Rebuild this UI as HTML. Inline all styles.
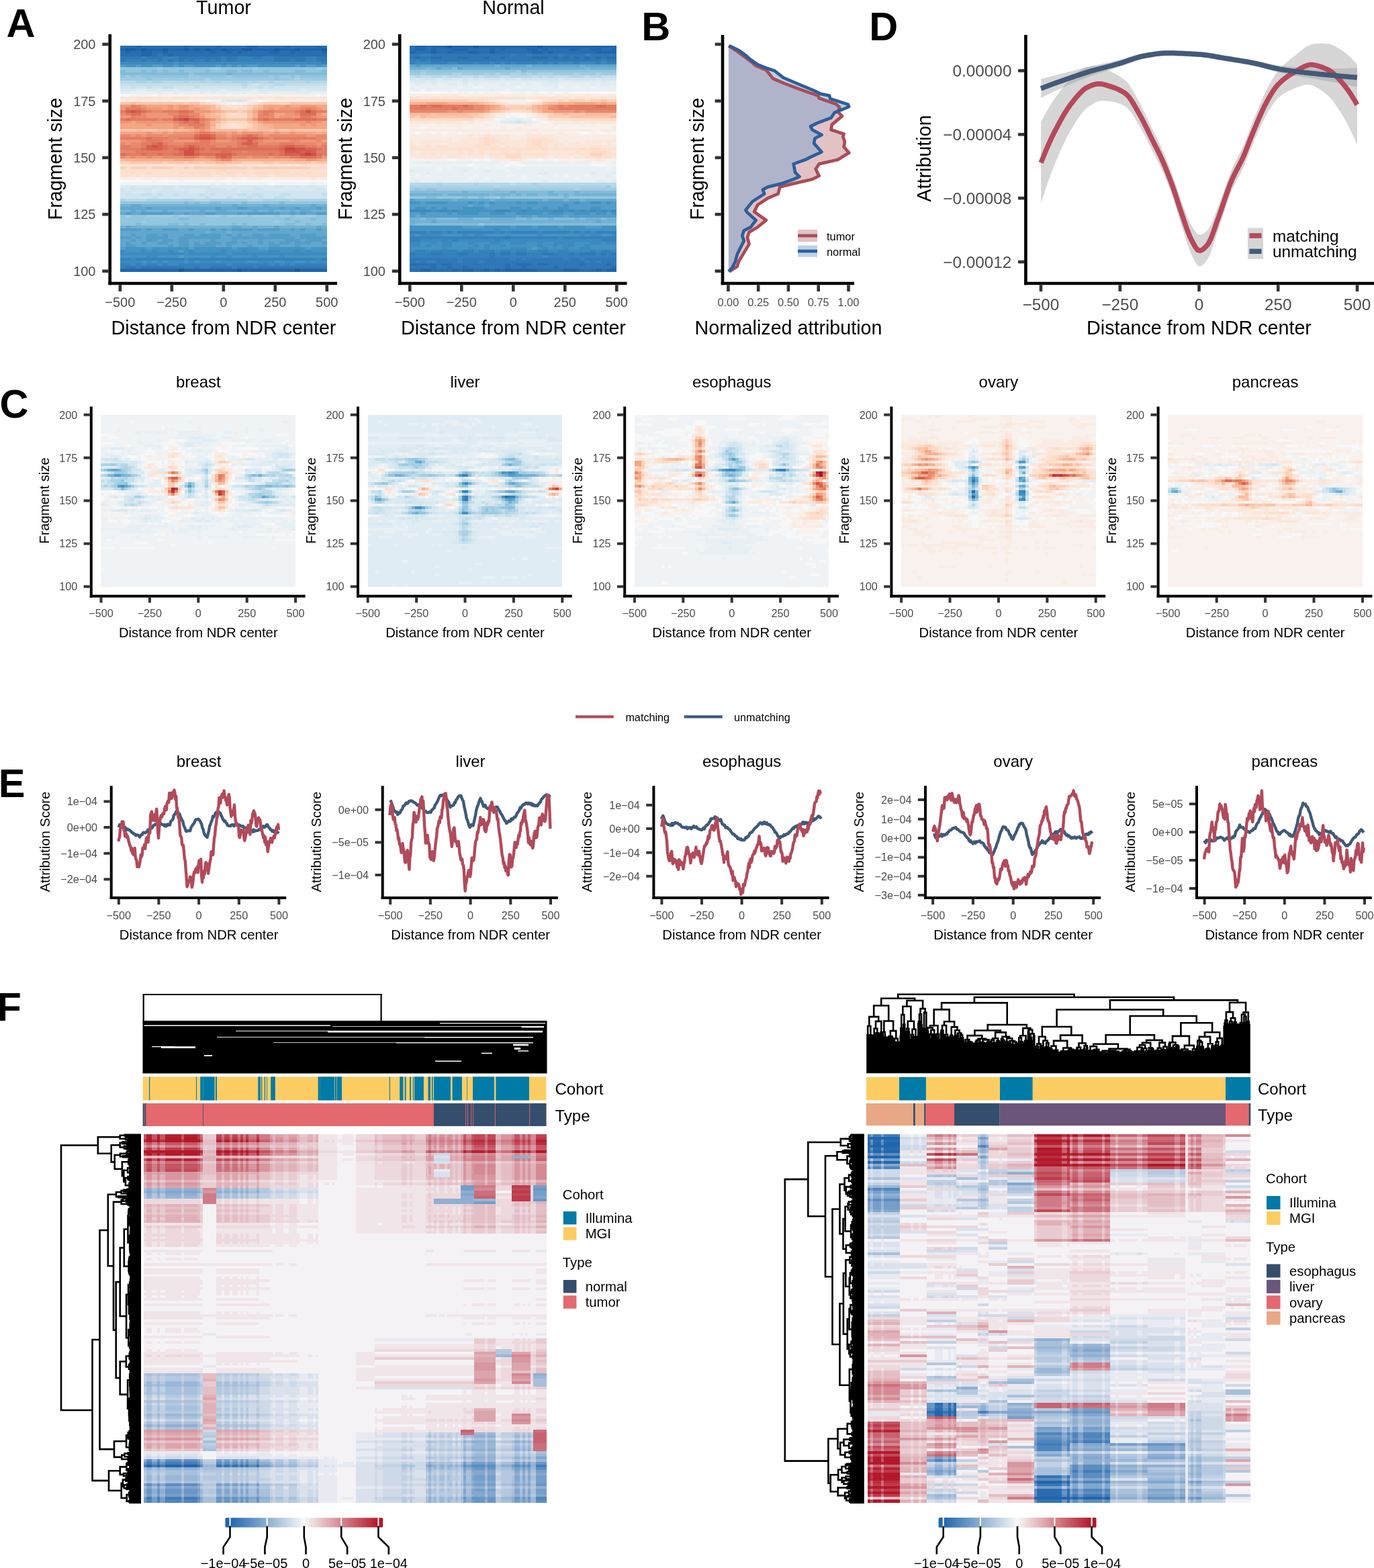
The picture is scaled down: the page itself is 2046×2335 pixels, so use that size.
<!DOCTYPE html><html><head><meta charset="utf-8"><title>Figure</title><style>html,body{margin:0;padding:0;background:#fff}svg{display:block}</style></head><body><svg width="2046" height="2335" viewBox="0 0 2046 2335" font-family="'Liberation Sans', Arial, Helvetica, sans-serif"><rect width="2046" height="2335" fill="#fff"/><g>
<rect x="179" y="68" width="308" height="337" fill="#92c5de"/>
<path stroke="#286fb1" stroke-width="4" d="M179 70h23M210 70h64M281 70h40M329 70h39M384 70h40M432 70h39M479 70h8M179 78h8M195 78h15M226 78h16M250 78h63M321 78h16M345 78h8M360 78h40M416 78h16M439 78h40M179 82h31M226 82h8M242 82h8M258 82h229"/>
<path stroke="#2166ac" stroke-width="4" d="M202 70h8M274 70h7M321 70h8M368 70h16M424 70h8M471 70h8M179 74h8M202 74h8M218 74h24M250 74h24M281 74h8M297 74h8M313 74h16M337 74h23M376 74h32M416 74h23M447 74h32M187 78h8M210 78h16M242 78h8M313 78h8M337 78h8M353 78h7M400 78h16M432 78h7M479 78h8M210 82h16M250 82h8"/>
<path stroke="#2166ac" stroke-width="5" d="M179 402.5h87M274 402.5h79M360 402.5h79M447 402.5h40"/>
<path stroke="#1b5b9d" stroke-width="4" d="M187 74h15M210 74h8M242 74h8M274 74h7M289 74h8M305 74h8M329 74h8M360 74h16M408 74h8M439 74h8M479 74h8"/>
<path stroke="#1b5b9d" stroke-width="5" d="M266 402.5h8M353 402.5h7M439 402.5h8"/>
<path stroke="#2f78b5" stroke-width="4" d="M234 82h8M179 86h31M218 86h24M266 86h63M337 86h16M376 86h16M408 86h47M471 86h16M179 90h8M210 90h8M234 90h8M250 90h8M266 90h8M281 90h8M305 90h8M321 90h8M337 90h16M408 90h24M439 90h16M471 90h16M187 398h15M210 398h64M289 398h8M313 398h32M353 398h23M384 398h103"/>
<path stroke="#3581ba" stroke-width="4" d="M210 86h8M242 86h24M329 86h8M353 86h23M392 86h16M455 86h16M187 90h23M218 90h16M242 90h8M258 90h8M274 90h7M289 90h16M313 90h8M329 90h8M353 90h55M432 90h7M455 90h16M479 94h8M179 386h16M202 386h72M281 386h190M479 386h8M179 394h16M202 394h8M218 394h16M242 394h8M266 394h71M345 394h55M408 394h8M424 394h8M439 394h48M179 398h8M202 398h8M274 398h15M297 398h16M345 398h8M376 398h8"/>
<path stroke="#3c8abe" stroke-width="4" d="M179 94h79M266 94h213M179 374h8M210 374h8M226 374h8M250 374h8M281 374h8M329 374h8M360 374h8M400 374h16M439 374h8M455 374h8M179 378h95M281 378h56M345 378h142M218 382h16M313 382h8M337 382h8M376 382h8M416 382h8M195 386h7M274 386h7M471 386h8M179 390h31M218 390h8M234 390h8M250 390h24M281 390h8M297 390h24M329 390h39M384 390h24M424 390h15M455 390h8M471 390h16M195 394h7M210 394h8M234 394h8M250 394h16M337 394h8M400 394h8M416 394h8M432 394h7"/>
<path stroke="#4393c3" stroke-width="4" d="M258 94h8M187 98h15M210 98h16M242 98h16M266 98h8M289 98h32M329 98h8M345 98h8M360 98h8M384 98h55M447 98h8M471 98h8M187 370h31M226 370h55M289 370h56M353 370h31M400 370h55M463 370h24M187 374h23M218 374h8M234 374h16M258 374h8M274 374h7M289 374h40M337 374h23M368 374h32M416 374h23M447 374h8M463 374h24M274 378h7M337 378h8M179 382h39M234 382h32M274 382h39M321 382h16M345 382h31M384 382h32M424 382h63M210 390h8M226 390h8M242 390h8M274 390h7M289 390h8M321 390h8M368 390h16M408 390h16M439 390h16M463 390h8"/>
<path stroke="#539dc8" stroke-width="4" d="M179 98h8M202 98h8M226 98h16M258 98h8M274 98h15M321 98h8M337 98h8M353 98h7M368 98h16M439 98h8M455 98h16M479 98h8M218 310h8M321 310h8M353 310h15M416 310h8M439 310h8M471 310h8M187 318h8M210 318h48M274 318h7M305 318h16M353 318h7M368 318h48M432 318h7M447 318h8M471 318h16M179 342h31M218 342h8M242 342h24M281 342h8M313 342h8M329 342h8M345 342h31M384 342h32M432 342h7M447 342h8M471 342h8M195 350h7M218 350h16M242 350h8M274 350h15M297 350h32M337 350h8M353 350h7M376 350h16M400 350h32M447 350h24M179 354h16M202 354h8M218 354h32M266 354h63M345 354h94M447 354h40M195 358h7M218 358h16M242 358h16M266 358h15M313 358h8M345 358h8M384 358h8M424 358h23M455 358h24M187 362h8M210 362h8M234 362h16M266 362h15M289 362h8M305 362h24M337 362h16M360 362h8M384 362h8M400 362h8M416 362h16M439 362h24M479 362h8M187 366h15M250 366h8M266 366h15M289 366h32M337 366h8M368 366h8M400 366h16M439 366h8M179 370h8M218 370h8M281 370h8M345 370h8M384 370h16M455 370h8M266 374h8M266 382h8"/>
<path stroke="#9fcbe2" stroke-width="4" d="M234 102h8M313 102h16M376 102h8M471 102h8M187 114h8M202 114h8M281 114h16M337 114h8M400 114h8M416 114h16M439 114h8M179 118h39M226 118h79M313 118h95M416 118h23M447 118h40M187 322h8M218 322h40M266 322h15M305 322h24M337 322h31M376 322h32M416 322h16M439 322h32M210 330h8M408 330h8"/>
<path stroke="#82bbd9" stroke-width="4" d="M179 106h8M210 106h8M226 106h8M242 106h8M266 106h8M305 106h8M337 106h16M360 106h16M392 106h8M439 106h16M479 106h8M179 110h102M289 110h48M345 110h142M274 302h7M289 302h8M313 302h16M360 302h8M416 302h8M266 326h15M424 326h8M463 326h8M439 330h8M202 334h8M250 334h16M274 334h7M297 334h8M345 334h8M360 334h8M424 334h15M455 334h8M479 334h8"/>
<path stroke="#72b1d3" stroke-width="4" d="M337 110h8M179 306h16M210 306h135M353 306h39M400 306h63M471 306h16M179 314h16M202 314h8M218 314h24M250 314h47M305 314h16M337 314h39M384 314h16M408 314h24M439 314h8M463 314h24M179 338h8M195 338h150M360 338h16M384 338h24M416 338h55M479 338h8M305 346h8M337 346h8"/>
<path stroke="#abd2e5" stroke-width="4" d="M305 118h8M439 118h8M202 122h16M226 122h16M274 122h7M297 122h8M321 122h8M345 122h23M376 122h8M400 122h8M455 122h8M179 298h8M218 298h71M313 298h55M392 298h40M439 298h48"/>
<path stroke="#b8d8e9" stroke-width="4" d="M179 122h23M218 122h8M242 122h32M281 122h16M305 122h16M329 122h16M368 122h8M384 122h16M408 122h47M463 122h24M360 126h8M408 126h16M187 298h31M289 298h24M368 298h24M432 298h7"/>
<path stroke="#c4dfec" stroke-width="4" d="M179 126h181M368 126h8M384 126h24M424 126h63M195 130h7M218 130h8M242 130h16M289 130h8M360 130h8M384 130h8M400 130h8M210 290h16M234 290h8M258 290h8M297 290h8M313 290h8M353 290h15M376 290h16M416 290h16M479 290h8M226 294h8M305 294h8M337 294h8M368 294h8M384 294h8M408 294h16"/>
<path stroke="#d1e5f0" stroke-width="4" d="M376 126h8M179 130h16M202 130h16M226 130h16M258 130h31M297 130h63M368 130h16M392 130h8M408 130h79M353 150h7M195 278h7M226 278h8M242 278h16M266 278h47M376 278h8M408 278h16M439 278h8M455 278h16M179 282h8M195 282h31M242 282h16M274 282h7M305 282h32M345 282h8M376 282h16M471 282h16M179 286h16M218 286h8M234 286h47M305 286h48M360 286h127M179 290h31M226 290h8M242 290h16M266 290h31M305 290h8M321 290h32M368 290h8M392 290h24M432 290h47M179 294h47M234 294h71M313 294h24M345 294h23M376 294h8M392 294h16M424 294h63"/>
<path stroke="#d9e9f1" stroke-width="4" d="M179 134h23M218 134h16M242 134h16M266 134h63M337 134h39M384 134h63M455 134h32M337 150h16M360 150h8M179 278h16M202 278h24M234 278h8M258 278h8M313 278h63M384 278h24M424 278h15M447 278h8M471 278h16M187 282h8M226 282h16M258 282h16M281 282h24M337 282h8M353 282h23M392 282h79M195 286h23M226 286h8M281 286h24M353 286h7"/>
<path stroke="#e0ecf3" stroke-width="4" d="M202 134h16M234 134h8M258 134h8M329 134h8M376 134h8M447 134h8M179 138h16M234 138h8M258 138h8M297 138h8M313 138h8M329 138h8M360 138h8M384 138h16M439 138h24M329 150h8"/>
<path stroke="#e8f0f4" stroke-width="4" d="M195 138h39M242 138h16M266 138h31M305 138h8M321 138h8M337 138h23M368 138h16M400 138h39M463 138h24M368 150h8M313 274h8M329 274h8M345 274h8M463 274h8"/>
<path stroke="#f7f7f7" stroke-width="4" d="M179 142h16M226 142h8M471 142h8M305 150h8M384 150h8M345 154h8M179 270h47M234 270h32M274 270h47M329 270h158M400 274h8"/>
<path stroke="#f8f1ed" stroke-width="4" d="M195 142h31M242 142h229M479 142h8M297 150h8M392 150h8M337 154h8M353 154h15M202 266h8M226 266h8M242 266h8M313 266h8M337 266h8M360 266h8M392 266h16M226 270h8M266 270h8M321 270h8"/>
<path stroke="#f9ece4" stroke-width="4" d="M234 142h8M179 150h8M195 150h7M210 150h24M242 150h8M258 150h39M400 150h87M329 154h8M179 266h23M210 266h16M234 266h8M250 266h63M321 266h16M345 266h15M368 266h24M408 266h55M471 266h16"/>
<path stroke="#fbe6da" stroke-width="4" d="M179 146h23M226 146h32M281 146h87M376 146h8M392 146h16M424 146h63M187 150h8M202 150h8M234 150h8M250 150h8M321 154h8M368 154h8M345 186h8M179 246h8M226 246h16M250 246h8M281 246h8M353 246h7M384 246h16M408 246h24M439 246h8M195 262h7M210 262h8M321 262h8M353 262h7M376 262h8M400 262h8M439 262h8M463 266h8"/>
<path stroke="#fce1d1" stroke-width="4" d="M202 146h24M258 146h23M368 146h8M384 146h8M408 146h16M313 154h8M376 154h8M337 158h23M345 162h8M345 170h8M337 186h8M353 186h7M337 190h23M187 246h39M242 246h8M258 246h23M289 246h32M337 246h16M360 246h24M400 246h8M432 246h7M447 246h40M179 254h142M337 254h71M416 254h71M179 258h16M202 258h16M226 258h40M274 258h7M289 258h8M313 258h8M329 258h8M353 258h7M368 258h8M400 258h8M432 258h7M447 258h8M463 258h24M179 262h16M202 262h8M218 262h103M329 262h24M360 262h16M384 262h16M408 262h31M447 262h40"/>
<path stroke="#eff3f6" stroke-width="4" d="M313 150h16M376 150h8M179 274h134M321 274h8M337 274h8M353 274h47M408 274h55M471 274h16"/>
<path stroke="#f9c5ab" stroke-width="4" d="M179 154h16M202 154h72M281 154h16M432 154h55M376 158h8M321 162h8M337 166h16M360 166h8M321 170h8M368 170h8M368 174h8M337 178h31M368 182h8M376 186h8M376 190h8M179 194h23M210 194h24M250 194h8M353 194h7M368 194h16M400 194h8M416 194h16M439 194h48M195 242h47M250 242h24M281 242h16M305 242h16M345 242h15M392 242h16M416 242h47M471 242h16"/>
<path stroke="#f8bb9e" stroke-width="4" d="M195 154h7M313 158h8M384 158h8M313 162h8M376 162h8M329 166h8M368 166h8M313 170h8M313 174h16M329 178h8M321 182h8M376 182h8M384 186h8M313 190h8M384 190h16M202 194h8M234 194h16M258 194h23M313 194h40M360 194h8M384 194h16M408 194h8M432 194h7M179 238h8M321 242h24"/>
<path stroke="#fbd0b9" stroke-width="4" d="M274 154h7M297 154h8M392 154h40M321 158h8M368 158h8M368 162h8M353 166h7M329 170h8M329 174h8M329 182h8M321 186h8M321 190h8M368 190h8M179 242h16M242 242h8M274 242h7M297 242h8M360 242h32M408 242h8M463 242h8M179 250h8M195 250h23M226 250h32M274 250h7M289 250h79M376 250h87"/>
<path stroke="#fddbc7" stroke-width="4" d="M305 154h8M384 154h8M329 158h8M360 158h8M329 162h16M353 162h15M337 170h8M353 170h15M337 174h31M337 182h31M329 186h8M360 186h16M329 190h8M360 190h8M321 246h16M187 250h8M218 250h8M258 250h16M281 250h8M368 250h8M463 250h24M321 254h16M408 254h8M195 258h7M218 258h8M266 258h8M281 258h8M297 258h16M321 258h8M337 258h16M360 258h8M376 258h24M408 258h24M439 258h8M455 258h8"/>
<path stroke="#ee9777" stroke-width="4" d="M179 158h16M210 158h8M250 158h8M266 158h15M424 158h8M447 158h24M179 162h8M218 162h24M250 162h8M266 162h15M289 162h8M400 162h8M416 162h31M471 162h8M289 166h24M218 170h32M424 170h15M471 170h8M179 174h16M218 174h40M297 174h8M416 174h31M471 174h16M313 178h8M376 178h8M179 182h16M202 182h56M305 182h8M392 182h63M463 182h16M218 186h8M258 186h8M305 186h8M447 186h8M463 186h8M258 190h8M274 190h15M305 190h8M297 194h8M218 198h8M242 198h8M258 198h31M321 198h16M345 198h8M360 198h32M408 198h8M432 198h7M195 202h7M210 202h8M242 202h8M337 202h8M392 202h8M455 202h16M179 210h31M258 210h31M321 210h24M392 210h40M447 210h24M187 214h8M471 214h8M187 234h8M202 234h16M226 234h16M297 234h8M368 234h8M400 234h8M479 234h8M321 238h8M455 238h16"/>
<path stroke="#e27c62" stroke-width="4" d="M195 158h7M187 162h23M455 162h8M179 166h8M218 166h8M242 166h24M281 166h8M392 166h16M439 166h8M471 166h16M187 170h8M266 170h15M392 170h8M195 174h7M258 174h8M281 174h8M447 174h16M179 178h8M195 178h39M242 178h16M297 178h8M384 178h8M400 178h39M471 178h16M266 182h8M281 182h8M281 186h24M289 190h8M297 198h16M360 202h8M376 202h8M179 206h39M226 206h24M266 206h23M321 206h16M345 206h8M392 206h8M408 206h63M218 210h24M297 210h16M353 210h15M376 210h8M210 214h16M242 214h8M274 214h39M353 214h7M416 214h23M179 218h16M210 218h8M250 218h24M297 218h24M337 218h8M353 218h15M384 218h32M455 218h16M479 218h8M179 222h31M250 222h8M305 222h8M479 222h8M202 226h64M297 226h32M345 226h15M368 226h48M471 226h16M187 230h23M218 230h16M242 230h16M353 230h47M408 230h8M479 230h8M274 234h15M432 234h15M471 234h8"/>
<path stroke="#e8896d" stroke-width="4" d="M202 158h8M210 162h8M447 162h8M463 162h8M226 166h16M384 166h8M408 166h31M179 170h8M210 170h8M250 170h16M281 170h16M384 170h8M400 170h8M439 170h8M202 174h16M289 174h8M384 174h24M463 174h8M234 178h8M305 178h8M258 182h8M297 182h8M455 182h8M266 186h15M297 190h8M289 198h8M313 198h8M179 202h16M202 202h8M218 202h24M250 202h39M321 202h16M345 202h15M384 202h8M400 202h55M471 202h16M250 206h16M337 206h8M400 206h8M471 206h16M210 210h8M242 210h16M289 210h8M313 210h8M345 210h8M384 210h8M432 210h15M471 210h8M179 214h8M195 214h15M250 214h24M313 214h40M384 214h32M439 214h32M479 214h8M195 218h15M321 218h16M345 218h8M471 218h8M179 226h23M360 226h8M179 234h8M195 234h7M218 234h8M242 234h32M289 234h8M305 234h16M345 234h23M376 234h24M408 234h24M329 238h16"/>
<path stroke="#f4a582" stroke-width="4" d="M218 158h32M258 158h8M281 158h8M392 158h32M432 158h15M471 158h16M242 162h8M258 162h8M281 162h8M297 162h8M392 162h8M408 162h8M479 162h8M313 166h8M376 166h8M297 170h8M408 170h16M479 170h8M408 174h8M195 182h7M384 182h8M479 182h8M179 186h39M226 186h32M408 186h39M455 186h8M471 186h16M179 190h79M266 190h8M408 190h79M289 194h8M305 194h8M179 198h39M226 198h16M250 198h8M337 198h8M353 198h7M392 198h16M416 198h16M439 198h32M479 198h8M479 210h8M258 238h31M313 238h8M345 238h8M439 238h16M471 238h8"/>
<path stroke="#f6b090" stroke-width="4" d="M289 158h24M305 162h8M384 162h8M321 166h8M305 170h8M376 170h8M305 174h8M376 174h8M321 178h8M368 178h8M313 182h8M313 186h8M392 186h16M400 190h8M281 194h8M471 198h8M187 238h71M289 238h24M353 238h86M479 238h8"/>
<path stroke="#d6604d" stroke-width="4" d="M187 166h8M202 166h8M258 178h8M281 178h16M297 202h16M289 206h8M313 206h8M360 206h24M368 210h8M234 214h8M360 214h16M218 218h8M234 218h8M281 218h8M424 218h15M218 222h24M266 222h15M289 222h8M416 222h8M455 222h16M447 226h8M463 226h8M289 230h8M321 230h24M424 230h23M329 234h8"/>
<path stroke="#cf5246" stroke-width="4" d="M195 166h7M455 166h8M266 178h8M297 206h16M226 218h8M281 222h8M439 222h16M274 226h15M424 226h23M455 226h8M274 230h15M447 230h8M463 230h8"/>
<path stroke="#dc6e58" stroke-width="4" d="M210 166h8M266 166h15M447 166h8M463 166h8M195 170h15M447 170h24M266 174h15M187 178h8M392 178h8M439 178h32M274 182h7M289 182h8M289 202h8M313 202h8M368 202h8M218 206h8M353 206h7M384 206h8M226 214h8M376 214h8M242 218h8M274 218h7M289 218h8M368 218h16M416 218h8M439 218h16M210 222h8M242 222h8M258 222h8M297 222h8M313 222h103M471 222h8M266 226h8M289 226h8M329 226h16M416 226h8M179 230h8M210 230h8M234 230h8M258 230h16M297 230h24M345 230h8M400 230h8M416 230h8M471 230h8M321 234h8M337 234h8M447 234h24"/>
<path stroke="#c8433f" stroke-width="4" d="M274 178h7M424 222h15M455 230h8"/>
<path stroke="#63a7ce" stroke-width="4" d="M195 306h15M345 306h8M392 306h8M463 306h8M179 310h39M226 310h95M329 310h24M368 310h48M424 310h15M447 310h24M479 310h8M195 314h7M210 314h8M242 314h8M297 314h8M321 314h16M376 314h8M400 314h8M432 314h7M447 314h16M179 318h8M195 318h15M258 318h16M281 318h24M321 318h32M360 318h8M416 318h16M439 318h8M455 318h16M187 338h8M345 338h15M376 338h8M408 338h8M471 338h8M210 342h8M226 342h16M266 342h15M289 342h24M321 342h8M337 342h8M376 342h8M416 342h16M439 342h8M455 342h16M479 342h8M179 346h126M313 346h24M345 346h142M179 350h16M202 350h16M234 350h8M250 350h24M289 350h8M329 350h8M345 350h8M360 350h16M392 350h8M432 350h15M471 350h16M195 354h7M210 354h8M250 354h16M329 354h16M439 354h8M179 358h16M202 358h16M234 358h8M258 358h8M281 358h32M321 358h24M353 358h31M392 358h32M447 358h8M479 358h8M179 362h8M195 362h15M218 362h16M250 362h16M281 362h8M297 362h8M329 362h8M353 362h7M368 362h16M392 362h8M408 362h8M432 362h7M463 362h16M179 366h8M202 366h48M258 366h8M281 366h8M321 366h16M345 366h23M376 366h24M416 366h23M447 366h40"/>
</g>
<path d="M163.7 51L163.7 424.3" stroke="#000" stroke-width="4.6"/>
<path d="M161.4 422L502 422" stroke="#000" stroke-width="4.6"/>
<path d="M152.3 65.9L161.4 65.9" stroke="#333" stroke-width="4.6"/>
<text x="142.5" y="73.1" font-size="20" text-anchor="end" fill="#4d4d4d">200</text>
<path d="M152.3 150.4L161.4 150.4" stroke="#333" stroke-width="4.6"/>
<text x="142.5" y="157.6" font-size="20" text-anchor="end" fill="#4d4d4d">175</text>
<path d="M152.3 234.8L161.4 234.8" stroke="#333" stroke-width="4.6"/>
<text x="142.5" y="242" font-size="20" text-anchor="end" fill="#4d4d4d">150</text>
<path d="M152.3 319.2L161.4 319.2" stroke="#333" stroke-width="4.6"/>
<text x="142.5" y="326.4" font-size="20" text-anchor="end" fill="#4d4d4d">125</text>
<path d="M152.3 403.7L161.4 403.7" stroke="#333" stroke-width="4.6"/>
<text x="142.5" y="410.9" font-size="20" text-anchor="end" fill="#4d4d4d">100</text>
<path d="M178.8 424.3L178.8 434" stroke="#333" stroke-width="4.6"/>
<text x="178.8" y="457" font-size="20" text-anchor="middle" fill="#4d4d4d">−500</text>
<path d="M255.8 424.3L255.8 434" stroke="#333" stroke-width="4.6"/>
<text x="255.8" y="457" font-size="20" text-anchor="middle" fill="#4d4d4d">−250</text>
<path d="M332.8 424.3L332.8 434" stroke="#333" stroke-width="4.6"/>
<text x="332.8" y="457" font-size="20" text-anchor="middle" fill="#4d4d4d">0</text>
<path d="M409.8 424.3L409.8 434" stroke="#333" stroke-width="4.6"/>
<text x="409.8" y="457" font-size="20" text-anchor="middle" fill="#4d4d4d">250</text>
<path d="M486.8 424.3L486.8 434" stroke="#333" stroke-width="4.6"/>
<text x="486.8" y="457" font-size="20" text-anchor="middle" fill="#4d4d4d">500</text>
<text x="333" y="497.6" font-size="28.7" text-anchor="middle">Distance from NDR center</text>
<text transform="translate(92.3 236.5) rotate(-90)" font-size="28.7" text-anchor="middle">Fragment size</text>
<text x="333" y="20.6" font-size="28.7" text-anchor="middle">Tumor</text>
<g>
<rect x="610" y="68" width="308" height="337" fill="#e8f0f4"/>
<path stroke="#286fb1" stroke-width="4" d="M610 70h8M634 70h8M610 74h8M634 74h8M650 74h23M697 74h32M737 74h8M752 74h32M800 74h8M816 74h31M863 74h16M895 74h15M618 78h24M650 78h16M673 78h24M713 78h16M737 78h55M808 78h8M824 78h63M618 86h8M642 86h16M681 86h16M721 86h8M745 86h7M792 86h24M824 86h7M839 86h8M855 86h8M871 86h8M887 86h8M903 86h15M610 394h40M658 394h15M752 394h8M768 394h24M800 394h16M863 394h8M903 394h7M642 398h8M666 398h7M689 398h8M752 398h8M776 398h8M824 398h7M910 398h8"/>
<path stroke="#286fb1" stroke-width="5" d="M610 402.5h16M642 402.5h31M681 402.5h8M705 402.5h16M729 402.5h8M745 402.5h7M800 402.5h39M863 402.5h24M895 402.5h8"/>
<path stroke="#2166ac" stroke-width="4" d="M618 70h16M642 70h24M673 70h32M713 70h87M808 70h110M618 74h16M642 74h8M673 74h24M729 74h8M745 74h7M784 74h16M808 74h8M847 74h16M879 74h16M910 74h8M610 78h8M642 78h8M666 78h7M697 78h16M729 78h8M792 78h16M816 78h8M887 78h31"/>
<path stroke="#2166ac" stroke-width="5" d="M626 402.5h16M673 402.5h8M689 402.5h16M721 402.5h8M737 402.5h8M752 402.5h48M839 402.5h24M887 402.5h8M903 402.5h15"/>
<path stroke="#1b5b9d" stroke-width="4" d="M666 70h7M705 70h8M800 70h8"/>
<path stroke="#2f78b5" stroke-width="4" d="M610 82h16M642 82h118M768 82h16M792 82h39M839 82h32M879 82h39M610 86h8M626 86h16M658 86h23M697 86h24M729 86h16M752 86h40M816 86h8M831 86h8M847 86h8M863 86h8M879 86h8M895 86h8M626 90h8M642 90h253M903 90h15M752 354h8M610 378h8M642 378h16M681 378h16M729 378h8M745 378h15M768 378h16M808 378h16M847 378h8M863 378h24M895 378h8M910 378h8M729 382h8M610 386h71M689 386h71M768 386h8M784 386h55M847 386h16M871 386h47M610 390h8M626 390h8M650 390h31M689 390h24M721 390h150M879 390h8M895 390h23M650 394h8M673 394h79M760 394h8M792 394h8M816 394h47M871 394h32M910 394h8M610 398h32M650 398h16M673 398h16M697 398h55M760 398h16M784 398h40M831 398h79"/>
<path stroke="#3581ba" stroke-width="4" d="M626 82h16M760 82h8M784 82h8M831 82h8M871 82h8M610 90h16M634 90h8M895 90h8M610 94h8M642 94h24M681 94h24M713 94h16M737 94h8M752 94h8M768 94h32M808 94h8M824 94h7M855 94h8M887 94h8M903 94h15M610 346h24M642 346h16M666 346h7M681 346h56M745 346h7M760 346h40M808 346h39M855 346h8M871 346h8M887 346h31M610 354h142M760 354h71M839 354h79M610 358h16M658 358h8M673 358h8M737 358h8M895 358h23M618 374h16M642 374h39M689 374h16M713 374h24M745 374h15M768 374h16M800 374h16M831 374h16M879 374h8M895 374h15M618 378h24M658 378h23M697 378h32M737 378h8M760 378h8M784 378h24M824 378h23M855 378h8M887 378h8M903 378h7M610 382h119M737 382h71M816 382h102M681 386h8M760 386h8M776 386h8M839 386h8M863 386h8M618 390h8M634 390h16M681 390h8M713 390h8M871 390h8M887 390h8"/>
<path stroke="#3c8abe" stroke-width="4" d="M618 94h24M666 94h15M705 94h8M729 94h8M745 94h7M760 94h8M800 94h8M816 94h8M831 94h24M863 94h24M895 94h8M610 314h32M650 314h16M673 314h8M737 314h23M776 314h8M824 314h15M847 314h8M863 314h8M879 314h8M895 314h8M910 314h8M737 342h8M634 346h8M658 346h8M673 346h8M737 346h8M752 346h8M800 346h8M847 346h8M863 346h8M879 346h8M610 350h8M626 350h32M689 350h8M705 350h16M800 350h8M863 350h8M879 350h16M910 350h8M831 354h8M626 358h32M666 358h7M681 358h56M745 358h150M610 362h16M642 362h8M658 362h15M697 362h8M729 362h16M760 362h24M800 362h8M824 362h31M879 362h16M903 362h15M610 366h16M634 366h8M658 366h15M705 366h8M721 366h8M745 366h7M800 366h8M824 366h7M839 366h16M871 366h8M658 370h8M697 370h8M721 370h8M760 370h24M808 370h8M839 370h8M863 370h16M610 374h8M634 374h8M681 374h8M705 374h8M737 374h8M760 374h8M784 374h16M816 374h15M847 374h32M887 374h8M910 374h8M808 382h8"/>
<path stroke="#63a7ce" stroke-width="4" d="M610 98h8M626 98h111M745 98h39M792 98h71M871 98h47M650 102h8M681 102h8M752 102h8M618 298h55M681 298h48M737 298h71M816 298h23M847 298h16M871 298h47M697 306h8M721 306h8M618 322h8M768 322h8M792 322h8M839 322h8M642 330h8M887 330h8"/>
<path stroke="#539dc8" stroke-width="4" d="M618 98h8M610 298h8M626 302h8M666 302h31M705 302h8M721 302h8M737 302h31M776 302h8M800 302h55M863 302h16M895 302h8M910 302h8M610 306h87M705 306h16M729 306h110M847 306h71M610 310h8M634 310h8M650 310h8M666 310h23M721 310h39M776 310h8M792 310h16M816 310h15M847 310h32M895 310h23M610 318h16M634 318h32M673 318h8M713 318h16M752 318h16M808 318h8M839 318h16M879 318h8M903 318h7M610 322h8M626 322h142M776 322h16M800 322h39M847 322h71M689 338h32M760 338h8M792 338h8M831 338h8M871 338h24M792 370h8"/>
<path stroke="#72b1d3" stroke-width="4" d="M737 98h8M784 98h8M863 98h8M610 102h24M642 102h8M658 102h15M689 102h63M760 102h111M879 102h39M689 286h8M760 286h8M816 286h8M855 286h8M610 290h48M666 290h63M737 290h23M768 290h8M784 290h16M816 290h15M839 290h8M855 290h63M673 298h8M729 298h8M808 298h8M839 298h8M863 298h8M610 326h16M634 326h16M681 326h24M729 326h39M784 326h8M816 326h8M855 326h8M871 326h24M903 326h15M610 330h32M650 330h237M895 330h23M610 334h8"/>
<path stroke="#82bbd9" stroke-width="4" d="M634 102h8M673 102h8M871 102h8M776 106h8M610 286h79M697 286h63M768 286h48M824 286h31M863 286h55M658 290h8M729 290h8M760 290h8M776 290h8M800 290h16M831 290h8M847 290h8M634 294h16M689 294h8M713 294h8M745 294h7M839 294h8M626 326h8M650 326h31M705 326h24M768 326h16M792 326h24M824 326h31M863 326h8M895 326h8M618 334h95M721 334h197"/>
<path stroke="#92c5de" stroke-width="4" d="M610 106h16M634 106h134M784 106h134M618 282h8M634 282h16M737 282h8M610 294h24M650 294h39M697 294h16M721 294h16M752 294h87M847 294h71M713 334h8"/>
<path stroke="#9fcbe2" stroke-width="4" d="M626 106h8M768 106h8M610 110h16M634 110h39M689 110h32M729 110h8M745 110h15M776 110h8M792 110h8M824 110h31M863 110h24M895 110h23M903 278h7M610 282h8M626 282h8M650 282h87M745 282h110M863 282h55M737 294h8"/>
<path stroke="#abd2e5" stroke-width="4" d="M626 110h8M673 110h16M721 110h8M737 110h8M760 110h16M784 110h8M800 110h24M855 110h8M887 110h8M650 274h8M705 274h8M792 274h8M610 278h127M745 278h158M855 282h8"/>
<path stroke="#c4dfec" stroke-width="4" d="M610 114h8M626 114h16M658 114h8M689 114h16M713 114h8M745 114h15M792 114h8M808 114h8M824 114h23M871 114h8M895 114h23M760 274h8"/>
<path stroke="#b8d8e9" stroke-width="4" d="M618 114h8M642 114h16M666 114h23M705 114h8M721 114h24M760 114h32M800 114h8M816 114h8M847 114h24M879 114h16M610 274h40M658 274h47M713 274h47M768 274h24M800 274h118M737 278h8M910 278h8"/>
<path stroke="#d1e5f0" stroke-width="4" d="M610 118h8M626 118h24M658 118h15M689 118h8M705 118h8M721 118h24M752 118h16M776 118h55M839 118h48M895 118h23M768 182h8"/>
<path stroke="#d9e9f1" stroke-width="4" d="M618 118h8M650 118h8M673 118h16M697 118h8M713 118h8M745 118h7M768 118h8M831 118h8M887 118h8M618 122h16M642 122h8M689 122h8M816 122h15M895 122h8M760 182h8M776 182h8"/>
<path stroke="#e0ecf3" stroke-width="4" d="M610 122h8M634 122h8M650 122h39M697 122h119M831 122h64M903 122h15M618 126h8M642 126h8M666 126h15M689 126h8M705 126h8M745 126h7M760 126h16M784 126h8M808 126h23M879 126h8M895 126h23M824 130h7M634 134h8M729 134h8M776 134h8M768 178h8M745 182h15M784 182h8M634 242h8M610 254h8M689 254h8M721 254h8M634 258h8M800 258h16M879 258h8M910 258h8M903 262h7M610 270h16M650 270h8M705 270h8M729 270h8M808 270h8M887 270h16M910 270h8"/>
<path stroke="#eff3f6" stroke-width="4" d="M618 130h8M681 130h8M705 130h16M768 130h8M831 130h8M855 130h8M879 130h8M626 134h8M673 134h8M752 134h8M666 138h7M681 138h16M705 138h8M721 138h24M760 138h24M792 138h8M816 138h8M839 138h8M752 150h32M760 174h8M745 178h7M729 182h16M800 182h8M745 242h15M768 242h8M847 242h8M879 242h31M610 246h87M705 246h47M760 246h8M784 246h95M903 246h15M650 250h8M666 250h7M705 250h8M721 250h8M737 250h15M768 250h8M903 250h7M650 254h8M752 254h8M618 262h8M634 262h8M705 262h8M752 262h16M776 262h8M800 262h8M824 262h7M839 262h8M871 262h8M697 266h8M721 266h8M776 266h8M855 266h8"/>
<path stroke="#f7f7f7" stroke-width="4" d="M610 138h56M673 138h8M697 138h8M713 138h8M745 138h15M784 138h8M800 138h16M824 138h15M847 138h71M784 150h8M760 170h24M752 174h8M768 174h16M737 178h8M792 178h8M808 182h8M626 190h8M824 190h7M618 198h8M642 198h8M658 198h8M681 198h8M863 198h16M887 198h16M910 198h8M666 238h15M705 238h8M721 238h8M800 238h8M824 238h7M760 242h8M697 246h8M752 246h8M768 246h16M879 246h24"/>
<path stroke="#f9ece4" stroke-width="4" d="M610 142h63M681 142h8M697 142h87M792 142h24M824 142h47M879 142h39M737 150h8M800 150h8M760 154h24M737 170h15M792 170h8M737 174h15M792 174h8M729 178h8M808 178h8M689 182h8M705 182h16M824 182h31M863 182h8M610 186h16M650 186h8M666 186h23M721 186h8M776 186h16M808 186h8M824 186h7M863 186h8M879 186h8M681 190h8M745 190h7M768 190h8M910 190h8M610 194h182M800 194h87M895 194h23M721 198h8M784 198h8M800 198h8M831 198h8M610 202h48M666 202h31M705 202h8M760 202h24M824 202h94M610 206h56M673 206h16M760 206h16M831 206h87M618 210h8M673 210h8M831 210h8M847 210h24M618 214h8M642 214h24M839 214h8M863 214h8M895 214h8M910 214h8M618 226h8M610 234h8M658 234h8M689 234h8M721 234h8M816 234h8M847 234h8M737 238h23M776 238h8M871 238h16M895 238h8"/>
<path stroke="#fbe6da" stroke-width="4" d="M673 142h8M871 142h8M626 146h8M784 146h16M831 146h8M847 146h8M871 146h8M903 146h7M729 150h8M752 154h8M784 154h8M800 174h8M705 178h24M610 182h79M697 182h8M855 182h8M871 182h47M792 194h8M697 202h8M713 202h8M729 202h31M784 202h40M666 206h7M689 206h24M737 206h23M776 206h16M816 206h15M610 210h8M626 210h47M681 210h32M745 210h39M824 210h7M839 210h8M871 210h47M610 214h8M626 214h16M666 214h47M737 214h8M752 214h32M816 214h23M847 214h16M871 214h24M903 214h7M618 218h16M642 218h8M666 218h39M745 218h7M760 218h24M816 218h8M831 218h48M895 218h23M705 222h8M610 226h8M626 226h55M689 226h8M705 226h8M721 226h24M760 226h8M776 226h79M863 226h8M910 226h8M610 230h16M634 230h8M650 230h31M689 230h8M705 230h8M721 230h8M816 230h31M855 230h8M618 234h40M666 234h23M697 234h24M729 234h23M776 234h40M824 234h23M855 234h16M910 234h8M760 238h16M887 238h8"/>
<path stroke="#f8f1ed" stroke-width="4" d="M689 142h8M784 142h8M816 142h8M745 150h7M792 150h8M752 170h8M784 170h8M784 174h8M800 178h8M721 182h8M816 182h8M626 186h24M658 186h8M689 186h32M729 186h47M792 186h16M816 186h8M831 186h32M871 186h8M887 186h31M610 190h16M634 190h47M689 190h56M752 190h16M776 190h48M831 190h79M887 194h8M610 198h8M626 198h16M650 198h8M666 198h15M689 198h32M729 198h55M792 198h8M808 198h23M839 198h24M879 198h8M903 198h7M658 202h8M610 238h56M681 238h24M713 238h8M729 238h8M784 238h16M808 238h16M831 238h40M903 238h15"/>
<path stroke="#fce1d1" stroke-width="4" d="M610 146h16M634 146h150M800 146h31M839 146h8M855 146h16M879 146h24M910 146h8M721 150h8M808 150h16M745 154h7M792 154h8M760 166h16M729 170h8M800 170h8M729 174h8M808 174h8M816 178h31M721 202h8M713 206h8M729 206h8M792 206h24M713 210h8M737 210h8M784 210h8M808 210h16M713 214h8M729 214h8M745 214h7M784 214h8M808 214h8M610 218h8M634 218h8M650 218h16M705 218h40M752 218h8M784 218h16M808 218h8M824 218h7M879 218h16M610 222h95M713 222h16M737 222h71M816 222h47M871 222h8M895 222h23M681 226h8M697 226h8M713 226h8M745 226h15M768 226h8M855 226h8M871 226h8M903 226h7M626 230h8M642 230h8M681 230h8M697 230h8M713 230h8M729 230h23M776 230h40M847 230h8M863 230h16M903 230h15M871 234h16M895 234h15"/>
<path stroke="#fbd0b9" stroke-width="4" d="M610 150h87M831 150h8M847 150h24M879 150h16M903 150h15M729 154h8M752 158h40M760 162h24M745 166h7M713 170h8M816 170h8M618 174h8M705 174h16M816 174h31M879 230h16"/>
<path stroke="#fddbc7" stroke-width="4" d="M697 150h24M824 150h7M839 150h8M871 150h8M737 154h8M800 154h8M752 166h8M776 166h16M721 170h8M808 170h8M721 174h8M610 178h95M847 178h71M721 206h8M721 210h16M792 210h16M721 214h8M792 214h16M800 218h8M729 222h8M808 222h8M863 222h8M879 222h16M879 226h24M752 230h24M895 230h8M752 234h24M887 234h8"/>
<path stroke="#f9c5ab" stroke-width="4" d="M895 150h8M721 154h8M808 154h8M745 158h7M752 162h8M784 162h8M737 166h8M792 166h8M642 170h8M697 170h16M824 170h15M847 170h24M910 170h8M610 174h8M634 174h71M847 174h63"/>
<path stroke="#f6b090" stroke-width="4" d="M610 154h24M666 154h47M831 154h24M887 154h8M903 154h15M737 158h8M800 158h8M737 162h8M800 162h8"/>
<path stroke="#f4a582" stroke-width="4" d="M634 154h32M855 154h32M895 154h8M729 158h8M808 158h8M729 162h8M808 162h8M721 166h8M808 166h16"/>
<path stroke="#f8bb9e" stroke-width="4" d="M713 154h8M816 154h15M792 158h8M745 162h7M792 162h8M729 166h8M800 166h8M610 170h32M650 170h47M839 170h8M871 170h39M626 174h8M910 174h8"/>
<path stroke="#e27c62" stroke-width="4" d="M610 158h16M634 158h8M658 158h31M697 158h8M831 158h8M847 158h40M903 158h15M610 162h63M681 162h24M831 162h87"/>
<path stroke="#dc6e58" stroke-width="4" d="M626 158h8M642 158h16M689 158h8M887 158h16M673 162h8"/>
<path stroke="#e8896d" stroke-width="4" d="M705 158h16M824 158h7M839 158h8M705 162h16M816 162h15M610 166h56M681 166h8M855 166h8M871 166h47"/>
<path stroke="#ee9777" stroke-width="4" d="M721 158h8M816 158h8M721 162h8M666 166h15M689 166h32M824 166h31M863 166h8"/>
<path stroke="#4393c3" stroke-width="4" d="M610 302h16M634 302h32M697 302h8M713 302h8M729 302h8M768 302h8M784 302h16M855 302h8M879 302h16M903 302h7M839 306h8M618 310h16M642 310h8M658 310h8M689 310h32M760 310h16M784 310h8M808 310h8M831 310h16M879 310h16M642 314h8M666 314h7M681 314h56M760 314h16M784 314h40M839 314h8M855 314h8M871 314h8M887 314h8M903 314h7M626 318h8M666 318h7M681 318h32M729 318h23M768 318h40M816 318h23M855 318h24M887 318h16M910 318h8M610 338h79M721 338h39M768 338h24M800 338h31M839 338h32M895 338h23M610 342h127M745 342h173M618 350h8M658 350h31M697 350h8M721 350h79M808 350h55M871 350h8M895 350h15M626 362h16M650 362h8M673 362h24M705 362h24M745 362h15M784 362h16M808 362h16M855 362h24M895 362h8M626 366h8M642 366h16M673 366h32M713 366h8M729 366h16M752 366h48M808 366h16M831 366h8M855 366h16M879 366h39M610 370h48M666 370h31M705 370h16M729 370h31M784 370h8M800 370h8M816 370h23M847 370h16M879 370h39"/>
</g>
<path d="M595.2 51L595.2 424.3" stroke="#000" stroke-width="4.6"/>
<path d="M592.9 422L933.5 422" stroke="#000" stroke-width="4.6"/>
<path d="M583.8 65.9L592.9 65.9" stroke="#333" stroke-width="4.6"/>
<text x="574" y="73.1" font-size="20" text-anchor="end" fill="#4d4d4d">200</text>
<path d="M583.8 150.4L592.9 150.4" stroke="#333" stroke-width="4.6"/>
<text x="574" y="157.6" font-size="20" text-anchor="end" fill="#4d4d4d">175</text>
<path d="M583.8 234.8L592.9 234.8" stroke="#333" stroke-width="4.6"/>
<text x="574" y="242" font-size="20" text-anchor="end" fill="#4d4d4d">150</text>
<path d="M583.8 319.2L592.9 319.2" stroke="#333" stroke-width="4.6"/>
<text x="574" y="326.4" font-size="20" text-anchor="end" fill="#4d4d4d">125</text>
<path d="M583.8 403.7L592.9 403.7" stroke="#333" stroke-width="4.6"/>
<text x="574" y="410.9" font-size="20" text-anchor="end" fill="#4d4d4d">100</text>
<path d="M610.3 424.3L610.3 434" stroke="#333" stroke-width="4.6"/>
<text x="610.3" y="457" font-size="20" text-anchor="middle" fill="#4d4d4d">−500</text>
<path d="M687.3 424.3L687.3 434" stroke="#333" stroke-width="4.6"/>
<text x="687.3" y="457" font-size="20" text-anchor="middle" fill="#4d4d4d">−250</text>
<path d="M764.3 424.3L764.3 434" stroke="#333" stroke-width="4.6"/>
<text x="764.3" y="457" font-size="20" text-anchor="middle" fill="#4d4d4d">0</text>
<path d="M841.3 424.3L841.3 434" stroke="#333" stroke-width="4.6"/>
<text x="841.3" y="457" font-size="20" text-anchor="middle" fill="#4d4d4d">250</text>
<path d="M918.3 424.3L918.3 434" stroke="#333" stroke-width="4.6"/>
<text x="918.3" y="457" font-size="20" text-anchor="middle" fill="#4d4d4d">500</text>
<text x="764.5" y="497.6" font-size="28.7" text-anchor="middle">Distance from NDR center</text>
<text transform="translate(523.8 236.5) rotate(-90)" font-size="28.7" text-anchor="middle">Fragment size</text>
<text x="764.5" y="20.6" font-size="28.7" text-anchor="middle">Normal</text>
<text x="9.5" y="54.6" font-size="59.5" font-weight="bold">A</text>
<path d="M1084.9 68.2 1084.9 68.2 1097.7 76.3 1107.8 83.9 1118 91.5 1125.6 97.9 1140.9 104.3 1151.1 117 1168.9 124.6 1189.2 132.2 1207 138.6 1218.4 142.4 1219.7 146.2 1245.1 155.1 1250.2 159.7 1247.7 166.6 1254 172.9 1238.8 185.6 1237.5 193.3 1256.6 199.6 1255.3 203.4 1257.9 211.1 1256.6 218.7 1264.2 227.6 1247.7 237.8 1219.7 244.1 1214.6 251.7 1219.7 261.9 1209.5 267 1181.6 273.4 1161.2 278.4 1158.7 288.6 1143.4 295 1128.2 305.1 1123.1 315.3 1140.9 328 1128.2 338.2 1115.5 345.8 1112.9 353.5 1115.5 363.6 1107.8 376.4 1100.2 389.1 1097.7 396.7 1086.2 404.3 1084.9 404.3Z" fill="#e2c2c5"/>
<path d="M1084.9 68.2 1086.2 68.2 1100.2 75 1109.1 81.4 1118 89 1128.2 96.1 1140.9 101.2 1153.6 105.5 1166.3 115.7 1191.7 126.4 1212.1 134.8 1222.3 139.9 1235 142.4 1236.2 147 1262.9 155.6 1264.2 158.9 1255.3 162.7 1242.6 167.8 1237.5 175.5 1217.2 183.1 1207 188.2 1209.5 193.3 1223.5 200.9 1213.4 206 1212.1 213.6 1223.5 226.3 1207 233.9 1199.4 237.8 1181.6 244.1 1184.1 256.8 1190.5 263.2 1181.6 267 1163.8 273.4 1143.4 278.4 1135.8 282.3 1138.3 288.6 1120.5 300.1 1110.4 312.8 1112.9 316.6 1125.6 328 1118 338.2 1107.8 343.3 1105.3 350.9 1107.8 358.6 1102.7 368.7 1097.7 378.9 1095.1 389.1 1090 399.2 1084.9 404.3 1084.9 404.3Z" fill="#7ca6d1" fill-opacity="0.5"/>
<path d="M1084.9 68.2 1097.7 76.3 1107.8 83.9 1118 91.5 1125.6 97.9 1140.9 104.3 1151.1 117 1168.9 124.6 1189.2 132.2 1207 138.6 1218.4 142.4 1219.7 146.2 1245.1 155.1 1250.2 159.7 1247.7 166.6 1254 172.9 1238.8 185.6 1237.5 193.3 1256.6 199.6 1255.3 203.4 1257.9 211.1 1256.6 218.7 1264.2 227.6 1247.7 237.8 1219.7 244.1 1214.6 251.7 1219.7 261.9 1209.5 267 1181.6 273.4 1161.2 278.4 1158.7 288.6 1143.4 295 1128.2 305.1 1123.1 315.3 1140.9 328 1128.2 338.2 1115.5 345.8 1112.9 353.5 1115.5 363.6 1107.8 376.4 1100.2 389.1 1097.7 396.7 1086.2 404.3" fill="none" stroke="#a84c58" stroke-width="4.7" stroke-linejoin="round"/>
<path d="M1086.2 68.2 1100.2 75 1109.1 81.4 1118 89 1128.2 96.1 1140.9 101.2 1153.6 105.5 1166.3 115.7 1191.7 126.4 1212.1 134.8 1222.3 139.9 1235 142.4 1236.2 147 1262.9 155.6 1264.2 158.9 1255.3 162.7 1242.6 167.8 1237.5 175.5 1217.2 183.1 1207 188.2 1209.5 193.3 1223.5 200.9 1213.4 206 1212.1 213.6 1223.5 226.3 1207 233.9 1199.4 237.8 1181.6 244.1 1184.1 256.8 1190.5 263.2 1181.6 267 1163.8 273.4 1143.4 278.4 1135.8 282.3 1138.3 288.6 1120.5 300.1 1110.4 312.8 1112.9 316.6 1125.6 328 1118 338.2 1107.8 343.3 1105.3 350.9 1107.8 358.6 1102.7 368.7 1097.7 378.9 1095.1 389.1 1090 399.2 1084.9 404.3" fill="none" stroke="#2f5e9a" stroke-width="4.7" stroke-linejoin="round"/>
<path d="M1076 52L1076 424.3" stroke="#000" stroke-width="4.6"/>
<path d="M1073.7 422L1272 422" stroke="#000" stroke-width="4.6"/>
<path d="M1064.6 65.9L1073.7 65.9" stroke="#333" stroke-width="4.6"/>
<path d="M1064.6 150.4L1073.7 150.4" stroke="#333" stroke-width="4.6"/>
<path d="M1064.6 234.8L1073.7 234.8" stroke="#333" stroke-width="4.6"/>
<path d="M1064.6 319.2L1073.7 319.2" stroke="#333" stroke-width="4.6"/>
<path d="M1064.6 403.7L1073.7 403.7" stroke="#333" stroke-width="4.6"/>
<path d="M1084.4 424.3L1084.4 434" stroke="#333" stroke-width="4.6"/>
<text x="1084.4" y="455.8" font-size="16.4" text-anchor="middle" fill="#4d4d4d">0.00</text>
<path d="M1129.2 424.3L1129.2 434" stroke="#333" stroke-width="4.6"/>
<text x="1129.2" y="455.8" font-size="16.4" text-anchor="middle" fill="#4d4d4d">0.25</text>
<path d="M1174 424.3L1174 434" stroke="#333" stroke-width="4.6"/>
<text x="1174" y="455.8" font-size="16.4" text-anchor="middle" fill="#4d4d4d">0.50</text>
<path d="M1218.7 424.3L1218.7 434" stroke="#333" stroke-width="4.6"/>
<text x="1218.7" y="455.8" font-size="16.4" text-anchor="middle" fill="#4d4d4d">0.75</text>
<path d="M1263.5 424.3L1263.5 434" stroke="#333" stroke-width="4.6"/>
<text x="1263.5" y="455.8" font-size="16.4" text-anchor="middle" fill="#4d4d4d">1.00</text>
<text x="1174" y="497.6" font-size="28.7" text-anchor="middle">Normalized attribution</text>
<text transform="translate(1048.3 236.5) rotate(-90)" font-size="28.7" text-anchor="middle">Fragment size</text>
<rect x="1188" y="342" width="29" height="18" fill="#e2c2c5"/>
<path d="M1188 351L1217 351" stroke="#a84c58" stroke-width="4.7"/>
<rect x="1188" y="365.4" width="29" height="17.3" fill="#7ca6d1" fill-opacity="0.5"/>
<path d="M1188 374L1217 374" stroke="#2f5e9a" stroke-width="4.7"/>
<text x="1231" y="357.8" font-size="16.4">tumor</text>
<text x="1231" y="380.8" font-size="16.4">normal</text>
<text x="955.3" y="59.8" font-size="59.5" font-weight="bold">B</text>
<path d="M1550.1 181.8 1554.1 174.3 1558 167 1562 160.1 1565.9 153.6 1569.9 147.5 1573.9 141.9 1577.8 136.4 1581.8 131.1 1585.7 126.1 1589.7 121.5 1593.6 117.5 1597.6 114 1601.5 110.5 1605.5 107.2 1609.5 104.2 1613.4 101.8 1617.4 100.1 1621.3 99.3 1625.3 98.7 1629.2 98.3 1633.2 98.4 1637.2 99.1 1641.1 100.4 1645.1 102 1649 104 1653 106 1656.9 107.9 1660.9 110 1664.8 112.2 1668.8 114.7 1672.8 117.5 1676.7 120.7 1680.7 125.1 1684.6 130.9 1688.6 137.7 1692.5 145 1696.5 152.2 1700.4 159.6 1704.4 167.7 1708.4 176 1712.3 184.5 1716.3 192.8 1720.2 200.8 1724.2 208.6 1728.1 216.8 1732.1 225.7 1736.1 235.3 1740 245.3 1744 255.6 1747.9 266.4 1751.9 278 1755.8 289.7 1759.8 300.9 1763.7 311.4 1767.7 321.8 1771.7 331 1775.6 337.9 1779.6 344.4 1783.5 349.1 1787.5 349.9 1791.4 348.1 1795.4 345.2 1799.3 341.6 1803.3 334.8 1807.3 325.2 1811.2 314.5 1815.2 304.3 1819.1 293.8 1823.1 282.5 1827 271.2 1831 260.3 1835 250.6 1838.9 242.2 1842.9 234.6 1846.8 227.1 1850.8 218.7 1854.7 209.2 1858.7 198.9 1862.6 188.4 1866.6 178.4 1870.6 168.8 1874.5 159.2 1878.5 149.9 1882.4 141.1 1886.4 133 1890.3 125.7 1894.3 118.7 1898.2 112.3 1902.2 106.8 1906.2 102.3 1910.1 98.2 1914.1 94.4 1918 90.9 1922 87.6 1925.9 84.5 1929.9 81.4 1933.9 78.2 1937.8 74.9 1941.8 71.8 1945.7 69.2 1949.7 67.2 1953.6 65.9 1957.6 65.2 1961.5 64.8 1965.5 64.7 1969.5 64.8 1973.4 65 1977.4 65.3 1981.3 66.1 1985.3 67.6 1989.2 69.6 1993.2 72 1997.2 74.5 2001.1 77.1 2005.1 80 2009 83.5 2013 87.3 2016.9 91.5 2020.9 96 2020.9 215.9 2016.9 206.7 2013 198 2009 189.8 2005.1 182.1 2001.1 175.2 1997.2 168.7 1993.2 162.4 1989.2 156.5 1985.3 151.1 1981.3 146.3 1977.4 142.3 1973.4 139.1 1969.5 136.1 1965.5 133.2 1961.5 130.7 1957.6 128.6 1953.6 127 1949.7 126 1945.7 125.9 1941.8 126.6 1937.8 127.8 1933.9 129.2 1929.9 130.8 1925.9 132.3 1922 133.9 1918 135.8 1914.1 138 1910.1 140.5 1906.2 143.5 1902.2 147 1898.2 151.5 1894.3 156.9 1890.3 163.1 1886.4 169.7 1882.4 177 1878.5 185.2 1874.5 194 1870.6 203 1866.6 212.1 1862.6 221.7 1858.7 231.8 1854.7 241.8 1850.8 251 1846.8 259.1 1842.9 266.5 1838.9 273.9 1835 282.2 1831 292.1 1827 303.2 1823.1 315.1 1819.1 327.3 1815.2 339 1811.2 350.8 1807.3 363.5 1803.3 375.3 1799.3 384.3 1795.4 389.9 1791.4 394.3 1787.5 396.8 1783.5 395.9 1779.6 390.3 1775.6 382.2 1771.7 373.3 1767.7 361.9 1763.7 349.3 1759.8 336.9 1755.8 324.1 1751.9 311.2 1747.9 298.9 1744 287.6 1740 277 1736.1 266.9 1732.1 257.4 1728.1 248.6 1724.2 240.6 1720.2 233.1 1716.3 225.4 1712.3 217.5 1708.4 209.4 1704.4 201.5 1700.4 193.9 1696.5 187.1 1692.5 180.4 1688.6 173.8 1684.6 167.7 1680.7 162.7 1676.7 159.1 1672.8 156.9 1668.8 155 1664.8 153.6 1660.9 152.6 1656.9 151.8 1653 151.1 1649 150.6 1645.1 150.2 1641.1 150.1 1637.2 150.5 1633.2 151.6 1629.2 153.5 1625.3 155.9 1621.3 158.6 1617.4 161.7 1613.4 165.8 1609.5 170.7 1605.5 176.3 1601.5 182.3 1597.6 188.7 1593.6 195.2 1589.7 202.4 1585.7 210.2 1581.8 218.7 1577.8 227.6 1573.9 236.8 1569.9 246.4 1565.9 256.6 1562 267.3 1558 278.6 1554.1 290.4 1550.1 302.7Z" fill="#999" fill-opacity="0.4"/>
<path d="M1550.1 117.4 1554.1 116.4 1558 115.4 1562 114.4 1565.9 113.4 1569.9 112.4 1573.9 111.4 1577.8 110.4 1581.8 109.4 1585.7 108.4 1589.7 107.4 1593.6 106.4 1597.6 105.3 1601.5 104.3 1605.5 103.3 1609.5 102.3 1613.4 101.3 1617.4 100.3 1621.3 99.4 1625.3 98.4 1629.2 97.5 1633.2 96.7 1637.2 95.8 1641.1 95 1645.1 94.1 1649 93.3 1653 92.4 1656.9 91.5 1660.9 90.6 1664.8 89.6 1668.8 88.6 1672.8 87.4 1676.7 86.2 1680.7 85 1684.6 83.7 1688.6 82.5 1692.5 81.4 1696.5 80.3 1700.4 79.4 1704.4 78.7 1708.4 78 1712.3 77.4 1716.3 76.8 1720.2 76.2 1724.2 75.7 1728.1 75.3 1732.1 75 1736.1 74.9 1740 74.9 1744 74.9 1747.9 75 1751.9 75.2 1755.8 75.3 1759.8 75.5 1763.7 75.7 1767.7 75.9 1771.7 76.1 1775.6 76.3 1779.6 76.6 1783.5 76.8 1787.5 77.1 1791.4 77.5 1795.4 77.9 1799.3 78.5 1803.3 79.1 1807.3 79.7 1811.2 80.4 1815.2 81.1 1819.1 81.8 1823.1 82.5 1827 83.1 1831 83.7 1835 84.3 1838.9 84.9 1842.9 85.5 1846.8 86.2 1850.8 86.8 1854.7 87.4 1858.7 88.1 1862.6 88.8 1866.6 89.5 1870.6 90.2 1874.5 91 1878.5 91.9 1882.4 92.8 1886.4 93.8 1890.3 94.7 1894.3 95.5 1898.2 96.3 1902.2 97.1 1906.2 97.7 1910.1 98.2 1914.1 98.7 1918 99.1 1922 99.5 1925.9 99.8 1929.9 100.1 1933.9 100.4 1937.8 100.6 1941.8 100.9 1945.7 101.1 1949.7 101.3 1953.6 101.5 1957.6 101.6 1961.5 101.8 1965.5 101.9 1969.5 101.9 1973.4 102 1977.4 102.1 1981.3 102.1 1985.3 102.1 1989.2 102.1 1993.2 102.1 1997.2 102 2001.1 101.9 2005.1 101.9 2009 101.7 2013 101.6 2016.9 101.5 2020.9 101.3 2020.9 129.6 2016.9 128.8 2013 128 2009 127.2 2005.1 126.4 2001.1 125.6 1997.2 124.8 1993.2 124.1 1989.2 123.3 1985.3 122.6 1981.3 121.8 1977.4 121.1 1973.4 120.4 1969.5 119.7 1965.5 119 1961.5 118.3 1957.6 117.6 1953.6 116.9 1949.7 116.2 1945.7 115.6 1941.8 114.9 1937.8 114.2 1933.9 113.5 1929.9 112.9 1925.9 112.2 1922 111.5 1918 110.8 1914.1 110 1910.1 109.3 1906.2 108.5 1902.2 107.6 1898.2 106.6 1894.3 105.6 1890.3 104.5 1886.4 103.4 1882.4 102.3 1878.5 101.3 1874.5 100.2 1870.6 99.3 1866.6 98.4 1862.6 97.6 1858.7 96.8 1854.7 96 1850.8 95.3 1846.8 94.6 1842.9 93.9 1838.9 93.3 1835 92.6 1831 92 1827 91.3 1823.1 90.6 1819.1 90 1815.2 89.2 1811.2 88.5 1807.3 87.8 1803.3 87.2 1799.3 86.6 1795.4 86 1791.4 85.6 1787.5 85.2 1783.5 84.9 1779.6 84.7 1775.6 84.4 1771.7 84.2 1767.7 84 1763.7 83.8 1759.8 83.6 1755.8 83.4 1751.9 83.3 1747.9 83.2 1744 83.2 1740 83.1 1736.1 83.2 1732.1 83.3 1728.1 83.7 1724.2 84.1 1720.2 84.7 1716.3 85.4 1712.3 86.1 1708.4 86.9 1704.4 87.6 1700.4 88.5 1696.5 89.5 1692.5 90.7 1688.6 92 1684.6 93.4 1680.7 94.9 1676.7 96.3 1672.8 97.8 1668.8 99.2 1664.8 100.5 1660.9 101.8 1656.9 103 1653 104.2 1649 105.4 1645.1 106.6 1641.1 107.8 1637.2 109.1 1633.2 110.3 1629.2 111.6 1625.3 113 1621.3 114.4 1617.4 115.9 1613.4 117.4 1609.5 119 1605.5 120.6 1601.5 122.2 1597.6 123.9 1593.6 125.6 1589.7 127.3 1585.7 129 1581.8 130.8 1577.8 132.5 1573.9 134.4 1569.9 136.2 1565.9 138.1 1562 140 1558 142 1554.1 143.9 1550.1 146Z" fill="#999" fill-opacity="0.4"/>
<path d="M1550.1 242.3 1554.1 232.4 1558 222.8 1562 213.7 1565.9 205.1 1569.9 197 1573.9 189.4 1577.8 182 1581.8 174.9 1585.7 168.2 1589.7 162 1593.6 156.4 1597.6 151.3 1601.5 146.4 1605.5 141.7 1609.5 137.5 1613.4 133.8 1617.4 130.9 1621.3 129 1625.3 127.3 1629.2 125.9 1633.2 125 1637.2 124.8 1641.1 125.2 1645.1 126.1 1649 127.3 1653 128.6 1656.9 129.9 1660.9 131.3 1664.8 132.9 1668.8 134.9 1672.8 137.2 1676.7 139.9 1680.7 143.9 1684.6 149.3 1688.6 155.8 1692.5 162.7 1696.5 169.7 1700.4 176.8 1704.4 184.6 1708.4 192.7 1712.3 201 1716.3 209.1 1720.2 216.9 1724.2 224.6 1728.1 232.7 1732.1 241.6 1736.1 251.1 1740 261.1 1744 271.6 1747.9 282.6 1751.9 294.6 1755.8 306.9 1759.8 318.9 1763.7 330.3 1767.7 341.9 1771.7 352.2 1775.6 360 1779.6 367.4 1783.5 372.5 1787.5 373.3 1791.4 371.2 1795.4 367.5 1799.3 362.9 1803.3 355 1807.3 344.3 1811.2 332.7 1815.2 321.7 1819.1 310.5 1823.1 298.8 1827 287.2 1831 276.2 1835 266.4 1838.9 258.1 1842.9 250.5 1846.8 243.1 1850.8 234.9 1854.7 225.5 1858.7 215.3 1862.6 205.1 1866.6 195.3 1870.6 185.9 1874.5 176.6 1878.5 167.6 1882.4 159.1 1886.4 151.4 1890.3 144.4 1894.3 137.8 1898.2 131.9 1902.2 126.9 1906.2 122.9 1910.1 119.3 1914.1 116.2 1918 113.3 1922 110.7 1925.9 108.4 1929.9 106.1 1933.9 103.7 1937.8 101.3 1941.8 99.2 1945.7 97.6 1949.7 96.6 1953.6 96.5 1957.6 96.9 1961.5 97.8 1965.5 99 1969.5 100.4 1973.4 102.1 1977.4 103.8 1981.3 106.2 1985.3 109.3 1989.2 113 1993.2 117.2 1997.2 121.6 2001.1 126.1 2005.1 131.1 2009 136.6 2013 142.7 2016.9 149.1 2020.9 156" fill="none" stroke="#b5495b" stroke-width="7.5" stroke-linejoin="round"/>
<path d="M1550.1 131.7 1554.1 130.2 1558 128.7 1562 127.2 1565.9 125.7 1569.9 124.3 1573.9 122.9 1577.8 121.5 1581.8 120.1 1585.7 118.7 1589.7 117.3 1593.6 116 1597.6 114.6 1601.5 113.3 1605.5 111.9 1609.5 110.6 1613.4 109.4 1617.4 108.1 1621.3 106.9 1625.3 105.7 1629.2 104.6 1633.2 103.5 1637.2 102.4 1641.1 101.4 1645.1 100.4 1649 99.3 1653 98.3 1656.9 97.3 1660.9 96.2 1664.8 95.1 1668.8 93.9 1672.8 92.6 1676.7 91.3 1680.7 89.9 1684.6 88.6 1688.6 87.3 1692.5 86 1696.5 84.9 1700.4 83.9 1704.4 83.1 1708.4 82.4 1712.3 81.7 1716.3 81.1 1720.2 80.4 1724.2 79.9 1728.1 79.5 1732.1 79.2 1736.1 79 1740 79 1744 79.1 1747.9 79.1 1751.9 79.2 1755.8 79.4 1759.8 79.5 1763.7 79.7 1767.7 79.9 1771.7 80.1 1775.6 80.4 1779.6 80.6 1783.5 80.9 1787.5 81.1 1791.4 81.5 1795.4 82 1799.3 82.5 1803.3 83.1 1807.3 83.8 1811.2 84.5 1815.2 85.2 1819.1 85.9 1823.1 86.6 1827 87.2 1831 87.8 1835 88.5 1838.9 89.1 1842.9 89.7 1846.8 90.4 1850.8 91.1 1854.7 91.7 1858.7 92.4 1862.6 93.2 1866.6 93.9 1870.6 94.7 1874.5 95.6 1878.5 96.6 1882.4 97.6 1886.4 98.6 1890.3 99.6 1894.3 100.6 1898.2 101.5 1902.2 102.3 1906.2 103.1 1910.1 103.7 1914.1 104.4 1918 104.9 1922 105.5 1925.9 106 1929.9 106.5 1933.9 107 1937.8 107.4 1941.8 107.9 1945.7 108.3 1949.7 108.8 1953.6 109.2 1957.6 109.6 1961.5 110 1965.5 110.4 1969.5 110.8 1973.4 111.2 1977.4 111.6 1981.3 112 1985.3 112.3 1989.2 112.7 1993.2 113.1 1997.2 113.4 2001.1 113.8 2005.1 114.1 2009 114.5 2013 114.8 2016.9 115.1 2020.9 115.5" fill="none" stroke="#435a78" stroke-width="7.5" stroke-linejoin="round"/>
<path d="M1527.4 52L1527.4 424.3" stroke="#000" stroke-width="4.6"/>
<path d="M1525.1 422L2046 422" stroke="#000" stroke-width="4.6"/>
<path d="M1516 105.3L1525.1 105.3" stroke="#333" stroke-width="4.6"/>
<text x="1506.4" y="114" font-size="24.3" text-anchor="end" fill="#4d4d4d">0.00000</text>
<path d="M1516 200.2L1525.1 200.2" stroke="#333" stroke-width="4.6"/>
<text x="1506.4" y="208.9" font-size="24.3" text-anchor="end" fill="#4d4d4d">−0.00004</text>
<path d="M1516 295.1L1525.1 295.1" stroke="#333" stroke-width="4.6"/>
<text x="1506.4" y="303.8" font-size="24.3" text-anchor="end" fill="#4d4d4d">−0.00008</text>
<path d="M1516 390L1525.1 390" stroke="#333" stroke-width="4.6"/>
<text x="1506.4" y="398.7" font-size="24.3" text-anchor="end" fill="#4d4d4d">−0.00012</text>
<path d="M1550 424.3L1550 434" stroke="#333" stroke-width="4.6"/>
<text x="1550" y="462" font-size="24.3" text-anchor="middle" fill="#4d4d4d">−500</text>
<path d="M1667.8 424.3L1667.8 434" stroke="#333" stroke-width="4.6"/>
<text x="1667.8" y="462" font-size="24.3" text-anchor="middle" fill="#4d4d4d">−250</text>
<path d="M1785.5 424.3L1785.5 434" stroke="#333" stroke-width="4.6"/>
<text x="1785.5" y="462" font-size="24.3" text-anchor="middle" fill="#4d4d4d">0</text>
<path d="M1903.2 424.3L1903.2 434" stroke="#333" stroke-width="4.6"/>
<text x="1903.2" y="462" font-size="24.3" text-anchor="middle" fill="#4d4d4d">250</text>
<path d="M2021 424.3L2021 434" stroke="#333" stroke-width="4.6"/>
<text x="2021" y="462" font-size="24.3" text-anchor="middle" fill="#4d4d4d">500</text>
<text x="1785.5" y="497.6" font-size="28.7" text-anchor="middle">Distance from NDR center</text>
<text transform="translate(1386.3 236) rotate(-90)" font-size="28.7" text-anchor="middle">Attribution</text>
<rect x="1858" y="339.5" width="23" height="46.2" fill="#999" fill-opacity="0.4"/>
<path d="M1860.5 351L1878.5 351" stroke="#b5495b" stroke-width="7.5"/>
<path d="M1860.5 374.3L1878.5 374.3" stroke="#435a78" stroke-width="7.5"/>
<text x="1895" y="360" font-size="24.3">matching</text>
<text x="1895" y="383" font-size="24.3">unmatching</text>
<text x="1294.3" y="59.8" font-size="59.5" font-weight="bold">D</text>
<g>
<rect x="150" y="618" width="290" height="256" fill="#eff3f6"/>
<path stroke="#f7f7f7" stroke-width="4" d="M195 628h5M240 636h5M150 648h20M410 648h20M160 652h15M365 652h5M250 656h25M425 656h5M150 660h20M240 660h20M330 660h35M420 660h5M150 664h5M190 664h5M245 664h5M260 664h5M340 664h5M430 664h5M220 668h5M245 668h5M265 668h5M280 668h5M320 668h10M340 668h5M350 668h35M395 668h5M160 672h5M170 672h10M215 672h15M250 672h5M260 672h15M325 672h15M215 676h15M270 676h5M280 676h5M315 676h5M340 676h20M370 676h10M190 680h15M210 680h5M275 680h15M310 680h5M355 680h5M365 680h5M380 680h5M390 680h5M195 684h5M210 684h10M255 684h15M315 684h5M335 684h5M220 688h20M245 688h5M270 688h5M235 692h5M270 692h5M340 692h5M235 696h5M320 696h5M350 696h5M360 696h10M395 696h5M270 700h5M315 704h5M360 704h5M430 704h5M250 708h5M310 708h5M345 708h5M230 712h5M290 712h10M345 712h5M240 716h5M275 716h5M340 716h5M240 720h5M340 720h10M360 720h10M260 724h5M315 724h5M330 724h5M205 728h5M230 728h10M435 728h5M150 732h25M215 732h5M270 732h5M310 732h5M345 732h5M435 732h5M155 736h5M180 736h5M220 736h5M230 736h5M295 736h5M150 740h5M250 740h5M150 744h5M165 744h5M175 744h5M280 744h10M310 744h5M345 744h5M235 748h5M270 748h10M345 748h5M265 752h5M275 752h5M315 752h5M340 752h5M170 756h10M190 756h5M205 756h5M220 756h15M245 756h5M310 756h5M345 756h5M365 756h5M415 756h5M425 756h10M245 760h10M265 760h5M285 760h5M300 760h5M310 760h5M400 760h5M160 764h5M170 764h5M250 764h10M315 764h10M335 764h5M390 764h5M185 768h10M245 768h5M275 768h15M325 768h10M380 768h5M390 768h40M255 772h15M160 776h15M180 776h15M240 776h15M185 780h5M220 780h5M230 780h5M390 780h20M355 792h5M435 792h5M230 796h5M240 796h5M380 796h45M430 796h5M160 804h5M235 804h10M410 804h30M200 808h20M310 808h5M255 812h5M150 816h20M180 816h50M405 816h5M150 848h5"/>
<path stroke="#e8f0f4" stroke-width="4" d="M280 628h5M420 628h10M295 636h5M365 636h5M175 640h5M255 640h5M365 640h5M385 640h10M200 644h10M215 644h10M230 644h20M265 644h35M335 644h10M350 644h5M365 644h5M265 648h25M295 648h25M250 652h5M260 652h25M305 652h10M330 652h15M205 656h5M235 656h10M280 656h20M320 656h5M345 656h35M390 656h15M205 660h10M220 660h5M265 660h10M290 660h5M300 660h15M215 664h25M270 664h5M290 664h20M360 664h5M380 664h5M390 664h40M150 668h15M185 668h15M235 668h5M410 668h15M430 668h10M150 672h5M190 672h5M280 672h15M300 672h15M375 672h35M420 672h10M155 676h15M180 676h5M190 676h15M235 676h5M305 676h5M395 676h10M150 680h15M295 680h10M345 680h5M395 680h10M435 680h5M180 684h5M290 684h15M340 684h15M380 684h5M390 684h15M420 684h10M150 688h5M210 688h5M280 688h15M375 688h15M205 692h5M275 692h5M350 692h5M365 692h10M405 692h5M435 692h5M205 696h5M275 696h25M375 696h15M405 696h5M435 696h5M210 700h5M225 700h10M245 700h5M315 700h5M360 700h5M395 700h10M275 704h5M375 704h5M390 704h5M210 708h5M240 708h5M270 708h10M285 708h5M300 708h5M355 708h5M215 712h5M390 712h10M205 716h5M235 716h5M285 716h5M295 716h5M350 716h15M390 716h5M400 716h5M200 720h5M220 720h10M235 720h5M295 720h5M375 720h10M220 724h5M230 724h15M340 724h5M290 728h15M345 728h15M430 728h5M175 732h35M365 732h10M415 732h5M185 736h10M210 736h10M290 736h5M300 736h5M360 736h5M420 736h10M160 740h5M175 740h5M230 740h20M265 740h10M295 740h10M310 740h5M345 740h5M210 744h5M225 744h10M240 744h5M270 744h5M290 744h5M305 744h5M350 744h5M405 744h20M430 744h10M150 748h10M225 748h5M290 748h15M310 748h5M425 748h5M435 748h5M160 752h5M175 752h5M215 752h10M240 752h5M260 752h5M290 752h10M305 752h10M365 752h20M305 756h5M380 756h10M395 756h10M150 760h15M190 760h5M200 760h10M225 760h10M290 760h5M340 760h10M185 764h5M195 764h5M275 764h5M285 764h5M295 764h15M350 764h25M400 764h20M435 764h5M205 768h10M225 768h15M300 768h20M345 768h15M150 772h10M170 772h5M190 772h20M225 772h5M235 772h10M270 772h15M290 772h10M305 772h10M320 772h30M355 772h65M210 776h5M220 776h20M265 776h25M300 776h5M315 776h15M340 776h35M405 776h5M420 776h10M435 776h5M195 780h5M245 780h5M350 780h5M360 780h25M410 780h30M190 784h25M220 784h40M275 784h10M290 784h5M300 784h20M325 784h5M345 784h10M375 784h5M385 784h10M420 784h20M150 788h60M215 788h10M255 788h5M265 788h45M335 788h10M350 788h20M395 788h10M415 788h20M180 792h55M255 792h25M295 792h5M380 792h25M410 792h5M155 800h15M195 800h15M295 800h5M310 800h30M360 800h35M405 800h5"/>
<path stroke="#e0ecf3" stroke-width="4" d="M285 652h20M300 656h20M275 660h15M295 660h5M275 664h15M165 668h20M425 668h5M295 672h5M410 672h10M430 676h10M165 680h15M405 680h5M430 680h5M185 684h10M305 684h5M355 684h10M385 684h5M405 684h10M155 688h10M205 688h5M275 688h5M295 688h10M310 688h5M390 688h10M410 688h30M295 692h5M345 692h5M360 692h5M375 692h30M415 692h15M150 696h25M310 696h5M235 700h10M275 700h5M285 700h5M405 700h5M155 704h5M205 704h5M280 704h5M365 704h5M425 704h5M280 708h5M360 708h5M435 708h5M150 712h10M300 712h5M350 712h5M410 712h5M210 716h5M230 716h5M280 716h5M310 716h5M365 716h5M395 716h5M195 720h5M230 720h5M310 720h5M385 720h5M215 724h5M225 724h5M295 724h5M200 728h5M275 728h5M310 728h5M360 728h5M405 728h5M420 728h10M295 732h5M305 732h5M410 732h5M195 736h10M275 736h5M305 736h5M410 736h10M165 740h5M180 740h5M220 740h10M290 740h5M350 740h5M415 740h5M425 740h10M235 744h5M390 744h5M400 744h5M425 744h5M175 748h10M220 748h5M305 748h5M365 748h10M420 748h5M430 748h5M150 752h10M180 752h5M210 752h5M300 752h5M355 752h10M385 752h5M420 752h5M430 752h10M390 756h5M165 760h10M195 760h5M210 760h15M350 760h20M385 760h5M410 760h5M425 760h10M290 764h5M215 768h10M210 772h5M220 772h5M230 772h5M285 772h5M300 772h5M315 772h5M215 776h5M290 776h10M305 776h10M285 784h5M295 784h5M355 784h20M345 788h5M435 788h5"/>
<path stroke="#f8f1ed" stroke-width="4" d="M250 664h10M320 664h20M250 668h5M330 668h10M255 672h5M320 672h5M335 676h5M360 676h10M215 680h5M225 680h25M315 680h5M360 680h5M370 680h10M250 684h5M260 688h10M345 688h10M360 688h10M215 692h5M230 692h5M250 692h5M265 692h5M320 692h5M330 692h5M210 696h5M245 696h5M265 696h5M335 696h10M355 696h5M250 700h5M260 700h10M270 704h5M350 704h10M215 708h5M295 708h5M235 712h10M275 712h5M245 720h5M265 720h5M315 720h5M245 724h5M335 724h5M215 728h10M315 728h5M235 732h5M425 732h10M150 736h5M160 736h5M235 736h10M345 736h5M255 740h5M340 740h5M155 744h10M170 744h5M265 744h5M340 744h5M240 748h5M280 748h10M285 752h5M150 756h20M180 756h10M195 756h10M210 756h10M315 756h5M340 756h5M420 756h5M435 756h5M255 760h10M280 760h5M335 760h5M325 764h10M150 768h35M250 768h5M260 768h15M430 768h10"/>
<path stroke="#f9ece4" stroke-width="4" d="M255 668h10M250 676h5M265 676h5M320 676h10M220 680h5M260 680h15M330 680h5M320 684h15M250 688h10M355 688h5M260 692h5M325 692h5M335 692h5M215 696h5M225 696h10M325 696h5M220 704h5M345 704h5M230 708h5M265 708h5M340 712h5M245 716h5M320 720h5M325 724h5M225 728h5M240 728h5M270 728h5M335 728h5M220 732h10M340 732h5M315 736h5M250 744h5M260 744h5M245 748h5M340 748h5M335 752h5M250 756h5M285 756h5M315 760h5M255 768h5"/>
<path stroke="#fbe6da" stroke-width="4" d="M255 676h5M330 676h5M250 680h5M320 680h5M320 688h5M340 688h5M220 692h10M255 692h5M220 696h5M330 696h5M255 700h5M335 700h10M225 704h5M320 704h5M340 704h5M220 708h10M255 708h10M340 708h5M270 712h5M270 716h5M230 732h5M245 736h5M265 736h5M340 736h5M320 740h5M255 744h5M315 744h5M250 748h5M265 748h5M320 748h5M335 748h5M280 752h5M320 752h5M330 752h5M270 756h10M320 760h5M330 760h5"/>
<path stroke="#fce1d1" stroke-width="4" d="M260 676h5M255 680h5M325 680h5M260 696h5M230 704h15M315 708h5M315 712h5M335 720h5M320 724h5M320 728h5M330 728h5M240 732h5M265 732h5M260 748h5M255 756h15M280 756h5M320 756h5M335 756h5M325 760h5"/>
<path stroke="#d9e9f1" stroke-width="4" d="M405 676h10M410 680h5M420 680h5M150 684h5M175 684h5M365 684h15M165 688h10M180 688h25M305 688h5M400 688h10M200 692h5M300 692h5M315 692h5M410 692h5M430 692h5M200 696h5M300 696h5M410 696h5M425 696h10M280 700h5M290 700h5M310 700h5M370 700h20M410 700h5M200 704h5M210 704h5M285 704h15M310 704h5M370 704h5M160 712h5M200 712h15M355 712h10M380 712h5M400 712h10M200 716h5M300 716h5M380 716h10M150 720h5M290 720h5M300 720h5M390 720h5M425 720h5M435 720h5M265 724h5M300 724h5M310 724h5M345 724h5M155 728h10M195 728h5M400 728h5M410 728h10M290 732h5M375 732h5M205 736h5M365 736h5M170 740h5M185 740h5M215 740h5M275 740h5M305 740h5M420 740h5M185 744h5M200 744h10M355 744h5M385 744h5M395 744h5M185 748h5M200 748h5M215 748h5M415 748h5M405 752h15M425 752h5M175 760h15M370 760h5M415 760h10M215 772h5"/>
<path stroke="#d1e5f0" stroke-width="4" d="M415 676h15M415 680h5M425 680h5M155 684h15M175 688h5M190 692h10M310 692h5M305 696h5M415 696h10M195 700h15M295 700h5M365 700h5M415 700h5M160 704h5M195 704h5M300 704h5M380 704h10M395 704h5M420 704h5M305 708h5M305 712h5M375 712h5M385 712h5M425 712h5M155 716h5M430 716h10M155 720h5M420 720h5M205 724h10M270 724h5M290 724h5M350 724h10M150 728h5M165 728h5M305 728h5M365 728h5M395 728h5M380 732h5M405 732h5M285 736h5M405 736h5M190 740h10M285 740h5M355 740h15M435 740h5M190 744h5M360 744h10M380 744h5M190 748h10M210 748h5M375 748h5M205 752h5M390 752h5M400 752h5M375 760h10"/>
<path stroke="#c4dfec" stroke-width="4" d="M170 684h5M175 692h5M305 692h5M175 696h5M195 696h5M165 704h5M190 704h5M415 704h5M205 708h5M410 708h5M170 712h5M190 712h10M365 712h5M415 712h10M430 712h10M150 716h5M185 716h15M370 716h10M405 716h10M160 720h10M190 720h5M430 720h5M150 724h5M160 724h5M200 724h5M360 724h5M190 728h5M285 728h5M370 728h5M275 732h5M385 732h5M280 736h5M210 740h5M280 740h5M370 740h5M410 740h5M195 744h5M370 744h10M205 748h5M380 748h5M410 748h5M185 752h10M200 752h5M395 752h5"/>
<path stroke="#fbd0b9" stroke-width="4" d="M325 688h10M325 700h5M265 704h5M325 704h5M245 712h5M335 712h5M250 720h5M250 724h10M245 728h5M265 728h5M315 732h5M260 736h5M335 736h5M325 740h5M255 748h5"/>
<path stroke="#fddbc7" stroke-width="4" d="M335 688h5M250 696h10M320 700h5M330 700h5M245 704h5M335 708h5M265 716h5M315 716h5M335 716h5M260 720h5M325 728h5M245 732h5M335 740h5M325 752h5"/>
<path stroke="#abd2e5" stroke-width="4" d="M150 692h15M170 692h5M185 696h5M150 700h5M185 700h5M420 700h5M435 700h5M185 704h5M305 704h5M155 708h5M200 708h5M395 708h5M405 708h5M425 708h5M185 712h5M165 716h15M425 716h5M170 720h5M410 720h5M155 724h5M165 724h5M305 724h5M365 724h5M435 724h5M185 728h5M380 728h5M380 736h5M390 736h5M200 740h10M375 740h10M385 748h10M400 748h5"/>
<path stroke="#9fcbe2" stroke-width="4" d="M165 692h5M180 700h5M305 700h5M425 700h10M170 704h15M195 708h5M370 708h5M390 708h5M175 720h10M285 720h5M170 724h5M195 724h5M380 724h5M415 724h5M430 724h5M280 728h5M385 728h5M385 736h5M385 740h5M400 740h10M395 748h5"/>
<path stroke="#b8d8e9" stroke-width="4" d="M180 692h10M180 696h5M190 696h5M190 700h5M300 700h5M400 704h15M150 708h5M365 708h5M400 708h5M415 708h10M430 708h5M165 712h5M175 712h10M370 712h5M160 716h5M305 716h5M415 716h10M275 720h5M305 720h5M395 720h15M415 720h5M370 724h10M170 728h10M375 728h5M390 728h5M285 732h5M390 732h15M370 736h10M395 736h10M405 748h5M195 752h5"/>
<path stroke="#92c5de" stroke-width="4" d="M155 700h5M380 708h5M180 716h5M185 720h5M275 724h5M285 724h5M385 724h10M405 724h10M420 724h5M280 732h5"/>
<path stroke="#72b1d3" stroke-width="4" d="M160 700h5M175 700h5M165 708h5M180 708h5M385 708h5"/>
<path stroke="#63a7ce" stroke-width="4" d="M165 700h10M185 724h5M390 740h5"/>
<path stroke="#f6b090" stroke-width="4" d="M250 704h5M265 712h5M320 716h5"/>
<path stroke="#e27c62" stroke-width="4" d="M255 704h5M325 708h5M325 712h5M250 732h5M320 732h5"/>
<path stroke="#ee9777" stroke-width="4" d="M260 704h5M330 712h5M325 716h5M330 744h5"/>
<path stroke="#f9c5ab" stroke-width="4" d="M330 704h10M250 716h5M255 720h5M330 720h5M320 744h5M335 744h5M325 748h10M325 756h10"/>
<path stroke="#82bbd9" stroke-width="4" d="M160 708h5M185 708h10M375 708h5M280 720h5M190 724h5M395 724h10M425 724h5M180 728h5M395 740h5"/>
<path stroke="#539dc8" stroke-width="4" d="M170 708h10M175 724h5M280 724h5"/>
<path stroke="#f8bb9e" stroke-width="4" d="M320 708h5M320 712h5M325 720h5M335 732h5M250 736h5M320 736h5"/>
<path stroke="#e8896d" stroke-width="4" d="M330 708h5M250 712h5M255 716h5M260 732h5M255 736h5M325 744h5"/>
<path stroke="#d6604d" stroke-width="4" d="M255 712h10M330 732h5"/>
<path stroke="#f4a582" stroke-width="4" d="M260 716h5M330 716h5M250 728h5M330 740h5"/>
<path stroke="#4393c3" stroke-width="4" d="M180 724h5"/>
<path stroke="#b92632" stroke-width="4" d="M255 728h5"/>
<path stroke="#c8433f" stroke-width="4" d="M260 728h5M325 732h5"/>
<path stroke="#c03539" stroke-width="4" d="M255 732h5M325 736h5"/>
<path stroke="#dc6e58" stroke-width="4" d="M330 736h5"/>
</g>
<path d="M135.8 605.6L135.8 889.7" stroke="#000" stroke-width="4"/>
<path d="M133.8 887.7L454.6 887.7" stroke="#000" stroke-width="4"/>
<path d="M124.6 617.7L133.8 617.7" stroke="#333" stroke-width="4"/>
<text x="115.2" y="623.5" font-size="16.2" text-anchor="end" fill="#4d4d4d">200</text>
<path d="M124.6 681.7L133.8 681.7" stroke="#333" stroke-width="4"/>
<text x="115.2" y="687.5" font-size="16.2" text-anchor="end" fill="#4d4d4d">175</text>
<path d="M124.6 745.6L133.8 745.6" stroke="#333" stroke-width="4"/>
<text x="115.2" y="751.4" font-size="16.2" text-anchor="end" fill="#4d4d4d">150</text>
<path d="M124.6 809.6L133.8 809.6" stroke="#333" stroke-width="4"/>
<text x="115.2" y="815.4" font-size="16.2" text-anchor="end" fill="#4d4d4d">125</text>
<path d="M124.6 873.5L133.8 873.5" stroke="#333" stroke-width="4"/>
<text x="115.2" y="879.3" font-size="16.2" text-anchor="end" fill="#4d4d4d">100</text>
<path d="M150.5 889.7L150.5 897.6" stroke="#333" stroke-width="4"/>
<text x="150.5" y="919.3" font-size="16.2" text-anchor="middle" fill="#4d4d4d">−500</text>
<path d="M222.9 889.7L222.9 897.6" stroke="#333" stroke-width="4"/>
<text x="222.9" y="919.3" font-size="16.2" text-anchor="middle" fill="#4d4d4d">−250</text>
<path d="M295.3 889.7L295.3 897.6" stroke="#333" stroke-width="4"/>
<text x="295.3" y="919.3" font-size="16.2" text-anchor="middle" fill="#4d4d4d">0</text>
<path d="M367.7 889.7L367.7 897.6" stroke="#333" stroke-width="4"/>
<text x="367.7" y="919.3" font-size="16.2" text-anchor="middle" fill="#4d4d4d">250</text>
<path d="M440.1 889.7L440.1 897.6" stroke="#333" stroke-width="4"/>
<text x="440.1" y="919.3" font-size="16.2" text-anchor="middle" fill="#4d4d4d">500</text>
<text x="295.3" y="949" font-size="20.3" text-anchor="middle">Distance from NDR center</text>
<text transform="translate(72.8 745.5) rotate(-90)" font-size="20.3" text-anchor="middle">Fragment size</text>
<text x="295.3" y="577" font-size="24" text-anchor="middle">breast</text>
<g>
<rect x="548" y="618" width="289" height="256" fill="#e0ecf3"/>
<path stroke="#e8f0f4" stroke-width="4" d="M697 624h5M707 624h5M563 628h5M663 628h20M712 628h5M573 632h5M608 632h15M628 632h5M643 632h10M658 632h5M673 632h24M702 632h5M777 632h15M628 636h5M692 636h10M732 636h5M797 636h5M648 640h5M772 644h25M548 648h130M707 648h20M752 648h20M812 648h5M673 656h10M772 656h40M548 660h5M558 660h80M643 660h49M712 660h20M737 660h15M757 660h15M782 660h55M648 664h10M702 664h15M737 664h20M772 664h40M732 668h5M812 668h10M618 672h5M633 672h5M648 672h20M782 672h15M583 676h10M598 676h5M697 676h15M737 676h5M787 676h5M827 676h5M553 680h5M568 680h5M578 680h5M608 680h10M638 680h10M663 680h25M692 680h15M822 680h5M688 684h4M673 688h5M688 688h14M712 688h5M563 692h5M573 692h5M648 692h5M678 692h10M692 692h15M553 696h10M573 696h5M643 696h10M658 696h5M707 696h5M727 696h10M747 696h5M807 696h15M832 696h5M638 700h5M678 700h5M727 700h5M787 700h5M797 700h5M807 700h10M558 704h5M568 704h5M558 708h10M548 712h5M563 712h5M653 712h10M727 712h5M737 712h5M797 712h5M548 716h10M603 716h5M658 716h5M683 716h5M782 716h5M618 720h5M628 720h5M737 720h5M802 720h5M812 720h5M558 724h5M588 724h5M598 724h5M628 724h5M643 724h5M653 724h5M707 724h10M663 728h5M697 728h5M722 728h5M767 728h5M568 732h5M588 732h5M717 732h5M548 736h5M683 736h5M712 736h5M747 736h5M787 736h5M623 740h5M638 740h5M658 740h5M678 740h5M807 740h5M832 740h5M648 744h10M668 744h5M717 744h5M792 744h15M817 744h5M548 748h5M663 748h5M787 748h5M827 748h5M573 752h5M588 752h10M777 752h5M802 752h5M822 752h15M663 756h5M593 760h5M663 760h5M817 764h5M563 768h5M588 768h20M638 768h25M787 768h25M827 768h10M727 772h5M747 772h5M563 776h5M578 776h10M643 776h15M663 776h5M707 776h10M722 776h10M742 776h10M757 776h10M782 776h5M792 776h25M827 776h5M598 780h5M588 784h5M603 784h5M747 784h10M548 788h60M638 788h5M658 788h5M732 788h10M762 788h30M797 788h10M573 792h15M633 792h5M742 792h20M767 792h5M797 792h15M548 796h5M598 796h25M643 796h15M747 796h50M563 800h20M608 800h5M712 800h25M782 800h15M548 812h5M588 812h5M643 812h5M653 812h5M812 816h25M663 820h10M762 832h5M777 832h10M598 836h10M822 836h5M707 840h10M648 844h5M697 848h5M558 852h5M613 852h5M648 856h5M787 856h5M717 860h20M747 860h25M777 860h5M683 868h19M583 872h5M603 872h5"/>
<path stroke="#d9e9f1" stroke-width="4" d="M767 640h5M787 640h5M797 640h5M653 644h10M548 652h15M593 652h40M683 652h9M697 652h5M717 652h35M802 652h5M817 652h10M643 656h5M742 656h5M817 656h20M598 664h5M618 664h15M663 664h5M563 668h5M593 668h30M628 668h20M653 668h15M673 668h24M712 668h5M757 668h5M772 668h5M568 672h5M583 672h5M593 672h20M673 672h10M688 672h4M712 672h25M747 672h25M807 672h5M548 676h25M618 676h20M648 676h15M752 676h5M777 676h5M588 680h5M623 680h10M747 680h5M767 680h5M777 680h20M548 684h10M638 684h30M697 684h5M712 684h5M732 684h5M777 684h10M792 684h5M802 684h25M832 684h5M553 688h15M578 688h5M593 688h5M663 688h5M727 688h20M782 688h15M802 688h5M812 688h15M832 688h5M548 692h10M583 692h5M643 692h5M653 692h5M673 692h5M712 692h5M722 692h25M792 692h5M832 692h5M578 696h10M638 696h5M678 696h14M697 696h5M767 696h5M588 700h10M608 700h5M618 700h5M628 700h5M688 700h4M747 700h5M757 700h5M643 704h10M812 704h5M707 708h5M573 712h5M593 712h15M618 712h5M633 712h5M643 712h5M747 712h5M573 716h5M702 716h5M787 716h10M588 720h5M673 720h5M712 720h10M742 720h5M797 720h5M553 724h5M563 724h15M618 724h5M663 724h15M727 724h10M618 732h5M643 732h5M653 732h5M678 732h5M702 732h5M722 732h5M797 732h5M568 736h5M643 736h5M697 736h5M722 736h10M752 736h5M568 740h10M598 740h5M712 740h5M722 740h5M548 744h5M583 744h30M623 744h10M673 744h5M702 744h10M727 744h5M777 744h5M832 744h5M553 748h5M573 748h10M588 748h10M633 748h15M707 748h10M732 748h5M742 748h5M777 748h5M797 748h10M618 752h5M633 752h10M702 752h15M767 752h5M583 756h15M707 756h5M782 756h20M807 756h10M827 756h10M548 760h5M573 760h10M603 760h5M638 760h10M707 760h5M772 760h10M787 760h5M797 760h10M827 760h5M573 764h10M588 764h10M653 764h20M802 764h5M832 764h5M573 768h5M613 768h5M623 768h5M678 768h5M702 768h5M772 768h10M593 772h5M603 772h5M613 772h5M623 772h30M717 772h5M772 772h10M787 772h5M827 772h10M613 776h15M697 776h5M548 780h35M613 780h5M673 780h5M702 780h10M732 780h10M747 780h5M792 780h5M802 780h10M702 784h5M787 784h15M697 788h5M658 792h20M707 792h5M678 796h5M702 796h5M678 800h5M673 804h10M707 804h5M673 808h10M702 808h5M688 816h9"/>
<path stroke="#eff3f6" stroke-width="4" d="M553 660h5M638 660h5M732 660h5M752 660h5M593 676h5M603 676h5M712 676h5M722 676h15M792 676h5M802 676h25M548 680h5M558 680h10M648 680h15M688 680h4M707 680h15M732 680h10M702 688h10M568 692h5M688 692h4M563 696h10M653 696h5M717 696h10M737 696h5M822 696h10M548 700h10M583 700h5M633 700h5M643 700h5M673 700h5M697 700h30M817 700h5M553 704h5M817 704h5M663 712h5M697 712h5M722 712h5M832 712h5M558 716h5M653 716h5M668 716h15M717 716h5M747 716h5M777 716h5M802 716h5M827 716h10M593 720h5M603 720h15M623 720h5M633 720h10M727 720h10M817 720h5M578 724h5M633 724h10M648 724h5M812 724h5M563 728h5M588 728h5M603 728h10M653 728h10M683 728h5M707 728h15M727 728h5M782 728h5M802 728h5M583 732h5M663 732h5M673 732h5M573 736h5M593 736h25M638 736h5M653 736h5M702 736h5M792 736h20M578 740h10M663 740h5M673 740h5M782 744h10M678 748h5M548 752h15M568 752h5M578 752h10M598 752h5M648 752h5M797 752h5M807 752h5M817 752h5M553 768h10M812 768h15M732 772h10M792 788h5"/>
<path stroke="#d1e5f0" stroke-width="4" d="M648 668h5M638 676h10M757 676h15M752 680h5M797 680h5M573 684h5M737 684h5M797 684h5M827 684h5M568 688h10M583 688h5M653 688h10M747 688h5M777 688h5M588 692h5M638 692h5M717 692h5M782 692h10M797 692h10M812 692h20M588 696h5M633 696h5M692 696h5M772 696h10M787 696h10M613 700h5M623 700h5M777 700h5M573 704h5M633 704h10M653 704h5M712 704h5M722 704h5M568 708h5M663 708h5M717 708h5M568 712h5M608 712h5M623 712h10M688 712h4M752 712h10M588 716h5M598 716h5M767 716h5M548 720h5M583 720h5M663 720h5M678 720h5M747 720h5M792 720h5M608 724h10M697 724h5M737 724h5M747 724h5M802 724h5M593 732h5M648 732h5M727 732h5M782 732h15M807 732h5M558 736h5M777 736h5M548 740h5M593 740h5M613 740h5M707 740h5M717 740h5M727 740h5M797 740h5M578 744h5M613 744h10M678 744h5M732 744h5M598 748h10M613 748h20M648 748h5M722 748h10M737 748h5M772 748h5M623 752h5M697 752h5M727 752h10M553 756h5M568 756h15M598 756h5M643 756h10M772 756h10M802 756h5M817 756h10M553 760h10M568 760h5M633 760h5M702 760h5M832 760h5M548 764h10M563 764h10M643 764h10M673 764h5M772 764h10M787 764h5M797 764h5M618 768h5M628 768h5M683 768h19M707 768h10M722 768h15M742 768h10M762 768h10M598 772h5M608 772h5M618 772h5M683 772h5M702 772h10M683 776h5M678 780h5M683 784h5M697 784h5M683 788h5M678 792h5M702 792h5M683 800h5M697 800h5M702 804h5M683 808h5M697 808h5"/>
<path stroke="#f7f7f7" stroke-width="4" d="M717 676h5M797 676h5M722 680h10M558 700h5M573 700h10M648 700h5M658 700h5M832 700h5M832 704h5M668 712h15M702 712h5M712 712h10M802 712h5M817 712h5M608 716h10M663 716h5M722 716h5M742 716h5M807 716h5M598 720h5M558 728h5M613 728h10M648 728h5M678 728h5M688 728h4M702 728h5M732 728h5M752 728h5M762 728h5M772 728h5M787 728h5M668 732h5M822 732h5M588 736h5M658 736h5M678 736h5M633 740h5M668 740h5M812 740h5M827 740h5M563 752h5M653 752h5M678 752h5M812 752h5M668 756h10M548 768h5"/>
<path stroke="#c4dfec" stroke-width="4" d="M772 676h5M757 680h10M558 684h15M578 684h10M633 684h5M742 684h5M772 684h5M588 688h5M603 688h5M633 688h20M777 692h5M807 692h5M593 696h20M782 696h5M797 696h5M762 700h10M623 704h10M707 704h5M717 704h5M727 704h5M807 704h5M613 708h5M668 708h10M712 708h5M722 708h10M817 708h10M613 712h5M787 712h5M578 716h5M593 716h5M697 716h5M752 716h5M762 716h5M553 720h5M578 720h5M707 720h5M787 720h5M678 724h5M752 724h5M782 724h20M553 732h10M732 732h5M777 732h5M802 732h5M563 736h5M688 736h4M757 736h5M767 736h10M553 740h5M608 740h5M787 740h10M737 744h5M772 744h5M608 748h5M683 748h5M702 748h5M717 748h5M722 752h5M737 752h5M747 752h5M558 756h10M603 756h5M683 756h5M697 756h5M712 756h5M767 756h5M563 760h5M712 760h5M747 760h5M558 764h5M598 764h5M638 764h5M678 764h5M767 764h5M782 764h5M792 764h5M717 768h5M737 768h5M752 768h10M688 772h4M697 772h5M712 772h5M692 776h5M683 780h5M697 780h5M692 784h5M692 788h5M697 796h5M692 800h5M683 804h5M697 804h5M688 808h9"/>
<path stroke="#b8d8e9" stroke-width="4" d="M588 684h15M752 688h10M628 692h10M613 696h5M623 696h10M772 700h5M578 704h5M618 704h5M683 704h5M702 704h5M732 704h5M797 704h10M573 708h5M618 708h5M653 708h10M702 708h5M732 708h5M812 708h5M827 708h5M583 716h5M688 716h9M757 724h5M777 724h5M563 732h5M613 732h5M737 732h5M692 736h5M762 736h5M603 740h5M702 740h5M732 740h5M777 740h10M553 744h5M742 744h5M558 748h5M568 748h5M697 748h5M747 748h5M742 752h5M638 756h5M608 760h10M628 760h5M683 760h5M697 760h5M742 760h5M767 760h5M603 764h5M707 764h10M747 764h5M757 764h10M692 772h5M688 776h4M688 784h4M688 788h4M683 792h5M697 792h5M683 796h5M688 800h4M692 804h5"/>
<path stroke="#abd2e5" stroke-width="4" d="M603 684h5M623 684h10M747 684h5M767 684h5M608 688h10M762 688h5M593 692h5M608 692h5M618 692h5M747 692h5M772 692h5M583 704h30M782 704h15M608 708h5M623 708h5M648 708h5M737 708h5M832 708h5M762 712h5M772 712h15M757 716h5M558 720h10M702 720h5M782 720h5M683 724h5M762 724h5M598 732h15M772 732h5M563 740h5M683 740h5M737 740h5M573 744h5M563 748h5M762 752h5M608 756h5M717 756h5M737 756h5M618 760h5M717 760h5M727 760h5M737 760h5M752 760h5M762 760h5M633 764h5M702 764h5M742 764h5M752 764h5M688 780h4M688 792h9M688 796h9M688 804h4"/>
<path stroke="#9fcbe2" stroke-width="4" d="M608 684h5M767 688h10M598 692h10M613 692h5M623 692h5M767 692h5M618 696h5M613 704h5M697 704h5M737 704h5M772 704h10M603 708h5M628 708h10M643 708h5M802 708h10M767 712h5M573 720h5M752 720h5M777 720h5M683 732h5M742 732h5M772 740h5M683 744h5M697 744h5M767 744h5M752 748h5M767 748h5M688 752h9M757 752h5M633 756h5M722 756h15M742 756h5M623 760h5M692 760h5M732 760h5M757 760h5M608 764h5M717 764h25M692 780h5"/>
<path stroke="#92c5de" stroke-width="4" d="M613 684h10M752 684h5M628 688h5M752 692h5M762 692h5M688 704h4M578 708h10M638 708h5M678 708h5M742 708h5M568 720h5M683 720h5M772 720h5M688 724h9M767 724h10M697 732h5M747 732h5M767 732h5M558 740h5M742 740h5M568 744h5M747 744h5M762 748h5M752 752h5M688 756h9M747 756h10M762 756h5M722 760h5M623 764h10M683 764h5M697 764h5"/>
<path stroke="#82bbd9" stroke-width="4" d="M757 684h10M692 704h5M742 704h5M598 708h5M697 708h5M747 708h5M797 708h5M767 720h5M697 740h5M688 748h9M757 756h5M688 760h4M613 764h5"/>
<path stroke="#72b1d3" stroke-width="4" d="M618 688h5M757 692h5M588 708h10M752 708h5M777 708h20M697 720h5M757 720h5M752 732h5M767 740h5M558 744h5M757 748h5M613 756h5M618 764h5"/>
<path stroke="#63a7ce" stroke-width="4" d="M623 688h5M767 704h5M767 708h10M762 720h5M757 732h10M563 744h5M752 744h5M762 744h5M628 756h5"/>
<path stroke="#fce1d1" stroke-width="4" d="M563 700h5M628 716h5M578 728h5M633 736h5M673 736h5"/>
<path stroke="#fbe6da" stroke-width="4" d="M568 700h5M827 700h5M618 716h10M638 716h5M732 716h10M817 724h5M638 728h5M757 728h5M578 732h5M827 732h5M618 736h5M668 736h5"/>
<path stroke="#f8f1ed" stroke-width="4" d="M653 700h5M663 700h10M822 700h5M563 704h5M822 704h5M807 712h10M827 712h5M648 716h5M812 716h15M827 720h10M548 728h10M568 728h5M643 728h5M668 728h10M737 728h5M792 728h10M807 728h5M623 732h5M817 732h5M832 732h5M817 740h5"/>
<path stroke="#4393c3" stroke-width="4" d="M747 704h5M762 704h5M747 740h5M618 756h10M688 764h9"/>
<path stroke="#539dc8" stroke-width="4" d="M752 704h5M683 708h5M757 708h10M688 720h4M757 744h5"/>
<path stroke="#3c8abe" stroke-width="4" d="M757 704h5M692 708h5M692 720h5M688 732h4M688 740h4M688 744h4"/>
<path stroke="#f9ece4" stroke-width="4" d="M827 704h5M707 712h5M822 712h5M643 716h5M727 716h5M822 720h5M832 724h5M583 728h5M742 728h10M777 728h5M573 732h5M628 732h10M578 736h10M663 736h5M812 736h5M832 736h5M628 740h5M822 740h5M668 748h10M658 752h5M673 752h5"/>
<path stroke="#3581ba" stroke-width="4" d="M688 708h4M692 732h5M692 740h5M757 740h10"/>
<path stroke="#fddbc7" stroke-width="4" d="M633 716h5M573 728h5M623 728h5M812 728h5M663 752h10"/>
<path stroke="#f9c5ab" stroke-width="4" d="M822 724h5M633 728h5M623 736h5M817 736h5M827 736h5"/>
<path stroke="#fbd0b9" stroke-width="4" d="M827 724h5M628 736h5"/>
<path stroke="#f6b090" stroke-width="4" d="M628 728h5M822 736h5"/>
<path stroke="#e8896d" stroke-width="4" d="M817 728h5"/>
<path stroke="#d6604d" stroke-width="4" d="M822 728h5"/>
<path stroke="#c8433f" stroke-width="4" d="M827 728h5"/>
<path stroke="#f4a582" stroke-width="4" d="M832 728h5"/>
<path stroke="#286fb1" stroke-width="4" d="M752 740h5"/>
<path stroke="#2f78b5" stroke-width="4" d="M692 744h5"/>
</g>
<path d="M533 605.6L533 889.7" stroke="#000" stroke-width="4"/>
<path d="M531 887.7L851.8 887.7" stroke="#000" stroke-width="4"/>
<path d="M521.8 617.7L531 617.7" stroke="#333" stroke-width="4"/>
<text x="512.4" y="623.5" font-size="16.2" text-anchor="end" fill="#4d4d4d">200</text>
<path d="M521.8 681.7L531 681.7" stroke="#333" stroke-width="4"/>
<text x="512.4" y="687.5" font-size="16.2" text-anchor="end" fill="#4d4d4d">175</text>
<path d="M521.8 745.6L531 745.6" stroke="#333" stroke-width="4"/>
<text x="512.4" y="751.4" font-size="16.2" text-anchor="end" fill="#4d4d4d">150</text>
<path d="M521.8 809.6L531 809.6" stroke="#333" stroke-width="4"/>
<text x="512.4" y="815.4" font-size="16.2" text-anchor="end" fill="#4d4d4d">125</text>
<path d="M521.8 873.5L531 873.5" stroke="#333" stroke-width="4"/>
<text x="512.4" y="879.3" font-size="16.2" text-anchor="end" fill="#4d4d4d">100</text>
<path d="M547.7 889.7L547.7 897.6" stroke="#333" stroke-width="4"/>
<text x="547.7" y="919.3" font-size="16.2" text-anchor="middle" fill="#4d4d4d">−500</text>
<path d="M620.1 889.7L620.1 897.6" stroke="#333" stroke-width="4"/>
<text x="620.1" y="919.3" font-size="16.2" text-anchor="middle" fill="#4d4d4d">−250</text>
<path d="M692.5 889.7L692.5 897.6" stroke="#333" stroke-width="4"/>
<text x="692.5" y="919.3" font-size="16.2" text-anchor="middle" fill="#4d4d4d">0</text>
<path d="M764.9 889.7L764.9 897.6" stroke="#333" stroke-width="4"/>
<text x="764.9" y="919.3" font-size="16.2" text-anchor="middle" fill="#4d4d4d">250</text>
<path d="M837.3 889.7L837.3 897.6" stroke="#333" stroke-width="4"/>
<text x="837.3" y="919.3" font-size="16.2" text-anchor="middle" fill="#4d4d4d">500</text>
<text x="692.5" y="949" font-size="20.3" text-anchor="middle">Distance from NDR center</text>
<text transform="translate(470 745.5) rotate(-90)" font-size="20.3" text-anchor="middle">Fragment size</text>
<text x="692.5" y="577" font-size="24" text-anchor="middle">liver</text>
<g>
<rect x="945" y="618" width="289" height="256" fill="#eff3f6"/>
<path stroke="#f7f7f7" stroke-width="4" d="M945 620h10M1165 620h20M955 624h20M995 624h15M1085 624h25M1160 624h25M1035 628h15M1225 628h5M945 632h25M1035 632h15M1115 632h15M1135 632h5M1195 632h39M1020 636h15M1050 636h15M1210 636h5M990 640h25M1020 640h10M1050 640h5M1080 640h25M1165 640h25M1205 640h29M975 644h45M1030 644h5M1050 644h5M1125 644h15M1170 644h10M1210 644h24M945 648h10M960 648h5M985 648h35M1025 648h5M1050 648h5M1210 648h20M945 652h35M1015 652h15M1115 652h10M1195 652h15M1225 652h5M945 656h30M985 656h5M1010 656h15M1055 656h5M1125 656h5M1195 656h39M980 660h5M1025 660h5M1055 660h5M1210 660h5M1230 660h4M950 664h15M970 664h25M1025 664h5M1195 664h10M1230 664h4M945 668h5M1000 668h5M1015 668h15M1050 668h5M1205 668h5M1225 668h5M960 672h10M980 672h10M1005 672h10M1020 672h5M1060 672h5M1205 672h5M980 676h30M1015 676h15M1050 676h5M1125 676h10M955 680h15M975 680h5M1000 680h5M1115 680h20M1190 680h10M1115 684h5M1125 684h10M1140 684h10M1195 684h5M1015 688h5M1025 688h5M1055 688h10M1200 688h5M980 692h5M1025 692h5M1055 692h5M1145 692h5M1195 692h5M970 696h15M1145 696h5M1180 696h15M1045 700h5M970 704h20M1020 704h5M1060 704h10M1115 704h5M1200 704h5M990 708h5M1015 708h10M1115 708h5M1130 708h10M1000 712h20M1035 712h5M1205 712h5M965 716h5M990 716h10M1030 716h5M1045 716h5M1225 716h5M1055 720h10M1105 720h5M1115 720h5M1140 720h10M1185 720h5M1065 724h5M1110 724h10M1125 724h5M1135 724h5M1165 724h5M1180 724h5M1195 724h10M1065 728h10M1120 728h20M975 732h5M1000 732h10M1015 732h15M1170 732h5M1015 736h10M1055 736h5M1180 736h20M995 740h10M1010 740h10M1065 740h5M1110 740h5M1145 740h10M1160 740h10M1070 744h5M1110 744h10M1165 744h10M1050 748h10M1070 748h5M1135 748h5M1155 748h5M1000 752h10M1015 752h5M1040 752h10M1075 752h5M1115 752h15M1145 752h5M1155 752h25M1195 752h5M1215 752h10M1230 752h4M970 756h10M1010 756h5M1020 756h5M1035 756h5M1045 756h20M1140 756h5M1150 756h5M1195 756h10M955 760h5M975 760h15M995 760h5M1035 760h25M1070 760h5M1130 760h10M1145 760h10M1160 760h10M1180 760h10M955 764h20M1030 764h25M1060 764h5M1155 764h10M965 768h15M1005 768h10M1025 768h5M1035 768h30M1160 768h10M945 772h5M960 772h15M980 772h25M1015 772h5M1030 772h10M1115 772h25M1145 772h20M1170 772h5M965 776h15M1000 776h5M1015 776h10M1130 776h5M1140 776h5M1165 776h15M1220 776h5M945 780h20M1005 780h20M1110 780h25M1160 780h15M1225 780h9M945 784h5M975 784h10M1020 784h25M1165 784h10M1230 784h4M950 788h5M980 788h10M995 788h25M1160 788h15M1180 788h10M1215 788h19M965 792h25M1145 792h20M1170 792h15M1220 792h5M1145 796h5M1165 796h20M1190 796h35M945 800h10M980 800h5M995 800h5M1170 800h25M1210 800h10M945 804h5M1190 804h5M1200 804h34M1210 808h20M945 812h5M980 812h5M970 816h50M1185 816h10M1230 820h4M1015 824h10M1190 832h5M1205 832h5M1220 836h10M1200 840h15M985 844h5M995 844h5M1210 844h5M1165 852h5M1205 856h15M1175 860h10M985 868h10"/>
<path stroke="#f9ece4" stroke-width="4" d="M1035 636h5M1045 640h5M1035 644h5M1045 644h5M1030 648h5M1045 648h5M1030 652h5M1050 656h5M1030 668h5M950 672h5M965 676h10M1210 676h5M945 680h10M1005 680h5M1020 680h10M1050 680h5M960 684h15M1050 684h5M1200 684h10M1225 684h5M965 688h10M1010 688h5M1030 688h5M1125 688h5M1135 688h5M1205 688h5M960 692h5M1050 692h5M1120 692h5M1050 696h5M1125 696h5M1195 696h5M995 704h20M1055 704h5M1125 704h10M965 708h5M995 708h5M1005 708h5M1025 708h5M1120 708h5M960 712h5M990 712h10M1050 712h5M1125 712h10M980 716h5M1205 716h5M960 720h5M970 720h5M1005 720h10M1050 720h5M1025 724h5M1050 724h5M1060 724h5M1120 724h5M1205 724h5M960 728h5M1055 728h5M1200 728h5M1030 732h5M1045 732h5M1230 732h4M985 736h15M1030 736h5M965 740h5M975 740h15M1030 740h10M1060 740h5M1190 740h5M1065 744h5M1130 744h5M1140 744h10M1180 744h10M1195 744h10M980 748h10M995 748h5M1025 748h5M1035 748h10M1115 748h20M970 752h15M950 756h5M990 756h5M1005 756h5M1170 756h10M1215 756h5M960 760h10M1005 760h5M1015 760h10M1210 760h5M1230 760h4M945 764h10M985 764h10M1195 764h5M1190 768h5M1230 768h4M1180 772h10M1195 776h20M1180 780h5M1195 780h5M1180 784h15M1200 784h25"/>
<path stroke="#fbe6da" stroke-width="4" d="M1040 636h5M1035 640h5M1040 644h5M1035 648h10M1030 660h5M1030 664h5M1210 664h15M1045 668h5M1050 672h5M1210 672h10M1225 672h5M960 676h5M1045 676h5M1225 676h5M1010 680h10M1205 680h5M945 684h5M955 684h5M960 688h5M975 688h5M1000 688h5M1050 688h5M1130 688h5M1140 692h5M1230 692h4M960 696h5M1140 696h5M1200 696h5M955 700h5M1220 700h5M960 704h5M1205 704h5M960 708h5M1000 708h5M965 712h15M1115 712h10M1210 712h5M955 716h5M1040 716h5M955 720h5M985 720h5M1195 720h5M995 724h5M1055 724h5M955 728h5M990 728h20M1015 728h10M1030 728h5M960 732h5M1210 732h5M965 736h5M975 736h5M1035 736h5M1045 736h5M1230 736h4M955 740h5M1050 740h5M945 744h5M965 744h5M980 744h5M1000 744h30M1055 744h10M945 748h20M1030 748h5M1160 748h15M1205 748h5M965 752h5M945 756h5M985 756h5M995 756h10M1220 756h14M1215 760h5M1230 764h4M1200 768h5M1225 768h5M1190 772h5"/>
<path stroke="#f8f1ed" stroke-width="4" d="M1045 636h5M1030 640h5M1050 652h5M1210 652h15M1025 656h5M1050 660h5M1215 660h15M945 664h5M1050 664h5M1205 664h5M1225 664h5M1210 668h15M945 672h5M955 672h5M970 672h10M1015 672h5M1025 672h5M1055 672h5M1230 672h4M975 676h5M1030 676h5M1230 676h4M980 680h5M995 680h5M1200 680h5M1135 684h5M1230 684h4M1020 688h5M1120 688h5M1140 688h5M965 692h15M1200 692h5M965 696h5M1015 696h15M1120 696h5M1150 696h5M965 704h5M990 704h5M1015 704h5M1025 704h5M1120 704h5M1135 704h10M970 708h5M1010 708h5M1125 708h5M1200 708h5M1055 712h10M1110 712h5M960 716h5M970 716h10M1035 716h5M965 720h5M1015 720h10M1120 720h20M1190 720h5M1030 724h5M1130 724h5M1060 728h5M1190 728h10M965 732h10M1010 732h5M1205 732h5M1000 736h15M1025 736h5M1050 736h5M1200 736h5M960 740h5M970 740h5M990 740h5M1005 740h5M1020 740h10M1055 740h5M1155 740h5M1185 740h5M1125 744h5M1135 744h5M1175 744h5M1190 744h5M990 748h5M1000 748h25M1045 748h5M1060 748h10M1110 748h5M1140 748h15M985 752h15M1010 752h5M1130 752h15M1150 752h5M1185 752h10M1225 752h5M955 756h5M980 756h5M1015 756h5M1040 756h5M1155 756h15M1180 756h15M1205 756h10M945 760h10M970 760h5M990 760h5M1000 760h5M1010 760h5M1025 760h10M1060 760h10M1190 760h20M980 764h5M995 764h35M1055 764h5M1165 764h30M980 768h25M1170 768h20M1195 768h5M950 772h10M1165 772h5M1175 772h5M1230 772h4M945 776h20M1180 776h15M1215 776h5M1175 780h5M1185 780h10M1200 780h25M1175 784h5M1195 784h5M1225 784h5M1190 788h25M1185 792h35M1185 796h5M1220 800h14"/>
<path stroke="#e8f0f4" stroke-width="4" d="M1185 636h5M1100 644h5M1125 648h20M1080 652h5M1145 652h20M1175 652h15M1075 656h25M1150 656h10M1180 656h5M950 660h10M1070 660h10M1105 660h10M1120 660h5M1185 660h15M1070 664h10M1105 664h20M1130 664h10M1185 664h5M950 668h5M965 668h15M985 668h5M1055 668h15M1110 668h5M1130 668h25M1065 672h5M1105 672h5M1115 672h5M1130 672h10M1185 672h5M1060 676h5M1110 676h5M1145 676h5M1190 676h15M985 680h5M1055 680h10M1140 680h5M1185 680h5M1070 684h5M1110 684h5M1150 684h5M1185 684h5M1070 688h10M1190 688h10M1000 692h15M1020 692h5M1110 692h5M1185 692h5M990 696h5M1000 696h10M1060 696h5M1075 696h5M1115 696h5M965 700h20M990 700h5M1040 700h5M1205 700h10M1230 700h4M1110 704h5M1145 704h10M1190 704h5M975 708h5M1190 708h5M1025 712h5M1105 712h5M1140 712h5M1180 712h15M1025 716h5M1050 716h5M1060 716h10M1120 716h5M1130 716h5M1140 716h5M1070 720h10M1085 720h10M1155 720h5M1165 720h5M1075 724h5M1145 724h10M1075 728h5M1150 728h5M1170 728h10M990 732h5M1055 732h5M1065 732h10M1125 732h5M1175 732h5M1185 732h5M1165 736h5M1120 740h10M1140 740h5M1170 740h10M1075 744h5M1100 744h5M1150 744h15M1065 752h5M1080 752h25M1205 752h5M1075 756h5M1105 756h5M1075 760h5M1105 760h10M1070 764h5M1100 764h5M1120 764h25M1105 768h5M1005 772h5M1075 772h5M1100 772h5M1065 776h10M1080 776h5M1095 776h5M1230 776h4M1075 780h10M1095 780h5M1000 784h5M1060 784h45M1110 784h20M1055 788h15M1100 788h15M1140 788h5M1015 792h30M1055 792h10M1080 792h35M965 796h5M1035 796h50M1090 796h35M1050 800h5M1080 800h10M1110 800h25M1035 804h110M1050 808h25M1090 808h35M1060 812h50M1055 816h30M1090 816h30M1035 820h5M1050 820h65M1040 824h75M1120 824h5M1075 832h5"/>
<path stroke="#fce1d1" stroke-width="4" d="M1040 640h5M1045 652h5M1030 656h5M1220 672h5M1215 676h10M1230 680h4M950 684h5M975 684h5M1025 684h5M1220 684h5M980 688h5M995 688h5M1005 688h5M1030 692h5M1125 692h5M1205 692h5M1205 696h5M1230 696h4M1225 700h5M1050 708h5M980 712h10M1045 712h5M950 720h5M975 720h10M1000 720h5M1025 720h5M1200 720h5M960 724h10M980 724h5M990 724h5M1000 724h5M1010 724h15M945 728h5M985 728h5M1010 728h5M1025 728h5M1050 728h5M1205 728h5M955 732h5M945 736h5M955 736h10M970 736h5M980 736h5M1205 736h5M1040 740h10M1195 740h5M1230 740h4M985 744h5M995 744h5M1205 744h5M965 748h15M1185 748h5M1195 748h10M1230 748h4M945 752h5M960 752h5M1225 760h5M1200 764h5M1225 764h5M1205 768h15M1195 772h10M1220 772h10"/>
<path stroke="#fbd0b9" stroke-width="4" d="M1035 652h5M1045 664h5M1035 668h5M950 676h5M985 684h5M1030 684h5M955 688h5M955 692h5M955 696h5M1030 696h5M950 700h5M955 708h5M1205 708h5M1040 712h5M945 716h5M945 720h5M995 720h5M1030 720h5M1205 720h5M1230 720h4M970 724h5M1005 724h5M980 728h5M1230 728h4M1040 732h5M1215 732h5M1225 732h5M950 736h5M1210 736h5M1205 740h5M950 744h5M1035 744h10M1230 744h4M1180 748h5M1225 748h5M1215 764h5"/>
<path stroke="#f9c5ab" stroke-width="4" d="M1040 652h5M1045 660h5M1040 668h5M1040 676h5M1045 680h5M1225 680h5M990 684h5M1015 684h5M1045 684h5M1035 688h5M1045 688h5M1225 692h5M950 696h5M945 700h5M1215 712h5M1230 712h4M1210 716h5M1220 716h5M1045 720h5M1040 724h5M1210 724h5M1035 728h5M945 732h10M1220 732h5M1215 748h10"/>
<path stroke="#e0ecf3" stroke-width="4" d="M1165 652h10M1160 656h10M1175 656h5M1080 660h5M1100 660h5M1150 660h5M1175 660h10M1080 664h5M1140 664h10M1180 664h5M1105 668h5M1155 668h5M1180 668h5M1070 672h5M1140 672h5M1170 672h15M1065 676h5M1150 676h5M1185 676h5M1100 680h10M1145 680h5M1155 684h5M1110 688h5M1150 688h5M1160 688h5M1185 688h5M1065 692h10M1080 696h5M1155 696h20M985 700h5M995 700h5M1030 700h5M1050 700h5M1125 700h20M1070 704h5M1105 708h10M1150 708h5M1195 708h5M1070 712h5M1000 716h10M1015 716h10M1125 716h5M1190 716h10M1080 720h5M1095 720h5M1170 720h10M1080 724h5M1155 724h5M1110 728h5M1155 728h10M985 732h5M1060 732h5M1075 732h5M1100 732h5M1155 732h5M1145 736h10M1075 740h5M1100 740h5M1075 748h5M1210 752h5M1075 764h5M1095 764h5M1075 768h5M1095 772h5M1075 776h5M1085 776h10M1085 780h10M1070 788h30M1075 808h15M1085 816h5"/>
<path stroke="#f6b090" stroke-width="4" d="M1035 656h5M1035 672h5M1045 672h5M1005 684h5M1045 692h5M1225 696h5M1210 704h5M1230 704h4M950 708h5M1035 720h5M1230 724h4M1210 728h5M1210 744h5"/>
<path stroke="#ee9777" stroke-width="4" d="M1040 656h5M1040 664h5M1035 680h5M1035 684h5M1045 708h5M945 712h5M1225 712h5M1215 728h5M1215 736h5"/>
<path stroke="#f8bb9e" stroke-width="4" d="M1045 656h5M1035 660h5M1035 664h5M1035 676h5M1215 680h10M995 684h10M1010 684h5M1225 688h5M1210 692h5M1210 696h5M945 708h5M1030 708h5M950 716h5M955 724h5M1045 728h5M1225 736h5M1225 740h5"/>
<path stroke="#d9e9f1" stroke-width="4" d="M1170 656h5M1085 660h5M1095 660h5M1155 660h10M1095 664h10M1150 664h5M1175 664h5M1070 668h5M1175 668h5M1100 672h5M1145 672h5M1165 672h5M1105 676h5M1180 676h5M1065 680h10M1150 680h5M1160 680h5M1175 680h10M1180 684h5M1170 688h15M1075 692h5M1150 692h5M1175 692h10M1065 696h10M1175 696h5M1000 700h5M1010 700h5M1025 700h5M1035 700h5M1120 700h5M1105 704h5M1180 704h5M1065 708h5M1145 708h5M1155 708h10M1185 708h5M1080 712h5M1170 712h10M1055 716h5M1070 716h5M1145 716h10M1095 724h5M1080 728h5M1165 728h5M1130 732h5M1150 732h5M1100 736h5M1155 736h10M1095 740h5M1100 748h5M1080 756h5M1100 756h5M1100 768h5M1080 772h10"/>
<path stroke="#e8896d" stroke-width="4" d="M1040 660h5M1040 684h5M1220 688h5M1215 696h10M945 704h5M1035 704h10M1210 708h5M1040 720h5M1210 720h5M950 724h5M1215 724h5M1225 724h5M1040 728h5M1220 728h5M1215 744h5"/>
<path stroke="#d1e5f0" stroke-width="4" d="M1090 660h5M1165 660h10M1085 664h10M1165 664h10M1075 668h5M1100 668h5M1160 668h15M1075 672h5M1150 672h15M1070 676h5M1100 676h5M1155 676h5M1175 676h5M1095 680h5M1155 680h5M1170 680h5M1075 684h5M1105 684h5M1165 684h5M1175 684h5M1080 688h5M1155 688h5M1165 688h5M1105 692h5M1155 692h5M1110 696h5M1005 700h5M1015 700h10M1055 700h5M1115 700h5M1190 700h15M1155 704h5M1170 704h5M1070 708h5M1170 708h5M1075 712h5M1095 712h5M1165 712h5M1075 716h5M1115 716h5M1155 716h5M1170 716h5M1180 716h10M1230 716h4M1085 724h10M1105 728h5M1080 732h5M1135 732h15M1080 736h10M1080 744h5M1095 744h5M1095 756h5M1100 760h5M1080 764h5M1090 772h5"/>
<path stroke="#c4dfec" stroke-width="4" d="M1155 664h5M1080 668h5M1095 668h5M1090 672h10M1095 676h5M1160 676h5M1075 680h10M1100 684h5M1160 684h5M1170 684h5M1105 688h5M1080 692h5M1090 692h5M1100 692h5M1060 700h5M1110 700h5M1185 700h5M1160 704h5M1175 704h5M1180 708h5M1085 712h5M1145 712h10M1110 716h5M1160 716h5M1175 716h5M1085 732h5M1095 732h5M1095 736h5M1080 740h5M1080 760h5M1085 764h10M1080 768h5"/>
<path stroke="#b8d8e9" stroke-width="4" d="M1160 664h5M1090 668h5M1085 672h5M1075 676h5M1165 676h10M1165 680h5M1080 684h5M1085 688h5M1160 692h5M1170 692h5M1090 696h5M1145 700h5M1180 700h5M1075 704h5M1100 704h5M1165 704h5M1100 708h5M1165 708h5M1175 708h5M1155 712h10M1080 716h5M1165 716h5M1085 728h5M1100 728h5M1090 732h5M1090 736h5M1085 740h10M1085 744h10M1085 756h5M1095 768h5"/>
<path stroke="#abd2e5" stroke-width="4" d="M1085 668h5M1080 676h5M1090 676h5M1090 680h5M1090 688h5M1085 692h5M1095 692h5M1085 696h5M1095 696h5M1065 700h5M1175 700h5M1095 704h5M1075 708h5M1090 712h5M1100 716h10M1080 748h5M1090 756h5M1085 760h5"/>
<path stroke="#fddbc7" stroke-width="4" d="M1030 672h5M945 676h5M955 676h5M1030 680h5M1210 680h5M980 684h5M1020 684h5M1210 684h10M985 688h10M1210 688h5M1230 688h4M1130 692h10M945 696h5M1130 696h10M955 704h5M1030 704h5M1050 704h5M1230 708h4M955 712h5M990 720h5M975 724h5M985 724h5M1035 724h5M1045 724h5M950 728h5M965 728h15M1035 732h5M1040 736h5M945 740h10M1200 740h5M955 744h10M970 744h10M990 744h5M1030 744h5M1045 744h10M1175 748h5M1190 748h5M1210 748h5M950 752h10M1220 760h5M1205 764h10M1220 764h5M1220 768h5M1205 772h15"/>
<path stroke="#e27c62" stroke-width="4" d="M1040 672h5M1040 680h5M1040 688h5M1035 692h10M1215 692h5M1225 708h5M1225 728h5M1220 740h5M1220 744h5"/>
<path stroke="#9fcbe2" stroke-width="4" d="M1080 672h5M1085 680h5M1100 688h5M1105 696h5M1085 704h5M1095 708h5M1095 716h5M1095 748h5M1095 760h5M1085 768h10"/>
<path stroke="#92c5de" stroke-width="4" d="M1085 676h5M1095 688h5M1165 692h5M1100 696h5M1105 700h5M1080 704h5M1090 704h5M1080 708h5M1090 728h10M1085 748h5"/>
<path stroke="#82bbd9" stroke-width="4" d="M1085 684h5M1095 684h5M1150 700h5M1090 708h5M1085 716h10M1090 760h5"/>
<path stroke="#539dc8" stroke-width="4" d="M1090 684h5M1075 700h5"/>
<path stroke="#f4a582" stroke-width="4" d="M945 688h10M1215 688h5M945 692h10M1220 692h5M1045 696h5M950 704h5M1045 704h5M950 712h5M1220 712h5M1215 716h5M1225 720h5M945 724h5M1220 736h5M1210 740h5M1225 744h5"/>
<path stroke="#d6604d" stroke-width="4" d="M1035 696h5M1225 704h5M1035 708h5M1220 724h5M1215 740h5"/>
<path stroke="#cf5246" stroke-width="4" d="M1040 696h5M1215 720h5"/>
<path stroke="#72b1d3" stroke-width="4" d="M1070 700h5M1100 700h5M1170 700h5M1085 708h5"/>
<path stroke="#4393c3" stroke-width="4" d="M1080 700h5M1155 700h5"/>
<path stroke="#3c8abe" stroke-width="4" d="M1085 700h10"/>
<path stroke="#63a7ce" stroke-width="4" d="M1095 700h5M1090 748h5"/>
<path stroke="#3581ba" stroke-width="4" d="M1160 700h10"/>
<path stroke="#b92632" stroke-width="4" d="M1215 704h5M1040 708h5"/>
<path stroke="#a31329" stroke-width="4" d="M1220 704h5M1220 708h5"/>
<path stroke="#c8433f" stroke-width="4" d="M1215 708h5"/>
<path stroke="#dc6e58" stroke-width="4" d="M1220 720h5"/>
</g>
<path d="M930.2 605.6L930.2 889.7" stroke="#000" stroke-width="4"/>
<path d="M928.2 887.7L1249 887.7" stroke="#000" stroke-width="4"/>
<path d="M919 617.7L928.2 617.7" stroke="#333" stroke-width="4"/>
<text x="909.6" y="623.5" font-size="16.2" text-anchor="end" fill="#4d4d4d">200</text>
<path d="M919 681.7L928.2 681.7" stroke="#333" stroke-width="4"/>
<text x="909.6" y="687.5" font-size="16.2" text-anchor="end" fill="#4d4d4d">175</text>
<path d="M919 745.6L928.2 745.6" stroke="#333" stroke-width="4"/>
<text x="909.6" y="751.4" font-size="16.2" text-anchor="end" fill="#4d4d4d">150</text>
<path d="M919 809.6L928.2 809.6" stroke="#333" stroke-width="4"/>
<text x="909.6" y="815.4" font-size="16.2" text-anchor="end" fill="#4d4d4d">125</text>
<path d="M919 873.5L928.2 873.5" stroke="#333" stroke-width="4"/>
<text x="909.6" y="879.3" font-size="16.2" text-anchor="end" fill="#4d4d4d">100</text>
<path d="M944.9 889.7L944.9 897.6" stroke="#333" stroke-width="4"/>
<text x="944.9" y="919.3" font-size="16.2" text-anchor="middle" fill="#4d4d4d">−500</text>
<path d="M1017.3 889.7L1017.3 897.6" stroke="#333" stroke-width="4"/>
<text x="1017.3" y="919.3" font-size="16.2" text-anchor="middle" fill="#4d4d4d">−250</text>
<path d="M1089.7 889.7L1089.7 897.6" stroke="#333" stroke-width="4"/>
<text x="1089.7" y="919.3" font-size="16.2" text-anchor="middle" fill="#4d4d4d">0</text>
<path d="M1162.1 889.7L1162.1 897.6" stroke="#333" stroke-width="4"/>
<text x="1162.1" y="919.3" font-size="16.2" text-anchor="middle" fill="#4d4d4d">250</text>
<path d="M1234.5 889.7L1234.5 897.6" stroke="#333" stroke-width="4"/>
<text x="1234.5" y="919.3" font-size="16.2" text-anchor="middle" fill="#4d4d4d">500</text>
<text x="1089.7" y="949" font-size="20.3" text-anchor="middle">Distance from NDR center</text>
<text transform="translate(867.2 745.5) rotate(-90)" font-size="20.3" text-anchor="middle">Fragment size</text>
<text x="1089.7" y="577" font-size="24" text-anchor="middle">esophagus</text>
<g>
<rect x="1342" y="618" width="290" height="256" fill="#f8f1ed"/>
<path stroke="#f9ece4" stroke-width="4" d="M1382 620h5M1392 620h10M1442 620h5M1492 620h15M1342 624h20M1447 624h25M1497 624h10M1592 624h10M1362 628h10M1422 628h30M1497 628h10M1532 628h25M1592 628h5M1602 628h5M1387 632h5M1487 632h10M1507 632h25M1597 632h5M1607 632h25M1372 636h5M1417 636h5M1462 636h25M1492 636h15M1527 636h10M1542 636h15M1602 636h15M1382 640h20M1367 644h15M1457 644h25M1487 644h10M1502 644h5M1527 644h10M1387 648h5M1492 648h5M1617 648h15M1357 652h10M1372 652h25M1487 652h10M1597 652h25M1342 656h5M1352 656h30M1507 656h5M1552 656h30M1592 656h30M1342 660h25M1372 660h5M1382 660h10M1397 660h35M1462 660h25M1507 660h5M1552 660h55M1627 660h5M1402 664h10M1417 664h10M1432 664h15M1452 664h10M1482 664h5M1542 664h60M1342 668h5M1417 668h15M1487 668h5M1512 668h5M1527 668h5M1542 668h15M1357 672h5M1402 672h10M1422 672h5M1487 672h5M1507 672h5M1557 672h5M1582 672h5M1597 672h5M1342 676h20M1427 676h5M1462 676h15M1507 676h5M1347 680h10M1407 680h15M1507 680h5M1622 680h10M1342 684h10M1407 684h5M1462 684h5M1342 688h25M1392 688h10M1577 688h5M1607 688h5M1627 688h5M1407 692h5M1477 692h15M1532 692h5M1627 692h5M1342 696h5M1357 696h10M1407 696h5M1542 696h5M1557 696h10M1412 700h5M1472 700h5M1482 700h5M1482 704h5M1507 704h5M1422 708h5M1482 708h5M1492 708h5M1342 712h10M1412 712h5M1422 712h10M1342 716h5M1352 716h5M1367 716h5M1397 716h5M1497 716h5M1572 716h5M1597 716h5M1342 720h15M1367 720h5M1397 720h5M1552 720h5M1567 720h10M1607 720h10M1342 724h20M1367 724h10M1387 724h10M1542 724h5M1612 724h5M1342 728h5M1412 728h5M1492 728h5M1537 728h10M1552 728h5M1592 728h5M1602 728h5M1362 732h5M1372 732h10M1477 732h5M1567 732h5M1397 736h5M1482 736h5M1567 736h5M1587 736h5M1352 740h5M1472 740h10M1562 740h5M1372 744h15M1467 744h10M1492 744h5M1502 744h5M1562 744h5M1607 744h5M1357 748h5M1387 748h5M1417 748h5M1462 748h15M1507 748h5M1542 748h5M1552 748h20M1577 748h20M1382 752h15M1492 752h5M1532 752h5M1572 752h10M1387 756h10M1492 756h5M1342 760h20M1377 760h5M1417 760h10M1462 760h15M1487 760h10M1502 760h5M1552 760h10M1567 760h20M1387 764h10M1402 764h20M1467 764h10M1482 764h15M1502 764h5M1532 764h10M1577 764h20M1352 768h10M1367 768h10M1382 768h5M1407 768h5M1417 768h5M1437 768h5M1467 768h5M1557 768h10M1577 768h15M1607 768h25M1342 772h15M1377 772h5M1432 772h5M1497 772h5M1342 776h10M1367 776h5M1377 776h5M1417 776h5M1427 776h5M1462 776h35M1537 776h5M1592 776h15M1612 776h20M1502 780h5M1532 780h15M1572 780h20M1622 780h5M1342 784h10M1377 784h10M1417 784h15M1482 784h15M1532 784h25M1592 784h5M1602 784h30M1352 788h15M1422 788h35M1497 788h10M1362 792h15M1412 792h10M1432 792h5M1472 792h10M1487 792h10M1507 792h35M1557 792h20M1597 792h15M1357 796h30M1497 796h10M1522 796h5M1532 796h10M1372 800h5M1382 800h5M1442 800h25M1487 800h10M1502 800h5M1457 804h25M1497 804h10M1372 808h5M1402 808h40M1502 808h5M1542 808h5M1557 808h5M1342 812h5M1352 812h15M1372 812h45M1422 812h40M1497 812h10M1597 812h15M1377 816h10M1402 816h25M1452 816h5M1462 816h25M1492 816h15M1512 816h5M1522 816h10M1542 816h5M1552 816h20M1627 816h5M1367 820h5M1382 820h10M1397 820h5M1497 820h5M1382 824h10M1417 824h5M1427 824h5M1477 824h10M1497 824h10M1557 824h5M1497 832h5M1497 836h5M1397 844h25M1472 844h5M1607 844h5M1357 852h10M1497 852h10M1542 852h5M1497 856h5M1612 856h5M1622 856h10M1367 860h5M1497 864h5M1582 868h5"/>
<path stroke="#fbe6da" stroke-width="4" d="M1497 632h10M1497 644h5M1497 648h10M1502 652h5M1367 660h5M1377 660h5M1487 660h5M1607 660h5M1617 660h10M1342 664h20M1392 664h10M1462 664h20M1487 664h5M1507 664h5M1602 664h5M1347 668h5M1402 668h5M1412 668h5M1507 668h5M1532 668h10M1557 668h10M1582 668h5M1597 668h5M1397 672h5M1562 672h20M1602 672h10M1422 676h5M1477 676h15M1537 676h45M1402 680h5M1492 680h5M1557 680h5M1352 684h5M1402 684h5M1467 684h5M1482 684h5M1507 684h5M1547 684h5M1557 684h5M1367 688h10M1387 688h5M1497 688h5M1552 688h5M1582 688h5M1592 688h15M1462 692h5M1472 692h5M1492 692h10M1537 692h10M1352 696h5M1377 696h15M1397 696h10M1497 696h10M1552 696h5M1607 696h10M1342 700h5M1407 700h5M1487 700h5M1507 700h5M1622 700h10M1417 704h20M1487 704h10M1537 704h5M1417 708h5M1507 708h5M1627 708h5M1417 712h5M1492 712h5M1502 712h5M1537 712h5M1577 716h10M1592 716h5M1387 720h5M1497 720h5M1557 720h5M1362 724h5M1377 724h10M1592 724h5M1602 724h10M1617 724h5M1392 728h5M1407 728h5M1457 728h5M1482 728h5M1502 728h5M1532 728h5M1587 728h5M1347 732h15M1467 732h10M1502 732h5M1537 732h5M1392 736h5M1462 736h10M1572 736h5M1582 736h5M1497 740h10M1537 740h10M1552 740h5M1387 744h5M1497 744h5M1352 748h5M1497 748h10M1572 748h5M1502 756h5M1477 760h10M1562 760h5M1397 764h5M1477 764h5M1412 768h5M1422 768h15M1472 768h20M1567 768h10M1352 776h15M1502 776h5M1607 776h5M1497 780h5M1497 784h10M1497 792h10M1497 800h5"/>
<path stroke="#f7f7f7" stroke-width="4" d="M1522 640h10M1537 640h5M1437 644h5M1527 648h5M1447 652h5M1517 652h5M1442 656h15M1517 656h10M1437 660h10M1452 660h5M1517 660h15M1517 664h15M1457 668h5M1522 668h5M1437 672h5M1457 672h5M1477 672h5M1512 672h5M1547 672h5M1437 676h5M1527 676h5M1437 680h5M1472 680h5M1512 680h5M1422 684h5M1437 684h5M1537 684h5M1412 688h5M1477 688h5M1487 688h5M1502 688h5M1412 692h5M1452 692h5M1527 692h5M1417 696h5M1462 696h5M1482 696h5M1507 696h5M1532 696h5M1417 700h10M1462 700h5M1477 704h5M1512 708h5M1527 708h5M1432 712h5M1462 712h5M1472 712h5M1532 712h5M1472 716h5M1482 716h15M1547 716h10M1402 720h10M1427 720h10M1462 720h5M1507 720h5M1537 720h10M1592 720h10M1622 720h5M1402 724h5M1412 724h10M1427 724h10M1417 728h10M1607 728h20M1402 732h10M1462 732h5M1507 732h5M1532 732h5M1572 732h5M1582 732h5M1592 732h5M1602 732h5M1617 732h5M1347 736h5M1357 736h5M1457 736h5M1492 736h10M1537 736h5M1547 736h5M1612 736h5M1342 740h10M1362 740h10M1397 740h20M1422 740h5M1487 740h10M1507 740h5M1532 740h5M1577 740h5M1592 740h5M1357 744h15M1412 744h5M1427 744h10M1537 744h5M1572 744h10M1587 744h5M1617 744h5M1627 744h5M1362 748h5M1397 748h10M1412 748h5M1437 748h5M1482 748h5M1532 748h5M1597 748h5M1622 748h10M1342 752h10M1357 752h5M1367 752h5M1402 752h5M1422 752h15M1477 752h5M1512 752h5M1527 752h5M1542 752h10M1557 752h5M1587 752h5M1357 756h25M1407 756h10M1462 756h5M1507 756h5M1537 756h5M1572 756h20M1627 756h5M1397 760h5M1437 760h10M1452 760h5M1507 760h5M1532 760h15M1602 760h20M1347 764h25M1437 764h5M1457 764h5M1507 764h5M1527 764h5M1607 764h20M1447 768h10M1512 768h5M1402 772h15M1442 772h15M1462 772h10M1537 772h5M1547 772h10M1567 772h5M1627 772h5M1437 776h5M1447 776h10M1512 776h5M1522 776h10M1447 780h10M1467 780h10M1482 780h5M1507 780h25M1447 784h10M1462 784h5M1517 784h5M1512 788h5M1522 788h10M1627 796h5"/>
<path stroke="#fce1d1" stroke-width="4" d="M1497 652h5M1492 656h5M1502 656h5M1502 660h5M1612 660h5M1362 664h5M1607 664h5M1627 664h5M1352 668h5M1397 668h5M1407 668h5M1492 668h5M1567 668h5M1577 668h5M1587 668h10M1627 668h5M1362 672h5M1492 672h5M1622 672h5M1362 676h5M1412 676h10M1582 676h5M1592 676h5M1627 676h5M1357 680h5M1387 680h15M1502 680h5M1562 680h5M1612 680h10M1357 684h5M1472 684h10M1487 684h5M1552 684h5M1622 684h10M1377 688h10M1562 688h15M1587 688h5M1402 692h5M1457 692h5M1467 692h5M1502 692h5M1612 692h5M1622 692h5M1367 696h5M1392 696h5M1547 696h5M1567 696h15M1597 696h10M1492 700h5M1537 700h15M1617 700h5M1402 704h15M1542 704h10M1617 704h15M1347 708h5M1412 708h5M1462 708h5M1472 708h10M1622 708h5M1407 712h5M1572 712h5M1597 712h10M1357 716h10M1392 716h5M1587 716h5M1392 720h5M1562 720h5M1477 724h5M1547 724h5M1597 724h5M1387 728h5M1397 728h10M1472 728h10M1497 728h5M1557 728h5M1582 728h5M1367 732h5M1542 732h5M1552 732h5M1562 732h5M1367 736h25M1472 736h10M1577 736h5M1547 740h5M1557 740h5M1342 748h10M1497 756h5M1497 760h5M1497 764h5M1492 768h5M1497 776h5"/>
<path stroke="#fbd0b9" stroke-width="4" d="M1497 656h5M1497 660h5M1377 664h10M1502 664h5M1617 664h5M1362 668h5M1367 672h5M1387 672h5M1497 672h5M1372 676h5M1402 676h5M1492 676h5M1372 680h10M1497 680h5M1577 680h10M1362 684h5M1397 684h5M1502 684h5M1572 684h5M1602 684h10M1347 692h10M1392 692h10M1562 692h10M1597 692h5M1607 692h5M1352 700h5M1402 700h5M1552 700h5M1607 700h10M1342 704h10M1397 704h5M1502 704h5M1557 704h15M1577 704h5M1597 704h10M1357 708h10M1407 708h5M1537 708h10M1617 708h5M1392 712h5M1547 712h5M1577 712h5M1607 712h5M1372 716h5M1382 716h5M1377 720h5M1462 724h10M1572 724h15M1352 728h5M1382 728h5M1467 728h5M1562 728h10M1497 752h5M1497 768h5"/>
<path stroke="#eff3f6" stroke-width="4" d="M1447 660h5M1442 668h5M1452 668h5M1442 672h5M1532 672h5M1542 672h5M1452 676h5M1512 676h5M1452 680h5M1542 680h5M1462 688h15M1537 688h5M1417 692h5M1447 692h5M1512 692h5M1622 696h10M1427 700h5M1457 700h5M1462 704h15M1512 704h5M1402 716h5M1462 716h10M1507 716h5M1537 716h10M1602 716h10M1417 720h10M1587 720h5M1627 720h5M1487 724h10M1507 724h5M1532 724h5M1512 728h5M1527 728h5M1412 732h5M1427 732h10M1457 732h5M1587 732h5M1622 732h10M1407 736h5M1502 736h5M1532 736h5M1617 736h15M1372 740h5M1387 740h10M1572 740h5M1582 740h10M1437 744h5M1457 744h5M1507 744h5M1532 744h5M1582 744h5M1622 744h5M1392 748h5M1527 748h5M1362 752h5M1407 752h15M1437 752h5M1457 752h5M1347 756h5M1417 756h20M1457 756h5M1532 756h5M1592 756h35M1447 760h5M1512 760h10M1527 760h5M1442 764h5M1517 764h10M1517 768h5M1527 768h5M1457 772h5M1507 772h5M1442 776h5M1517 776h5"/>
<path stroke="#fddbc7" stroke-width="4" d="M1492 660h5M1367 664h10M1387 664h5M1492 664h5M1612 664h5M1622 664h5M1357 668h5M1382 668h15M1502 668h5M1572 668h5M1602 668h5M1392 672h5M1502 672h5M1367 676h5M1407 676h5M1502 676h5M1587 676h5M1597 676h5M1362 680h5M1382 680h5M1567 680h10M1592 680h20M1492 684h5M1562 684h10M1617 684h5M1557 688h5M1342 692h5M1547 692h15M1617 692h5M1372 696h5M1582 696h15M1347 700h5M1357 700h5M1552 704h5M1587 704h10M1607 704h5M1342 708h5M1352 708h5M1467 708h5M1497 708h10M1532 708h5M1352 712h5M1397 712h10M1497 712h5M1542 712h5M1557 712h15M1587 712h10M1622 712h10M1387 716h5M1372 720h5M1382 720h5M1472 724h5M1552 724h10M1587 724h5M1347 728h5M1462 728h5M1577 728h5M1497 732h5M1547 732h5M1557 732h5M1502 752h5M1502 768h5"/>
<path stroke="#f8bb9e" stroke-width="4" d="M1497 664h5M1377 668h5M1612 668h5M1377 676h5M1607 676h5M1367 684h5M1392 684h5M1497 684h5M1582 684h10M1597 684h5M1357 692h5M1592 692h5M1372 700h5M1397 700h5M1587 700h5M1552 708h10M1612 708h5M1377 716h5M1567 724h5M1357 728h5"/>
<path stroke="#f9c5ab" stroke-width="4" d="M1367 668h10M1497 668h5M1607 668h5M1622 668h5M1372 672h5M1612 672h10M1397 676h5M1497 676h5M1602 676h5M1622 676h5M1367 680h5M1587 680h5M1577 684h5M1612 684h5M1572 692h10M1602 692h5M1362 700h10M1497 700h10M1557 700h5M1602 700h5M1352 704h5M1572 704h5M1582 704h5M1612 704h5M1392 708h5M1402 708h5M1547 708h5M1552 712h5M1582 712h5M1612 712h10M1562 724h5M1572 728h5"/>
<path stroke="#e8f0f4" stroke-width="4" d="M1447 668h5M1452 672h5M1537 672h5M1442 676h10M1522 676h5M1442 680h5M1532 680h5M1512 684h5M1532 684h5M1417 688h5M1507 688h5M1437 692h5M1422 696h5M1432 700h10M1512 700h5M1457 704h5M1437 712h5M1407 716h5M1532 716h5M1617 716h5M1512 720h5M1527 720h5M1437 724h5M1427 728h10M1417 732h10M1507 736h5M1602 736h10M1437 740h5M1442 748h5M1452 748h5M1512 748h5M1522 752h5M1437 756h5M1512 756h5M1522 760h5M1447 764h10M1512 764h5M1522 768h5M1532 772h5"/>
<path stroke="#f6b090" stroke-width="4" d="M1617 668h5M1382 672h5M1382 676h15M1612 676h5M1387 684h5M1592 684h5M1362 692h5M1382 692h10M1582 692h10M1377 700h5M1562 700h15M1597 700h5M1357 704h5M1392 704h5M1497 704h5M1372 708h5M1397 708h5M1357 712h5M1387 712h5M1372 728h10"/>
<path stroke="#f4a582" stroke-width="4" d="M1377 672h5M1372 684h5M1382 684h5M1372 692h5M1387 700h10M1577 700h10M1592 700h5M1362 704h5M1367 708h5M1377 708h5M1607 708h5M1362 728h5"/>
<path stroke="#d9e9f1" stroke-width="4" d="M1447 672h5M1522 672h5M1447 680h5M1442 684h10M1437 688h5M1457 688h5M1422 692h5M1432 696h5M1442 704h5M1527 704h5M1517 708h5M1417 716h10M1437 716h5M1457 716h5M1517 720h5M1437 728h5M1417 736h5M1437 736h5M1457 740h5M1512 740h5M1517 748h10M1442 756h10M1517 772h10"/>
<path stroke="#e0ecf3" stroke-width="4" d="M1517 672h5M1527 672h5M1517 676h5M1517 680h5M1527 680h5M1537 680h5M1452 684h5M1422 688h15M1532 688h5M1427 692h10M1522 692h5M1427 696h5M1457 696h5M1527 700h5M1457 712h5M1412 716h5M1427 716h10M1612 716h5M1622 716h10M1437 720h5M1457 720h5M1437 732h5M1412 736h5M1427 736h10M1377 740h10M1442 752h5M1452 752h5M1517 752h5M1452 756h5M1527 756h5M1512 772h5M1527 772h5"/>
<path stroke="#ee9777" stroke-width="4" d="M1617 676h5M1377 684h5M1367 692h5M1377 692h5M1382 700h5M1367 704h5M1387 708h5M1602 708h5"/>
<path stroke="#c4dfec" stroke-width="4" d="M1522 680h5M1517 684h5M1527 684h5M1437 696h5M1527 696h5M1442 700h5M1452 700h5M1522 700h5M1442 708h5M1512 716h5M1522 720h5M1442 724h5M1512 724h5M1512 732h5M1527 744h5M1517 756h10"/>
<path stroke="#9fcbe2" stroke-width="4" d="M1522 684h5M1447 728h5M1452 744h5"/>
<path stroke="#b8d8e9" stroke-width="4" d="M1442 688h5M1512 688h5M1527 688h5M1517 700h5M1447 704h5M1517 704h5M1527 716h5M1527 724h5M1442 728h5M1527 732h5M1512 736h5M1527 736h5M1442 744h5M1447 752h5"/>
<path stroke="#92c5de" stroke-width="4" d="M1447 688h5M1447 708h5M1442 720h5M1452 720h5M1442 732h5M1442 740h5M1517 740h5"/>
<path stroke="#abd2e5" stroke-width="4" d="M1452 688h5M1452 724h5M1517 728h10M1442 736h5"/>
<path stroke="#539dc8" stroke-width="4" d="M1517 688h10M1522 696h5M1517 712h5M1522 716h5M1447 720h5M1447 736h5M1522 740h5"/>
<path stroke="#d1e5f0" stroke-width="4" d="M1442 692h5M1517 692h5M1512 696h5M1452 704h5M1452 708h5M1522 708h5M1512 712h5M1527 712h5M1452 728h5M1422 736h5M1527 740h5M1512 744h5M1447 748h5"/>
<path stroke="#72b1d3" stroke-width="4" d="M1442 696h5M1452 696h5M1522 704h5M1452 712h5M1522 712h5M1517 716h5M1517 724h5M1452 740h5M1447 744h5"/>
<path stroke="#4393c3" stroke-width="4" d="M1447 696h5M1447 712h5M1517 736h10M1517 744h5"/>
<path stroke="#63a7ce" stroke-width="4" d="M1517 696h5M1452 716h5M1522 724h5"/>
<path stroke="#82bbd9" stroke-width="4" d="M1447 700h5M1442 712h5M1442 716h5M1447 724h5M1452 732h5M1452 736h5"/>
<path stroke="#d6604d" stroke-width="4" d="M1372 704h10M1587 708h5M1367 712h10"/>
<path stroke="#e8896d" stroke-width="4" d="M1382 704h10M1382 708h5M1382 712h5"/>
<path stroke="#e27c62" stroke-width="4" d="M1562 708h5M1592 708h5M1362 712h5M1377 712h5M1367 728h5"/>
<path stroke="#c03539" stroke-width="4" d="M1567 708h5M1577 708h5"/>
<path stroke="#c8433f" stroke-width="4" d="M1572 708h5"/>
<path stroke="#cf5246" stroke-width="4" d="M1582 708h5"/>
<path stroke="#dc6e58" stroke-width="4" d="M1597 708h5"/>
<path stroke="#2f78b5" stroke-width="4" d="M1447 716h5"/>
<path stroke="#286fb1" stroke-width="4" d="M1447 732h5M1447 740h5"/>
<path stroke="#3c8abe" stroke-width="4" d="M1517 732h5M1522 744h5"/>
<path stroke="#3581ba" stroke-width="4" d="M1522 732h5"/>
</g>
<path d="M1327.4 605.6L1327.4 889.7" stroke="#000" stroke-width="4"/>
<path d="M1325.4 887.7L1646.2 887.7" stroke="#000" stroke-width="4"/>
<path d="M1316.2 617.7L1325.4 617.7" stroke="#333" stroke-width="4"/>
<text x="1306.8" y="623.5" font-size="16.2" text-anchor="end" fill="#4d4d4d">200</text>
<path d="M1316.2 681.7L1325.4 681.7" stroke="#333" stroke-width="4"/>
<text x="1306.8" y="687.5" font-size="16.2" text-anchor="end" fill="#4d4d4d">175</text>
<path d="M1316.2 745.6L1325.4 745.6" stroke="#333" stroke-width="4"/>
<text x="1306.8" y="751.4" font-size="16.2" text-anchor="end" fill="#4d4d4d">150</text>
<path d="M1316.2 809.6L1325.4 809.6" stroke="#333" stroke-width="4"/>
<text x="1306.8" y="815.4" font-size="16.2" text-anchor="end" fill="#4d4d4d">125</text>
<path d="M1316.2 873.5L1325.4 873.5" stroke="#333" stroke-width="4"/>
<text x="1306.8" y="879.3" font-size="16.2" text-anchor="end" fill="#4d4d4d">100</text>
<path d="M1342.1 889.7L1342.1 897.6" stroke="#333" stroke-width="4"/>
<text x="1342.1" y="919.3" font-size="16.2" text-anchor="middle" fill="#4d4d4d">−500</text>
<path d="M1414.5 889.7L1414.5 897.6" stroke="#333" stroke-width="4"/>
<text x="1414.5" y="919.3" font-size="16.2" text-anchor="middle" fill="#4d4d4d">−250</text>
<path d="M1486.9 889.7L1486.9 897.6" stroke="#333" stroke-width="4"/>
<text x="1486.9" y="919.3" font-size="16.2" text-anchor="middle" fill="#4d4d4d">0</text>
<path d="M1559.3 889.7L1559.3 897.6" stroke="#333" stroke-width="4"/>
<text x="1559.3" y="919.3" font-size="16.2" text-anchor="middle" fill="#4d4d4d">250</text>
<path d="M1631.7 889.7L1631.7 897.6" stroke="#333" stroke-width="4"/>
<text x="1631.7" y="919.3" font-size="16.2" text-anchor="middle" fill="#4d4d4d">500</text>
<text x="1486.9" y="949" font-size="20.3" text-anchor="middle">Distance from NDR center</text>
<text transform="translate(1264.4 745.5) rotate(-90)" font-size="20.3" text-anchor="middle">Fragment size</text>
<text x="1486.9" y="577" font-size="24" text-anchor="middle">ovary</text>
<g>
<rect x="1739" y="618" width="290" height="256" fill="#f8f1ed"/>
<path stroke="#f9ece4" stroke-width="4" d="M1959 628h15M1764 636h5M1989 636h5M1759 648h15M1854 648h15M1874 648h5M1774 652h5M1799 652h20M1834 652h20M1879 652h10M1914 652h5M1949 652h5M1964 652h25M2014 656h5M2024 656h5M1739 660h10M1754 660h10M1804 660h5M1839 660h50M1894 660h30M1964 664h5M1779 668h5M1814 668h5M1844 668h15M1829 672h15M1849 672h5M1859 672h5M1869 672h30M1989 672h10M2004 672h5M1739 676h10M1809 676h10M1849 676h5M1884 676h15M1909 676h5M1919 676h25M1974 676h10M1784 680h5M1844 680h25M1889 680h15M1749 684h25M1779 684h5M1789 684h10M1814 684h5M1829 684h5M1849 684h5M1864 684h15M1884 684h20M1964 684h5M1739 688h15M1779 688h25M1814 688h5M1829 688h15M1849 688h5M1859 688h10M1874 688h5M1889 688h5M1899 688h10M1994 688h10M1759 696h10M1774 696h15M1844 696h5M1854 696h15M1954 696h5M1969 696h10M2019 696h5M1769 700h5M1849 700h20M1909 700h5M1929 700h5M1969 700h5M1984 700h5M2019 700h5M1749 704h5M1809 704h5M1849 704h5M1889 704h5M1769 708h10M1784 708h5M1814 708h5M1859 708h5M1994 708h5M1744 712h20M1774 712h5M1804 712h5M1849 712h5M1904 712h5M1929 712h5M1989 712h5M2019 712h10M1879 716h5M1944 716h20M1979 716h5M1989 716h5M2024 716h5M1779 720h5M1794 720h5M1869 720h5M1959 720h5M1974 720h10M2009 720h5M2019 720h10M1789 724h15M1809 724h5M1864 724h10M1904 724h5M1939 724h5M1769 728h5M1779 728h15M1809 728h5M1934 728h5M1944 728h5M1954 728h5M1839 732h5M1859 732h5M1904 732h20M1929 732h15M1794 736h5M1814 736h10M1844 736h5M1864 736h5M1884 736h5M1894 736h10M1959 736h5M1769 740h10M1954 740h5M1994 740h5M1744 744h5M1864 744h15M1909 744h20M1809 748h5M1819 748h5M1829 748h5M1849 748h5M1869 748h5M1884 748h10M1934 748h5M1984 748h20M1754 752h5M1744 756h5M1754 756h5M1769 756h5M1779 756h15M1804 756h10M1829 756h15M1889 756h15M1924 756h10M1949 756h5M1979 756h25M1759 760h10M1794 760h15M1814 760h30M1849 760h5M1859 760h10M1879 760h5M1889 760h15M1914 760h5M1924 760h5M1934 760h30M1749 764h10M1774 764h5M1784 764h5M1849 764h15M1919 764h10M1939 764h5M1964 764h5M1974 764h10M1989 764h40M1739 768h10M1859 768h20M1884 768h5M1899 768h5M1909 768h5M1974 768h5M2009 768h15M1799 772h10M1819 772h20M1914 772h10M1934 772h5M1949 772h25M2004 772h15M1754 776h15M1809 776h10M1824 776h5M1854 776h10M1869 776h5M1889 776h15M1929 776h5M1999 776h25M1879 780h10M1744 784h5M1819 784h10M1869 784h10M1744 788h5M1789 788h5M1799 788h15M1909 788h15M1814 792h10M1829 792h5M1904 792h5M1919 792h25M1954 792h5M1969 792h10M1739 800h25M1869 800h10M1939 800h25M1794 816h5"/>
<path stroke="#f7f7f7" stroke-width="4" d="M1944 636h10M1764 640h20M1909 640h20M1974 640h10M1989 640h5M1739 656h5M1814 656h5M1899 656h25M1989 656h5M1964 660h10M1739 664h20M1789 664h20M1814 664h5M1834 664h5M1849 664h5M1914 664h20M1939 664h5M1989 664h35M1874 668h5M1884 668h10M1964 668h5M1984 668h5M2014 668h15M1739 672h10M1809 672h5M1914 672h60M1979 672h5M2014 672h5M1779 676h15M1824 676h5M1749 680h5M1759 680h5M1819 680h25M1914 680h10M1934 680h15M1964 680h5M1984 680h5M1994 680h5M2004 680h5M1844 684h5M1924 684h5M1949 684h5M1959 684h5M1969 684h10M1984 684h25M1764 688h5M1954 688h10M1974 688h10M1744 692h5M1754 692h25M1924 692h15M1944 692h5M2004 692h15M1809 696h10M1829 696h15M1869 696h5M1899 696h5M1924 696h5M1984 696h5M2004 696h10M1739 700h10M1779 700h5M1789 700h5M1819 700h15M1889 700h15M1939 700h5M1989 700h15M1739 704h5M1769 704h5M1794 704h5M1814 704h10M1829 704h5M1854 704h5M1879 704h5M1924 704h10M1974 704h5M1984 704h5M2019 704h5M1739 708h10M1794 708h5M1804 708h10M1824 708h10M1869 708h10M1904 708h5M1939 708h5M1984 708h5M2004 708h10M1779 712h10M1854 712h5M1879 712h25M1934 712h5M1944 712h5M1954 712h5M1974 712h10M2004 716h10M1739 720h5M1764 720h10M1889 720h5M1934 720h10M1744 724h5M1759 724h5M1769 724h5M1894 724h5M1949 724h5M1959 724h5M2014 724h10M1794 728h10M1879 728h5M1889 728h5M1964 728h5M2024 728h5M1774 732h20M1814 732h10M1864 732h5M1874 732h10M2019 732h10M1754 736h5M1809 736h5M1839 736h5M1964 736h5M1739 740h10M1754 740h5M1764 740h5M1789 740h5M1824 740h5M1864 740h5M1874 740h15M1959 740h10M1759 744h5M1779 744h5M1794 744h5M1819 744h5M1889 744h5M1899 744h5M1929 744h10M1984 744h10M1999 744h5M1749 748h5M1759 748h10M1774 748h10M1789 748h5M1854 748h5M1894 748h5M1904 748h25M1964 748h15M1959 756h20M2004 756h10M1744 760h5M1774 760h20M1904 760h5M1969 760h5M1984 760h10M2024 760h5M1804 764h5M1819 764h10M1834 764h10M1754 768h25M1784 768h25M1819 768h5M1834 768h10M1879 768h5M1924 768h5M1939 768h15M1749 772h10M1979 772h10M1789 776h5M1744 780h5M1754 780h5M1764 780h15M1789 780h30M1859 780h10M1909 780h5M1949 780h35M1994 780h10M1779 784h30M1894 784h5M1934 784h5M1994 784h5M1769 788h5M1869 788h10M1999 788h5M2009 788h20M1864 796h15M1924 796h15M1904 800h20M1744 820h10"/>
<path stroke="#eff3f6" stroke-width="4" d="M1879 668h5M2019 672h5M1924 680h10M1929 684h10M1944 684h5M1954 684h5M1964 688h10M1739 692h5M1749 692h5M1779 692h5M1839 692h5M1849 692h5M1869 692h5M1909 692h5M1974 692h5M1994 692h10M1819 696h10M1874 696h10M1894 696h5M1929 696h15M1989 696h5M1999 696h5M1784 700h5M1794 700h5M1809 700h10M1944 700h5M1954 700h10M1789 704h5M1959 704h5M1989 704h5M2014 704h5M1799 708h5M1819 708h5M1879 708h20M1944 708h25M1974 708h5M2014 708h5M2024 708h5M1789 712h5M1799 712h5M1859 712h5M1874 712h5M1959 712h5M1969 712h5M1749 720h15M1764 724h5M1954 724h5M1979 724h35M1759 728h5M2019 728h5M1769 732h5M1794 732h5M1804 732h10M1949 732h5M1749 736h5M1834 736h5M1969 736h15M2019 736h10M1749 740h5M1759 740h5M1809 740h15M1869 740h5M1969 740h15M1764 744h15M1799 744h5M1814 744h5M1959 744h10M1974 744h10M2004 744h25M1784 748h5M1999 760h25M1929 768h10M1759 780h5M1984 780h10"/>
<path stroke="#fce1d1" stroke-width="4" d="M1739 684h5M2024 688h5M1909 696h10M1844 704h5M1909 704h5M1854 708h5M1924 708h5M1809 712h5M1819 712h5M1924 712h5M1749 716h5M1864 716h10M1899 716h5M1969 716h5M1799 720h10M1829 720h10M1864 720h5M1904 720h5M1819 724h5M1859 724h5M1909 724h10M1819 728h10M1864 728h5M1904 728h5M1909 736h5M1939 736h15M1839 740h5M1899 740h10M1934 740h10M1949 740h5M1839 744h5M1859 744h5M1944 744h5M1939 748h5M1954 748h5M1784 752h20M1809 752h5M1904 752h5M1989 752h5M2009 752h10M1849 756h10M1874 756h5M1889 764h20M1914 764h5M1879 772h5M1889 772h5"/>
<path stroke="#fbe6da" stroke-width="4" d="M1744 684h5M1774 684h5M1879 684h5M1844 688h5M1854 688h5M1909 688h15M2009 688h15M1769 696h5M1849 696h5M1919 696h5M1974 700h10M1839 704h5M1894 704h15M1779 708h5M1909 708h5M1929 708h5M1834 712h5M1739 716h10M1874 716h5M1884 716h15M1939 716h5M1964 716h5M1974 716h5M1784 720h10M1929 720h5M1964 720h10M1804 724h5M1814 724h5M1824 724h10M1874 724h10M1924 724h5M1814 728h5M1829 728h10M1869 728h5M1899 728h5M1929 728h5M1939 728h5M1949 728h5M1924 732h5M1764 736h5M1779 736h10M1869 736h15M1889 736h5M1904 736h5M1929 736h10M1954 736h5M1859 740h5M1889 740h10M2024 740h5M1834 744h5M1949 744h5M1879 748h5M1744 752h10M1764 752h5M1774 752h10M1994 752h15M1739 756h5M1749 756h5M1759 756h10M1794 756h10M1844 756h5M1879 756h10M1904 756h20M1844 760h5M1854 760h5M1884 760h5M1929 760h5M1864 764h25M1944 764h20M1969 764h5M1904 768h5M1839 772h40M1894 772h15M1904 776h25"/>
<path stroke="#e8f0f4" stroke-width="4" d="M1939 684h5M1784 692h10M1799 692h10M1819 692h5M1834 692h5M1854 692h15M1904 692h5M1939 692h5M1949 692h10M1964 692h5M1979 692h15M1884 696h10M1994 696h5M1799 700h10M1949 700h5M1774 704h15M1859 704h5M1934 704h25M1964 704h10M1994 704h5M2009 704h5M1899 708h5M1969 708h5M2019 708h5M1869 712h5M1749 724h10M1964 724h15M2014 728h5M1759 732h10M1799 732h5M1954 732h5M2014 732h5M1739 736h10M1829 736h5M1984 736h5M2009 736h10M1794 740h10M1804 744h10M1969 744h5"/>
<path stroke="#e0ecf3" stroke-width="4" d="M1794 692h5M1809 692h5M1824 692h10M1844 692h5M1874 692h10M1959 692h5M1969 692h5M1864 704h15M1999 704h10M1964 712h5M2009 728h5M1959 732h10M2009 732h5M1989 736h5"/>
<path stroke="#d9e9f1" stroke-width="4" d="M1814 692h5M1884 692h10M1899 692h5M1864 712h5M1754 728h5M1969 728h5M2004 732h5M1999 736h10M1804 740h5"/>
<path stroke="#d1e5f0" stroke-width="4" d="M1894 692h5M1739 728h5M2004 728h5M1969 732h10M1994 736h5"/>
<path stroke="#fddbc7" stroke-width="4" d="M1914 700h5M1924 700h5M1919 704h5M1849 708h5M1814 712h5M1754 716h15M1799 716h10M1934 716h5M1814 720h5M1824 720h5M1919 724h5M1839 728h5M1924 728h5M1844 732h5M1854 732h5M1849 736h5M1859 736h5M1929 740h5M1944 740h5M1844 744h5M1804 752h5M1814 752h5M1829 752h15M1899 752h5M1909 752h15M1954 752h20M1984 752h5M2019 752h10M1859 756h5M1869 756h5M1909 764h5M1884 772h5"/>
<path stroke="#f9c5ab" stroke-width="4" d="M1919 700h5M1824 712h5M1774 716h5M1784 716h10M1809 716h5M1929 716h5M1909 720h5M1924 720h5M1834 724h5M1919 736h5M1854 740h5M1909 740h5M1924 740h5M1854 744h5M1949 748h5M1844 752h10M1859 752h10M1874 752h5M1884 752h15"/>
<path stroke="#fbd0b9" stroke-width="4" d="M1914 704h5M1844 708h5M1914 708h10M1829 712h5M1839 712h10M1909 712h5M1919 712h5M1769 716h5M1779 716h5M1794 716h5M1859 716h5M1904 716h5M1809 720h5M1854 724h5M1859 728h5M1909 728h10M1849 732h5M1914 736h5M1924 736h5M1914 740h5M1849 744h5M1944 748h5M1819 752h10M1869 752h5M1879 752h5M1924 752h20M1974 752h10M1864 756h5"/>
<path stroke="#f4a582" stroke-width="4" d="M1914 712h5M1924 716h5M1849 728h5"/>
<path stroke="#f8bb9e" stroke-width="4" d="M1814 716h5M1819 720h5M1859 720h5M1919 720h5M1839 724h15M1844 728h5M1919 728h5M1854 736h5M1844 740h10M1919 740h5M1944 752h10"/>
<path stroke="#ee9777" stroke-width="4" d="M1819 716h5M1849 716h5"/>
<path stroke="#dc6e58" stroke-width="4" d="M1824 716h10"/>
<path stroke="#e8896d" stroke-width="4" d="M1834 716h5M1914 716h10M1844 720h5"/>
<path stroke="#e27c62" stroke-width="4" d="M1839 716h10M1854 720h5"/>
<path stroke="#f6b090" stroke-width="4" d="M1854 716h5M1909 716h5M1839 720h5M1914 720h5M1854 728h5M1854 752h5"/>
<path stroke="#d6604d" stroke-width="4" d="M1849 720h5"/>
<path stroke="#9fcbe2" stroke-width="4" d="M1744 728h5"/>
<path stroke="#abd2e5" stroke-width="4" d="M1749 728h5M1979 728h5M1989 728h5M1754 732h5M1979 732h5"/>
<path stroke="#c4dfec" stroke-width="4" d="M1974 728h5M1999 728h5"/>
<path stroke="#92c5de" stroke-width="4" d="M1984 728h5M1984 732h5"/>
<path stroke="#b8d8e9" stroke-width="4" d="M1994 728h5M1739 732h5M1999 732h5"/>
<path stroke="#72b1d3" stroke-width="4" d="M1744 732h5M1989 732h10"/>
<path stroke="#63a7ce" stroke-width="4" d="M1749 732h5"/>
</g>
<path d="M1724.6 605.6L1724.6 889.7" stroke="#000" stroke-width="4"/>
<path d="M1722.6 887.7L2043.4 887.7" stroke="#000" stroke-width="4"/>
<path d="M1713.4 617.7L1722.6 617.7" stroke="#333" stroke-width="4"/>
<text x="1704" y="623.5" font-size="16.2" text-anchor="end" fill="#4d4d4d">200</text>
<path d="M1713.4 681.7L1722.6 681.7" stroke="#333" stroke-width="4"/>
<text x="1704" y="687.5" font-size="16.2" text-anchor="end" fill="#4d4d4d">175</text>
<path d="M1713.4 745.6L1722.6 745.6" stroke="#333" stroke-width="4"/>
<text x="1704" y="751.4" font-size="16.2" text-anchor="end" fill="#4d4d4d">150</text>
<path d="M1713.4 809.6L1722.6 809.6" stroke="#333" stroke-width="4"/>
<text x="1704" y="815.4" font-size="16.2" text-anchor="end" fill="#4d4d4d">125</text>
<path d="M1713.4 873.5L1722.6 873.5" stroke="#333" stroke-width="4"/>
<text x="1704" y="879.3" font-size="16.2" text-anchor="end" fill="#4d4d4d">100</text>
<path d="M1739.3 889.7L1739.3 897.6" stroke="#333" stroke-width="4"/>
<text x="1739.3" y="919.3" font-size="16.2" text-anchor="middle" fill="#4d4d4d">−500</text>
<path d="M1811.7 889.7L1811.7 897.6" stroke="#333" stroke-width="4"/>
<text x="1811.7" y="919.3" font-size="16.2" text-anchor="middle" fill="#4d4d4d">−250</text>
<path d="M1884.1 889.7L1884.1 897.6" stroke="#333" stroke-width="4"/>
<text x="1884.1" y="919.3" font-size="16.2" text-anchor="middle" fill="#4d4d4d">0</text>
<path d="M1956.5 889.7L1956.5 897.6" stroke="#333" stroke-width="4"/>
<text x="1956.5" y="919.3" font-size="16.2" text-anchor="middle" fill="#4d4d4d">250</text>
<path d="M2028.9 889.7L2028.9 897.6" stroke="#333" stroke-width="4"/>
<text x="2028.9" y="919.3" font-size="16.2" text-anchor="middle" fill="#4d4d4d">500</text>
<text x="1884.1" y="949" font-size="20.3" text-anchor="middle">Distance from NDR center</text>
<text transform="translate(1661.6 745.5) rotate(-90)" font-size="20.3" text-anchor="middle">Fragment size</text>
<text x="1884.1" y="577" font-size="24" text-anchor="middle">pancreas</text>
<text x="-0.6" y="621.7" font-size="59.5" font-weight="bold">C</text>
<path d="M857 1067.3L913.7 1067.3" stroke="#b14a5b" stroke-width="4.2"/>
<text x="931.4" y="1073.6" font-size="16.2">matching</text>
<path d="M1018.6 1067.3L1075.7 1067.3" stroke="#3f5a78" stroke-width="4.2"/>
<text x="1093" y="1073.6" font-size="16.2">unmatching</text>
<path d="M176.8 1232.2 178 1228 179.2 1230.7 180.4 1229.8 181.6 1229.9 182.8 1230.7 184 1229.7 185.2 1231.9 186.5 1231.9 187.7 1236.5 188.9 1234.5 190.1 1234.8 191.3 1235.6 192.5 1236.1 193.7 1236.6 194.9 1238 196.1 1239.6 197.3 1239.7 198.5 1241.6 199.8 1241.4 201 1242.4 202.2 1244.3 203.4 1243.8 204.6 1243.2 205.8 1243.9 207 1245 208.2 1246.6 209.4 1244.1 210.6 1242.9 211.8 1242.8 213.1 1239.9 214.3 1239.7 215.5 1240.3 216.7 1239.6 217.9 1238.8 219.1 1238.9 220.3 1235.4 221.5 1238.1 222.7 1235.1 223.9 1233.2 225.1 1233.8 226.4 1232.9 227.6 1230.7 228.8 1228.9 230 1228.7 231.2 1227.4 232.4 1227.5 233.6 1226.1 234.8 1225.6 236 1226.4 237.2 1225.2 238.4 1224.8 239.7 1226.9 240.9 1227.7 242.1 1227.8 243.3 1228.1 244.5 1229.8 245.7 1228 246.9 1230.5 248.1 1229.9 249.3 1227.6 250.5 1228.7 251.7 1227.4 253 1228.4 254.2 1223.5 255.4 1222.1 256.6 1221.1 257.8 1219.1 259 1213.7 260.2 1212.8 261.4 1211.1 262.6 1207.9 263.8 1210.8 265 1209.5 266.3 1212.1 267.5 1212 268.7 1217 269.9 1218.7 271.1 1221.4 272.3 1223.2 273.5 1229.3 274.7 1231.5 275.9 1234.5 277.1 1237.9 278.3 1238 279.6 1237.1 280.8 1237 282 1237 283.2 1237.3 284.4 1232.3 285.6 1230.7 286.8 1228.5 288 1227.1 289.2 1225.8 290.4 1222.5 291.6 1220.5 292.9 1220.4 294.1 1219.9 295.3 1219.7 296.5 1221 297.7 1222.3 298.9 1224.7 300.1 1227.1 301.3 1232.3 302.5 1235.1 303.7 1240.1 304.9 1243 306.1 1244.8 307.4 1245.7 308.6 1247 309.8 1241.7 311 1237.2 312.2 1229.8 313.4 1227.8 314.6 1223.9 315.8 1221.3 317 1215.6 318.2 1216.8 319.4 1214.9 320.7 1211 321.9 1209.7 323.1 1209.2 324.3 1209.4 325.5 1209.3 326.7 1210.3 327.9 1210.7 329.1 1214 330.3 1215.9 331.5 1219.7 332.7 1220.6 334 1223 335.2 1222.6 336.4 1225.2 337.6 1225.9 338.8 1229.2 340 1229.6 341.2 1230 342.4 1229.5 343.6 1230 344.8 1228.5 346 1227.9 347.3 1228.8 348.5 1230.1 349.7 1227.6 350.9 1227.4 352.1 1226.8 353.3 1226.7 354.5 1228.3 355.7 1228.6 356.9 1228.5 358.1 1229.6 359.3 1230.2 360.6 1231 361.8 1230.3 363 1232.1 364.2 1233.1 365.4 1232.7 366.6 1233.4 367.8 1233.5 369 1234.3 370.2 1235.8 371.4 1235.1 372.6 1235.7 373.9 1237 375.1 1237.2 376.3 1238.6 377.5 1235.6 378.7 1238.3 379.9 1236.7 381.1 1236.8 382.3 1237 383.5 1236.9 384.7 1236.4 385.9 1235.1 387.2 1235.6 388.4 1233.1 389.6 1232.4 390.8 1232.4 392 1230.4 393.2 1232.1 394.4 1230.5 395.6 1230.9 396.8 1228.3 398 1227.9 399.2 1230.2 400.5 1232.5 401.7 1233.2 402.9 1235.7 404.1 1235.9 405.3 1238 406.5 1236.5 407.7 1238.7 408.9 1237.5 410.1 1237.7 411.3 1238.3 412.5 1238.3 413.7 1239.9 415 1241.1" fill="none" stroke="#3f5a78" stroke-width="4.4" stroke-linejoin="round"/>
<path d="M176.3 1253 177.2 1248.8 178.1 1246.6 179 1235.4 179.9 1232.6 180.8 1229.6 181.7 1223.4 182.6 1231.1 183.5 1223.6 184.4 1236.4 185.3 1237.4 186.2 1245.4 187.1 1243 188 1241.4 189 1247.1 189.9 1244.8 190.8 1248.7 191.7 1253.2 192.6 1256.1 193.5 1259.5 194.4 1260.7 195.3 1266.7 196.2 1262.9 197.1 1270.6 198 1265.4 198.9 1273 199.8 1272.4 200.7 1262.9 201.6 1275.7 202.5 1279.5 203.4 1280.8 204.3 1290.9 205.2 1290.7 206.1 1289.4 207 1290.9 207.9 1285.9 208.8 1281.7 209.7 1273 210.6 1276.4 211.6 1273.3 212.5 1262.6 213.4 1262.1 214.3 1261.8 215.2 1257.6 216.1 1263.9 217 1255.7 217.9 1248.7 218.8 1247.1 219.7 1247.5 220.6 1254 221.5 1242.2 222.4 1240.9 223.3 1240 224.2 1212.9 225.1 1211.1 226 1208.5 226.9 1221.5 227.8 1220.4 228.7 1221.2 229.6 1213.4 230.5 1222.2 231.4 1212.6 232.3 1210.8 233.2 1204.7 234.2 1219.7 235.1 1239.1 236 1248.1 236.9 1235.4 237.8 1225.4 238.7 1218 239.6 1214.8 240.5 1217.2 241.4 1215.7 242.3 1211.6 243.2 1212.3 244.1 1212 245 1205.6 245.9 1201.2 246.8 1203.5 247.7 1206.2 248.6 1196.3 249.5 1194.8 250.4 1192.2 251.3 1195 252.2 1180.9 253.1 1187.3 254 1189.5 254.9 1181 255.8 1188.8 256.8 1184.3 257.7 1179.3 258.6 1182.5 259.5 1176.5 260.4 1180.8 261.3 1190.5 262.2 1185.7 263.1 1203.3 264 1203.3 264.9 1214.6 265.8 1218.2 266.7 1217.3 267.6 1232.7 268.5 1244.7 269.4 1245.3 270.3 1248.2 271.2 1258.3 272.1 1258.1 273 1258.7 273.9 1267.9 274.8 1279.2 275.7 1281.1 276.6 1293.6 277.5 1304.6 278.5 1320.6 279.4 1318.4 280.3 1313.3 281.2 1313.6 282.1 1312.5 283 1305.7 283.9 1306.1 284.8 1310.5 285.7 1321.4 286.6 1318.1 287.5 1312.3 288.4 1302.3 289.3 1298.3 290.2 1300.1 291.1 1295.3 292 1293.4 292.9 1296.7 293.8 1290.8 294.7 1299.2 295.6 1288.7 296.5 1281.5 297.4 1286.2 298.3 1284 299.2 1279.5 300.1 1303.8 301.1 1313.9 302 1298.9 302.9 1307.2 303.8 1297.1 304.7 1301.5 305.6 1289.7 306.5 1284.1 307.4 1293.9 308.3 1286.3 309.2 1293.6 310.1 1300.7 311 1294.4 311.9 1287.7 312.8 1282.3 313.7 1279.1 314.6 1268.1 315.5 1271.1 316.4 1268.6 317.3 1272.8 318.2 1258.4 319.1 1247.1 320 1244.4 320.9 1232.1 321.8 1227.4 322.7 1219.6 323.7 1216.3 324.6 1203.6 325.5 1201.6 326.4 1188 327.3 1190.1 328.2 1196.4 329.1 1186.7 330 1185.4 330.9 1182.3 331.8 1187.7 332.7 1184.4 333.6 1177.4 334.5 1185.6 335.4 1187.1 336.3 1192 337.2 1189.7 338.1 1198.7 339 1191.3 339.9 1186.9 340.8 1182.9 341.7 1188 342.6 1203 343.5 1209.6 344.4 1215.8 345.3 1212.1 346.3 1213.2 347.2 1209.4 348.1 1204.3 349 1198.5 349.9 1214.1 350.8 1223.2 351.7 1225.1 352.6 1229 353.5 1227.5 354.4 1230.2 355.3 1232.1 356.2 1246.3 357.1 1247.2 358 1242.6 358.9 1235.8 359.8 1236.7 360.7 1239.1 361.6 1237.2 362.5 1236.4 363.4 1248.2 364.3 1251.8 365.2 1248 366.1 1242.4 367 1239 367.9 1231.8 368.9 1232.3 369.8 1228.8 370.7 1239.8 371.6 1237.4 372.5 1242.5 373.4 1221.6 374.3 1226.6 375.2 1222.3 376.1 1212.2 377 1210.7 377.9 1207.3 378.8 1210 379.7 1211.7 380.6 1219.3 381.5 1229.7 382.4 1230.7 383.3 1223.2 384.2 1220.1 385.1 1217.6 386 1222.7 386.9 1220.2 387.8 1224.6 388.7 1235.5 389.6 1234.7 390.5 1239.1 391.5 1244.1 392.4 1248 393.3 1244.5 394.2 1254 395.1 1246.7 396 1257.9 396.9 1252.7 397.8 1257.4 398.7 1268.3 399.6 1262.4 400.5 1256.1 401.4 1252.7 402.3 1251.3 403.2 1248 404.1 1249.3 405 1254.6 405.9 1249.1 406.8 1248.8 407.7 1245 408.6 1247.8 409.5 1243.5 410.4 1241.5 411.3 1234.1 412.2 1231.2 413.2 1232.6 414.1 1227.7 415 1235.9" fill="none" stroke="#b14a5b" stroke-width="4.4" stroke-linejoin="round"/>
<path d="M165.7 1170.2L165.7 1339" stroke="#000" stroke-width="4"/>
<path d="M163.7 1337L426.2 1337" stroke="#000" stroke-width="4"/>
<path d="M154.5 1193.5L163.7 1193.5" stroke="#333" stroke-width="4"/>
<text x="145.1" y="1199.3" font-size="16.2" text-anchor="end" fill="#4d4d4d">1e−04</text>
<path d="M154.5 1232L163.7 1232" stroke="#333" stroke-width="4"/>
<text x="145.1" y="1237.8" font-size="16.2" text-anchor="end" fill="#4d4d4d">0e+00</text>
<path d="M154.5 1270.8L163.7 1270.8" stroke="#333" stroke-width="4"/>
<text x="145.1" y="1276.6" font-size="16.2" text-anchor="end" fill="#4d4d4d">−1e−04</text>
<path d="M154.5 1309.4L163.7 1309.4" stroke="#333" stroke-width="4"/>
<text x="145.1" y="1315.2" font-size="16.2" text-anchor="end" fill="#4d4d4d">−2e−04</text>
<path d="M176.8 1339L176.8 1347" stroke="#333" stroke-width="4"/>
<text x="176.8" y="1368.8" font-size="16.2" text-anchor="middle" fill="#4d4d4d">−500</text>
<path d="M236.4 1339L236.4 1347" stroke="#333" stroke-width="4"/>
<text x="236.4" y="1368.8" font-size="16.2" text-anchor="middle" fill="#4d4d4d">−250</text>
<path d="M296.1 1339L296.1 1347" stroke="#333" stroke-width="4"/>
<text x="296.1" y="1368.8" font-size="16.2" text-anchor="middle" fill="#4d4d4d">0</text>
<path d="M355.8 1339L355.8 1347" stroke="#333" stroke-width="4"/>
<text x="355.8" y="1368.8" font-size="16.2" text-anchor="middle" fill="#4d4d4d">250</text>
<path d="M415.4 1339L415.4 1347" stroke="#333" stroke-width="4"/>
<text x="415.4" y="1368.8" font-size="16.2" text-anchor="middle" fill="#4d4d4d">500</text>
<text x="296.1" y="1398.5" font-size="20.3" text-anchor="middle">Distance from NDR center</text>
<text transform="translate(73.7 1253.6) rotate(-90)" font-size="20.3" text-anchor="middle">Attribution Score</text>
<text x="296.1" y="1142.4" font-size="24" text-anchor="middle">breast</text>
<path d="M581.2 1191.7 582.4 1193.6 583.6 1197.4 584.8 1200.6 586 1204.7 587.2 1207.9 588.4 1207.9 589.6 1209.7 590.9 1209.2 592.1 1213.1 593.3 1212.1 594.5 1209.9 595.7 1210.4 596.9 1207 598.1 1206.1 599.3 1204 600.5 1200.3 601.7 1199.8 602.9 1198.9 604.2 1196.1 605.4 1195.5 606.6 1196.7 607.8 1195.3 609 1193.3 610.2 1193.2 611.4 1192.5 612.6 1192.3 613.8 1193.5 615 1193.4 616.2 1194.9 617.5 1195.4 618.7 1196 619.9 1197.5 621.1 1199 622.3 1199.3 623.5 1198.2 624.7 1200.7 625.9 1200.6 627.1 1202.8 628.3 1202.7 629.5 1204.3 630.8 1205.3 632 1207.7 633.2 1207.6 634.4 1208.4 635.6 1210.1 636.8 1210.1 638 1210 639.2 1209.3 640.4 1208.9 641.6 1209.7 642.8 1206.3 644.1 1205.5 645.3 1204.1 646.5 1203.5 647.7 1199.4 648.9 1197.4 650.1 1195.6 651.3 1193.7 652.5 1190.7 653.7 1187.9 654.9 1185.2 656.1 1184.1 657.4 1185 658.6 1184 659.8 1183.8 661 1184.1 662.2 1184.6 663.4 1187 664.6 1188.9 665.8 1191.2 667 1193.3 668.2 1194.6 669.4 1199.1 670.6 1202.1 671.9 1200.1 673.1 1200.1 674.3 1199.4 675.5 1199.2 676.7 1195.1 677.9 1195.5 679.1 1191.2 680.3 1190.3 681.5 1187.7 682.7 1186.1 683.9 1185.1 685.2 1184.8 686.4 1185 687.6 1188.4 688.8 1191.3 690 1193.3 691.2 1200.9 692.4 1206.3 693.6 1211.8 694.8 1218.9 696 1221.3 697.2 1225.1 698.5 1229.8 699.7 1232.1 700.9 1230.2 702.1 1228 703.3 1228.8 704.5 1229.5 705.7 1224.8 706.9 1219 708.1 1213.7 709.3 1206.3 710.5 1202.1 711.8 1199 713 1195.1 714.2 1191.4 715.4 1188.8 716.6 1192.2 717.8 1193.8 719 1197.8 720.2 1201 721.4 1199.2 722.6 1199.2 723.8 1201.9 725.1 1203.6 726.3 1204.2 727.5 1204.3 728.7 1202.6 729.9 1202.6 731.1 1204.4 732.3 1202.3 733.5 1204.3 734.7 1203.1 735.9 1203.3 737.1 1202.7 738.4 1202.1 739.6 1201.6 740.8 1201.8 742 1204.8 743.2 1206.3 744.4 1208.4 745.6 1211.6 746.8 1212.7 748 1214.7 749.2 1217.1 750.4 1219.4 751.7 1222.1 752.9 1222.5 754.1 1226.1 755.3 1225.2 756.5 1224.1 757.7 1222.5 758.9 1223.3 760.1 1222.7 761.3 1219.2 762.5 1220.7 763.7 1219.9 765 1217.5 766.2 1216.4 767.4 1216.9 768.6 1214.7 769.8 1211.2 771 1210.1 772.2 1208.2 773.4 1206.4 774.6 1202.6 775.8 1203.6 777 1200.5 778.2 1199.4 779.5 1198 780.7 1198.3 781.9 1196.6 783.1 1195.6 784.3 1196.4 785.5 1197.2 786.7 1195.7 787.9 1197.2 789.1 1196.4 790.3 1196.3 791.5 1198.8 792.8 1197.2 794 1199.5 795.2 1198.7 796.4 1200.2 797.6 1199.3 798.8 1199.8 800 1200.3 801.2 1198.3 802.4 1196.9 803.6 1195.2 804.8 1194.2 806.1 1190.7 807.3 1189.1 808.5 1188.3 809.7 1186.4 810.9 1185.4 812.1 1184.7 813.3 1183.5 814.5 1183.5 815.7 1185.2 816.9 1184.6 818.1 1184.8 819.4 1183.6" fill="none" stroke="#3f5a78" stroke-width="4.4" stroke-linejoin="round"/>
<path d="M580.4 1213.9 581.4 1202.7 582.3 1198.6 583.2 1195.8 584.1 1206.3 585 1215.9 585.9 1220.7 586.8 1220.2 587.7 1217.3 588.6 1227.3 589.5 1228.4 590.4 1236.8 591.3 1235.4 592.2 1240.6 593.1 1250 594 1248 594.9 1257.3 595.8 1257.2 596.7 1262.8 597.6 1269.7 598.5 1267.4 599.5 1256 600.4 1263.6 601.3 1265.7 602.2 1276.7 603.1 1284.1 604 1284.4 604.9 1281.1 605.8 1269.2 606.7 1266.2 607.6 1273.1 608.5 1284.2 609.4 1294.8 610.3 1276.5 611.2 1273.2 612.1 1255.7 613 1249.9 613.9 1247.5 614.8 1228.2 615.7 1222.6 616.6 1209.7 617.6 1214.1 618.5 1222.8 619.4 1224.4 620.3 1215.7 621.2 1219.9 622.1 1220.1 623 1217.1 623.9 1209.6 624.8 1201.1 625.7 1199.6 626.6 1189.8 627.5 1190.3 628.4 1186.3 629.3 1201.5 630.2 1192.9 631.1 1208.7 632 1229.4 632.9 1238.1 633.8 1255.7 634.7 1250.2 635.6 1255.2 636.6 1243.6 637.5 1252.5 638.4 1255.7 639.3 1258.4 640.2 1275.8 641.1 1278.8 642 1280 642.9 1275.8 643.8 1268.2 644.7 1275.7 645.6 1281.8 646.5 1278.3 647.4 1268.4 648.3 1259.4 649.2 1250.9 650.1 1245.9 651 1233.3 651.9 1231.8 652.8 1227.4 653.7 1222.1 654.7 1225.2 655.6 1216.1 656.5 1216.5 657.4 1217.9 658.3 1205.5 659.2 1203.5 660.1 1191.9 661 1189.3 661.9 1182.3 662.8 1182.5 663.7 1181.2 664.6 1189.8 665.5 1201.1 666.4 1205.6 667.3 1217.8 668.2 1226.2 669.1 1233.3 670 1238.5 670.9 1241.9 671.8 1251.9 672.8 1260.8 673.7 1253.8 674.6 1238.6 675.5 1234.2 676.4 1232.5 677.3 1243.6 678.2 1253.2 679.1 1252.2 680 1252.8 680.9 1259.7 681.8 1254.1 682.7 1253.1 683.6 1260.6 684.5 1270.9 685.4 1274.9 686.3 1280.7 687.2 1280.9 688.1 1279.2 689 1287.4 689.9 1288.2 690.9 1295.7 691.8 1316.7 692.7 1326.9 693.6 1315.5 694.5 1314.2 695.4 1306.4 696.3 1304.6 697.2 1299.8 698.1 1296 699 1302 699.9 1305.5 700.8 1302 701.7 1288.6 702.6 1277.5 703.5 1282.5 704.4 1277.8 705.3 1281.2 706.2 1273.8 707.1 1263.2 708 1254 709 1251 709.9 1250.2 710.8 1239.2 711.7 1240.3 712.6 1235 713.5 1228.1 714.4 1226.7 715.3 1217.3 716.2 1228.4 717.1 1227.4 718 1226.9 718.9 1220.5 719.8 1220.2 720.7 1222.9 721.6 1235.3 722.5 1237.6 723.4 1238.8 724.3 1235.1 725.2 1225.3 726.1 1228.3 727 1222.9 728 1223.8 728.9 1211.3 729.8 1200.3 730.7 1207.1 731.6 1198 732.5 1194.4 733.4 1202.1 734.3 1205.1 735.2 1209.8 736.1 1202.2 737 1206.4 737.9 1208.8 738.8 1207.2 739.7 1213.6 740.6 1220.4 741.5 1219.4 742.4 1230.9 743.3 1238.3 744.2 1243.1 745.1 1249.7 746.1 1258.7 747 1267.4 747.9 1274.9 748.8 1277.1 749.7 1286 750.6 1284.2 751.5 1291.7 752.4 1289.5 753.3 1297.1 754.2 1292.2 755.1 1295.8 756 1301.7 756.9 1303.3 757.8 1283 758.7 1272.4 759.6 1272.8 760.5 1283.9 761.4 1291.2 762.3 1290 763.2 1279.8 764.2 1276.7 765.1 1270.2 766 1260.1 766.9 1254.1 767.8 1260.2 768.7 1262 769.6 1256.8 770.5 1257.4 771.4 1250.9 772.3 1243.7 773.2 1246.3 774.1 1239.6 775 1237.1 775.9 1225.5 776.8 1227.2 777.7 1221.7 778.6 1223.9 779.5 1215 780.4 1210.4 781.3 1206.6 782.3 1220.2 783.2 1223.2 784.1 1227.8 785 1234.1 785.9 1241.3 786.8 1254.8 787.7 1247.2 788.6 1254.1 789.5 1257.8 790.4 1257.9 791.3 1252.6 792.2 1259.4 793.1 1263 794 1260.3 794.9 1246.2 795.8 1240.8 796.7 1237.7 797.6 1247.7 798.5 1243.6 799.4 1246.9 800.4 1235.8 801.3 1230.1 802.2 1229.7 803.1 1218 804 1220.8 804.9 1217.5 805.8 1228.4 806.7 1219.8 807.6 1212.3 808.5 1214.8 809.4 1221.7 810.3 1220.7 811.2 1223.3 812.1 1220.3 813 1208.2 813.9 1197.1 814.8 1187 815.7 1183.9 816.6 1184.9 817.5 1187.9 818.5 1210.3 819.4 1234.2" fill="none" stroke="#b14a5b" stroke-width="4.4" stroke-linejoin="round"/>
<path d="M569.7 1170.2L569.7 1339" stroke="#000" stroke-width="4"/>
<path d="M567.7 1337L830.8 1337" stroke="#000" stroke-width="4"/>
<path d="M558.5 1205.8L567.7 1205.8" stroke="#333" stroke-width="4"/>
<text x="549.1" y="1211.6" font-size="16.2" text-anchor="end" fill="#4d4d4d">0e+00</text>
<path d="M558.5 1254.4L567.7 1254.4" stroke="#333" stroke-width="4"/>
<text x="549.1" y="1260.2" font-size="16.2" text-anchor="end" fill="#4d4d4d">−5e−05</text>
<path d="M558.5 1303L567.7 1303" stroke="#333" stroke-width="4"/>
<text x="549.1" y="1308.8" font-size="16.2" text-anchor="end" fill="#4d4d4d">−1e−04</text>
<path d="M581.2 1339L581.2 1347" stroke="#333" stroke-width="4"/>
<text x="581.2" y="1368.8" font-size="16.2" text-anchor="middle" fill="#4d4d4d">−500</text>
<path d="M640.9 1339L640.9 1347" stroke="#333" stroke-width="4"/>
<text x="640.9" y="1368.8" font-size="16.2" text-anchor="middle" fill="#4d4d4d">−250</text>
<path d="M700.6 1339L700.6 1347" stroke="#333" stroke-width="4"/>
<text x="700.6" y="1368.8" font-size="16.2" text-anchor="middle" fill="#4d4d4d">0</text>
<path d="M760.3 1339L760.3 1347" stroke="#333" stroke-width="4"/>
<text x="760.3" y="1368.8" font-size="16.2" text-anchor="middle" fill="#4d4d4d">250</text>
<path d="M820 1339L820 1347" stroke="#333" stroke-width="4"/>
<text x="820" y="1368.8" font-size="16.2" text-anchor="middle" fill="#4d4d4d">500</text>
<text x="700.6" y="1398.5" font-size="20.3" text-anchor="middle">Distance from NDR center</text>
<text transform="translate(477.7 1253.6) rotate(-90)" font-size="20.3" text-anchor="middle">Attribution Score</text>
<text x="700.6" y="1142.4" font-size="24" text-anchor="middle">liver</text>
<path d="M984.9 1219.7 986.1 1217 987.3 1214.8 988.5 1217.7 989.7 1222.4 990.9 1224.5 992.1 1225.7 993.3 1226.9 994.5 1227.9 995.7 1228 997 1228 998.2 1229.1 999.4 1229.4 1000.6 1225.9 1001.8 1229.1 1003 1226.3 1004.2 1226.7 1005.4 1224.8 1006.6 1225.8 1007.8 1225.7 1009 1225.6 1010.3 1227.1 1011.5 1228.1 1012.7 1227.8 1013.9 1229.8 1015.1 1231.4 1016.3 1232 1017.5 1231.7 1018.7 1232.3 1019.9 1232.7 1021.1 1231.8 1022.3 1231.7 1023.6 1234.2 1024.8 1232.5 1026 1232.9 1027.2 1232.2 1028.4 1234 1029.6 1234.1 1030.8 1231.8 1032 1231.8 1033.2 1230.1 1034.4 1232.2 1035.6 1232 1036.9 1231.1 1038.1 1233.5 1039.3 1233.5 1040.5 1234.4 1041.7 1235.3 1042.9 1235.2 1044.1 1235.8 1045.3 1235.9 1046.5 1234.4 1047.7 1232.7 1048.9 1234.4 1050.2 1231.2 1051.4 1229.7 1052.6 1228.3 1053.8 1228.3 1055 1226.7 1056.2 1224.3 1057.4 1223 1058.6 1219.2 1059.8 1219.6 1061 1218.9 1062.2 1218.7 1063.5 1218.5 1064.7 1216.3 1065.9 1220.9 1067.1 1217.3 1068.3 1218.4 1069.5 1220 1070.7 1221.2 1071.9 1221.9 1073.1 1220.2 1074.3 1223.6 1075.5 1227.1 1076.8 1227.4 1078 1229.1 1079.2 1228.7 1080.4 1232.6 1081.6 1232.5 1082.8 1231.9 1084 1233.6 1085.2 1234.8 1086.4 1235.1 1087.6 1237.1 1088.8 1238.8 1090 1240.3 1091.3 1242.1 1092.5 1242.2 1093.7 1243 1094.9 1245 1096.1 1245.2 1097.3 1245.9 1098.5 1248.9 1099.7 1248.1 1100.9 1249.2 1102.1 1250.3 1103.3 1249.1 1104.6 1251 1105.8 1251.1 1107 1250.9 1108.2 1251.1 1109.4 1249.2 1110.6 1247 1111.8 1247.8 1113 1246 1114.2 1245.8 1115.4 1243.4 1116.6 1240.9 1117.9 1239.8 1119.1 1239.8 1120.3 1238.4 1121.5 1236.5 1122.7 1235.3 1123.9 1233.5 1125.1 1232.4 1126.3 1231.8 1127.5 1230 1128.7 1229.5 1129.9 1227.3 1131.2 1225.9 1132.4 1225.1 1133.6 1225.9 1134.8 1227.2 1136 1226.8 1137.2 1224.5 1138.4 1224.3 1139.6 1226.8 1140.8 1226.8 1142 1225.4 1143.2 1227.9 1144.5 1227.4 1145.7 1228.7 1146.9 1228.2 1148.1 1230.4 1149.3 1231.7 1150.5 1232.4 1151.7 1234.8 1152.9 1236.3 1154.1 1239.4 1155.3 1239.6 1156.5 1240.9 1157.8 1244.2 1159 1245.9 1160.2 1247.3 1161.4 1248.2 1162.6 1245.7 1163.8 1245.8 1165 1245.3 1166.2 1245.2 1167.4 1242.7 1168.6 1244 1169.8 1243.7 1171.1 1242 1172.3 1241.9 1173.5 1241.7 1174.7 1239.4 1175.9 1239.1 1177.1 1237.9 1178.3 1236.1 1179.5 1234.9 1180.7 1233 1181.9 1233.6 1183.1 1231.4 1184.4 1230.6 1185.6 1231.3 1186.8 1229.4 1188 1229.8 1189.2 1229.8 1190.4 1228.3 1191.6 1227.7 1192.8 1227.8 1194 1227.1 1195.2 1224.4 1196.4 1224.3 1197.6 1227 1198.9 1226.5 1200.1 1224.6 1201.3 1225.3 1202.5 1226.3 1203.7 1225.1 1204.9 1226.1 1206.1 1225.2 1207.3 1224.4 1208.5 1221.7 1209.7 1222.1 1210.9 1222.2 1212.2 1219.1 1213.4 1220.4 1214.6 1219.5 1215.8 1218.6 1217 1217.3 1218.2 1215.7 1219.4 1215.4 1220.6 1216.3 1221.8 1217.7 1223 1219.2" fill="none" stroke="#3f5a78" stroke-width="4.4" stroke-linejoin="round"/>
<path d="M984.9 1231 985.8 1228.1 986.7 1221.1 987.6 1218.5 988.5 1229.4 989.4 1236.6 990.3 1240.1 991.2 1238.6 992.1 1245.4 993 1252.1 993.9 1268.2 994.8 1273.9 995.7 1278.6 996.6 1281.9 997.5 1280.9 998.4 1281.2 999.3 1269.6 1000.2 1267.7 1001.1 1281.3 1002 1286.4 1003 1284.7 1003.9 1279.3 1004.8 1279.8 1005.7 1282.1 1006.6 1281.2 1007.5 1286.1 1008.4 1291.3 1009.3 1289.7 1010.2 1294.8 1011.1 1280.2 1012 1280.8 1012.9 1287.6 1013.8 1283.9 1014.7 1284 1015.6 1285.1 1016.5 1288.9 1017.4 1294.1 1018.3 1286.9 1019.2 1283.7 1020.1 1274.9 1021 1273.9 1021.9 1267.1 1022.9 1262 1023.8 1261.7 1024.7 1265 1025.6 1271.7 1026.5 1271.4 1027.4 1276.8 1028.3 1285.3 1029.2 1278.7 1030.1 1271.9 1031 1273.6 1031.9 1270.2 1032.8 1272.1 1033.7 1276.8 1034.6 1272.2 1035.5 1269.5 1036.4 1261.4 1037.3 1270.2 1038.2 1269.4 1039.1 1273.5 1040 1272.9 1040.9 1267.4 1041.8 1273.5 1042.7 1278.4 1043.7 1284 1044.6 1286.1 1045.5 1281.9 1046.4 1276.1 1047.3 1270.2 1048.2 1264.1 1049.1 1259.7 1050 1258.8 1050.9 1258.7 1051.8 1254.9 1052.7 1256.1 1053.6 1251.8 1054.5 1245.3 1055.4 1249.3 1056.3 1245.6 1057.2 1236.7 1058.1 1235.5 1059 1234.9 1059.9 1229.5 1060.8 1229.2 1061.7 1230.6 1062.6 1236.1 1063.5 1236.2 1064.5 1233 1065.4 1225.2 1066.3 1225.3 1067.2 1217.7 1068.1 1224.2 1069 1233.3 1069.9 1240.2 1070.8 1247.3 1071.7 1252.9 1072.6 1252.1 1073.5 1255.7 1074.4 1260.9 1075.3 1265.2 1076.2 1273.3 1077.1 1272.8 1078 1284.3 1078.9 1275.5 1079.8 1276.2 1080.7 1276.8 1081.6 1278.8 1082.5 1271.3 1083.4 1268.2 1084.3 1283.7 1085.3 1289.5 1086.2 1289.6 1087.1 1291.6 1088 1294.5 1088.9 1298.8 1089.8 1302.4 1090.7 1297.4 1091.6 1311.3 1092.5 1305.6 1093.4 1306.4 1094.3 1311.5 1095.2 1311.5 1096.1 1320.5 1097 1318.3 1097.9 1315.3 1098.8 1316.1 1099.7 1316.7 1100.6 1318.8 1101.5 1324.8 1102.4 1323.3 1103.3 1332 1104.2 1327.5 1105.1 1328.2 1106.1 1329.1 1107 1317 1107.9 1317.4 1108.8 1318.7 1109.7 1313.2 1110.6 1309.5 1111.5 1307.2 1112.4 1300.4 1113.3 1298.1 1114.2 1290.7 1115.1 1285.5 1116 1291.9 1116.9 1281.2 1117.8 1279 1118.7 1284 1119.6 1281.1 1120.5 1274.2 1121.4 1272.4 1122.3 1272 1123.2 1267.4 1124.1 1270.4 1125 1266.9 1125.9 1263.2 1126.9 1261.6 1127.8 1257.8 1128.7 1257.8 1129.6 1253.2 1130.5 1245.1 1131.4 1257.1 1132.3 1254.2 1133.2 1256.8 1134.1 1267.3 1135 1264.3 1135.9 1263.8 1136.8 1266.4 1137.7 1262.7 1138.6 1265.5 1139.5 1273.1 1140.4 1274.4 1141.3 1270.3 1142.2 1261.9 1143.1 1262.9 1144 1262.7 1144.9 1270.4 1145.8 1270.7 1146.7 1274.2 1147.7 1274.6 1148.6 1267.9 1149.5 1269 1150.4 1270.8 1151.3 1267.9 1152.2 1270.8 1153.1 1269 1154 1260.1 1154.9 1263.7 1155.8 1261.8 1156.7 1260.8 1157.6 1251.5 1158.5 1250.7 1159.4 1253.1 1160.3 1254.6 1161.2 1253.2 1162.1 1260.5 1163 1268.9 1163.9 1268.6 1164.8 1273.1 1165.7 1282.8 1166.6 1277.1 1167.5 1278.7 1168.5 1277.6 1169.4 1279.5 1170.3 1285.5 1171.2 1279.4 1172.1 1276.3 1173 1278 1173.9 1281.9 1174.8 1282.7 1175.7 1276.1 1176.6 1278.5 1177.5 1271.1 1178.4 1270.1 1179.3 1267 1180.2 1263.7 1181.1 1256.8 1182 1254 1182.9 1252.5 1183.8 1243.3 1184.7 1246.2 1185.6 1245.4 1186.5 1244.6 1187.4 1237.6 1188.3 1233.5 1189.3 1232.1 1190.2 1227.5 1191.1 1227.3 1192 1232.6 1192.9 1235.8 1193.8 1234.8 1194.7 1238.9 1195.6 1234.9 1196.5 1244.7 1197.4 1239.5 1198.3 1241.1 1199.2 1235.9 1200.1 1238.2 1201 1238.9 1201.9 1238.8 1202.8 1229.5 1203.7 1234.8 1204.6 1229.7 1205.5 1226 1206.4 1227 1207.3 1220.9 1208.2 1217.3 1209.1 1214 1210.1 1215.2 1211 1212 1211.9 1205.9 1212.8 1198 1213.7 1194.9 1214.6 1194.2 1215.5 1193.4 1216.4 1186.3 1217.3 1188.2 1218.2 1181.1 1219.1 1177.7 1220 1183.2 1220.9 1178.1 1221.8 1182.4" fill="none" stroke="#b14a5b" stroke-width="4.4" stroke-linejoin="round"/>
<path d="M973.4 1170.2L973.4 1339" stroke="#000" stroke-width="4"/>
<path d="M971.4 1337L1234.6 1337" stroke="#000" stroke-width="4"/>
<path d="M962.2 1198.9L971.4 1198.9" stroke="#333" stroke-width="4"/>
<text x="952.8" y="1204.7" font-size="16.2" text-anchor="end" fill="#4d4d4d">1e−04</text>
<path d="M962.2 1234L971.4 1234" stroke="#333" stroke-width="4"/>
<text x="952.8" y="1239.8" font-size="16.2" text-anchor="end" fill="#4d4d4d">0e+00</text>
<path d="M962.2 1269.7L971.4 1269.7" stroke="#333" stroke-width="4"/>
<text x="952.8" y="1275.5" font-size="16.2" text-anchor="end" fill="#4d4d4d">−1e−04</text>
<path d="M962.2 1304.8L971.4 1304.8" stroke="#333" stroke-width="4"/>
<text x="952.8" y="1310.6" font-size="16.2" text-anchor="end" fill="#4d4d4d">−2e−04</text>
<path d="M985.4 1339L985.4 1347" stroke="#333" stroke-width="4"/>
<text x="985.4" y="1368.8" font-size="16.2" text-anchor="middle" fill="#4d4d4d">−500</text>
<path d="M1045 1339L1045 1347" stroke="#333" stroke-width="4"/>
<text x="1045" y="1368.8" font-size="16.2" text-anchor="middle" fill="#4d4d4d">−250</text>
<path d="M1104.6 1339L1104.6 1347" stroke="#333" stroke-width="4"/>
<text x="1104.6" y="1368.8" font-size="16.2" text-anchor="middle" fill="#4d4d4d">0</text>
<path d="M1164.2 1339L1164.2 1347" stroke="#333" stroke-width="4"/>
<text x="1164.2" y="1368.8" font-size="16.2" text-anchor="middle" fill="#4d4d4d">250</text>
<path d="M1223.8 1339L1223.8 1347" stroke="#333" stroke-width="4"/>
<text x="1223.8" y="1368.8" font-size="16.2" text-anchor="middle" fill="#4d4d4d">500</text>
<text x="1104.6" y="1398.5" font-size="20.3" text-anchor="middle">Distance from NDR center</text>
<text transform="translate(881.4 1253.6) rotate(-90)" font-size="20.3" text-anchor="middle">Attribution Score</text>
<text x="1104.6" y="1142.4" font-size="24" text-anchor="middle">esophagus</text>
<path d="M1389.8 1243.5 1391 1243.2 1392.2 1244.3 1393.4 1247.5 1394.6 1246.4 1395.8 1246.2 1397 1246.4 1398.2 1245.3 1399.4 1245 1400.7 1245.1 1401.9 1242.3 1403.1 1245.4 1404.3 1242.9 1405.5 1242.6 1406.7 1243.7 1407.9 1243 1409.1 1241.5 1410.3 1241.9 1411.5 1239.4 1412.7 1238.6 1414 1236.7 1415.2 1236.1 1416.4 1236 1417.6 1234.5 1418.8 1233.5 1420 1233.6 1421.2 1232.7 1422.4 1232.2 1423.6 1232.5 1424.8 1234.9 1426 1234.7 1427.3 1236.1 1428.5 1237 1429.7 1238.2 1430.9 1239 1432.1 1239.2 1433.3 1239.6 1434.5 1239.9 1435.7 1241.1 1436.9 1243.4 1438.1 1244.9 1439.3 1246.5 1440.6 1247.6 1441.8 1248.6 1443 1251.7 1444.2 1253.1 1445.4 1251.8 1446.6 1254.5 1447.8 1254.9 1449 1256.3 1450.2 1253.8 1451.4 1253.7 1452.6 1255.6 1453.8 1253.2 1455.1 1253.8 1456.3 1253.2 1457.5 1253 1458.7 1252 1459.9 1253.8 1461.1 1255.1 1462.3 1255 1463.5 1255.4 1464.7 1256.5 1465.9 1259.9 1467.1 1260.9 1468.4 1263.2 1469.6 1262.7 1470.8 1266.2 1472 1266.6 1473.2 1269.8 1474.4 1270.3 1475.6 1269.8 1476.8 1271.5 1478 1273 1479.2 1270.4 1480.4 1268 1481.7 1264.3 1482.9 1262.1 1484.1 1257.8 1485.3 1254.7 1486.5 1251.4 1487.7 1246.5 1488.9 1242.8 1490.1 1238.7 1491.3 1237.1 1492.5 1233.5 1493.7 1231.1 1495 1231.2 1496.2 1232.5 1497.4 1232 1498.6 1235.4 1499.8 1235.8 1501 1236.6 1502.2 1238.9 1503.4 1242.9 1504.6 1243.1 1505.8 1247 1507 1249.2 1508.2 1250 1509.5 1246.8 1510.7 1243.5 1511.9 1242 1513.1 1238.9 1514.3 1236.6 1515.5 1232.7 1516.7 1231.5 1517.9 1227.5 1519.1 1227.4 1520.3 1225.8 1521.5 1225.9 1522.8 1226.2 1524 1228.8 1525.2 1231.8 1526.4 1233 1527.6 1235.9 1528.8 1243.1 1530 1247.3 1531.2 1252.4 1532.4 1259.1 1533.6 1262.4 1534.8 1262.9 1536.1 1268.6 1537.3 1272.6 1538.5 1271.4 1539.7 1269 1540.9 1269.7 1542.1 1266.3 1543.3 1264.4 1544.5 1262.3 1545.7 1259.7 1546.9 1258.1 1548.1 1257 1549.4 1254.9 1550.6 1255 1551.8 1251.9 1553 1252.8 1554.2 1255.2 1555.4 1254.3 1556.6 1255.8 1557.8 1253.4 1559 1252.4 1560.2 1251.3 1561.4 1250.3 1562.6 1248.2 1563.9 1246.7 1565.1 1245.5 1566.3 1244.1 1567.5 1242.3 1568.7 1242.1 1569.9 1241.8 1571.1 1239.4 1572.3 1238.3 1573.5 1240.6 1574.7 1239.7 1575.9 1238 1577.2 1237.6 1578.4 1235.9 1579.6 1234.9 1580.8 1235.8 1582 1234.6 1583.2 1238 1584.4 1237.8 1585.6 1239.8 1586.8 1242.5 1588 1243.7 1589.2 1243 1590.5 1245.4 1591.7 1244.4 1592.9 1245.4 1594.1 1246.9 1595.3 1248.4 1596.5 1247 1597.7 1248 1598.9 1247.6 1600.1 1246.4 1601.3 1247.3 1602.5 1248.5 1603.8 1246.7 1605 1247 1606.2 1247.1 1607.4 1246 1608.6 1248.1 1609.8 1248.6 1611 1248.8 1612.2 1247.6 1613.4 1245.1 1614.6 1244.1 1615.8 1243.1 1617.1 1242.3 1618.3 1241.8 1619.5 1242.8 1620.7 1242.7 1621.9 1240.3 1623.1 1241.1 1624.3 1238.8 1625.5 1239.1 1626.7 1238" fill="none" stroke="#3f5a78" stroke-width="4.4" stroke-linejoin="round"/>
<path d="M1388.6 1235.6 1389.5 1236.7 1390.4 1233.2 1391.3 1230 1392.2 1232.4 1393.1 1233.8 1394 1240.5 1394.9 1244.6 1395.8 1252.4 1396.7 1242.8 1397.6 1239.6 1398.5 1233.3 1399.4 1229 1400.3 1222.1 1401.2 1214.1 1402.1 1207.2 1403 1199.4 1403.9 1202 1404.9 1204.1 1405.8 1203 1406.7 1187.6 1407.6 1189 1408.5 1187.9 1409.4 1186.9 1410.3 1191.2 1411.2 1189.5 1412.1 1185.3 1413 1183.9 1413.9 1182.4 1414.8 1187.8 1415.7 1190.4 1416.6 1191.8 1417.5 1181.1 1418.4 1184.8 1419.3 1191.2 1420.2 1192.5 1421.2 1195.1 1422.1 1190.1 1423 1192.2 1423.9 1192.6 1424.8 1195.4 1425.7 1190 1426.6 1190.2 1427.5 1184.4 1428.4 1187.3 1429.3 1196.9 1430.2 1199.5 1431.1 1205.7 1432 1207.3 1432.9 1214.5 1433.8 1217.1 1434.7 1209.9 1435.6 1219.2 1436.5 1217.1 1437.5 1219 1438.4 1219.2 1439.3 1223.3 1440.2 1220.1 1441.1 1224.8 1442 1228.3 1442.9 1234.9 1443.8 1240.3 1444.7 1243.4 1445.6 1240.2 1446.5 1232.1 1447.4 1223.4 1448.3 1224 1449.2 1217.9 1450.1 1213.4 1451 1212.8 1451.9 1204.7 1452.8 1203.7 1453.8 1199.6 1454.7 1209.5 1455.6 1204.6 1456.5 1198.1 1457.4 1197.5 1458.3 1198 1459.2 1203.9 1460.1 1215.1 1461 1215.4 1461.9 1219.5 1462.8 1220.8 1463.7 1221.4 1464.6 1221.1 1465.5 1227.8 1466.4 1222.1 1467.3 1226.4 1468.2 1229.1 1469.1 1234.2 1470.1 1233.8 1471 1240.7 1471.9 1255.8 1472.8 1259.6 1473.7 1257.8 1474.6 1262.8 1475.5 1270 1476.4 1270.9 1477.3 1284.8 1478.2 1284.2 1479.1 1292.3 1480 1291.4 1480.9 1307 1481.8 1306.5 1482.7 1314.5 1483.6 1310.8 1484.5 1316.3 1485.4 1311.9 1486.4 1308.7 1487.3 1310.3 1488.2 1307.2 1489.1 1301.1 1490 1294 1490.9 1295.8 1491.8 1295.1 1492.7 1289.2 1493.6 1285.6 1494.5 1284 1495.4 1281.9 1496.3 1287 1497.2 1290 1498.1 1281 1499 1282.2 1499.9 1289.6 1500.8 1288.9 1501.7 1297.3 1502.7 1296.5 1503.6 1303.2 1504.5 1304.6 1505.4 1309.6 1506.3 1314.4 1507.2 1317 1508.1 1319.1 1509 1314.2 1509.9 1323.6 1510.8 1316.5 1511.7 1314 1512.6 1317.1 1513.5 1321.5 1514.4 1315.7 1515.3 1313.8 1516.2 1310 1517.1 1314.7 1518.1 1312.9 1519 1317 1519.9 1314.9 1520.8 1311.7 1521.7 1314.8 1522.6 1311.4 1523.5 1308 1524.4 1310.6 1525.3 1308.3 1526.2 1306.6 1527.1 1309.2 1528 1316.9 1528.9 1310.4 1529.8 1307.4 1530.7 1301.8 1531.6 1305.9 1532.5 1302.9 1533.4 1301.6 1534.4 1297.8 1535.3 1299.9 1536.2 1298.1 1537.1 1289.8 1538 1290.4 1538.9 1291.3 1539.8 1288.7 1540.7 1278.6 1541.6 1275.9 1542.5 1273.9 1543.4 1264.8 1544.3 1260.5 1545.2 1255.7 1546.1 1248.2 1547 1245.6 1547.9 1240 1548.8 1229.6 1549.7 1228.4 1550.7 1226 1551.6 1221.6 1552.5 1221.9 1553.4 1215.3 1554.3 1217 1555.2 1207.4 1556.1 1212.3 1557 1204 1557.9 1201.4 1558.8 1207.4 1559.7 1216 1560.6 1221.9 1561.5 1223.2 1562.4 1226 1563.3 1232.4 1564.2 1238.4 1565.1 1240.5 1566 1248.9 1567 1246.2 1567.9 1249.4 1568.8 1247.3 1569.7 1250.3 1570.6 1243.8 1571.5 1246 1572.4 1255.3 1573.3 1256 1574.2 1253.2 1575.1 1243.4 1576 1247.5 1576.9 1249.8 1577.8 1248.2 1578.7 1245.2 1579.6 1250.6 1580.5 1243.9 1581.4 1238 1582.3 1240.2 1583.3 1228.8 1584.2 1215.6 1585.1 1208.6 1586 1210.4 1586.9 1203.8 1587.8 1204.2 1588.7 1199 1589.6 1198.4 1590.5 1197.2 1591.4 1190.9 1592.3 1185.7 1593.2 1185.9 1594.1 1185.5 1595 1185.1 1595.9 1183.7 1596.8 1181.8 1597.7 1182.1 1598.6 1177.3 1599.6 1182.8 1600.5 1185.8 1601.4 1183 1602.3 1184.5 1603.2 1190.1 1604.1 1191.2 1605 1193.3 1605.9 1196.9 1606.8 1199.8 1607.7 1204.4 1608.6 1215.8 1609.5 1223.6 1610.4 1223.7 1611.3 1232.8 1612.2 1239.5 1613.1 1242.2 1614 1245.8 1614.9 1249.3 1615.9 1245.8 1616.8 1252.1 1617.7 1253.1 1618.6 1261.6 1619.5 1260.4 1620.4 1260.4 1621.3 1265 1622.2 1271.1 1623.1 1269 1624 1263.2 1624.9 1260.5 1625.8 1255 1626.7 1256.4" fill="none" stroke="#b14a5b" stroke-width="4.4" stroke-linejoin="round"/>
<path d="M1378 1170.2L1378 1339" stroke="#000" stroke-width="4"/>
<path d="M1376 1337L1639 1337" stroke="#000" stroke-width="4"/>
<path d="M1366.8 1191L1376 1191" stroke="#333" stroke-width="4"/>
<text x="1357.4" y="1196.8" font-size="16.2" text-anchor="end" fill="#4d4d4d">2e−04</text>
<path d="M1366.8 1219.8L1376 1219.8" stroke="#333" stroke-width="4"/>
<text x="1357.4" y="1225.6" font-size="16.2" text-anchor="end" fill="#4d4d4d">1e−04</text>
<path d="M1366.8 1248L1376 1248" stroke="#333" stroke-width="4"/>
<text x="1357.4" y="1253.8" font-size="16.2" text-anchor="end" fill="#4d4d4d">0e+00</text>
<path d="M1366.8 1276.6L1376 1276.6" stroke="#333" stroke-width="4"/>
<text x="1357.4" y="1282.4" font-size="16.2" text-anchor="end" fill="#4d4d4d">−1e−04</text>
<path d="M1366.8 1304.8L1376 1304.8" stroke="#333" stroke-width="4"/>
<text x="1357.4" y="1310.6" font-size="16.2" text-anchor="end" fill="#4d4d4d">−2e−04</text>
<path d="M1366.8 1333L1376 1333" stroke="#333" stroke-width="4"/>
<text x="1357.4" y="1338.8" font-size="16.2" text-anchor="end" fill="#4d4d4d">−3e−04</text>
<path d="M1389.1 1339L1389.1 1347" stroke="#333" stroke-width="4"/>
<text x="1389.1" y="1368.8" font-size="16.2" text-anchor="middle" fill="#4d4d4d">−500</text>
<path d="M1448.9 1339L1448.9 1347" stroke="#333" stroke-width="4"/>
<text x="1448.9" y="1368.8" font-size="16.2" text-anchor="middle" fill="#4d4d4d">−250</text>
<path d="M1508.7 1339L1508.7 1347" stroke="#333" stroke-width="4"/>
<text x="1508.7" y="1368.8" font-size="16.2" text-anchor="middle" fill="#4d4d4d">0</text>
<path d="M1568.4 1339L1568.4 1347" stroke="#333" stroke-width="4"/>
<text x="1568.4" y="1368.8" font-size="16.2" text-anchor="middle" fill="#4d4d4d">250</text>
<path d="M1628.2 1339L1628.2 1347" stroke="#333" stroke-width="4"/>
<text x="1628.2" y="1368.8" font-size="16.2" text-anchor="middle" fill="#4d4d4d">500</text>
<text x="1508.7" y="1398.5" font-size="20.3" text-anchor="middle">Distance from NDR center</text>
<text transform="translate(1286 1253.6) rotate(-90)" font-size="20.3" text-anchor="middle">Attribution Score</text>
<text x="1508.7" y="1142.4" font-size="24" text-anchor="middle">ovary</text>
<path d="M1792.9 1254.8 1794.1 1253.5 1795.3 1254.9 1796.6 1250.9 1797.8 1251.9 1799 1251.8 1800.2 1251.2 1801.4 1252.2 1802.6 1250.1 1803.8 1251.2 1805 1252.6 1806.2 1252.4 1807.4 1251.4 1808.6 1250.4 1809.8 1251.5 1811 1248.4 1812.3 1247.6 1813.5 1248.2 1814.7 1247.6 1815.9 1247.4 1817.1 1246.5 1818.3 1247.1 1819.5 1247.6 1820.7 1248 1821.9 1249.3 1823.1 1251.4 1824.3 1250.2 1825.5 1248.8 1826.7 1248.1 1827.9 1247.2 1829.2 1249.8 1830.4 1247.5 1831.6 1250.2 1832.8 1249 1834 1248.1 1835.2 1246.5 1836.4 1247.5 1837.6 1244.8 1838.8 1245 1840 1239.1 1841.2 1236.7 1842.4 1236.2 1843.6 1234.3 1844.9 1231.8 1846.1 1228.4 1847.3 1231.9 1848.5 1231.7 1849.7 1232.2 1850.9 1232 1852.1 1234.3 1853.3 1234.4 1854.5 1236.2 1855.7 1236.9 1856.9 1238.8 1858.1 1237.9 1859.3 1238.6 1860.6 1239.7 1861.8 1238.3 1863 1237.5 1864.2 1236.7 1865.4 1236.6 1866.6 1233.9 1867.8 1233.8 1869 1233.9 1870.2 1230.6 1871.4 1227.7 1872.6 1225.5 1873.8 1224.7 1875 1221 1876.3 1218.3 1877.5 1216.6 1878.7 1213.5 1879.9 1212.3 1881.1 1207.1 1882.3 1206.9 1883.5 1205 1884.7 1206.3 1885.9 1207.4 1887.1 1207.9 1888.3 1210.8 1889.5 1211.6 1890.7 1212.9 1891.9 1217.2 1893.2 1218.3 1894.4 1221.7 1895.6 1225.4 1896.8 1227.2 1898 1229.9 1899.2 1232.4 1900.4 1236.2 1901.6 1238.2 1902.8 1238.8 1904 1242.3 1905.2 1242.4 1906.4 1241.8 1907.6 1239.3 1908.9 1238.8 1910.1 1237.6 1911.3 1236.8 1912.5 1236.7 1913.7 1237.2 1914.9 1238.8 1916.1 1239.7 1917.3 1240.1 1918.5 1241.5 1919.7 1243.8 1920.9 1242.1 1922.1 1245.3 1923.3 1244.9 1924.6 1245.8 1925.8 1242.9 1927 1242 1928.2 1238.6 1929.4 1234.8 1930.6 1230.7 1931.8 1226.6 1933 1219.1 1934.2 1215.1 1935.4 1214.2 1936.6 1206.7 1937.8 1203.1 1939 1201.1 1940.3 1195.8 1941.5 1197.7 1942.7 1197.6 1943.9 1197.3 1945.1 1200.9 1946.3 1200.9 1947.5 1203 1948.7 1206.8 1949.9 1209.1 1951.1 1212.2 1952.3 1217.4 1953.5 1221.1 1954.7 1225.8 1956 1230.7 1957.2 1233.5 1958.4 1235.1 1959.6 1237.3 1960.8 1237.8 1962 1239.3 1963.2 1239.8 1964.4 1243 1965.6 1240.9 1966.8 1241.8 1968 1241.4 1969.2 1239.4 1970.4 1241.2 1971.6 1237.9 1972.9 1236.4 1974.1 1237.5 1975.3 1237.2 1976.5 1238.6 1977.7 1238.3 1978.9 1239.6 1980.1 1239.2 1981.3 1237.9 1982.5 1240.5 1983.7 1240.9 1984.9 1241 1986.1 1243.5 1987.3 1244.8 1988.6 1247.3 1989.8 1246 1991 1248.8 1992.2 1248.6 1993.4 1249.9 1994.6 1249.7 1995.8 1250.5 1997 1252.2 1998.2 1251.9 1999.4 1252.3 2000.6 1255.4 2001.8 1256.2 2003 1257.9 2004.3 1259.6 2005.5 1259 2006.7 1259.7 2007.9 1258 2009.1 1257.5 2010.3 1256.5 2011.5 1254.5 2012.7 1252.1 2013.9 1250.5 2015.1 1248.5 2016.3 1247.4 2017.5 1246.9 2018.7 1246.1 2020 1243.2 2021.2 1242.5 2022.4 1241.7 2023.6 1240.4 2024.8 1237.3 2026 1237 2027.2 1235.4 2028.4 1236.7 2029.6 1238.3 2030.8 1239.7" fill="none" stroke="#3f5a78" stroke-width="4.4" stroke-linejoin="round"/>
<path d="M1792.9 1279.6 1793.8 1273.8 1794.7 1269 1795.6 1267.8 1796.5 1264.5 1797.5 1263.5 1798.4 1262.9 1799.3 1268.3 1800.2 1268.6 1801.1 1247.3 1802 1240.6 1802.9 1238.9 1803.8 1231 1804.7 1224.1 1805.6 1235.5 1806.5 1232.2 1807.4 1233.1 1808.3 1252.4 1809.2 1236.6 1810.1 1235.5 1811 1225.1 1811.9 1223.4 1812.8 1220.1 1813.7 1208.9 1814.6 1208.7 1815.5 1204.9 1816.4 1197.1 1817.4 1203.9 1818.3 1199.6 1819.2 1202.8 1820.1 1206.4 1821 1211.7 1821.9 1217.6 1822.8 1215.2 1823.7 1219.8 1824.6 1197.9 1825.5 1203 1826.4 1215.7 1827.3 1211.6 1828.2 1223.8 1829.1 1224.6 1830 1240.8 1830.9 1250.9 1831.8 1264.5 1832.7 1269.9 1833.6 1278.7 1834.5 1282.5 1835.4 1292.3 1836.3 1296.1 1837.3 1296.3 1838.2 1298.5 1839.1 1305.8 1840 1321.2 1840.9 1310.3 1841.8 1319 1842.7 1310.9 1843.6 1314.4 1844.5 1308.2 1845.4 1298.6 1846.3 1295.1 1847.2 1276.8 1848.1 1277 1849 1265.3 1849.9 1248.4 1850.8 1266.8 1851.7 1267.6 1852.6 1261.7 1853.5 1245 1854.4 1246.4 1855.3 1239 1856.2 1228.9 1857.2 1218.6 1858.1 1221.6 1859 1219.1 1859.9 1211.5 1860.8 1210.7 1861.7 1207.3 1862.6 1216.3 1863.5 1219.6 1864.4 1214.8 1865.3 1224.1 1866.2 1210.5 1867.1 1204 1868 1208.9 1868.9 1197.9 1869.8 1203.1 1870.7 1201.7 1871.6 1192 1872.5 1189.8 1873.4 1185 1874.3 1188.4 1875.2 1188.7 1876.1 1205.7 1877.1 1201.8 1878 1190.4 1878.9 1177.5 1879.8 1200.2 1880.7 1205.7 1881.6 1208.5 1882.5 1209 1883.4 1210.7 1884.3 1209.4 1885.2 1222.5 1886.1 1216.3 1887 1210.2 1887.9 1215.7 1888.8 1208.3 1889.7 1225.7 1890.6 1228 1891.5 1234.6 1892.4 1238 1893.3 1227.4 1894.2 1236.9 1895.1 1243.7 1896 1248.2 1896.9 1247.3 1897.9 1260.5 1898.8 1266.2 1899.7 1276.6 1900.6 1273.5 1901.5 1276.1 1902.4 1277.1 1903.3 1279.5 1904.2 1279.9 1905.1 1285.6 1906 1293.2 1906.9 1288.4 1907.8 1285.3 1908.7 1279.7 1909.6 1281.1 1910.5 1276.2 1911.4 1284 1912.3 1285 1913.2 1273.1 1914.1 1279.4 1915 1285.6 1915.9 1290.6 1916.8 1299.7 1917.8 1297.7 1918.7 1291.3 1919.6 1271 1920.5 1270.2 1921.4 1264.8 1922.3 1260.1 1923.2 1271.5 1924.1 1268.5 1925 1274.1 1925.9 1273.5 1926.8 1279.3 1927.7 1269.9 1928.6 1257.1 1929.5 1242.9 1930.4 1249.9 1931.3 1244.6 1932.2 1240.4 1933.1 1238.8 1934 1236.5 1934.9 1235 1935.8 1227.4 1936.7 1230.2 1937.7 1230.2 1938.6 1222.6 1939.5 1217.3 1940.4 1229.3 1941.3 1230.6 1942.2 1233.4 1943.1 1237.3 1944 1230.6 1944.9 1238.7 1945.8 1240.7 1946.7 1244.5 1947.6 1228.5 1948.5 1236.8 1949.4 1251.5 1950.3 1249.1 1951.2 1251.5 1952.1 1255.3 1953 1247.2 1953.9 1245.7 1954.8 1251.8 1955.7 1254.2 1956.6 1248 1957.6 1264.1 1958.5 1250.9 1959.4 1252.3 1960.3 1266.8 1961.2 1253 1962.1 1265.8 1963 1263 1963.9 1259.1 1964.8 1249.9 1965.7 1247.7 1966.6 1251 1967.5 1253.7 1968.4 1242.2 1969.3 1238.3 1970.2 1229.1 1971.1 1244 1972 1245.1 1972.9 1254.4 1973.8 1251.2 1974.7 1253.1 1975.6 1258.9 1976.5 1253.5 1977.5 1249.3 1978.4 1243.6 1979.3 1247.9 1980.2 1254.4 1981.1 1259.1 1982 1256.6 1982.9 1261.2 1983.8 1269.6 1984.7 1267.6 1985.6 1282 1986.5 1273.8 1987.4 1269.6 1988.3 1255 1989.2 1255.3 1990.1 1254.5 1991 1254.8 1991.9 1250.5 1992.8 1260 1993.7 1264.2 1994.6 1267.5 1995.5 1260.8 1996.4 1279.1 1997.4 1274.9 1998.3 1284.5 1999.2 1283.6 2000.1 1288.6 2001 1293.8 2001.9 1290.3 2002.8 1290.2 2003.7 1281.1 2004.6 1287.9 2005.5 1265.6 2006.4 1273.5 2007.3 1286.2 2008.2 1285.7 2009.1 1288.4 2010 1285.6 2010.9 1298.6 2011.8 1278.3 2012.7 1284.7 2013.6 1286.8 2014.5 1293.7 2015.4 1296.3 2016.3 1282.3 2017.3 1278.1 2018.2 1276.9 2019.1 1266.5 2020 1273.2 2020.9 1260.1 2021.8 1255.8 2022.7 1256.8 2023.6 1269.5 2024.5 1272.8 2025.4 1280.8 2026.3 1281.3 2027.2 1284.2 2028.1 1268.9 2029 1255.3 2029.9 1268.8 2030.8 1262.4" fill="none" stroke="#b14a5b" stroke-width="4.4" stroke-linejoin="round"/>
<path d="M1782 1170.2L1782 1339" stroke="#000" stroke-width="4"/>
<path d="M1780 1337L2042.8 1337" stroke="#000" stroke-width="4"/>
<path d="M1770.8 1197.2L1780 1197.2" stroke="#333" stroke-width="4"/>
<text x="1761.4" y="1203" font-size="16.2" text-anchor="end" fill="#4d4d4d">5e−05</text>
<path d="M1770.8 1239.1L1780 1239.1" stroke="#333" stroke-width="4"/>
<text x="1761.4" y="1244.9" font-size="16.2" text-anchor="end" fill="#4d4d4d">0e+00</text>
<path d="M1770.8 1281L1780 1281" stroke="#333" stroke-width="4"/>
<text x="1761.4" y="1286.8" font-size="16.2" text-anchor="end" fill="#4d4d4d">−5e−05</text>
<path d="M1770.8 1323L1780 1323" stroke="#333" stroke-width="4"/>
<text x="1761.4" y="1328.8" font-size="16.2" text-anchor="end" fill="#4d4d4d">−1e−04</text>
<path d="M1793.6 1339L1793.6 1347" stroke="#333" stroke-width="4"/>
<text x="1793.6" y="1368.8" font-size="16.2" text-anchor="middle" fill="#4d4d4d">−500</text>
<path d="M1853.2 1339L1853.2 1347" stroke="#333" stroke-width="4"/>
<text x="1853.2" y="1368.8" font-size="16.2" text-anchor="middle" fill="#4d4d4d">−250</text>
<path d="M1912.8 1339L1912.8 1347" stroke="#333" stroke-width="4"/>
<text x="1912.8" y="1368.8" font-size="16.2" text-anchor="middle" fill="#4d4d4d">0</text>
<path d="M1972.4 1339L1972.4 1347" stroke="#333" stroke-width="4"/>
<text x="1972.4" y="1368.8" font-size="16.2" text-anchor="middle" fill="#4d4d4d">250</text>
<path d="M2032 1339L2032 1347" stroke="#333" stroke-width="4"/>
<text x="2032" y="1368.8" font-size="16.2" text-anchor="middle" fill="#4d4d4d">500</text>
<text x="1912.8" y="1398.5" font-size="20.3" text-anchor="middle">Distance from NDR center</text>
<text transform="translate(1690 1253.6) rotate(-90)" font-size="20.3" text-anchor="middle">Attribution Score</text>
<text x="1912.8" y="1142.4" font-size="24" text-anchor="middle">pancreas</text>
<text x="-2.2" y="1186.6" font-size="59.5" font-weight="bold">E</text>
<g>
<rect x="214" y="1689" width="600" height="549" fill="#f4f2f5"/>
<path stroke="#c45564" stroke-width="4" d="M214 1691h4M226 1691h8M238 1691h8M270 1691h4M690 1691h4M702 1691h4M766 1691h8M778 1691h4M786 1691h4M214 1695h4M226 1695h8M238 1695h8M270 1695h4M690 1695h4M702 1695h4M766 1695h8M778 1695h4M786 1695h4M330 1699h4M342 1699h4M354 1699h4M362 1699h4M370 1699h12M218 1703h8M234 1703h4M246 1703h24M274 1703h20M706 1707h16M726 1707h12M798 1707h16M294 1711h4M322 1711h8M334 1711h8M346 1711h8M358 1711h4M366 1711h4M382 1711h4M798 1711h16M386 1715h16M638 1715h4M298 1719h4M214 1727h4M226 1727h8M238 1727h8M270 1727h4M218 1735h8M234 1735h4M246 1735h24M274 1735h20M218 1739h8M234 1739h4M246 1739h24M274 1739h20"/>
<path stroke="#b52133" stroke-width="4" d="M218 1691h8M234 1691h4M246 1691h24M274 1691h20M322 1699h8M334 1699h8M346 1699h8M358 1699h4M366 1699h4M382 1699h4M798 1699h16M690 1715h4M702 1715h20M726 1715h12M766 1715h8M778 1715h4M786 1715h4M294 1719h4M218 1727h8M234 1727h4M246 1727h24M274 1727h20"/>
<path stroke="#bd3b4b" stroke-width="4" d="M294 1691h4M294 1695h4M322 1695h8M334 1695h8M346 1695h8M358 1695h4M366 1695h4M382 1695h4M798 1695h16M690 1699h4M702 1699h4M766 1699h8M778 1699h4M786 1699h4M706 1703h16M726 1703h12M218 1711h8M234 1711h4M246 1711h24M274 1711h20M330 1715h4M342 1715h4M354 1715h4M362 1715h4M370 1715h12M214 1719h4M226 1719h8M238 1719h8M270 1719h4M294 1727h4M762 1767h28M762 1775h28M762 1783h28M762 1787h28"/>
<path stroke="#cc6f7c" stroke-width="4" d="M298 1691h4M330 1695h4M342 1695h4M354 1695h4M362 1695h4M370 1695h12M722 1695h4M294 1703h4M638 1703h4M694 1703h8M722 1703h4M762 1703h4M774 1703h4M782 1703h4M690 1707h4M702 1707h4M766 1707h8M778 1707h4M786 1707h4M214 1711h4M226 1711h8M238 1711h8M270 1711h4M690 1711h4M702 1711h4M766 1711h8M778 1711h4M786 1711h4M402 1715h4M634 1715h4M642 1715h8M654 1715h8M666 1715h8M678 1715h4M686 1715h4M746 1715h16M386 1719h16M798 1723h16M330 1727h4M342 1727h4M354 1727h4M362 1727h4M370 1727h12M218 1731h8M234 1731h4M246 1731h24M274 1731h20M322 1735h8M334 1735h8M346 1735h8M358 1735h4M366 1735h4M382 1735h4M322 1739h8M334 1739h8M346 1739h8M358 1739h4M366 1739h4M382 1739h4M322 1743h8M334 1743h8M346 1743h8M358 1743h4M366 1743h4M382 1743h4M706 1775h32M706 1779h32M794 2131h20M686 2135h20M794 2151h20M794 2155h20M794 2159h20"/>
<path stroke="#e8cbd1" stroke-width="4" d="M302 1691h20M446 1691h12M466 1691h4M562 1691h8M618 1691h16M302 1695h20M562 1695h8M618 1695h16M530 1699h28M442 1703h32M562 1703h8M302 1707h20M402 1707h8M422 1707h8M442 1707h4M458 1707h8M470 1707h4M558 1707h4M570 1707h28M606 1707h4M614 1707h20M302 1711h20M446 1711h12M466 1711h4M558 1711h4M570 1711h28M606 1711h4M614 1711h20M530 1715h28M598 1719h20M386 1723h20M558 1723h4M570 1723h28M606 1723h4M614 1723h20M558 1727h40M618 1727h16M302 1731h20M402 1731h8M422 1731h8M442 1731h4M458 1731h8M470 1731h4M634 1731h4M642 1731h4M670 1731h4M678 1731h4M686 1731h4M746 1731h16M446 1735h12M466 1735h4M598 1735h8M610 1735h4M650 1735h4M662 1735h4M674 1735h4M682 1735h4M738 1735h8M446 1739h12M466 1739h4M598 1739h8M610 1739h4M650 1739h4M662 1739h4M674 1739h4M682 1739h4M738 1739h8M446 1743h12M466 1743h4M598 1743h8M610 1743h4M674 1743h4M682 1743h4M738 1743h8M402 1747h4M410 1747h12M430 1747h12M598 1747h8M610 1747h4M674 1747h4M682 1747h4M738 1747h8M302 1751h20M402 1751h4M410 1751h12M430 1751h12M598 1751h8M610 1751h4M674 1751h4M682 1751h4M738 1751h8M302 1755h20M402 1755h4M410 1755h12M430 1755h12M598 1755h8M610 1755h4M650 1755h4M662 1755h4M674 1755h4M682 1755h4M738 1755h8M214 1759h4M226 1759h8M238 1759h8M270 1759h4M638 1759h4M646 1759h4M654 1759h8M666 1759h8M678 1759h4M686 1759h4M694 1759h8M746 1759h20M774 1759h4M782 1759h4M790 1759h8M302 1763h20M386 1763h16M410 1763h12M430 1763h12M598 1763h8M610 1763h4M634 1763h4M642 1763h4M650 1763h4M662 1763h4M674 1763h4M682 1763h4M738 1763h8M298 1767h24M330 1767h4M342 1767h4M354 1767h4M362 1767h4M370 1767h12M386 1767h16M638 1779h4M638 1783h4M638 1791h4M762 1791h4M774 1791h4M782 1791h4M790 1791h8M298 1795h4M330 1795h4M342 1795h4M354 1795h4M362 1795h4M370 1795h12M386 1795h16M638 1795h4M694 1795h8M722 1795h4M762 1795h4M774 1795h4M782 1795h4M214 1799h4M226 1799h8M238 1799h8M270 1799h4M298 1799h4M322 1799h8M334 1799h8M346 1799h8M358 1799h4M366 1799h4M382 1799h4M690 1799h4M702 1799h4M722 1799h4M766 1799h8M778 1799h4M786 1799h4M214 1803h4M226 1803h8M238 1803h8M270 1803h4M298 1803h4M330 1803h4M342 1803h4M354 1803h4M362 1803h4M370 1803h12M638 1803h4M694 1803h8M722 1803h4M214 1807h4M226 1807h8M238 1807h8M270 1807h4M322 1807h8M334 1807h8M346 1807h8M358 1807h4M366 1807h4M382 1807h4M690 1807h4M702 1807h4M722 1807h4M766 1807h8M778 1807h4M786 1807h4M298 1811h4M330 1811h4M342 1811h4M354 1811h4M362 1811h4M370 1811h12M386 1811h16M638 1811h4M646 1811h4M654 1811h8M666 1811h4M694 1811h8M722 1811h4M762 1811h4M774 1811h4M782 1811h4M790 1811h8M214 1815h4M226 1815h8M238 1815h8M270 1815h4M298 1815h4M330 1815h4M342 1815h4M354 1815h4M362 1815h4M370 1815h12M386 1815h16M638 1815h4M694 1815h8M722 1815h4M762 1815h4M774 1815h4M782 1815h4M298 1819h4M330 1819h4M342 1819h4M354 1819h4M362 1819h4M370 1819h12M386 1819h16M638 1819h4M646 1819h4M654 1819h8M666 1819h8M678 1819h4M686 1819h4M694 1819h8M722 1819h4M746 1819h20M774 1819h4M782 1819h4M790 1819h8M690 1823h4M702 1823h20M726 1823h12M766 1823h8M778 1823h4M786 1823h4M798 1823h16M218 1827h8M234 1827h4M246 1827h24M274 1827h24M634 1827h16M654 1827h8M666 1827h8M678 1827h4M686 1827h4M694 1827h8M722 1827h4M746 1827h20M774 1827h4M782 1827h4M790 1827h8M690 1831h4M702 1831h20M726 1831h12M766 1831h8M778 1831h4M786 1831h4M798 1831h16M690 1835h4M702 1835h20M726 1835h12M766 1835h8M778 1835h4M786 1835h4M706 1995h16M726 1995h12M798 1995h16M706 1999h16M726 1999h12M798 1999h16M706 2011h16M726 2011h12M798 2011h16M790 2019h8M558 2023h148M798 2023h16M798 2031h16M302 2059h20M558 2059h148M302 2063h20M706 2067h16M726 2067h12M766 2067h8M778 2067h4M786 2067h4M798 2067h16M798 2115h16M302 2123h20M402 2131h4M410 2131h12M430 2131h12M386 2135h16M298 2139h4M330 2139h4M342 2139h4M354 2139h4M362 2139h4M370 2139h12M386 2139h16M402 2143h4M410 2143h12M430 2143h12M214 2147h4M226 2147h8M238 2147h8M270 2147h4M322 2147h8M334 2147h8M346 2147h8M358 2147h4M366 2147h4M382 2147h4M386 2151h20M410 2151h12M430 2151h12M330 2155h4M342 2155h4M354 2155h4M362 2155h4M370 2155h12M386 2155h16M214 2159h4M226 2159h8M238 2159h8M270 2159h4M322 2159h8M334 2159h8M346 2159h8M358 2159h4M366 2159h4M382 2159h4"/>
<path stroke="#c14857" stroke-width="4" d="M322 1691h8M334 1691h8M346 1691h8M358 1691h4M366 1691h4M382 1691h4M706 1691h16M726 1691h12M798 1691h16M706 1695h16M726 1695h12M298 1699h4M690 1703h4M702 1703h4M766 1703h8M778 1703h4M786 1703h4M694 1715h8M722 1715h4M762 1715h4M774 1715h4M782 1715h4M322 1727h8M334 1727h8M346 1727h8M358 1727h4M366 1727h4M382 1727h4M218 1743h8M234 1743h4M246 1743h24M274 1743h20M762 1771h28M762 1779h28"/>
<path stroke="#d07c88" stroke-width="4" d="M330 1691h4M342 1691h4M354 1691h4M362 1691h4M370 1691h12M386 1691h16M638 1691h4M722 1691h4M386 1695h16M638 1695h4M694 1695h8M762 1695h4M774 1695h4M782 1695h4M646 1699h4M654 1699h8M666 1699h8M678 1699h4M686 1699h4M746 1699h16M790 1699h8M214 1703h4M226 1703h8M238 1703h8M270 1703h4M322 1703h8M334 1703h8M346 1703h8M358 1703h4M366 1703h4M382 1703h4M790 1703h8M218 1707h8M234 1707h4M246 1707h24M274 1707h20M410 1715h12M430 1715h12M798 1719h16M690 1723h4M702 1723h20M726 1723h12M386 1727h16M690 1727h4M702 1727h20M726 1727h12M766 1727h8M778 1727h4M786 1727h4M214 1735h4M226 1735h8M238 1735h8M270 1735h4M214 1739h4M226 1739h8M238 1739h8M270 1739h4M214 1743h4M226 1743h8M238 1743h8M270 1743h4M706 1767h32M302 1779h20M302 1783h20M302 1787h20M302 1791h20"/>
<path stroke="#dca4ac" stroke-width="4" d="M402 1691h4M410 1691h12M430 1691h12M634 1691h4M642 1691h4M650 1695h4M662 1695h4M406 1699h4M422 1699h8M442 1699h4M458 1699h8M470 1699h4M598 1699h8M610 1699h4M386 1703h16M598 1703h8M610 1703h4M650 1703h4M662 1703h4M674 1703h4M682 1703h4M738 1703h8M214 1707h4M226 1707h8M238 1707h8M270 1707h4M670 1707h4M678 1707h4M686 1707h4M746 1707h16M410 1711h12M430 1711h12M646 1711h4M654 1711h8M666 1711h8M678 1711h4M686 1711h4M746 1711h16M442 1715h4M458 1715h8M470 1715h4M606 1715h4M614 1715h4M406 1719h4M422 1719h8M638 1719h4M694 1719h8M722 1719h4M762 1719h4M774 1719h4M782 1719h4M634 1723h4M642 1723h4M670 1723h4M678 1723h4M686 1723h4M746 1723h16M790 1723h8M410 1727h12M430 1727h12M634 1727h4M642 1727h4M670 1727h4M678 1727h4M686 1727h4M746 1727h16M790 1727h8M298 1731h4M690 1731h4M702 1731h20M726 1731h12M766 1731h8M778 1731h4M786 1731h4M798 1731h16M722 1735h4M638 1739h4M722 1739h4M638 1743h4M722 1743h4M214 1747h4M226 1747h8M238 1747h8M270 1747h4M294 1747h4M322 1747h8M334 1747h8M346 1747h8M358 1747h4M366 1747h4M382 1747h4M638 1747h4M722 1747h4M294 1751h4M322 1751h8M334 1751h8M346 1751h8M358 1751h4M366 1751h4M382 1751h4M294 1755h4M322 1755h8M334 1755h8M346 1755h8M358 1755h4M366 1755h4M382 1755h4M706 1759h16M726 1759h12M294 1763h4M690 1763h4M702 1763h4M766 1763h8M778 1763h4M786 1763h4M218 1767h8M234 1767h4M246 1767h24M274 1767h20M706 2015h32M762 2015h28M706 2023h32M706 2027h32M762 2031h28M762 2035h28M762 2039h28M706 2043h32M706 2047h32M706 2051h32M762 2055h28M706 2059h32M302 2083h20M706 2103h32M706 2107h32M706 2111h32M302 2115h20M706 2115h32M214 2131h4M226 2131h8M238 2131h8M270 2131h4M294 2131h4M322 2131h8M334 2131h8M346 2131h8M358 2131h4M366 2131h4M382 2131h4M218 2135h8M234 2135h4M246 2135h24M274 2135h20M214 2143h4M226 2143h8M238 2143h8M270 2143h4M322 2143h8M334 2143h8M346 2143h8M358 2143h4M366 2143h4M382 2143h4M218 2151h8M234 2151h4M246 2151h24M274 2151h20M218 2155h8M234 2155h4M246 2155h24M274 2155h20"/>
<path stroke="#e0b1b8" stroke-width="4" d="M406 1691h4M422 1691h8M442 1691h4M458 1691h8M470 1691h4M598 1691h8M610 1691h4M650 1691h4M662 1691h4M674 1691h4M682 1691h4M738 1691h8M406 1695h4M422 1695h8M442 1695h4M458 1695h8M470 1695h4M598 1695h8M610 1695h4M674 1695h4M682 1695h4M738 1695h8M558 1699h4M570 1699h28M606 1699h4M614 1699h4M402 1703h4M410 1703h12M430 1703h12M298 1707h4M330 1707h4M342 1707h4M354 1707h4M362 1707h4M370 1707h12M386 1707h16M634 1707h4M642 1707h4M402 1711h4M634 1711h4M642 1711h4M302 1715h20M446 1715h12M466 1715h4M558 1715h4M570 1715h28M442 1719h4M458 1719h8M470 1719h4M670 1719h4M678 1719h4M686 1719h4M746 1719h16M790 1719h8M218 1723h8M234 1723h4M246 1723h24M274 1723h24M302 1723h28M334 1723h8M346 1723h8M358 1723h4M366 1723h4M382 1723h4M674 1723h4M682 1723h4M302 1727h20M406 1727h4M422 1727h8M442 1727h4M458 1727h8M470 1727h4M674 1727h4M682 1727h4M738 1727h8M330 1731h4M342 1731h4M354 1731h4M362 1731h4M370 1731h12M386 1731h16M402 1735h4M410 1735h12M430 1735h12M638 1735h4M646 1735h4M654 1735h8M666 1735h4M694 1735h8M762 1735h4M774 1735h4M782 1735h4M790 1735h8M402 1739h4M410 1739h12M430 1739h12M646 1739h4M654 1739h8M666 1739h4M694 1739h8M762 1739h4M774 1739h4M782 1739h4M790 1739h8M402 1743h4M410 1743h12M430 1743h12M694 1743h8M762 1743h4M774 1743h4M782 1743h4M790 1743h8M298 1747h4M330 1747h4M342 1747h4M354 1747h4M362 1747h4M370 1747h12M694 1747h8M762 1747h4M774 1747h4M782 1747h4M790 1747h8M214 1751h4M226 1751h8M238 1751h8M270 1751h4M638 1751h4M694 1751h8M722 1751h4M762 1751h4M774 1751h4M782 1751h4M790 1751h8M214 1755h4M226 1755h8M238 1755h8M270 1755h4M638 1755h4M694 1755h8M722 1755h4M762 1755h4M774 1755h4M782 1755h4M790 1755h8M218 1759h8M234 1759h4M246 1759h24M274 1759h20M690 1759h4M702 1759h4M766 1759h8M778 1759h4M786 1759h4M798 1759h16M214 1763h4M226 1763h8M238 1763h8M270 1763h4M322 1763h8M334 1763h8M346 1763h8M358 1763h4M366 1763h4M382 1763h4M638 1763h4M694 1763h8M722 1763h4M762 1763h4M774 1763h4M782 1763h4M294 1767h4M322 1767h8M334 1767h8M346 1767h8M358 1767h4M366 1767h4M382 1767h4M798 1791h16M218 1795h8M234 1795h4M246 1795h24M274 1795h20M218 1803h8M234 1803h4M246 1803h24M274 1803h20M218 1811h8M234 1811h4M246 1811h24M274 1811h20M798 1811h16M218 1815h8M234 1815h4M246 1815h24M274 1815h20M218 1819h8M234 1819h4M246 1819h24M274 1819h24M798 1819h16M706 1827h16M726 1827h12M798 1827h16M706 2019h32M798 2019h16M302 2055h20M302 2079h20M302 2091h20M302 2095h20M302 2099h20M706 2099h32M302 2103h20M302 2111h20M302 2119h20M302 2127h20M298 2131h4M330 2131h4M342 2131h4M354 2131h4M362 2131h4M370 2131h12M214 2135h4M226 2135h8M238 2135h8M270 2135h4M294 2135h4M322 2135h8M334 2135h8M346 2135h8M358 2135h4M366 2135h4M382 2135h4M218 2139h8M234 2139h4M246 2139h24M274 2139h20M298 2143h4M330 2143h4M342 2143h4M354 2143h4M362 2143h4M370 2143h12M214 2151h4M226 2151h8M238 2151h8M270 2151h4M294 2151h4M322 2151h8M334 2151h8M346 2151h8M358 2151h4M366 2151h4M382 2151h4M294 2155h4M322 2155h8M334 2155h8M346 2155h8M358 2155h4M366 2155h4M382 2155h4"/>
<path stroke="#f0e5e9" stroke-width="4" d="M474 1691h28M510 1691h16M474 1695h28M510 1695h16M474 1699h8M490 1699h4M498 1699h32M474 1703h28M510 1703h16M474 1707h28M474 1711h28M502 1715h28M474 1719h28M510 1719h16M530 1719h28M446 1723h12M466 1723h4M474 1723h28M474 1727h28M510 1727h16M474 1731h28M530 1731h28M562 1731h8M606 1731h4M614 1731h4M474 1735h28M530 1735h28M474 1739h28M530 1739h28M474 1743h28M530 1743h28M474 1747h28M530 1747h28M446 1751h12M466 1751h4M474 1751h28M530 1751h28M446 1755h12M466 1755h4M474 1755h28M530 1755h28M402 1759h8M422 1759h8M442 1759h32M530 1759h68M606 1759h4M614 1759h20M674 1759h4M682 1759h4M738 1759h8M446 1763h12M466 1763h4M482 1763h8M494 1763h4M530 1763h28M562 1763h8M446 1767h12M466 1767h4M558 1767h4M570 1767h68M642 1767h4M650 1767h4M662 1767h4M670 1767h16M530 1771h104M650 1771h4M662 1771h4M674 1771h4M682 1771h4M530 1775h108M642 1775h4M650 1775h4M662 1775h4M674 1775h4M682 1775h4M530 1779h68M606 1779h4M614 1779h20M530 1783h68M606 1783h4M614 1783h20M738 1783h24M298 1787h4M330 1787h4M342 1787h4M354 1787h4M362 1787h4M370 1787h12M386 1787h60M458 1787h8M470 1787h4M530 1787h104M298 1791h4M330 1791h4M342 1791h4M354 1791h4M362 1791h4M370 1791h12M386 1791h60M458 1791h8M470 1791h4M530 1791h68M606 1791h4M614 1791h20M406 1795h4M422 1795h8M442 1795h32M530 1795h68M606 1795h4M614 1795h20M406 1799h4M422 1799h8M442 1799h32M530 1799h104M650 1799h4M662 1799h4M674 1799h4M682 1799h4M738 1799h8M406 1803h4M422 1803h8M442 1803h32M530 1803h68M606 1803h4M614 1803h20M674 1803h4M682 1803h4M738 1803h8M406 1807h4M422 1807h8M442 1807h32M530 1807h104M650 1807h4M662 1807h4M674 1807h4M682 1807h4M738 1807h8M442 1811h32M530 1811h68M606 1811h4M614 1811h20M406 1815h4M422 1815h8M442 1815h32M530 1815h68M606 1815h4M614 1815h20M446 1819h12M466 1819h4M530 1819h68M606 1819h4M614 1819h20M214 1823h88M322 1823h80M410 1823h12M430 1823h12M530 1823h32M570 1823h68M642 1823h4M650 1823h4M662 1823h4M670 1823h20M738 1823h24M402 1827h72M530 1827h68M618 1827h16M214 1831h4M226 1831h8M238 1831h8M270 1831h4M294 1831h8M322 1831h84M410 1831h12M430 1831h12M530 1831h108M642 1831h4M650 1831h4M662 1831h4M674 1831h4M682 1831h4M738 1831h8M214 1835h4M226 1835h8M238 1835h8M270 1835h4M298 1835h4M322 1835h84M410 1835h12M430 1835h12M530 1835h104M650 1835h4M662 1835h4M674 1835h4M682 1835h4M738 1835h8M298 1839h4M330 1839h4M342 1839h4M354 1839h4M362 1839h4M370 1839h12M386 1839h60M458 1839h8M470 1839h4M214 1843h4M226 1843h8M238 1843h8M270 1843h4M298 1843h4M330 1843h4M342 1843h4M354 1843h4M362 1843h4M370 1843h12M386 1843h60M458 1843h8M470 1843h4M386 1847h88M214 1851h4M226 1851h8M238 1851h8M270 1851h4M298 1851h4M330 1851h4M342 1851h4M354 1851h4M362 1851h4M370 1851h12M386 1851h60M458 1851h8M470 1851h4M214 1855h4M226 1855h8M238 1855h8M270 1855h4M294 1855h8M322 1855h80M410 1855h12M430 1855h12M214 1863h88M322 1863h84M634 1863h12M690 1863h48M762 1863h28M798 1863h16M218 1867h8M234 1867h4M246 1867h24M274 1867h24M218 1875h8M234 1875h4M246 1875h24M274 1875h20M214 1883h192M410 1883h12M430 1883h12M634 1883h180M214 1891h88M322 1891h64M798 1891h16M214 1895h88M322 1895h64M798 1895h16M214 1903h84M322 1903h8M334 1903h8M346 1903h8M358 1903h4M366 1903h4M382 1903h4M214 1907h88M322 1907h80M690 1907h32M726 1907h12M762 1907h28M798 1907h16M214 1911h88M322 1911h64M798 1911h16M214 1915h84M322 1915h8M334 1915h8M346 1915h8M358 1915h4M366 1915h4M382 1915h4M214 1919h88M322 1919h80M690 1919h32M726 1919h12M762 1919h28M798 1919h16M218 1923h8M234 1923h4M246 1923h24M274 1923h24M322 1923h8M334 1923h8M346 1923h8M358 1923h4M366 1923h4M382 1923h4M214 1927h84M322 1927h8M334 1927h8M346 1927h8M358 1927h4M366 1927h4M382 1927h4M218 1931h8M234 1931h4M246 1931h24M274 1931h20M214 1935h88M322 1935h64M798 1935h16M214 1943h88M322 1943h80M690 1943h4M702 1943h20M726 1943h12M766 1943h8M778 1943h4M786 1943h4M798 1943h16M214 1955h84M322 1955h8M334 1955h8M346 1955h8M358 1955h4M366 1955h4M382 1955h4M214 1959h192M410 1959h12M430 1959h12M634 1959h16M654 1959h8M666 1959h148M214 1963h88M322 1963h80M690 1963h32M726 1963h12M762 1963h28M798 1963h16M214 1971h88M322 1971h64M690 1971h4M702 1971h20M726 1971h12M766 1971h8M778 1971h4M786 1971h4M798 1971h16M218 1979h8M234 1979h4M246 1979h24M274 1979h20M218 1983h8M234 1983h4M246 1983h24M274 1983h24M214 1991h88M322 1991h80M738 1995h28M774 1995h4M782 1995h4M790 1995h8M218 1999h8M234 1999h4M246 1999h24M274 1999h24M738 1999h24M558 2003h148M722 2003h4M738 2003h28M774 2003h4M782 2003h4M790 2003h8M558 2007h148M722 2007h4M746 2007h20M774 2007h4M782 2007h4M790 2007h8M218 2011h8M234 2011h4M246 2011h24M274 2011h20M762 2011h4M774 2011h4M782 2011h4M790 2011h8M214 2015h88M322 2015h84M410 2015h12M430 2015h12M530 2015h28M214 2019h4M226 2019h8M238 2019h8M270 2019h4M298 2019h148M458 2019h8M470 2019h4M530 2019h176M214 2023h88M322 2023h80M530 2023h28M738 2023h8M214 2027h88M322 2027h120M530 2027h28M214 2031h84M322 2031h8M334 2031h8M346 2031h8M358 2031h4M366 2031h4M382 2031h4M530 2031h28M738 2031h8M558 2035h148M746 2035h16M790 2035h8M214 2039h88M322 2039h80M530 2039h176M738 2039h8M214 2043h88M322 2043h84M530 2043h176M738 2043h8M530 2047h176M738 2047h8M530 2051h28M738 2051h8M530 2055h176M738 2059h24M790 2059h4M722 2063h4M746 2063h20M774 2063h4M782 2063h4M790 2063h4M530 2067h28M738 2067h8M690 2071h4M702 2071h36M766 2071h8M778 2071h4M786 2071h4M798 2071h16M690 2075h4M702 2075h20M726 2075h12M766 2075h8M778 2075h4M786 2075h4M798 2075h16M598 2079h8M610 2079h4M634 2079h180M598 2083h20M634 2083h164M690 2087h4M702 2087h20M726 2087h12M766 2087h8M778 2087h4M786 2087h4M798 2087h16M634 2091h180M598 2095h8M610 2095h4M634 2095h180M558 2099h4M570 2099h120M694 2099h8M738 2099h28M774 2099h4M782 2099h4M790 2099h8M558 2103h80M642 2103h48M738 2103h24M790 2103h8M598 2107h8M610 2107h4M634 2107h72M746 2107h16M790 2107h24M558 2111h4M570 2111h120M694 2111h8M738 2111h24M790 2111h8M558 2115h76M650 2115h4M662 2115h4M674 2115h4M682 2115h4M738 2115h8M558 2119h4M570 2119h120M694 2119h8M722 2119h4M738 2119h24M790 2119h8M634 2123h16M654 2123h8M666 2123h8M678 2123h4M686 2123h52M746 2123h68M558 2127h4M570 2127h48M634 2127h56M694 2127h8M722 2127h4M738 2127h28M774 2127h4M782 2127h4M790 2127h8M558 2131h80M642 2131h44M738 2131h24M790 2131h4M446 2135h12M466 2135h4M406 2139h4M422 2139h8M442 2139h32M402 2147h8M422 2147h8M442 2147h32M446 2151h12M466 2151h4M446 2155h12M466 2155h4M402 2159h8M422 2159h8M442 2159h32"/>
<path stroke="#ecd8dd" stroke-width="4" d="M530 1691h28M530 1695h28M482 1699h8M494 1699h4M530 1703h28M446 1707h12M466 1707h4M530 1707h28M562 1707h8M530 1711h28M562 1711h8M474 1715h28M558 1719h40M618 1719h16M406 1723h40M458 1723h8M470 1723h4M530 1723h28M562 1723h8M530 1727h28M446 1731h12M466 1731h4M558 1731h4M570 1731h36M610 1731h4M618 1731h16M674 1731h4M682 1731h4M738 1731h8M558 1735h40M606 1735h4M614 1735h20M558 1739h40M606 1739h4M614 1739h20M558 1743h40M606 1743h4M614 1743h20M406 1747h4M422 1747h8M442 1747h32M558 1747h40M606 1747h4M614 1747h20M406 1751h4M422 1751h8M442 1751h4M458 1751h8M470 1751h4M558 1751h40M606 1751h4M614 1751h20M406 1755h4M422 1755h8M442 1755h4M458 1755h8M470 1755h4M558 1755h40M606 1755h4M614 1755h20M298 1759h24M330 1759h4M342 1759h4M354 1759h4M362 1759h4M370 1759h12M386 1759h16M410 1759h12M430 1759h12M598 1759h8M610 1759h4M634 1759h4M642 1759h4M650 1759h4M662 1759h4M402 1763h8M422 1763h8M442 1763h4M458 1763h8M470 1763h4M558 1763h4M570 1763h28M606 1763h4M614 1763h20M402 1767h44M458 1767h8M470 1767h4M638 1767h4M646 1767h4M654 1767h8M666 1767h4M738 1767h24M790 1767h4M634 1771h16M654 1771h8M666 1771h8M678 1771h4M738 1771h24M790 1771h4M638 1775h4M646 1775h4M654 1775h8M666 1775h8M678 1775h4M790 1775h4M598 1779h8M610 1779h4M634 1779h4M642 1779h44M738 1779h24M790 1779h4M598 1783h8M610 1783h4M634 1783h4M642 1783h44M790 1783h4M214 1787h84M322 1787h8M334 1787h8M346 1787h8M358 1787h4M366 1787h4M382 1787h4M634 1787h12M738 1787h24M790 1787h4M214 1791h84M322 1791h8M334 1791h8M346 1791h8M358 1791h4M366 1791h4M382 1791h4M598 1791h8M610 1791h4M634 1791h4M642 1791h4M738 1791h24M402 1795h4M410 1795h12M430 1795h12M598 1795h8M610 1795h4M634 1795h4M642 1795h48M738 1795h24M790 1795h8M330 1799h4M342 1799h4M354 1799h4M362 1799h4M370 1799h12M386 1799h20M410 1799h12M430 1799h12M634 1799h16M654 1799h8M666 1799h8M678 1799h4M686 1799h4M694 1799h8M746 1799h20M774 1799h4M782 1799h4M790 1799h8M386 1803h20M410 1803h12M430 1803h12M598 1803h8M610 1803h4M634 1803h4M642 1803h32M678 1803h4M686 1803h4M746 1803h20M774 1803h4M782 1803h4M790 1803h8M298 1807h4M330 1807h4M342 1807h4M354 1807h4M362 1807h4M370 1807h12M386 1807h20M410 1807h12M430 1807h12M634 1807h16M654 1807h8M666 1807h8M678 1807h4M686 1807h4M694 1807h8M746 1807h20M774 1807h4M782 1807h4M790 1807h8M402 1811h40M598 1811h8M610 1811h4M634 1811h4M642 1811h4M650 1811h4M662 1811h4M670 1811h20M738 1811h24M402 1815h4M410 1815h12M430 1815h12M598 1815h8M610 1815h4M634 1815h4M642 1815h48M738 1815h24M790 1815h8M402 1819h44M458 1819h8M470 1819h4M598 1819h8M610 1819h4M634 1819h4M642 1819h4M650 1819h4M662 1819h4M674 1819h4M682 1819h4M738 1819h8M638 1823h4M646 1823h4M654 1823h8M666 1823h4M694 1823h8M722 1823h4M762 1823h4M774 1823h4M782 1823h4M790 1823h8M214 1827h4M226 1827h8M238 1827h8M270 1827h4M298 1827h4M322 1827h80M598 1827h20M650 1827h4M662 1827h4M674 1827h4M682 1827h4M738 1827h8M218 1831h8M234 1831h4M246 1831h24M274 1831h20M638 1831h4M646 1831h4M654 1831h8M666 1831h8M678 1831h4M686 1831h4M694 1831h8M722 1831h4M746 1831h20M774 1831h4M782 1831h4M790 1831h8M218 1835h8M234 1835h4M246 1835h24M274 1835h24M634 1835h16M654 1835h8M666 1835h8M678 1835h4M686 1835h4M694 1835h8M722 1835h4M746 1835h20M774 1835h4M782 1835h4M790 1835h8M214 1839h84M322 1839h8M334 1839h8M346 1839h8M358 1839h4M366 1839h4M382 1839h4M218 1843h8M234 1843h4M246 1843h24M274 1843h24M322 1843h8M334 1843h8M346 1843h8M358 1843h4M366 1843h4M382 1843h4M214 1847h88M322 1847h64M218 1851h8M234 1851h4M246 1851h24M274 1851h24M322 1851h8M334 1851h8M346 1851h8M358 1851h4M366 1851h4M382 1851h4M218 1855h8M234 1855h4M246 1855h24M274 1855h20M722 1995h4M766 1995h8M778 1995h4M786 1995h4M722 1999h4M762 1999h36M706 2003h16M726 2003h12M766 2003h8M778 2003h4M786 2003h4M798 2003h16M706 2007h16M726 2007h12M766 2007h8M778 2007h4M786 2007h4M798 2007h16M558 2011h148M722 2011h4M766 2011h8M778 2011h4M786 2011h4M790 2015h8M218 2019h8M234 2019h4M246 2019h24M274 2019h24M746 2023h16M790 2023h8M738 2027h24M790 2027h8M746 2031h16M790 2031h8M798 2035h16M746 2039h16M790 2039h8M746 2043h16M790 2043h8M746 2047h16M790 2047h4M746 2051h16M790 2051h4M738 2055h24M790 2055h4M558 2063h164M726 2063h12M766 2063h8M778 2063h4M786 2063h4M722 2067h4M746 2067h20M774 2067h4M782 2067h4M790 2067h8M798 2083h16M690 2099h4M702 2099h4M766 2099h8M778 2099h4M786 2099h4M798 2099h16M638 2103h4M690 2103h16M762 2103h28M798 2103h16M690 2111h4M702 2111h4M798 2111h16M634 2115h16M654 2115h8M666 2115h8M678 2115h4M686 2115h20M746 2115h16M790 2115h8M690 2119h4M702 2119h20M726 2119h12M798 2119h16M690 2127h4M702 2127h20M726 2127h12M766 2127h8M778 2127h4M786 2127h4M798 2127h16M406 2131h4M422 2131h8M442 2131h32M638 2131h4M706 2131h32M762 2131h28M402 2135h44M458 2135h8M470 2135h4M402 2139h4M410 2139h12M430 2139h12M406 2143h4M422 2143h8M442 2143h32M298 2147h4M330 2147h4M342 2147h4M354 2147h4M362 2147h4M370 2147h12M386 2147h16M410 2147h12M430 2147h12M406 2151h4M422 2151h8M442 2151h4M458 2151h8M470 2151h4M402 2155h44M458 2155h8M470 2155h4M298 2159h4M330 2159h4M342 2159h4M354 2159h4M362 2159h4M370 2159h12M386 2159h16M410 2159h12M430 2159h12"/>
<path stroke="#e4bec5" stroke-width="4" d="M558 1691h4M570 1691h28M606 1691h4M614 1691h4M446 1695h12M466 1695h4M558 1695h4M570 1695h28M606 1695h4M614 1695h4M302 1699h20M446 1699h12M466 1699h4M562 1699h8M618 1699h16M302 1703h20M406 1703h4M422 1703h8M558 1703h4M570 1703h28M606 1703h4M614 1703h20M410 1707h12M430 1707h12M598 1707h8M610 1707h4M650 1707h4M662 1707h4M674 1707h4M682 1707h4M738 1707h8M406 1711h4M422 1711h8M442 1711h4M458 1711h8M470 1711h4M598 1711h8M610 1711h4M650 1711h4M662 1711h4M674 1711h4M682 1711h4M738 1711h8M562 1715h8M618 1715h16M302 1719h20M446 1719h12M466 1719h4M634 1719h4M642 1719h4M674 1719h4M682 1719h4M738 1719h8M214 1723h4M226 1723h8M238 1723h8M270 1723h4M298 1723h4M330 1723h4M342 1723h4M354 1723h4M362 1723h4M370 1723h12M598 1723h8M610 1723h4M738 1723h8M446 1727h12M466 1727h4M598 1727h20M410 1731h12M430 1731h12M638 1731h4M694 1731h8M722 1731h4M762 1731h4M774 1731h4M782 1731h4M790 1731h8M302 1735h20M406 1735h4M422 1735h8M442 1735h4M458 1735h8M470 1735h4M634 1735h4M642 1735h4M670 1735h4M678 1735h4M686 1735h4M746 1735h16M302 1739h20M406 1739h4M422 1739h8M442 1739h4M458 1739h8M470 1739h4M634 1739h4M642 1739h4M670 1739h4M678 1739h4M686 1739h4M746 1739h16M302 1743h20M406 1743h4M422 1743h8M442 1743h4M458 1743h8M470 1743h4M634 1743h4M642 1743h4M670 1743h4M678 1743h4M686 1743h4M746 1743h16M302 1747h20M386 1747h16M634 1747h4M642 1747h4M670 1747h4M678 1747h4M686 1747h4M746 1747h16M298 1751h4M330 1751h4M342 1751h4M354 1751h4M362 1751h4M370 1751h12M386 1751h16M634 1751h4M642 1751h4M670 1751h4M678 1751h4M686 1751h4M746 1751h16M298 1755h4M330 1755h4M342 1755h4M354 1755h4M362 1755h4M370 1755h12M386 1755h16M634 1755h4M642 1755h8M654 1755h8M666 1755h8M678 1755h4M686 1755h4M746 1755h16M294 1759h4M322 1759h8M334 1759h8M346 1759h8M358 1759h4M366 1759h4M382 1759h4M722 1759h4M298 1763h4M330 1763h4M342 1763h4M354 1763h4M362 1763h4M370 1763h12M646 1763h4M654 1763h8M666 1763h8M678 1763h4M686 1763h4M746 1763h16M790 1763h8M214 1767h4M226 1767h8M238 1767h8M270 1767h4M766 1791h8M778 1791h4M786 1791h4M214 1795h4M226 1795h8M238 1795h8M270 1795h4M294 1795h4M322 1795h8M334 1795h8M346 1795h8M358 1795h4M366 1795h4M382 1795h4M690 1795h4M702 1795h20M726 1795h12M766 1795h8M778 1795h4M786 1795h4M798 1795h16M218 1799h8M234 1799h4M246 1799h24M274 1799h24M706 1799h16M726 1799h12M798 1799h16M294 1803h4M322 1803h8M334 1803h8M346 1803h8M358 1803h4M366 1803h4M382 1803h4M690 1803h4M702 1803h20M726 1803h12M766 1803h8M778 1803h4M786 1803h4M798 1803h16M218 1807h8M234 1807h4M246 1807h24M274 1807h24M706 1807h16M726 1807h12M798 1807h16M214 1811h4M226 1811h8M238 1811h8M270 1811h4M294 1811h4M322 1811h8M334 1811h8M346 1811h8M358 1811h4M366 1811h4M382 1811h4M690 1811h4M702 1811h20M726 1811h12M766 1811h8M778 1811h4M786 1811h4M294 1815h4M322 1815h8M334 1815h8M346 1815h8M358 1815h4M366 1815h4M382 1815h4M690 1815h4M702 1815h20M726 1815h12M766 1815h8M778 1815h4M786 1815h4M798 1815h16M214 1819h4M226 1819h8M238 1819h8M270 1819h4M322 1819h8M334 1819h8M346 1819h8M358 1819h4M366 1819h4M382 1819h4M690 1819h4M702 1819h20M726 1819h12M766 1819h8M778 1819h4M786 1819h4M690 1827h4M702 1827h4M766 1827h8M778 1827h4M786 1827h4M798 1835h16M798 2015h16M798 2027h16M798 2039h16M762 2043h28M798 2043h16M302 2047h20M302 2051h20M302 2067h20M302 2071h20M302 2075h20M302 2087h20M302 2107h20M386 2131h16M298 2135h4M330 2135h4M342 2135h4M354 2135h4M362 2135h4M370 2135h12M214 2139h4M226 2139h8M238 2139h8M270 2139h4M294 2139h4M322 2139h8M334 2139h8M346 2139h8M358 2139h4M366 2139h4M382 2139h4M386 2143h16M218 2147h8M234 2147h4M246 2147h24M274 2147h24M298 2151h4M330 2151h4M342 2151h4M354 2151h4M362 2151h4M370 2151h12M214 2155h4M226 2155h8M238 2155h8M270 2155h4M298 2155h4M218 2159h8M234 2159h4M246 2159h24M274 2159h24"/>
<path stroke="#d896a0" stroke-width="4" d="M646 1691h4M654 1691h8M666 1691h8M678 1691h4M686 1691h4M746 1691h16M402 1695h4M410 1695h12M430 1695h12M634 1695h4M642 1695h4M670 1695h4M678 1695h4M686 1695h4M746 1695h16M650 1699h4M662 1699h4M674 1699h4M682 1699h4M738 1699h8M298 1703h4M330 1703h4M342 1703h4M354 1703h4M362 1703h4M370 1703h12M634 1703h4M642 1703h4M322 1707h8M334 1707h8M346 1707h8M358 1707h4M366 1707h4M382 1707h4M646 1707h4M654 1707h8M666 1707h4M694 1707h8M762 1707h4M774 1707h4M782 1707h4M790 1707h8M694 1711h8M762 1711h4M774 1711h4M782 1711h4M790 1711h8M406 1715h4M422 1715h8M598 1715h8M610 1715h4M410 1719h12M430 1719h12M638 1723h4M694 1723h8M722 1723h4M402 1727h4M638 1727h4M722 1727h4M762 1727h4M774 1727h4M782 1727h4M214 1731h4M226 1731h8M238 1731h8M270 1731h4M330 1735h4M342 1735h4M354 1735h4M362 1735h4M370 1735h12M386 1735h16M690 1735h4M702 1735h4M766 1735h8M778 1735h4M786 1735h4M330 1739h4M342 1739h4M354 1739h4M362 1739h4M370 1739h12M386 1739h16M690 1739h4M702 1739h4M766 1739h8M778 1739h4M786 1739h4M386 1743h16M690 1743h4M702 1743h4M766 1743h8M778 1743h4M786 1743h4M218 1747h8M234 1747h4M246 1747h24M274 1747h20M690 1747h4M702 1747h4M766 1747h8M778 1747h4M786 1747h4M218 1751h8M234 1751h4M246 1751h24M274 1751h20M690 1751h4M702 1751h20M726 1751h12M766 1751h8M778 1751h4M786 1751h4M218 1755h8M234 1755h4M246 1755h24M274 1755h20M690 1755h4M702 1755h20M726 1755h12M766 1755h8M778 1755h4M786 1755h4M218 1763h8M234 1763h4M246 1763h24M274 1763h20M706 1763h16M726 1763h12M798 1763h16M302 1775h20M762 2023h28M762 2027h28M706 2031h32M706 2035h32M706 2039h32M762 2051h28M706 2055h32M762 2111h28M762 2119h28M218 2131h8M234 2131h4M246 2131h24M274 2131h20M218 2143h8M234 2143h4M246 2143h24M274 2143h24"/>
<path stroke="#d48994" stroke-width="4" d="M694 1691h8M762 1691h4M774 1691h4M782 1691h4M790 1691h8M646 1695h4M654 1695h8M666 1695h4M790 1695h8M402 1699h4M410 1699h12M430 1699h12M634 1699h4M642 1699h4M646 1703h4M654 1703h8M666 1703h8M678 1703h4M686 1703h4M746 1703h16M294 1707h4M638 1707h4M722 1707h4M298 1711h4M330 1711h4M342 1711h4M354 1711h4M362 1711h4M370 1711h12M386 1711h16M638 1711h4M722 1711h4M650 1715h4M662 1715h4M674 1715h4M682 1715h4M738 1715h8M402 1719h4M690 1719h4M702 1719h20M726 1719h12M766 1719h8M778 1719h4M786 1719h4M694 1727h8M294 1731h4M322 1731h8M334 1731h8M346 1731h8M358 1731h4M366 1731h4M382 1731h4M298 1735h4M706 1735h16M726 1735h12M798 1735h16M298 1739h4M706 1739h16M726 1739h12M798 1739h16M298 1743h4M330 1743h4M342 1743h4M354 1743h4M362 1743h4M370 1743h12M706 1743h16M726 1743h12M798 1743h16M706 1747h16M726 1747h12M798 1747h16M798 1751h16M798 1755h16M302 1771h20M706 1771h32M762 2019h28M762 2047h28M762 2059h28M762 2107h28M762 2115h28"/>
<path stroke="#b2182b" stroke-width="4" d="M218 1695h8M234 1695h4M246 1695h24M274 1695h20M218 1699h8M234 1699h4M246 1699h24M274 1699h24M214 1715h84M322 1715h8M334 1715h8M346 1715h8M358 1715h4M366 1715h4M382 1715h4M798 1715h16M218 1719h8M234 1719h4M246 1719h24M274 1719h20"/>
<path stroke="#c86270" stroke-width="4" d="M298 1695h4M386 1699h16M638 1699h4M694 1699h8M722 1699h4M762 1699h4M774 1699h4M782 1699h4M706 1711h16M726 1711h12M790 1715h8M330 1719h4M342 1719h4M354 1719h4M362 1719h4M370 1719h12M298 1727h4M798 1727h16M294 1735h4M294 1739h4M294 1743h4M706 1783h32M686 2131h20M794 2135h20M794 2139h20M794 2143h20M794 2147h20"/>
<path stroke="#b92e3f" stroke-width="4" d="M214 1699h4M226 1699h8M238 1699h8M270 1699h4M706 1699h16M726 1699h12M798 1703h16M298 1715h4M322 1719h8M334 1719h8M346 1719h8M358 1719h4M366 1719h4M382 1719h4"/>
<path stroke="#ced9e8" stroke-width="4" d="M646 1719h24M646 1727h24M402 1771h4M410 1771h12M430 1771h12M406 1775h4M422 1775h8M442 1775h4M458 1775h8M470 1775h4M402 1779h4M410 1779h12M430 1779h12M402 1783h4M410 1783h12M430 1783h12M386 2047h20M410 2047h12M430 2047h12M298 2051h4M330 2051h4M342 2051h4M354 2051h4M362 2051h4M370 2051h12M386 2051h16M298 2055h4M330 2055h4M342 2055h4M354 2055h4M362 2055h4M370 2055h12M386 2055h16M402 2059h4M410 2059h12M430 2059h12M402 2063h4M410 2063h12M430 2063h12M386 2067h16M386 2071h16M386 2075h16M214 2079h4M226 2079h8M238 2079h8M270 2079h4M294 2083h4M322 2083h8M334 2083h8M346 2083h8M358 2083h4M366 2083h4M382 2083h4M386 2087h20M410 2087h12M430 2087h12M214 2091h4M226 2091h8M238 2091h8M270 2091h4M298 2091h4M330 2091h4M342 2091h4M354 2091h4M362 2091h4M370 2091h12M386 2091h16M298 2095h4M330 2095h4M342 2095h4M354 2095h4M362 2095h4M370 2095h12M386 2095h16M298 2099h4M330 2099h4M342 2099h4M354 2099h4M362 2099h4M370 2099h12M386 2099h16M298 2103h4M330 2103h4M342 2103h4M354 2103h4M362 2103h4M370 2103h12M386 2103h16M402 2107h4M410 2107h12M430 2107h12M298 2111h4M330 2111h4M342 2111h4M354 2111h4M362 2111h4M370 2111h12M386 2111h16M294 2115h4M322 2115h8M334 2115h8M346 2115h8M358 2115h4M366 2115h4M382 2115h4M298 2119h4M330 2119h4M342 2119h4M354 2119h4M362 2119h4M370 2119h12M386 2119h16M402 2123h4M410 2123h12M430 2123h12M298 2127h4M330 2127h4M342 2127h4M354 2127h4M362 2127h4M370 2127h12M386 2127h16M302 2131h20M598 2135h8M610 2135h4M634 2135h4M642 2135h4M650 2135h4M662 2135h4M674 2135h4M682 2135h4M598 2139h8M610 2139h4M650 2139h4M662 2139h4M674 2139h4M682 2139h4M738 2139h8M302 2143h20M638 2143h4M646 2143h4M654 2143h8M666 2143h8M678 2143h4M686 2143h4M694 2143h8M746 2143h20M774 2143h4M782 2143h4M790 2143h4M558 2147h4M570 2147h28M606 2147h4M614 2147h4M634 2151h4M642 2151h4M650 2151h4M662 2151h4M746 2151h16M598 2155h8M610 2155h4M650 2155h4M662 2155h4M674 2155h4M682 2155h4M738 2155h8M558 2159h4M570 2159h28M606 2159h4M614 2159h4M646 2163h4M654 2163h8M666 2163h8M678 2163h4M686 2163h4M694 2163h8M746 2163h20M774 2163h4M782 2163h4M790 2163h8M598 2167h8M610 2167h4M634 2167h4M642 2167h4M650 2167h4M662 2167h4M674 2167h4M682 2167h4M738 2167h8M218 2171h8M234 2171h4M246 2171h24M274 2171h20M558 2171h4M570 2171h28M606 2171h4M614 2171h4M406 2175h4M422 2175h8M442 2175h4M458 2175h8M470 2175h4M634 2175h4M642 2175h4M650 2175h4M662 2175h4M670 2175h4M678 2175h4M686 2175h4M746 2175h16M446 2179h12M466 2179h4M558 2179h4M570 2179h28M606 2179h4M614 2179h20M562 2183h8M618 2183h16M402 2187h4M410 2187h12M430 2187h12M558 2187h40M606 2187h4M614 2187h20M386 2191h16M410 2191h12M430 2191h12M558 2191h4M570 2191h28M606 2191h4M614 2191h4M298 2195h4M330 2195h4M342 2195h4M354 2195h4M362 2195h4M370 2195h12M386 2195h16M558 2195h4M570 2195h36M610 2195h4M650 2195h4M662 2195h4M674 2195h4M682 2195h4M738 2195h8M386 2199h16M410 2199h12M430 2199h12M558 2199h4M570 2199h28M606 2199h4M614 2199h4M402 2203h4M410 2203h12M430 2203h12M558 2203h4M570 2203h28M606 2203h4M614 2203h20M330 2207h4M342 2207h4M354 2207h4M362 2207h4M370 2207h12M386 2207h16M558 2207h4M570 2207h36M610 2207h4M674 2207h4M682 2207h4M738 2207h8M442 2211h4M458 2211h8M470 2211h4M558 2211h4M570 2211h28M606 2211h4M614 2211h20M402 2215h4M598 2215h8M610 2215h4M634 2215h4M642 2215h4M650 2215h4M662 2215h4M674 2215h4M682 2215h4M406 2219h4M422 2219h8M442 2219h4M458 2219h8M470 2219h4M558 2219h4M570 2219h28M606 2219h4M614 2219h4M406 2223h4M422 2223h8M442 2223h4M458 2223h8M470 2223h4M558 2223h4M570 2223h28M606 2223h4M614 2223h4M406 2227h4M422 2227h8M442 2227h4M458 2227h8M470 2227h4M558 2227h4M570 2227h36M610 2227h4M674 2227h4M682 2227h4M738 2227h8M446 2231h12M466 2231h4M562 2231h8M618 2231h16"/>
<path stroke="#ced9e8" stroke-width="5" d="M446 2235.5h12M466 2235.5h4M558 2235.5h40M606 2235.5h4M614 2235.5h20"/>
<path stroke="#dbe1ec" stroke-width="4" d="M646 1723h24M646 1731h24M646 1747h24M646 1751h24M406 1771h4M422 1771h8M442 1771h32M446 1775h12M466 1775h4M406 1779h4M422 1779h8M442 1779h4M458 1779h8M470 1779h4M406 1783h4M422 1783h8M442 1783h4M458 1783h8M470 1783h4M406 2047h4M422 2047h8M442 2047h4M458 2047h8M470 2047h4M402 2051h44M458 2051h8M470 2051h4M402 2055h4M410 2055h12M430 2055h12M406 2059h4M422 2059h8M442 2059h32M406 2063h4M422 2063h8M442 2063h32M402 2067h44M458 2067h8M470 2067h4M558 2067h148M402 2071h44M458 2071h8M470 2071h4M402 2075h44M458 2075h8M470 2075h4M298 2079h4M330 2079h4M342 2079h4M354 2079h4M362 2079h4M370 2079h12M386 2079h20M410 2079h12M430 2079h12M214 2083h4M226 2083h8M238 2083h8M270 2083h4M298 2083h4M330 2083h4M342 2083h4M354 2083h4M362 2083h4M370 2083h12M386 2083h16M406 2087h4M422 2087h8M442 2087h4M458 2087h8M470 2087h4M402 2091h4M410 2091h12M430 2091h12M402 2095h4M410 2095h12M430 2095h12M402 2099h44M458 2099h8M470 2099h4M402 2103h4M410 2103h12M430 2103h12M406 2107h4M422 2107h8M442 2107h32M402 2111h44M458 2111h8M470 2111h4M214 2115h4M226 2115h8M238 2115h8M270 2115h4M298 2115h4M330 2115h4M342 2115h4M354 2115h4M362 2115h4M370 2115h12M386 2115h16M410 2115h12M430 2115h12M402 2119h4M410 2119h12M430 2119h16M458 2119h8M470 2119h4M406 2123h4M422 2123h8M442 2123h32M402 2127h44M458 2127h8M470 2127h4M558 2135h4M570 2135h28M606 2135h4M614 2135h20M738 2135h8M558 2139h40M606 2139h4M614 2139h20M598 2143h8M610 2143h4M634 2143h4M642 2143h4M650 2143h4M662 2143h4M530 2147h28M562 2147h8M618 2147h16M558 2151h4M570 2151h64M674 2151h4M682 2151h4M738 2151h8M558 2155h40M606 2155h4M614 2155h20M530 2159h28M562 2159h8M618 2159h16M558 2163h4M570 2163h36M610 2163h4M634 2163h4M642 2163h4M650 2163h4M662 2163h4M674 2163h4M682 2163h4M738 2163h8M218 2167h8M234 2167h4M246 2167h24M274 2167h20M558 2167h4M570 2167h28M606 2167h4M614 2167h20M214 2171h4M226 2171h8M238 2171h8M270 2171h4M294 2171h8M322 2171h64M530 2171h28M562 2171h8M618 2171h16M446 2175h12M466 2175h4M558 2175h4M570 2175h64M674 2175h4M682 2175h4M738 2175h8M530 2179h28M562 2179h8M482 2183h8M494 2183h4M530 2183h28M406 2187h4M422 2187h8M442 2187h32M530 2187h28M402 2191h8M422 2191h8M442 2191h4M458 2191h8M470 2191h4M530 2191h28M562 2191h8M618 2191h16M402 2195h44M458 2195h8M470 2195h4M530 2195h28M562 2195h8M606 2195h4M614 2195h20M402 2199h8M422 2199h8M442 2199h4M458 2199h8M470 2199h4M530 2199h28M562 2199h8M618 2199h16M406 2203h4M422 2203h8M442 2203h4M458 2203h8M470 2203h4M530 2203h28M562 2203h8M402 2207h44M458 2207h8M470 2207h4M530 2207h28M562 2207h8M606 2207h4M614 2207h20M446 2211h12M466 2211h4M530 2211h28M562 2211h8M406 2215h4M422 2215h8M442 2215h32M558 2215h4M570 2215h28M606 2215h4M614 2215h20M738 2215h8M446 2219h12M466 2219h4M530 2219h28M562 2219h8M618 2219h16M446 2223h12M466 2223h4M530 2223h28M562 2223h8M618 2223h16M446 2227h12M466 2227h4M530 2227h28M562 2227h8M606 2227h4M614 2227h20M530 2231h28"/>
<path stroke="#dbe1ec" stroke-width="5" d="M530 2235.5h28"/>
<path stroke="#8fafd2" stroke-width="4" d="M762 1723h28M218 1771h8M234 1771h4M246 1771h24M274 1771h20M294 1775h4M322 1775h8M334 1775h8M346 1775h8M358 1775h4M366 1775h4M382 1775h4M686 1775h20M218 1779h8M234 1779h4M246 1779h24M274 1779h20M686 1783h20M646 1787h60M646 1791h60M794 2047h20M218 2123h8M234 2123h4M246 2123h24M274 2123h20M706 2139h16M726 2139h12M690 2147h4M702 2147h20M726 2147h12M766 2147h8M778 2147h4M786 2147h4M690 2159h4M702 2159h20M726 2159h12M766 2159h8M778 2159h4M786 2159h4M690 2171h4M702 2171h20M726 2171h12M766 2171h8M778 2171h4M786 2171h4M214 2175h4M226 2175h8M238 2175h8M270 2175h4M386 2179h16M638 2179h4M722 2179h4M402 2183h4M634 2183h4M642 2183h8M654 2183h8M666 2183h8M678 2183h4M686 2183h4M746 2183h16M790 2183h8M218 2187h8M234 2187h4M246 2187h24M274 2187h20M638 2187h4M694 2187h8M722 2187h4M762 2187h4M774 2187h4M782 2187h4M690 2195h4M702 2195h4M766 2195h8M778 2195h4M786 2195h4M690 2207h4M702 2207h4M766 2207h8M778 2207h4M786 2207h4M294 2215h4M706 2215h16M726 2215h12M798 2215h16M214 2219h4M226 2219h8M238 2219h8M270 2219h4M214 2223h4M226 2223h8M238 2223h8M270 2223h4M322 2227h8M334 2227h8M346 2227h8M358 2227h4M366 2227h4M382 2227h4M690 2227h4M702 2227h4M766 2227h8M778 2227h4M786 2227h4M386 2231h16M638 2231h4M694 2231h8M762 2231h4M774 2231h4M782 2231h4"/>
<path stroke="#8fafd2" stroke-width="5" d="M298 2235.5h4M330 2235.5h4M342 2235.5h4M354 2235.5h4M362 2235.5h4M370 2235.5h12M638 2235.5h4M694 2235.5h8M722 2235.5h4M762 2235.5h4M774 2235.5h4M782 2235.5h4"/>
<path stroke="#e7eaf1" stroke-width="4" d="M646 1743h24M446 1779h12M466 1779h4M446 1783h12M466 1783h4M302 1987h20M694 1987h8M762 1987h4M774 1987h4M782 1987h4M798 1987h16M558 1995h148M302 2035h20M446 2047h12M466 2047h4M446 2051h12M466 2051h4M406 2055h4M422 2055h8M442 2055h32M446 2067h12M466 2067h4M446 2071h12M466 2071h4M446 2075h12M466 2075h4M406 2079h4M422 2079h8M442 2079h32M402 2083h44M458 2083h8M470 2083h4M446 2087h12M466 2087h4M406 2091h4M422 2091h8M442 2091h32M406 2095h4M422 2095h8M442 2095h32M446 2099h12M466 2099h4M406 2103h4M422 2103h8M442 2103h32M446 2111h12M466 2111h4M402 2115h8M422 2115h8M442 2115h4M458 2115h8M470 2115h4M406 2119h4M422 2119h8M446 2119h12M466 2119h4M446 2127h12M466 2127h4M530 2135h28M562 2135h8M530 2139h28M530 2143h68M606 2143h4M614 2143h20M674 2143h4M682 2143h4M738 2143h8M530 2151h28M562 2151h8M530 2155h28M214 2163h84M322 2163h8M334 2163h8M346 2163h8M358 2163h4M366 2163h4M382 2163h20M530 2163h28M562 2163h8M606 2163h4M614 2163h20M214 2167h4M226 2167h8M238 2167h8M270 2167h4M294 2167h8M322 2167h84M410 2167h12M430 2167h12M530 2167h28M562 2167h8M386 2171h88M482 2171h8M494 2171h4M474 2175h28M530 2175h28M562 2175h8M474 2179h28M510 2179h16M474 2183h8M490 2183h4M498 2183h32M474 2187h28M446 2191h12M466 2191h4M474 2191h28M446 2195h12M466 2195h4M482 2195h8M494 2195h4M446 2199h12M466 2199h4M474 2199h28M446 2203h12M466 2203h4M474 2203h28M446 2207h12M466 2207h4M474 2207h28M474 2211h28M474 2215h28M530 2215h28M562 2215h8M474 2219h28M474 2223h28M474 2227h28M474 2231h28M510 2231h16"/>
<path stroke="#e7eaf1" stroke-width="5" d="M474 2235.5h28"/>
<path stroke="#759ec9" stroke-width="4" d="M686 1767h20M794 1767h20M686 1771h20M794 1775h20M794 1779h20M706 1791h32M294 2175h4M322 2175h8M334 2175h8M346 2175h8M358 2175h4M366 2175h4M382 2175h4M690 2179h4M702 2179h20M726 2179h12M766 2179h8M778 2179h4M786 2179h4M386 2183h16M638 2183h4M694 2183h8M722 2183h4M762 2183h4M774 2183h4M782 2183h4M690 2187h4M702 2187h4M766 2187h8M778 2187h4M786 2187h4M798 2191h16M706 2199h16M726 2199h12M798 2199h16M706 2203h16M726 2203h12M798 2203h16M798 2207h16M294 2211h4M322 2211h8M334 2211h8M346 2211h8M358 2211h4M366 2211h4M382 2211h4M706 2211h16M726 2211h12M294 2219h4M706 2219h16M726 2219h12M798 2219h16M798 2223h16M218 2227h8M234 2227h4M246 2227h24M274 2227h20M214 2231h4M226 2231h8M238 2231h8M270 2231h4"/>
<path stroke="#759ec9" stroke-width="5" d="M214 2235.5h4M226 2235.5h8M238 2235.5h8M270 2235.5h4M690 2235.5h4M702 2235.5h4M766 2235.5h8M778 2235.5h4M786 2235.5h4"/>
<path stroke="#a8c0db" stroke-width="4" d="M214 1771h4M226 1771h8M238 1771h8M270 1771h4M298 1775h4M330 1775h4M342 1775h4M354 1775h4M362 1775h4M370 1775h12M294 1779h4M322 1779h8M334 1779h8M346 1779h8M358 1779h4M366 1779h4M382 1779h4M294 1783h4M322 1783h8M334 1783h8M346 1783h8M358 1783h4M366 1783h4M382 1783h4M218 2047h8M234 2047h4M246 2047h24M274 2047h20M794 2055h20M294 2059h4M322 2059h8M334 2059h8M346 2059h8M358 2059h4M366 2059h4M382 2059h4M794 2059h20M214 2063h4M226 2063h8M238 2063h8M270 2063h4M294 2063h4M322 2063h8M334 2063h8M346 2063h8M358 2063h4M366 2063h4M382 2063h4M794 2063h20M218 2067h8M234 2067h4M246 2067h24M274 2067h20M218 2071h8M234 2071h4M246 2071h24M274 2071h20M218 2075h8M234 2075h4M246 2075h24M274 2075h20M218 2087h8M234 2087h4M246 2087h24M274 2087h20M218 2095h8M234 2095h4M246 2095h24M274 2095h20M218 2099h8M234 2099h4M246 2099h24M274 2099h20M294 2107h4M322 2107h8M334 2107h8M346 2107h8M358 2107h4M366 2107h4M382 2107h4M218 2111h8M234 2111h4M246 2111h24M274 2111h20M218 2119h8M234 2119h4M246 2119h24M274 2119h20M214 2123h4M226 2123h8M238 2123h8M270 2123h4M294 2123h4M322 2123h8M334 2123h8M346 2123h8M358 2123h4M366 2123h4M382 2123h4M218 2127h8M234 2127h4M246 2127h24M274 2127h20M766 2135h8M778 2135h4M786 2135h4M638 2139h4M694 2139h8M722 2139h4M706 2143h16M726 2143h12M302 2147h20M638 2147h4M694 2147h8M722 2147h4M762 2147h4M774 2147h4M782 2147h4M690 2151h4M702 2151h4M766 2151h8M778 2151h4M786 2151h4M302 2159h20M638 2159h4M694 2159h8M722 2159h4M762 2159h4M774 2159h4M782 2159h4M706 2163h16M726 2163h12M798 2163h16M690 2167h4M702 2167h4M766 2167h8M778 2167h4M786 2167h4M638 2171h4M694 2171h8M722 2171h4M762 2171h4M774 2171h4M782 2171h4M386 2175h16M690 2175h4M702 2175h4M766 2175h8M778 2175h4M786 2175h4M402 2179h4M410 2179h12M430 2179h12M634 2179h4M642 2179h8M654 2179h8M666 2179h8M678 2179h4M686 2179h4M746 2179h16M406 2183h4M422 2183h8M598 2183h8M610 2183h4M650 2183h4M662 2183h4M674 2183h4M682 2183h4M738 2183h8M214 2187h4M226 2187h8M238 2187h8M270 2187h4M302 2187h28M334 2187h8M346 2187h8M358 2187h4M366 2187h4M382 2187h4M634 2187h4M642 2187h4M670 2187h4M678 2187h4M686 2187h4M746 2187h16M218 2191h8M234 2191h4M246 2191h24M274 2191h20M694 2191h8M762 2191h4M774 2191h4M782 2191h4M790 2191h8M218 2195h8M234 2195h4M246 2195h24M274 2195h20M638 2195h4M694 2195h8M722 2195h4M294 2199h4M646 2199h4M654 2199h8M666 2199h4M694 2199h8M762 2199h4M774 2199h4M782 2199h4M790 2199h8M294 2203h4M646 2203h4M654 2203h8M666 2203h4M694 2203h8M762 2203h4M774 2203h4M782 2203h4M790 2203h8M218 2207h8M234 2207h4M246 2207h24M274 2207h20M638 2207h4M694 2207h8M722 2207h4M762 2207h4M774 2207h4M782 2207h4M386 2211h16M646 2211h4M654 2211h8M666 2211h8M678 2211h4M686 2211h4M746 2211h16M790 2211h8M214 2215h4M226 2215h8M238 2215h8M270 2215h4M330 2219h4M342 2219h4M354 2219h4M362 2219h4M370 2219h12M386 2219h16M646 2219h4M654 2219h8M666 2219h4M694 2219h8M762 2219h4M774 2219h4M782 2219h4M790 2219h8M330 2223h4M342 2223h4M354 2223h4M362 2223h4M370 2223h12M386 2223h16M694 2223h8M762 2223h4M774 2223h4M782 2223h4M790 2223h8M298 2227h4M330 2227h4M342 2227h4M354 2227h4M362 2227h4M370 2227h12M386 2227h16M638 2227h4M694 2227h8M722 2227h4M762 2227h4M774 2227h4M782 2227h4M302 2231h20M402 2231h4M410 2231h12M430 2231h12M634 2231h4M642 2231h4"/>
<path stroke="#a8c0db" stroke-width="5" d="M302 2235.5h20M634 2235.5h4M642 2235.5h4M670 2235.5h4M678 2235.5h4M686 2235.5h4M746 2235.5h16"/>
<path stroke="#9bb7d6" stroke-width="4" d="M294 1771h4M322 1771h8M334 1771h8M346 1771h8M358 1771h4M366 1771h4M382 1771h4M214 1775h4M226 1775h8M238 1775h8M270 1775h4M218 1783h8M234 1783h4M246 1783h24M274 1783h20M706 1787h32M738 2019h24M794 2051h20M218 2059h8M234 2059h4M246 2059h24M274 2059h20M218 2063h8M234 2063h4M246 2063h24M274 2063h20M218 2107h8M234 2107h4M246 2107h24M274 2107h20M706 2135h16M726 2135h12M690 2139h4M702 2139h4M766 2139h8M778 2139h4M786 2139h4M706 2151h16M726 2151h12M690 2155h4M702 2155h20M726 2155h12M766 2155h8M778 2155h4M786 2155h4M706 2167h16M726 2167h12M798 2167h16M298 2175h4M330 2175h4M342 2175h4M354 2175h4M362 2175h4M370 2175h12M706 2175h16M726 2175h12M798 2175h16M694 2179h8M762 2179h4M774 2179h4M782 2179h4M790 2179h8M302 2183h20M410 2183h12M430 2183h12M294 2187h4M646 2187h4M654 2187h8M666 2187h4M790 2187h8M638 2191h4M722 2191h4M218 2199h8M234 2199h4M246 2199h24M274 2199h20M638 2199h4M722 2199h4M218 2203h8M234 2203h4M246 2203h24M274 2203h20M638 2203h4M722 2203h4M298 2211h4M330 2211h4M342 2211h4M354 2211h4M362 2211h4M370 2211h12M638 2211h4M694 2211h8M722 2211h4M762 2211h4M774 2211h4M782 2211h4M322 2215h8M334 2215h8M346 2215h8M358 2215h4M366 2215h4M382 2215h4M690 2215h4M702 2215h4M766 2215h8M778 2215h4M786 2215h4M298 2219h4M638 2219h4M722 2219h4M298 2223h4M638 2223h4M722 2223h4M214 2227h4M226 2227h8M238 2227h8M270 2227h4M646 2231h4M654 2231h8M666 2231h8M678 2231h4M686 2231h4M746 2231h16M790 2231h8"/>
<path stroke="#9bb7d6" stroke-width="5" d="M386 2235.5h16M646 2235.5h4M654 2235.5h8M666 2235.5h4M790 2235.5h8"/>
<path stroke="#b5c8df" stroke-width="4" d="M298 1771h4M330 1771h4M342 1771h4M354 1771h4M362 1771h4M370 1771h12M386 1771h16M386 1775h16M214 1779h4M226 1779h8M238 1779h8M270 1779h4M214 1783h4M226 1783h8M238 1783h8M270 1783h4M738 2011h24M738 2015h24M214 2047h4M226 2047h8M238 2047h8M270 2047h4M294 2047h4M322 2047h8M334 2047h8M346 2047h8M358 2047h4M366 2047h4M382 2047h4M218 2051h8M234 2051h4M246 2051h24M274 2051h24M218 2055h8M234 2055h4M246 2055h24M274 2055h20M214 2059h4M226 2059h8M238 2059h8M270 2059h4M298 2063h4M330 2063h4M342 2063h4M354 2063h4M362 2063h4M370 2063h12M294 2067h4M322 2067h8M334 2067h8M346 2067h8M358 2067h4M366 2067h4M382 2067h4M294 2071h4M322 2071h8M334 2071h8M346 2071h8M358 2071h4M366 2071h4M382 2071h4M214 2075h4M226 2075h8M238 2075h8M270 2075h4M294 2075h4M322 2075h8M334 2075h8M346 2075h8M358 2075h4M366 2075h4M382 2075h4M218 2079h8M234 2079h4M246 2079h24M274 2079h20M214 2087h4M226 2087h8M238 2087h8M270 2087h4M294 2087h4M322 2087h8M334 2087h8M346 2087h8M358 2087h4M366 2087h4M382 2087h4M218 2091h8M234 2091h4M246 2091h24M274 2091h20M294 2095h4M294 2099h4M322 2099h8M334 2099h8M346 2099h8M358 2099h4M366 2099h4M382 2099h4M218 2103h8M234 2103h4M246 2103h24M274 2103h20M214 2107h4M226 2107h8M238 2107h8M270 2107h4M298 2107h4M294 2111h4M322 2111h8M334 2111h8M346 2111h8M358 2111h4M366 2111h4M382 2111h4M294 2119h4M322 2119h8M334 2119h8M346 2119h8M358 2119h4M366 2119h4M382 2119h4M298 2123h4M330 2123h4M342 2123h4M354 2123h4M362 2123h4M370 2123h12M294 2127h4M322 2127h8M334 2127h8M346 2127h8M358 2127h4M366 2127h4M382 2127h4M638 2135h4M722 2135h4M302 2139h20M646 2139h4M654 2139h8M666 2139h4M762 2139h4M774 2139h4M782 2139h4M790 2139h4M690 2143h4M702 2143h4M766 2143h8M778 2143h4M786 2143h4M634 2147h4M642 2147h8M654 2147h8M666 2147h8M678 2147h4M686 2147h4M746 2147h16M790 2147h4M638 2151h4M722 2151h4M302 2155h20M638 2155h4M694 2155h8M722 2155h4M762 2155h4M774 2155h4M782 2155h4M634 2159h4M642 2159h8M654 2159h8M666 2159h8M678 2159h4M686 2159h4M746 2159h16M790 2159h4M690 2163h4M702 2163h4M766 2163h8M778 2163h4M786 2163h4M638 2167h4M722 2167h4M634 2171h4M642 2171h8M654 2171h8M666 2171h8M678 2171h4M686 2171h4M746 2171h16M790 2171h8M410 2175h12M430 2175h12M722 2175h4M302 2179h20M650 2179h4M662 2179h4M442 2183h4M458 2183h8M470 2183h4M606 2183h4M614 2183h4M298 2187h4M330 2187h4M342 2187h4M354 2187h4M362 2187h4M370 2187h12M598 2187h8M610 2187h4M650 2187h4M662 2187h4M674 2187h4M682 2187h4M738 2187h8M214 2191h4M226 2191h8M238 2191h8M270 2191h4M294 2191h4M302 2191h28M334 2191h8M346 2191h8M358 2191h4M366 2191h4M382 2191h4M634 2191h4M642 2191h8M654 2191h8M666 2191h8M678 2191h4M686 2191h4M746 2191h16M294 2195h4M322 2195h8M334 2195h8M346 2195h8M358 2195h4M366 2195h4M382 2195h4M646 2195h4M654 2195h8M666 2195h8M678 2195h4M686 2195h4M746 2195h20M774 2195h4M782 2195h4M790 2195h8M214 2199h4M226 2199h8M238 2199h8M270 2199h4M302 2199h28M334 2199h8M346 2199h8M358 2199h4M366 2199h4M382 2199h4M634 2199h4M642 2199h4M670 2199h4M678 2199h4M686 2199h4M746 2199h16M214 2203h4M226 2203h8M238 2203h8M270 2203h4M302 2203h28M334 2203h8M346 2203h8M358 2203h4M366 2203h4M382 2203h4M634 2203h4M642 2203h4M670 2203h4M678 2203h4M686 2203h4M746 2203h16M294 2207h4M322 2207h8M334 2207h8M346 2207h8M358 2207h4M366 2207h4M382 2207h4M646 2207h4M654 2207h8M666 2207h8M678 2207h4M686 2207h4M746 2207h16M790 2207h8M302 2211h20M402 2211h4M410 2211h12M430 2211h12M634 2211h4M642 2211h4M298 2215h4M330 2215h4M342 2215h4M354 2215h4M362 2215h4M370 2215h12M386 2215h16M638 2215h4M694 2215h8M722 2215h4M762 2215h4M774 2215h4M782 2215h4M790 2215h8M302 2219h20M634 2219h4M642 2219h4M670 2219h4M678 2219h4M686 2219h4M746 2219h16M302 2223h20M634 2223h4M642 2223h8M654 2223h8M666 2223h8M678 2223h4M686 2223h4M746 2223h16M646 2227h4M654 2227h8M666 2227h8M678 2227h4M686 2227h4M746 2227h16M790 2227h8M598 2231h8M610 2231h4M650 2231h4M662 2231h4M674 2231h4M682 2231h4M738 2231h8"/>
<path stroke="#b5c8df" stroke-width="5" d="M402 2235.5h4M410 2235.5h12M430 2235.5h12M598 2235.5h8M610 2235.5h4M650 2235.5h4M662 2235.5h4M674 2235.5h4M682 2235.5h4M738 2235.5h8"/>
<path stroke="#6996c5" stroke-width="4" d="M794 1771h20M794 1787h20M214 2179h4M226 2179h8M238 2179h8M270 2179h4M798 2179h16M706 2187h16M726 2187h12M798 2211h16M218 2219h8M234 2219h4M246 2219h24M274 2219h20M218 2223h8M234 2223h4M246 2223h24M274 2223h20M322 2231h8M334 2231h8M346 2231h8M358 2231h4M366 2231h4M382 2231h4M690 2231h4M702 2231h20M726 2231h12M766 2231h8M778 2231h4M786 2231h4"/>
<path stroke="#6996c5" stroke-width="5" d="M294 2235.5h4M322 2235.5h8M334 2235.5h8M346 2235.5h8M358 2235.5h4M366 2235.5h4M382 2235.5h4M706 2235.5h16M726 2235.5h12"/>
<path stroke="#82a6ce" stroke-width="4" d="M218 1775h8M234 1775h4M246 1775h24M274 1775h20M686 1779h20M794 1783h20M798 2171h16M298 2179h4M330 2179h4M342 2179h4M354 2179h4M362 2179h4M370 2179h12M690 2191h4M702 2191h20M726 2191h12M766 2191h8M778 2191h4M786 2191h4M706 2195h16M726 2195h12M798 2195h16M690 2199h4M702 2199h4M766 2199h8M778 2199h4M786 2199h4M690 2203h4M702 2203h4M766 2203h8M778 2203h4M786 2203h4M706 2207h16M726 2207h12M214 2211h4M226 2211h8M238 2211h8M270 2211h4M690 2211h4M702 2211h4M766 2211h8M778 2211h4M786 2211h4M218 2215h8M234 2215h4M246 2215h24M274 2215h20M322 2219h8M334 2219h8M346 2219h8M358 2219h4M366 2219h4M382 2219h4M690 2219h4M702 2219h4M766 2219h8M778 2219h4M786 2219h4M294 2223h4M322 2223h8M334 2223h8M346 2223h8M358 2223h4M366 2223h4M382 2223h4M690 2223h4M702 2223h20M726 2223h12M766 2223h8M778 2223h4M786 2223h4M294 2227h4M706 2227h16M726 2227h12M798 2227h16M298 2231h4M330 2231h4M342 2231h4M354 2231h4M362 2231h4M370 2231h12M722 2231h4"/>
<path stroke="#c1d0e3" stroke-width="4" d="M402 1775h4M410 1775h12M430 1775h12M298 1779h4M330 1779h4M342 1779h4M354 1779h4M362 1779h4M370 1779h12M386 1779h16M298 1783h4M330 1783h4M342 1783h4M354 1783h4M362 1783h4M370 1783h12M386 1783h16M298 2047h4M330 2047h4M342 2047h4M354 2047h4M362 2047h4M370 2047h12M214 2051h4M226 2051h8M238 2051h8M270 2051h4M322 2051h8M334 2051h8M346 2051h8M358 2051h4M366 2051h4M382 2051h4M214 2055h4M226 2055h8M238 2055h8M270 2055h4M294 2055h4M322 2055h8M334 2055h8M346 2055h8M358 2055h4M366 2055h4M382 2055h4M298 2059h4M330 2059h4M342 2059h4M354 2059h4M362 2059h4M370 2059h12M386 2059h16M386 2063h16M214 2067h4M226 2067h8M238 2067h8M270 2067h4M298 2067h4M330 2067h4M342 2067h4M354 2067h4M362 2067h4M370 2067h12M214 2071h4M226 2071h8M238 2071h8M270 2071h4M298 2071h4M330 2071h4M342 2071h4M354 2071h4M362 2071h4M370 2071h12M298 2075h4M330 2075h4M342 2075h4M354 2075h4M362 2075h4M370 2075h12M294 2079h4M322 2079h8M334 2079h8M346 2079h8M358 2079h4M366 2079h4M382 2079h4M218 2083h8M234 2083h4M246 2083h24M274 2083h20M298 2087h4M330 2087h4M342 2087h4M354 2087h4M362 2087h4M370 2087h12M294 2091h4M322 2091h8M334 2091h8M346 2091h8M358 2091h4M366 2091h4M382 2091h4M214 2095h4M226 2095h8M238 2095h8M270 2095h4M322 2095h8M334 2095h8M346 2095h8M358 2095h4M366 2095h4M382 2095h4M214 2099h4M226 2099h8M238 2099h8M270 2099h4M214 2103h4M226 2103h8M238 2103h8M270 2103h4M294 2103h4M322 2103h8M334 2103h8M346 2103h8M358 2103h4M366 2103h4M382 2103h4M330 2107h4M342 2107h4M354 2107h4M362 2107h4M370 2107h12M386 2107h16M214 2111h4M226 2111h8M238 2111h8M270 2111h4M218 2115h8M234 2115h4M246 2115h24M274 2115h20M214 2119h4M226 2119h8M238 2119h8M270 2119h4M386 2123h16M214 2127h4M226 2127h8M238 2127h8M270 2127h4M302 2135h20M646 2135h4M654 2135h8M666 2135h8M678 2135h4M746 2135h20M774 2135h4M782 2135h4M790 2135h4M634 2139h4M642 2139h4M670 2139h4M678 2139h4M686 2139h4M746 2139h16M722 2143h4M598 2147h8M610 2147h4M650 2147h4M662 2147h4M674 2147h4M682 2147h4M738 2147h8M302 2151h20M646 2151h4M654 2151h8M666 2151h8M678 2151h4M686 2151h4M694 2151h8M762 2151h4M774 2151h4M782 2151h4M790 2151h4M634 2155h4M642 2155h8M654 2155h8M666 2155h8M678 2155h4M686 2155h4M746 2155h16M790 2155h4M598 2159h8M610 2159h4M650 2159h4M662 2159h4M674 2159h4M682 2159h4M738 2159h8M638 2163h4M722 2163h4M646 2167h4M654 2167h8M666 2167h8M678 2167h4M686 2167h4M694 2167h8M746 2167h20M774 2167h4M782 2167h4M790 2167h8M598 2171h8M610 2171h4M650 2171h4M662 2171h4M674 2171h4M682 2171h4M738 2171h8M302 2175h20M402 2175h4M638 2175h4M646 2175h4M654 2175h8M666 2175h4M694 2175h8M762 2175h4M774 2175h4M782 2175h4M790 2175h8M406 2179h4M422 2179h8M442 2179h4M458 2179h8M470 2179h4M598 2179h8M610 2179h4M674 2179h4M682 2179h4M738 2179h8M446 2183h12M466 2183h4M558 2183h4M570 2183h28M386 2187h16M298 2191h4M330 2191h4M342 2191h4M354 2191h4M362 2191h4M370 2191h12M598 2191h8M610 2191h4M650 2191h4M662 2191h4M674 2191h4M682 2191h4M738 2191h8M214 2195h4M226 2195h8M238 2195h8M270 2195h4M302 2195h20M634 2195h4M642 2195h4M298 2199h4M330 2199h4M342 2199h4M354 2199h4M362 2199h4M370 2199h12M598 2199h8M610 2199h4M650 2199h4M662 2199h4M674 2199h4M682 2199h4M738 2199h8M298 2203h4M330 2203h4M342 2203h4M354 2203h4M362 2203h4M370 2203h12M386 2203h16M598 2203h8M610 2203h4M650 2203h4M662 2203h4M674 2203h4M682 2203h4M738 2203h8M214 2207h4M226 2207h8M238 2207h8M270 2207h4M298 2207h24M634 2207h4M642 2207h4M650 2207h4M662 2207h4M406 2211h4M422 2211h8M598 2211h8M610 2211h4M650 2211h4M662 2211h4M674 2211h4M682 2211h4M738 2211h8M302 2215h20M410 2215h12M430 2215h12M646 2215h4M654 2215h8M666 2215h8M678 2215h4M686 2215h4M746 2215h16M402 2219h4M410 2219h12M430 2219h12M598 2219h8M610 2219h4M650 2219h4M662 2219h4M674 2219h4M682 2219h4M738 2219h8M402 2223h4M410 2223h12M430 2223h12M598 2223h8M610 2223h4M650 2223h4M662 2223h4M674 2223h4M682 2223h4M738 2223h8M302 2227h20M402 2227h4M410 2227h12M430 2227h12M634 2227h4M642 2227h4M650 2227h4M662 2227h4M406 2231h4M422 2231h8M442 2231h4M458 2231h8M470 2231h4M558 2231h4M570 2231h28M606 2231h4M614 2231h4"/>
<path stroke="#c1d0e3" stroke-width="5" d="M406 2235.5h4M422 2235.5h8M442 2235.5h4M458 2235.5h8M470 2235.5h4"/>
<path stroke="#5c8dc0" stroke-width="4" d="M218 2175h8M234 2175h4M246 2175h24M274 2175h20M294 2179h4M322 2179h8M334 2179h8M346 2179h8M358 2179h4M366 2179h4M382 2179h4M298 2183h4M330 2183h4M342 2183h4M354 2183h4M362 2183h4M370 2183h12M690 2183h4M702 2183h20M726 2183h12M766 2183h8M778 2183h4M786 2183h4M798 2187h16M218 2211h8M234 2211h4M246 2211h24M274 2211h20M294 2231h4"/>
<path stroke="#5c8dc0" stroke-width="5" d="M798 2235.5h16"/>
<path stroke="#437cb8" stroke-width="4" d="M218 2179h8M234 2179h4M246 2179h24M274 2179h20M214 2183h4M226 2183h8M238 2183h8M270 2183h4M798 2183h16M218 2231h8M234 2231h4M246 2231h24M274 2231h20"/>
<path stroke="#2166ac" stroke-width="4" d="M218 2183h8M234 2183h4M246 2183h24M274 2183h20"/>
<path stroke="#3674b3" stroke-width="4" d="M294 2183h4M322 2183h8M334 2183h8M346 2183h8M358 2183h4M366 2183h4M382 2183h4"/>
<path stroke="#4f85bc" stroke-width="4" d="M798 2231h16"/>
<path stroke="#4f85bc" stroke-width="5" d="M218 2235.5h8M234 2235.5h4M246 2235.5h24M274 2235.5h20"/>
</g>
<path d="M212.7 1481L568.6 1481" stroke="#000" stroke-width="2.2"/>
<path d="M213.7 1480L213.7 1522" stroke="#000" stroke-width="2.2"/>
<path d="M567.6 1480L567.6 1522" stroke="#000" stroke-width="2.2"/>
<rect x="212.5" y="1520" width="602" height="78.5" fill="#000"/>
<path d="M214.5 1527.2L492 1527.2" stroke="#fff" stroke-width="1.6"/>
<path d="M655 1523.8L812 1523.8" stroke="#fff" stroke-width="1.3"/>
<path d="M495 1528.6L810 1528.6" stroke="#fff" stroke-width="0.8"/>
<path d="M776.6 1529.3L810 1529.3" stroke="#fff" stroke-width="2"/>
<path d="M351 1535.3L808 1535.3" stroke="#fff" stroke-width="1"/>
<path d="M488 1536.3L808 1536.3" stroke="#fff" stroke-width="2.2"/>
<path d="M323 1544.5L794 1544.5" stroke="#fff" stroke-width="0.9"/>
<path d="M632 1544.8L794 1544.8" stroke="#fff" stroke-width="1.3"/>
<path d="M407 1552.6L794 1552.6" stroke="#fff" stroke-width="0.8"/>
<path d="M590 1553L794 1553" stroke="#fff" stroke-width="1.2"/>
<path d="M226 1558.6L260 1558.6" stroke="#fff" stroke-width="1.2"/>
<path d="M240 1559.6L291 1559.6" stroke="#fff" stroke-width="2.6"/>
<path d="M304 1572L316 1572" stroke="#fff" stroke-width="1.8"/>
<path d="M648 1580.3L687 1580.3" stroke="#fff" stroke-width="1.6"/>
<path d="M717 1568.5L733 1568.5" stroke="#fff" stroke-width="1.6"/>
<path d="M764 1556L787 1556" stroke="#fff" stroke-width="2.5"/>
<path d="M766 1561.5L775 1561.5" stroke="#fff" stroke-width="3"/>
<path d="M771 1565L787 1565" stroke="#fff" stroke-width="1.5"/>
<rect x="212.7" y="1603.4" width="600.7" height="35.2" fill="#fdcd63"/>
<rect x="222" y="1603.4" width="1.2" height="35.2" fill="#007ba7"/>
<rect x="292" y="1603.4" width="1" height="35.2" fill="#007ba7"/>
<rect x="298.2" y="1603.4" width="4.5" height="35.2" fill="#007ba7"/>
<rect x="302.7" y="1603.4" width="16.9" height="35.2" fill="#007ba7"/>
<rect x="321" y="1603.4" width="1.9" height="35.2" fill="#007ba7"/>
<rect x="384.3" y="1603.4" width="3.6" height="35.2" fill="#007ba7"/>
<rect x="389" y="1603.4" width="1.2" height="35.2" fill="#007ba7"/>
<rect x="393.8" y="1603.4" width="1.2" height="35.2" fill="#007ba7"/>
<rect x="397" y="1603.4" width="0.8" height="35.2" fill="#007ba7"/>
<rect x="403.2" y="1603.4" width="6.6" height="35.2" fill="#007ba7"/>
<rect x="473.6" y="1603.4" width="3.2" height="35.2" fill="#007ba7"/>
<rect x="476.8" y="1603.4" width="21.1" height="35.2" fill="#007ba7"/>
<rect x="498.6" y="1603.4" width="2.8" height="35.2" fill="#007ba7"/>
<rect x="502" y="1603.4" width="7" height="35.2" fill="#007ba7"/>
<rect x="579.8" y="1603.4" width="1.1" height="35.2" fill="#007ba7"/>
<rect x="595.2" y="1603.4" width="5.2" height="35.2" fill="#007ba7"/>
<rect x="602.7" y="1603.4" width="1.8" height="35.2" fill="#007ba7"/>
<rect x="610.2" y="1603.4" width="1.8" height="35.2" fill="#007ba7"/>
<rect x="614.8" y="1603.4" width="1.2" height="35.2" fill="#007ba7"/>
<rect x="617" y="1603.4" width="13.9" height="35.2" fill="#007ba7"/>
<rect x="637.5" y="1603.4" width="3.5" height="35.2" fill="#007ba7"/>
<rect x="642.9" y="1603.4" width="1.7" height="35.2" fill="#007ba7"/>
<rect x="646" y="1603.4" width="25" height="35.2" fill="#007ba7"/>
<rect x="673.6" y="1603.4" width="14.3" height="35.2" fill="#007ba7"/>
<rect x="695.3" y="1603.4" width="0.7" height="35.2" fill="#007ba7"/>
<rect x="704" y="1603.4" width="32" height="35.2" fill="#007ba7"/>
<rect x="738.4" y="1603.4" width="49.5" height="35.2" fill="#007ba7"/>
<rect x="212.7" y="1643" width="600.7" height="34" fill="#e4696e"/>
<rect x="212.7" y="1643" width="4.6" height="34" fill="#364e6e"/>
<rect x="302" y="1643" width="0.8" height="34" fill="#364e6e"/>
<rect x="645.9" y="1643" width="167.5" height="34" fill="#364e6e"/>
<rect x="214.5" y="1643" width="0.9" height="34" fill="#e4696e"/>
<rect x="693.2" y="1643" width="0.9" height="34" fill="#e4696e"/>
<rect x="696.2" y="1643" width="0.9" height="34" fill="#e4696e"/>
<rect x="701.2" y="1643" width="0.9" height="34" fill="#e4696e"/>
<rect x="704.3" y="1643" width="0.9" height="34" fill="#e4696e"/>
<rect x="736.9" y="1643" width="0.9" height="34" fill="#e4696e"/>
<rect x="788.2" y="1643" width="0.9" height="34" fill="#e4696e"/>
<text x="826.5" y="1630.3" font-size="24">Cohort</text>
<text x="826.5" y="1669.5" font-size="24">Type</text>
<path fill="none" stroke="#000" stroke-width="2.6" stroke-linecap="square" d="M208.7 1689.8L185.9 1689.8M208.7 1691.5L185.9 1691.5M185.9 1689.8L185.9 1691.5M208.7 1693.2L190.6 1693.2M208.7 1694.8L190.6 1694.8M190.6 1693.2L190.6 1694.8M208.7 1696.5L191.6 1696.5M208.7 1698.2L191.6 1698.2M191.6 1696.5L191.6 1698.2M190.6 1694L187.1 1694M191.6 1697.3L187.1 1697.3M187.1 1694L187.1 1697.3M185.9 1690.7L178.7 1690.7M187.1 1695.7L178.7 1695.7M178.7 1690.7L178.7 1695.7M208.7 1699.8L190.4 1699.8M208.7 1701.4L190.4 1701.4M190.4 1699.8L190.4 1701.4M190.4 1700.6L182.4 1700.6M208.7 1703.1L182.4 1703.1M182.4 1700.6L182.4 1703.1M208.7 1704.7L191.7 1704.7M208.7 1706.3L191.7 1706.3M191.7 1704.7L191.7 1706.3M191.7 1705.5L189 1705.5M208.7 1707.9L189 1707.9M189 1705.5L189 1707.9M208.7 1709.6L188.1 1709.6M208.7 1711.2L188.1 1711.2M188.1 1709.6L188.1 1711.2M189 1706.7L185 1706.7M188.1 1710.4L185 1710.4M185 1706.7L185 1710.4M182.4 1701.8L178.7 1701.8M185 1708.5L178.7 1708.5M178.7 1701.8L178.7 1708.5M208.7 1714.6L194 1714.6M208.7 1716.3L194 1716.3M194 1714.6L194 1716.3M208.7 1712.9L192.9 1712.9M194 1715.4L192.9 1715.4M192.9 1712.9L192.9 1715.4M192.9 1714.1L189.6 1714.1M208.7 1718L189.6 1718M189.6 1714.1L189.6 1718M189.6 1716.1L188.3 1716.1M208.7 1719.7L188.3 1719.7M188.3 1716.1L188.3 1719.7M208.7 1721.4L183 1721.4M208.7 1723.1L183 1723.1M183 1721.4L183 1723.1M188.3 1717.9L179 1717.9M183 1722.2L179 1722.2M179 1717.9L179 1722.2M208.7 1724.8L193.2 1724.8M208.7 1726.5L193.2 1726.5M193.2 1724.8L193.2 1726.5M193.2 1725.6L192.6 1725.6M208.7 1728.2L192.6 1728.2M192.6 1725.6L192.6 1728.2M208.7 1731.6L194.5 1731.6M208.7 1733.3L194.5 1733.3M194.5 1731.6L194.5 1733.3M208.7 1729.9L194.2 1729.9M194.5 1732.5L194.2 1732.5M194.2 1729.9L194.2 1732.5M208.7 1735L194 1735M208.7 1736.7L194 1736.7M194 1735L194 1736.7M194.2 1731.2L192.9 1731.2M194 1735.9L192.9 1735.9M192.9 1731.2L192.9 1735.9M192.6 1726.9L191.3 1726.9M192.9 1733.5L191.3 1733.5M191.3 1726.9L191.3 1733.5M208.7 1738.4L193.5 1738.4M208.7 1740.1L193.5 1740.1M193.5 1738.4L193.5 1740.1M208.7 1743.6L194 1743.6M208.7 1745.3L194 1745.3M194 1743.6L194 1745.3M208.7 1741.9L193.8 1741.9M194 1744.4L193.8 1744.4M193.8 1741.9L193.8 1744.4M208.7 1747L194 1747M208.7 1748.7L194 1748.7M194 1747L194 1748.7M194 1747.8L193.6 1747.8M208.7 1750.4L193.6 1750.4M193.6 1747.8L193.6 1750.4M193.8 1743.1L193.4 1743.1M193.6 1749.1L193.4 1749.1M193.4 1743.1L193.4 1749.1M193.5 1739.3L190.1 1739.3M193.4 1746.1L190.1 1746.1M190.1 1739.3L190.1 1746.1M208.7 1753.8L192.6 1753.8M208.7 1755.5L192.6 1755.5M192.6 1753.8L192.6 1755.5M192.6 1754.6L191.2 1754.6M208.7 1757.2L191.2 1757.2M191.2 1754.6L191.2 1757.2M208.7 1752.1L190.5 1752.1M191.2 1755.9L190.5 1755.9M190.5 1752.1L190.5 1755.9M208.7 1758.9L194.4 1758.9M208.7 1760.6L194.4 1760.6M194.4 1758.9L194.4 1760.6M208.7 1762.3L194.3 1762.3M208.7 1764L194.3 1764M194.3 1762.3L194.3 1764M194.3 1763.2L194.1 1763.2M208.7 1765.7L194.1 1765.7M194.1 1763.2L194.1 1765.7M194.4 1759.8L193.7 1759.8M194.1 1764.5L193.7 1764.5M193.7 1759.8L193.7 1764.5M208.7 1767.4L192.9 1767.4M208.7 1769.1L192.9 1769.1M192.9 1767.4L192.9 1769.1M193.7 1762.1L192.5 1762.1M192.9 1768.3L192.5 1768.3M192.5 1762.1L192.5 1768.3M190.5 1754L186.9 1754M192.5 1765.2L186.9 1765.2M186.9 1754L186.9 1765.2M190.1 1742.7L184.3 1742.7M186.9 1759.6L184.3 1759.6M184.3 1742.7L184.3 1759.6M191.3 1730.2L181.9 1730.2M184.3 1751.2L181.9 1751.2M181.9 1730.2L181.9 1751.2M179 1720L170.7 1720M181.9 1740.7L170.7 1740.7M170.7 1720L170.7 1740.7M178.7 1705.2L165.7 1705.2M170.7 1730.4L165.7 1730.4M165.7 1705.2L165.7 1730.4M178.7 1693.2L145.8 1693.2M165.7 1717.8L145.8 1717.8M145.8 1693.2L145.8 1717.8M208.7 1770.9L189.4 1770.9M208.7 1772.6L189.4 1772.6M189.4 1770.9L189.4 1772.6M189.4 1771.8L184.3 1771.8M208.7 1774.4L184.3 1774.4M184.3 1771.8L184.3 1774.4M208.7 1777.9L191.7 1777.9M208.7 1779.6L191.7 1779.6M191.7 1777.9L191.7 1779.6M208.7 1776.1L190 1776.1M191.7 1778.8L190 1778.8M190 1776.1L190 1778.8M184.3 1773.1L180.6 1773.1M190 1777.4L180.6 1777.4M180.6 1773.1L180.6 1777.4M208.7 1781.4L176.6 1781.4M208.7 1783.1L176.6 1783.1M176.6 1781.4L176.6 1783.1M180.6 1775.2L173 1775.2M176.6 1782.2L173 1782.2M173 1775.2L173 1782.2M208.7 1786.6L190.2 1786.6M208.7 1788.3L190.2 1788.3M190.2 1786.6L190.2 1788.3M190.2 1787.4L187.9 1787.4M208.7 1790L187.9 1790M187.9 1787.4L187.9 1790M208.7 1784.9L183 1784.9M187.9 1788.7L183 1788.7M183 1784.9L183 1788.7M208.7 1793.4L192.5 1793.4M208.7 1795.1L192.5 1795.1M192.5 1793.4L192.5 1795.1M208.7 1791.7L190.5 1791.7M192.5 1794.3L190.5 1794.3M190.5 1791.7L190.5 1794.3M183 1786.8L180.7 1786.8M190.5 1793L180.7 1793M180.7 1786.8L180.7 1793M208.7 1796.8L194.4 1796.8M208.7 1798.5L194.4 1798.5M194.4 1796.8L194.4 1798.5M208.7 1800.2L194.3 1800.2M208.7 1801.9L194.3 1801.9M194.3 1800.2L194.3 1801.9M194.3 1801.1L194.2 1801.1M208.7 1803.6L194.2 1803.6M194.2 1801.1L194.2 1803.6M194.4 1797.7L193.9 1797.7M194.2 1802.4L193.9 1802.4M193.9 1797.7L193.9 1802.4M208.7 1805.3L192.5 1805.3M208.7 1807L192.5 1807M192.5 1805.3L192.5 1807M193.9 1800L191.9 1800M192.5 1806.2L191.9 1806.2M191.9 1800L191.9 1806.2M208.7 1810.4L194.6 1810.4M208.7 1812.1L194.6 1812.1M194.6 1810.4L194.6 1812.1M208.7 1808.7L194.5 1808.7M194.6 1811.3L194.5 1811.3M194.5 1808.7L194.5 1811.3M208.7 1813.8L194.5 1813.8M208.7 1815.5L194.5 1815.5M194.5 1813.8L194.5 1815.5M194.5 1814.7L194.4 1814.7M208.7 1817.2L194.4 1817.2M194.4 1814.7L194.4 1817.2M194.5 1810L194.2 1810M194.4 1816L194.2 1816M194.2 1810L194.2 1816M208.7 1818.9L194.1 1818.9M208.7 1820.6L194.1 1820.6M194.1 1818.9L194.1 1820.6M194.1 1819.8L193.7 1819.8M208.7 1822.3L193.7 1822.3M193.7 1819.8L193.7 1822.3M208.7 1824L193.9 1824M208.7 1825.7L193.9 1825.7M193.9 1824L193.9 1825.7M193.7 1821.1L193.5 1821.1M193.9 1824.9L193.5 1824.9M193.5 1821.1L193.5 1824.9M194.2 1813L193.1 1813M193.5 1823L193.1 1823M193.1 1813L193.1 1823M191.9 1803.1L191.3 1803.1M193.1 1818L191.3 1818M191.3 1803.1L191.3 1818M208.7 1827.4L194.7 1827.4M208.7 1829.1L194.7 1829.1M194.7 1827.4L194.7 1829.1M208.7 1830.8L194.7 1830.8M208.7 1832.5L194.7 1832.5M194.7 1830.8L194.7 1832.5M194.7 1828.3L194.7 1828.3M194.7 1831.7L194.7 1831.7M194.7 1828.3L194.7 1831.7M208.7 1834.2L194.7 1834.2M208.7 1835.9L194.7 1835.9M194.7 1834.2L194.7 1835.9M208.7 1837.6L194.7 1837.6M208.7 1839.3L194.7 1839.3M194.7 1837.6L194.7 1839.3M194.7 1835.1L194.6 1835.1M194.7 1838.5L194.6 1838.5M194.6 1835.1L194.6 1838.5M194.7 1830L194.6 1830M194.6 1836.8L194.6 1836.8M194.6 1830L194.6 1836.8M208.7 1842.7L194.7 1842.7M208.7 1844.4L194.7 1844.4M194.7 1842.7L194.7 1844.4M208.7 1841L194.6 1841M194.7 1843.6L194.6 1843.6M194.6 1841L194.6 1843.6M208.7 1849.5L194.7 1849.5M208.7 1851.2L194.7 1851.2M194.7 1849.5L194.7 1851.2M208.7 1847.8L194.7 1847.8M194.7 1850.3L194.7 1850.3M194.7 1847.8L194.7 1850.3M208.7 1846.1L194.7 1846.1M194.7 1849.1L194.7 1849.1M194.7 1846.1L194.7 1849.1M208.7 1852.9L194.7 1852.9M208.7 1854.6L194.7 1854.6M194.7 1852.9L194.7 1854.6M194.7 1847.6L194.6 1847.6M194.7 1853.7L194.6 1853.7M194.6 1847.6L194.6 1853.7M194.6 1842.3L194.4 1842.3M194.6 1850.7L194.4 1850.7M194.4 1842.3L194.4 1850.7M194.6 1833.4L194.2 1833.4M194.4 1846.5L194.2 1846.5M194.2 1833.4L194.2 1846.5M208.7 1858L194.6 1858M208.7 1859.7L194.6 1859.7M194.6 1858L194.6 1859.7M208.7 1856.3L194.4 1856.3M194.6 1858.8L194.4 1858.8M194.4 1856.3L194.4 1858.8M208.7 1861.4L194.6 1861.4M208.7 1863.1L194.6 1863.1M194.6 1861.4L194.6 1863.1M208.7 1864.8L194.5 1864.8M208.7 1866.5L194.5 1866.5M194.5 1864.8L194.5 1866.5M208.7 1868.2L194.6 1868.2M208.7 1869.9L194.6 1869.9M194.6 1868.2L194.6 1869.9M194.5 1865.6L194.5 1865.6M194.6 1869L194.5 1869M194.5 1865.6L194.5 1869M194.6 1862.2L194.4 1862.2M194.5 1867.3L194.4 1867.3M194.4 1862.2L194.4 1867.3M194.4 1857.6L193.6 1857.6M194.4 1864.8L193.6 1864.8M193.6 1857.6L193.6 1864.8M194.2 1839.9L193.2 1839.9M193.6 1861.2L193.2 1861.2M193.2 1839.9L193.2 1861.2M191.3 1810.5L190.5 1810.5M193.2 1850.5L190.5 1850.5M190.5 1810.5L190.5 1850.5M208.7 1873.3L194.2 1873.3M208.7 1875L194.2 1875M194.2 1873.3L194.2 1875M208.7 1876.7L194.3 1876.7M208.7 1878.4L194.3 1878.4M194.3 1876.7L194.3 1878.4M194.2 1874.1L193.6 1874.1M194.3 1877.5L193.6 1877.5M193.6 1874.1L193.6 1877.5M208.7 1871.6L192.9 1871.6M193.6 1875.8L192.9 1875.8M192.9 1871.6L192.9 1875.8M208.7 1881.8L194.1 1881.8M208.7 1883.5L194.1 1883.5M194.1 1881.8L194.1 1883.5M208.7 1880.1L193.5 1880.1M194.1 1882.6L193.5 1882.6M193.5 1880.1L193.5 1882.6M193.5 1881.3L192.9 1881.3M208.7 1885.2L192.9 1885.2M192.9 1881.3L192.9 1885.2M192.9 1873.7L192.1 1873.7M192.9 1883.3L192.1 1883.3M192.1 1873.7L192.1 1883.3M208.7 1886.9L194.4 1886.9M208.7 1888.6L194.4 1888.6M194.4 1886.9L194.4 1888.6M194.4 1887.7L193.9 1887.7M208.7 1890.3L193.9 1890.3M193.9 1887.7L193.9 1890.3M193.9 1889L192.7 1889M208.7 1892L192.7 1892M192.7 1889L192.7 1892M208.7 1895.4L194.2 1895.4M208.7 1897.1L194.2 1897.1M194.2 1895.4L194.2 1897.1M194.2 1896.2L193.6 1896.2M208.7 1898.8L193.6 1898.8M193.6 1896.2L193.6 1898.8M208.7 1893.7L192.8 1893.7M193.6 1897.5L192.8 1897.5M192.8 1893.7L192.8 1897.5M192.7 1890.5L192.1 1890.5M192.8 1895.6L192.1 1895.6M192.1 1890.5L192.1 1895.6M192.1 1878.5L191.6 1878.5M192.1 1893L191.6 1893M191.6 1878.5L191.6 1893M190.5 1830.5L184.8 1830.5M191.6 1885.8L184.8 1885.8M184.8 1830.5L184.8 1885.8M208.7 1900.5L194.6 1900.5M208.7 1902.2L194.6 1902.2M194.6 1900.5L194.6 1902.2M208.7 1903.8L194.6 1903.8M208.7 1905.5L194.6 1905.5M194.6 1903.8L194.6 1905.5M194.6 1901.3L194.6 1901.3M194.6 1904.7L194.6 1904.7M194.6 1901.3L194.6 1904.7M208.7 1908.9L194.6 1908.9M208.7 1910.6L194.6 1910.6M194.6 1908.9L194.6 1910.6M208.7 1907.2L194.5 1907.2M194.6 1909.8L194.5 1909.8M194.5 1907.2L194.5 1909.8M194.6 1903L194.4 1903M194.5 1908.5L194.4 1908.5M194.4 1903L194.4 1908.5M208.7 1912.3L194.4 1912.3M208.7 1914L194.4 1914M194.4 1912.3L194.4 1914M194.4 1905.8L194 1905.8M194.4 1913.2L194 1913.2M194 1905.8L194 1913.2M208.7 1915.7L193.5 1915.7M208.7 1917.4L193.5 1917.4M193.5 1915.7L193.5 1917.4M194 1909.5L193.2 1909.5M193.5 1916.6L193.2 1916.6M193.2 1909.5L193.2 1916.6M208.7 1919.1L194.4 1919.1M208.7 1920.8L194.4 1920.8M194.4 1919.1L194.4 1920.8M208.7 1922.5L194.6 1922.5M208.7 1924.2L194.6 1924.2M194.6 1922.5L194.6 1924.2M208.7 1925.9L194.6 1925.9M208.7 1927.6L194.6 1927.6M194.6 1925.9L194.6 1927.6M194.6 1923.4L194.5 1923.4M194.6 1926.8L194.5 1926.8M194.5 1923.4L194.5 1926.8M208.7 1929.3L194.5 1929.3M208.7 1931L194.5 1931M194.5 1929.3L194.5 1931M194.5 1925.1L194.4 1925.1M194.5 1930.2L194.4 1930.2M194.4 1925.1L194.4 1930.2M194.4 1920L194.1 1920M194.4 1927.6L194.1 1927.6M194.1 1920L194.1 1927.6M208.7 1934.4L194.4 1934.4M208.7 1936.1L194.4 1936.1M194.4 1934.4L194.4 1936.1M208.7 1932.7L193.9 1932.7M194.4 1935.3L193.9 1935.3M193.9 1932.7L193.9 1935.3M194.1 1923.8L192.7 1923.8M193.9 1934L192.7 1934M192.7 1923.8L192.7 1934M208.7 1937.8L194.6 1937.8M208.7 1939.5L194.6 1939.5M194.6 1937.8L194.6 1939.5M208.7 1941.2L194.5 1941.2M208.7 1942.9L194.5 1942.9M194.5 1941.2L194.5 1942.9M194.6 1938.7L194.3 1938.7M194.5 1942.1L194.3 1942.1M194.3 1938.7L194.3 1942.1M208.7 1944.6L194.5 1944.6M208.7 1946.3L194.5 1946.3M194.5 1944.6L194.5 1946.3M194.3 1940.4L194.1 1940.4M194.5 1945.5L194.1 1945.5M194.1 1940.4L194.1 1945.5M208.7 1948L194.7 1948M208.7 1949.7L194.7 1949.7M194.7 1948L194.7 1949.7M194.7 1948.9L194.6 1948.9M208.7 1951.4L194.6 1951.4M194.6 1948.9L194.6 1951.4M208.7 1953.1L194.7 1953.1M208.7 1954.8L194.7 1954.8M194.7 1953.1L194.7 1954.8M194.6 1950.1L194.6 1950.1M194.7 1954L194.6 1954M194.6 1950.1L194.6 1954M208.7 1956.5L194.5 1956.5M208.7 1958.2L194.5 1958.2M194.5 1956.5L194.5 1958.2M194.6 1952L194.4 1952M194.5 1957.3L194.4 1957.3M194.4 1952L194.4 1957.3M194.1 1942.9L193.9 1942.9M194.4 1954.7L193.9 1954.7M193.9 1942.9L193.9 1954.7M208.7 1961.6L194.7 1961.6M208.7 1963.3L194.7 1963.3M194.7 1961.6L194.7 1963.3M208.7 1959.9L194.6 1959.9M194.7 1962.4L194.6 1962.4M194.6 1959.9L194.6 1962.4M208.7 1965L194.6 1965M208.7 1966.7L194.6 1966.7M194.6 1965L194.6 1966.7M194.6 1965.8L194.6 1965.8M208.7 1968.4L194.6 1968.4M194.6 1965.8L194.6 1968.4M194.6 1961.2L194.3 1961.2M194.6 1967.1L194.3 1967.1M194.3 1961.2L194.3 1967.1M193.9 1948.8L193.6 1948.8M194.3 1964.1L193.6 1964.1M193.6 1948.8L193.6 1964.1M192.7 1928.9L192 1928.9M193.6 1956.5L192 1956.5M192 1928.9L192 1956.5M193.2 1913L191.1 1913M192 1942.7L191.1 1942.7M191.1 1913L191.1 1942.7M208.7 1973.5L194.6 1973.5M208.7 1975.2L194.6 1975.2M194.6 1973.5L194.6 1975.2M208.7 1971.8L194.5 1971.8M194.6 1974.3L194.5 1974.3M194.5 1971.8L194.5 1974.3M208.7 1970.1L194.2 1970.1M194.5 1973.1L194.2 1973.1M194.2 1970.1L194.2 1973.1M208.7 1976.9L194.7 1976.9M208.7 1978.6L194.7 1978.6M194.7 1976.9L194.7 1978.6M208.7 1980.3L194.7 1980.3M208.7 1982L194.7 1982M194.7 1980.3L194.7 1982M194.7 1977.7L194.7 1977.7M194.7 1981.1L194.7 1981.1M194.7 1977.7L194.7 1981.1M208.7 1983.7L194.7 1983.7M208.7 1985.4L194.7 1985.4M194.7 1983.7L194.7 1985.4M208.7 1987.1L194.7 1987.1M208.7 1988.8L194.7 1988.8M194.7 1987.1L194.7 1988.8M194.7 1984.5L194.6 1984.5M194.7 1987.9L194.6 1987.9M194.6 1984.5L194.6 1987.9M194.7 1979.4L194.6 1979.4M194.6 1986.2L194.6 1986.2M194.6 1979.4L194.6 1986.2M208.7 1990.5L194.7 1990.5M208.7 1992.2L194.7 1992.2M194.7 1990.5L194.7 1992.2M194.7 1991.3L194.6 1991.3M208.7 1993.9L194.6 1993.9M194.6 1991.3L194.6 1993.9M208.7 1995.6L194.6 1995.6M208.7 1997.3L194.6 1997.3M194.6 1995.6L194.6 1997.3M194.6 1992.6L194.6 1992.6M194.6 1996.4L194.6 1996.4M194.6 1992.6L194.6 1996.4M194.6 1982.8L194.4 1982.8M194.6 1994.5L194.4 1994.5M194.4 1982.8L194.4 1994.5M194.2 1971.6L193.7 1971.6M194.4 1988.7L193.7 1988.7M193.7 1971.6L193.7 1988.7M208.7 1999L194.1 1999M208.7 2000.7L194.1 2000.7M194.1 1999L194.1 2000.7M208.7 2002.4L194.4 2002.4M208.7 2004.1L194.4 2004.1M194.4 2002.4L194.4 2004.1M194.1 1999.8L193.7 1999.8M194.4 2003.2L193.7 2003.2M193.7 1999.8L193.7 2003.2M208.7 2007.5L194.2 2007.5M208.7 2009.2L194.2 2009.2M194.2 2007.5L194.2 2009.2M208.7 2005.8L193.8 2005.8M194.2 2008.3L193.8 2008.3M193.8 2005.8L193.8 2008.3M193.7 2001.5L193.1 2001.5M193.8 2007L193.1 2007M193.1 2001.5L193.1 2007M193.7 1980.1L191.4 1980.1M193.1 2004.3L191.4 2004.3M191.4 1980.1L191.4 2004.3M191.1 1927.9L188.1 1927.9M191.4 1992.2L188.1 1992.2M188.1 1927.9L188.1 1992.2M184.8 1858.1L178.7 1858.1M188.1 1960L178.7 1960M178.7 1858.1L178.7 1960M208.7 2010.8L194.5 2010.8M208.7 2012.5L194.5 2012.5M194.5 2010.8L194.5 2012.5M208.7 2014.2L194.4 2014.2M208.7 2015.9L194.4 2015.9M194.4 2014.2L194.4 2015.9M194.5 2011.7L194.3 2011.7M194.4 2015.1L194.3 2015.1M194.3 2011.7L194.3 2015.1M194.3 2013.4L193.6 2013.4M208.7 2017.6L193.6 2017.6M193.6 2013.4L193.6 2017.6M208.7 2019.3L194.6 2019.3M208.7 2021L194.6 2021M194.6 2019.3L194.6 2021M194.6 2020.1L194.4 2020.1M208.7 2022.7L194.4 2022.7M194.4 2020.1L194.4 2022.7M208.7 2026.1L194.5 2026.1M208.7 2027.7L194.5 2027.7M194.5 2026.1L194.5 2027.7M208.7 2024.4L194.4 2024.4M194.5 2026.9L194.4 2026.9M194.4 2024.4L194.4 2026.9M194.4 2021.4L194.1 2021.4M194.4 2025.6L194.1 2025.6M194.1 2021.4L194.1 2025.6M193.6 2015.5L192.7 2015.5M194.1 2023.5L192.7 2023.5M192.7 2015.5L192.7 2023.5M208.7 2029.4L194.3 2029.4M208.7 2031.1L194.3 2031.1M194.3 2029.4L194.3 2031.1M208.7 2032.8L194.1 2032.8M208.7 2034.5L194.1 2034.5M194.1 2032.8L194.1 2034.5M194.3 2030.3L193.5 2030.3M194.1 2033.7L193.5 2033.7M193.5 2030.3L193.5 2033.7M208.7 2037.9L194.6 2037.9M208.7 2039.6L194.6 2039.6M194.6 2037.9L194.6 2039.6M194.6 2038.7L194.6 2038.7M208.7 2041.3L194.6 2041.3M194.6 2038.7L194.6 2041.3M194.6 2040L194.3 2040M208.7 2043L194.3 2043M194.3 2040L194.3 2043M208.7 2036.2L193.9 2036.2M194.3 2041.5L193.9 2041.5M193.9 2036.2L193.9 2041.5M193.5 2032L192 2032M193.9 2038.8L192 2038.8M192 2032L192 2038.8M192.7 2019.5L187.8 2019.5M192 2035.4L187.8 2035.4M187.8 2019.5L187.8 2035.4M208.7 2044.6L194 2044.6M208.7 2046.3L194 2046.3M194 2044.6L194 2046.3M208.7 2048L194.1 2048M208.7 2049.7L194.1 2049.7M194.1 2048L194.1 2049.7M194 2045.5L193.6 2045.5M194.1 2048.9L193.6 2048.9M193.6 2045.5L193.6 2048.9M208.7 2051.4L194.6 2051.4M208.7 2053.1L194.6 2053.1M194.6 2051.4L194.6 2053.1M208.7 2054.8L194.6 2054.8M208.7 2056.5L194.6 2056.5M194.6 2054.8L194.6 2056.5M194.6 2052.3L194.4 2052.3M194.6 2055.6L194.4 2055.6M194.4 2052.3L194.4 2055.6M208.7 2059.9L194.6 2059.9M208.7 2061.5L194.6 2061.5M194.6 2059.9L194.6 2061.5M208.7 2058.2L194.6 2058.2M194.6 2060.7L194.6 2060.7M194.6 2058.2L194.6 2060.7M194.4 2053.9L194.2 2053.9M194.6 2059.4L194.2 2059.4M194.2 2053.9L194.2 2059.4M208.7 2063.2L194.5 2063.2M208.7 2064.9L194.5 2064.9M194.5 2063.2L194.5 2064.9M208.7 2066.6L194.5 2066.6M208.7 2068.3L194.5 2068.3M194.5 2066.6L194.5 2068.3M194.5 2064.1L194.3 2064.1M194.5 2067.5L194.3 2067.5M194.3 2064.1L194.3 2067.5M208.7 2070L194.4 2070M208.7 2071.7L194.4 2071.7M194.4 2070L194.4 2071.7M208.7 2073.4L194.5 2073.4M208.7 2075.1L194.5 2075.1M194.5 2073.4L194.5 2075.1M194.4 2070.8L194.2 2070.8M194.5 2074.2L194.2 2074.2M194.2 2070.8L194.2 2074.2M208.7 2076.8L194.5 2076.8M208.7 2078.5L194.5 2078.5M194.5 2076.8L194.5 2078.5M194.5 2077.6L194.2 2077.6M208.7 2080.1L194.2 2080.1M194.2 2077.6L194.2 2080.1M194.2 2072.5L194.1 2072.5M194.2 2078.9L194.1 2078.9M194.1 2072.5L194.1 2078.9M194.3 2065.8L193.9 2065.8M194.1 2075.7L193.9 2075.7M193.9 2065.8L193.9 2075.7M194.2 2056.7L193.6 2056.7M193.9 2070.7L193.6 2070.7M193.6 2056.7L193.6 2070.7M193.6 2047.2L193.2 2047.2M193.6 2063.7L193.2 2063.7M193.2 2047.2L193.2 2063.7M208.7 2081.8L193.7 2081.8M208.7 2083.5L193.7 2083.5M193.7 2081.8L193.7 2083.5M208.7 2085.2L194.2 2085.2M208.7 2086.9L194.2 2086.9M194.2 2085.2L194.2 2086.9M208.7 2088.6L194.3 2088.6M208.7 2090.3L194.3 2090.3M194.3 2088.6L194.3 2090.3M194.3 2089.4L194.2 2089.4M208.7 2092L194.2 2092M194.2 2089.4L194.2 2092M194.2 2086.1L194.1 2086.1M194.2 2090.7L194.1 2090.7M194.1 2086.1L194.1 2090.7M208.7 2093.7L194.5 2093.7M208.7 2095.4L194.5 2095.4M194.5 2093.7L194.5 2095.4M194.5 2094.5L194.2 2094.5M208.7 2097L194.2 2097M194.2 2094.5L194.2 2097M194.1 2088.4L192.8 2088.4M194.2 2095.8L192.8 2095.8M192.8 2088.4L192.8 2095.8M193.7 2082.7L192.5 2082.7M192.8 2092.1L192.5 2092.1M192.5 2082.7L192.5 2092.1M208.7 2102.1L194.4 2102.1M208.7 2103.8L194.4 2103.8M194.4 2102.1L194.4 2103.8M208.7 2100.4L194.2 2100.4M194.4 2103L194.2 2103M194.2 2100.4L194.2 2103M208.7 2098.7L193.9 2098.7M194.2 2101.7L193.9 2101.7M193.9 2098.7L193.9 2101.7M208.7 2105.5L194.5 2105.5M208.7 2107.2L194.5 2107.2M194.5 2105.5L194.5 2107.2M194.5 2106.3L194.3 2106.3M208.7 2108.9L194.3 2108.9M194.3 2106.3L194.3 2108.9M208.7 2110.6L194.3 2110.6M208.7 2112.3L194.3 2112.3M194.3 2110.6L194.3 2112.3M194.3 2107.6L194.2 2107.6M194.3 2111.4L194.2 2111.4M194.2 2107.6L194.2 2111.4M208.7 2113.9L194.5 2113.9M208.7 2115.6L194.5 2115.6M194.5 2113.9L194.5 2115.6M208.7 2119L194.7 2119M208.7 2120.7L194.7 2120.7M194.7 2119L194.7 2120.7M208.7 2117.3L194.6 2117.3M194.7 2119.9L194.6 2119.9M194.6 2117.3L194.6 2119.9M208.7 2122.4L194.6 2122.4M208.7 2124.1L194.6 2124.1M194.6 2122.4L194.6 2124.1M194.6 2118.6L194.6 2118.6M194.6 2123.2L194.6 2123.2M194.6 2118.6L194.6 2123.2M194.5 2114.8L194.3 2114.8M194.6 2120.9L194.3 2120.9M194.3 2114.8L194.3 2120.9M208.7 2127.5L194.4 2127.5M208.7 2129.2L194.4 2129.2M194.4 2127.5L194.4 2129.2M208.7 2125.8L194.2 2125.8M194.4 2128.3L194.2 2128.3M194.2 2125.8L194.2 2128.3M194.3 2117.9L193.9 2117.9M194.2 2127L193.9 2127M193.9 2117.9L193.9 2127M194.2 2109.5L193.4 2109.5M193.9 2122.4L193.4 2122.4M193.4 2109.5L193.4 2122.4M193.9 2100.2L192.4 2100.2M193.4 2116L192.4 2116M192.4 2100.2L192.4 2116M192.5 2087.4L192 2087.4M192.4 2108.1L192 2108.1M192 2087.4L192 2108.1M193.2 2055.4L190.1 2055.4M192 2097.7L190.1 2097.7M190.1 2055.4L190.1 2097.7M187.8 2027.5L178.7 2027.5M190.1 2076.6L178.7 2076.6M178.7 2027.5L178.7 2076.6M178.7 1909.1L172.7 1909.1M178.7 2052L172.7 2052M172.7 1909.1L172.7 2052M180.7 1789.9L169 1789.9M172.7 1980.6L169 1980.6M169 1789.9L169 1980.6M173 1778.8L160.8 1778.8M169 1885.2L160.8 1885.2M160.8 1778.8L160.8 1885.2M208.7 2132.6L194 2132.6M208.7 2134.3L194 2134.3M194 2132.6L194 2134.3M208.7 2136L194 2136M208.7 2137.7L194 2137.7M194 2136L194 2137.7M194 2133.4L193.7 2133.4M194 2136.8L193.7 2136.8M193.7 2133.4L193.7 2136.8M208.7 2130.9L192.7 2130.9M193.7 2135.1L192.7 2135.1M192.7 2130.9L192.7 2135.1M208.7 2139.4L193.1 2139.4M208.7 2141.1L193.1 2141.1M193.1 2139.4L193.1 2141.1M193.1 2140.2L191.5 2140.2M208.7 2142.8L191.5 2142.8M191.5 2140.2L191.5 2142.8M192.7 2133L190.8 2133M191.5 2141.5L190.8 2141.5M190.8 2133L190.8 2141.5M208.7 2144.5L194.1 2144.5M208.7 2146.2L194.1 2146.2M194.1 2144.5L194.1 2146.2M194.1 2145.3L193.8 2145.3M208.7 2147.9L193.8 2147.9M193.8 2145.3L193.8 2147.9M193.8 2146.6L193.5 2146.6M208.7 2149.6L193.5 2149.6M193.5 2146.6L193.5 2149.6M208.7 2151.3L194.4 2151.3M208.7 2153L194.4 2153M194.4 2151.3L194.4 2153M208.7 2154.7L194.5 2154.7M208.7 2156.4L194.5 2156.4M194.5 2154.7L194.5 2156.4M194.4 2152.1L194.1 2152.1M194.5 2155.6L194.1 2155.6M194.1 2152.1L194.1 2155.6M193.5 2148.1L193.2 2148.1M194.1 2153.9L193.2 2153.9M193.2 2148.1L193.2 2153.9M208.7 2159.8L194.1 2159.8M208.7 2161.5L194.1 2161.5M194.1 2159.8L194.1 2161.5M208.7 2158.1L193.8 2158.1M194.1 2160.7L193.8 2160.7M193.8 2158.1L193.8 2160.7M193.2 2151L192.7 2151M193.8 2159.4L192.7 2159.4M192.7 2151L192.7 2159.4M190.8 2137.2L188.1 2137.2M192.7 2155.2L188.1 2155.2M188.1 2137.2L188.1 2155.2M208.7 2164.9L193 2164.9M208.7 2166.6L193 2166.6M193 2164.9L193 2166.6M208.7 2163.2L190.8 2163.2M193 2165.8L190.8 2165.8M190.8 2163.2L190.8 2165.8M208.7 2168.3L192 2168.3M208.7 2170L192 2170M192 2168.3L192 2170M190.8 2164.5L185.5 2164.5M192 2169.2L185.5 2169.2M185.5 2164.5L185.5 2169.2M208.7 2173.4L191.8 2173.4M208.7 2175.1L191.8 2175.1M191.8 2173.4L191.8 2175.1M208.7 2171.7L190.6 2171.7M191.8 2174.3L190.6 2174.3M190.6 2171.7L190.6 2174.3M185.5 2166.8L181.3 2166.8M190.6 2173L181.3 2173M181.3 2166.8L181.3 2173M188.1 2146.2L170 2146.2M181.3 2169.9L170 2169.9M170 2146.2L170 2169.9M160.8 1832L148.5 1832M170 2158.1L148.5 2158.1M148.5 1832L148.5 2158.1M208.7 2176.9L193.2 2176.9M208.7 2178.6L193.2 2178.6M193.2 2176.9L193.2 2178.6M208.7 2180.3L191.3 2180.3M208.7 2182L191.3 2182M191.3 2180.3L191.3 2182M193.2 2177.7L189.9 2177.7M191.3 2181.1L189.9 2181.1M189.9 2177.7L189.9 2181.1M208.7 2183.7L194.1 2183.7M208.7 2185.4L194.1 2185.4M194.1 2183.7L194.1 2185.4M194.1 2184.6L193.6 2184.6M208.7 2187.1L193.6 2187.1M193.6 2184.6L193.6 2187.1M193.6 2185.9L193.4 2185.9M208.7 2188.9L193.4 2188.9M193.4 2185.9L193.4 2188.9M208.7 2190.6L193.7 2190.6M208.7 2192.3L193.7 2192.3M193.7 2190.6L193.7 2192.3M193.4 2187.4L190.7 2187.4M193.7 2191.4L190.7 2191.4M190.7 2187.4L190.7 2191.4M189.9 2179.4L188.4 2179.4M190.7 2189.4L188.4 2189.4M188.4 2179.4L188.4 2189.4M208.7 2195.7L190 2195.7M208.7 2197.4L190 2197.4M190 2195.7L190 2197.4M190 2196.6L188.3 2196.6M208.7 2199.1L188.3 2199.1M188.3 2196.6L188.3 2199.1M208.7 2194L184.1 2194M188.3 2197.9L184.1 2197.9M184.1 2194L184.1 2197.9M188.4 2184.4L178.7 2184.4M184.1 2195.9L178.7 2195.9M178.7 2184.4L178.7 2195.9M208.7 2200.8L189.9 2200.8M208.7 2202.5L189.9 2202.5M189.9 2200.8L189.9 2202.5M208.7 2205.9L192.8 2205.9M208.7 2207.5L192.8 2207.5M192.8 2205.9L192.8 2207.5M208.7 2204.2L191.1 2204.2M192.8 2206.7L191.1 2206.7M191.1 2204.2L191.1 2206.7M189.9 2201.7L187.4 2201.7M191.1 2205.4L187.4 2205.4M187.4 2201.7L187.4 2205.4M208.7 2209.2L191.5 2209.2M208.7 2210.9L191.5 2210.9M191.5 2209.2L191.5 2210.9M191.5 2210L189.2 2210M208.7 2212.6L189.2 2212.6M189.2 2210L189.2 2212.6M208.7 2214.2L192.5 2214.2M208.7 2215.9L192.5 2215.9M192.5 2214.2L192.5 2215.9M192.5 2215.1L188.4 2215.1M208.7 2217.6L188.4 2217.6M188.4 2215.1L188.4 2217.6M189.2 2211.3L184.7 2211.3M188.4 2216.3L184.7 2216.3M184.7 2211.3L184.7 2216.3M187.4 2203.6L182.9 2203.6M184.7 2213.8L182.9 2213.8M182.9 2203.6L182.9 2213.8M208.7 2220.9L194.5 2220.9M208.7 2222.6L194.5 2222.6M194.5 2220.9L194.5 2222.6M208.7 2219.2L194.2 2219.2M194.5 2221.8L194.2 2221.8M194.2 2219.2L194.2 2221.8M194.2 2220.5L193.6 2220.5M208.7 2224.3L193.6 2224.3M193.6 2220.5L193.6 2224.3M208.7 2225.9L194.2 2225.9M208.7 2227.6L194.2 2227.6M194.2 2225.9L194.2 2227.6M208.7 2229.3L194.1 2229.3M208.7 2231L194.1 2231M194.1 2229.3L194.1 2231M194.1 2230.1L193.9 2230.1M208.7 2232.6L193.9 2232.6M193.9 2230.1L193.9 2232.6M194.2 2226.8L193.6 2226.8M193.9 2231.4L193.6 2231.4M193.6 2226.8L193.6 2231.4M193.6 2222.4L192.2 2222.4M193.6 2229.1L192.2 2229.1M192.2 2222.4L192.2 2229.1M208.7 2236L193.5 2236M208.7 2237.7L193.5 2237.7M193.5 2236L193.5 2237.7M208.7 2234.3L192.6 2234.3M193.5 2236.8L192.6 2236.8M192.6 2234.3L192.6 2236.8M192.2 2225.7L188.7 2225.7M192.6 2235.6L188.7 2235.6M188.7 2225.7L188.7 2235.6M182.9 2208.7L180.7 2208.7M188.7 2230.7L180.7 2230.7M180.7 2208.7L180.7 2230.7M178.7 2190.2L162 2190.2M180.7 2219.7L162 2219.7M162 2190.2L162 2219.7M148.5 1995L137.5 1995M162 2204.9L137.5 2204.9M137.5 1995L137.5 2204.9M145.8 1705.5L91 1705.5M137.5 2100L91 2100M91 1705.5L91 2100"/>
<text x="837.8" y="1786.3" font-size="20.3">Cohort</text>
<rect x="838.8" y="1804" width="19.6" height="19.4" fill="#007ba7"/>
<rect x="838.8" y="1827.3" width="19.6" height="19.4" fill="#fdcd63"/>
<text x="871.7" y="1821.3" font-size="20.3">Illumina</text>
<text x="871.7" y="1844.3" font-size="20.3">MGI</text>
<text x="837.8" y="1887.3" font-size="20.3">Type</text>
<rect x="838.8" y="1906" width="19.6" height="19.4" fill="#364e6e"/>
<rect x="838.8" y="1929.3" width="19.6" height="19.4" fill="#e4696e"/>
<text x="871.7" y="1923" font-size="20.3">normal</text>
<text x="871.7" y="1946" font-size="20.3">tumor</text>
<defs><linearGradient id="cb335" x1="0" x2="1" y1="0" y2="0"><stop offset="0" stop-color="#2166ac"/><stop offset="0.03" stop-color="#2166ac"/><stop offset="0.5" stop-color="#f7f7f7"/><stop offset="0.97" stop-color="#b2182b"/><stop offset="1" stop-color="#b2182b"/></linearGradient></defs>
<rect x="335.4" y="2260.3" width="234.8" height="14.2" rx="1.5" fill="url(#cb335)"/>
<path d="M342.5 2260.3L342.5 2274.5" stroke="#fff" stroke-width="2"/>
<path d="M342.5 2272.5 342.5 2288.9 332.6 2303.9 332.6 2314.8" fill="none" stroke="#000" stroke-width="2.6" stroke-linejoin="round"/>
<text x="332.6" y="2334.9" font-size="20" text-anchor="middle">−1e−04</text>
<path d="M397.7 2260.3L397.7 2274.5" stroke="#fff" stroke-width="2"/>
<path d="M397.7 2272.5 397.7 2288.9 394.4 2303.9 394.4 2314.8" fill="none" stroke="#000" stroke-width="2.6" stroke-linejoin="round"/>
<text x="394.4" y="2334.9" font-size="20" text-anchor="middle">−5e−05</text>
<path d="M452.8 2260.3L452.8 2274.5" stroke="#fff" stroke-width="2"/>
<path d="M452.8 2272.5 452.8 2288.9 455.5 2303.9 455.5 2314.8" fill="none" stroke="#000" stroke-width="2.6" stroke-linejoin="round"/>
<text x="455.5" y="2334.9" font-size="20" text-anchor="middle">0</text>
<path d="M508.2 2260.3L508.2 2274.5" stroke="#fff" stroke-width="2"/>
<path d="M508.2 2272.5 508.2 2288.9 517.1 2303.9 517.1 2314.8" fill="none" stroke="#000" stroke-width="2.6" stroke-linejoin="round"/>
<text x="517.1" y="2334.9" font-size="20" text-anchor="middle">5e−05</text>
<path d="M563.4 2260.3L563.4 2274.5" stroke="#fff" stroke-width="2"/>
<path d="M563.4 2272.5 563.4 2288.9 578.8 2303.9 578.8 2314.8" fill="none" stroke="#000" stroke-width="2.6" stroke-linejoin="round"/>
<text x="578.8" y="2334.9" font-size="20" text-anchor="middle">1e−04</text>
<g>
<rect x="1292" y="1689" width="570" height="549" fill="#f4f2f5"/>
<path stroke="#437cb8" stroke-width="4" d="M1292 1691h4M1300 1691h12M1316 1691h24M1296 1715h4M1312 1715h4M1460 2103h8M1597 2147h8M1613 2147h28M1645 2147h8M1544 2151h37M1589 2151h4M1597 2191h8M1613 2191h28M1645 2191h8M1540 2207h4M1581 2207h8M1597 2227h8M1613 2227h28M1645 2227h8"/>
<path stroke="#759ec9" stroke-width="4" d="M1296 1691h4M1312 1691h4M1460 1695h8M1460 1723h8M1292 1727h4M1300 1727h12M1316 1727h24M1292 1775h4M1300 1775h12M1316 1775h24M1292 1791h4M1300 1791h12M1316 1791h24M1292 1795h4M1300 1795h12M1316 1795h24M1292 1799h4M1300 1799h12M1316 1799h24M1597 2099h8M1613 2099h28M1645 2099h8M1500 2111h36M1544 2127h37M1589 2127h4M1597 2127h8M1613 2127h28M1645 2127h8M1593 2135h4M1605 2135h8M1641 2135h4M1540 2147h4M1581 2147h8M1653 2151h8M1665 2151h28M1701 2151h8M1392 2171h12M1412 2171h4M1420 2171h4M1380 2175h12M1404 2175h8M1416 2175h4M1392 2191h12M1412 2191h4M1420 2191h4M1593 2191h4M1605 2191h8M1641 2191h4M1593 2207h4M1605 2207h8M1641 2207h4M1773 2207h4M1781 2207h8M1544 2215h37M1589 2215h4M1593 2219h4M1605 2219h8M1641 2219h4"/>
<path stroke="#e7eaf1" stroke-width="4" d="M1340 1691h16M1360 1691h8M1372 1691h8M1356 1699h4M1368 1699h4M1356 1703h4M1368 1703h4M1380 1707h12M1404 1707h8M1416 1707h4M1340 1719h16M1360 1719h8M1372 1719h8M1488 1727h4M1500 1727h36M1340 1739h40M1424 1747h32M1380 1755h44M1472 1755h28M1661 1755h4M1693 1755h8M1749 1755h8M1296 1759h4M1312 1759h4M1424 1759h4M1432 1759h24M1460 1759h8M1536 1759h4M1661 1759h4M1693 1759h8M1428 1763h4M1661 1767h4M1693 1767h8M1825 1771h37M1380 1775h12M1404 1775h8M1416 1775h4M1428 1775h4M1488 1775h4M1380 1779h12M1404 1779h8M1416 1779h4M1428 1779h4M1380 1783h12M1404 1783h8M1416 1783h4M1472 1783h28M1380 1787h44M1472 1787h28M1380 1791h44M1428 1791h4M1500 1795h36M1488 1799h4M1428 1807h4M1472 1807h28M1488 1815h4M1653 1839h56M1769 1843h20M1456 1847h16M1296 1851h4M1312 1851h4M1769 1851h20M1296 1855h4M1312 1855h4M1472 1855h28M1769 1855h20M1292 1859h4M1300 1859h12M1316 1859h24M1380 1867h44M1456 1867h4M1468 1867h4M1500 1867h40M1653 1867h8M1665 1867h28M1701 1867h8M1749 1867h8M1769 1867h56M1296 1871h4M1312 1871h4M1292 1879h48M1472 1879h28M1709 1879h56M1789 1879h36M1296 1883h4M1312 1883h4M1428 1887h4M1709 1887h56M1292 1891h48M1340 1895h40M1472 1895h28M1292 1899h48M1292 1903h48M1424 1903h32M1456 1907h16M1540 1907h4M1581 1907h8M1292 1911h48M1456 1911h16M1392 1915h12M1412 1915h4M1420 1915h4M1292 1919h48M1500 1919h36M1825 1931h37M1292 1935h48M1292 1939h4M1300 1939h12M1316 1939h24M1825 1939h37M1833 1947h4M1857 1947h5M1380 1951h44M1296 1955h4M1312 1955h4M1460 1955h8M1653 1959h112M1769 1959h20M1821 1959h41M1380 1963h44M1456 1963h4M1468 1963h4M1593 1963h60M1661 1963h4M1693 1963h8M1749 1963h8M1593 1967h4M1605 1967h8M1641 1967h4M1653 1967h8M1665 1967h28M1701 1967h48M1757 1967h8M1789 1967h32M1392 1971h12M1412 1971h4M1420 1971h4M1653 1971h8M1665 1971h28M1701 1971h48M1757 1971h8M1789 1971h36M1540 1975h57M1605 1975h8M1641 1975h4M1709 1975h56M1789 1975h36M1380 1979h44M1593 1979h60M1661 1983h4M1693 1983h8M1749 1983h8M1769 1983h20M1380 1987h44M1661 1987h4M1693 1987h8M1709 1987h40M1757 1987h8M1789 1987h36M1773 1991h4M1781 1991h40M1380 1995h44M1769 1995h56M1597 1999h8M1613 1999h28M1645 1999h8M1749 1999h8M1661 2003h4M1693 2003h8M1749 2003h8M1789 2003h36M1769 2007h56M1392 2011h12M1412 2011h4M1420 2011h4M1769 2011h52M1392 2015h12M1412 2015h4M1420 2015h4M1653 2015h8M1665 2015h28M1701 2015h48M1757 2015h8M1773 2015h4M1781 2015h8M1296 2019h4M1312 2019h4M1392 2019h12M1412 2019h4M1420 2019h4M1773 2019h4M1781 2019h44M1392 2023h12M1412 2023h4M1420 2023h4M1749 2023h8M1380 2027h44M1661 2027h4M1693 2027h8M1709 2027h40M1757 2027h8M1661 2031h4M1693 2031h8M1749 2031h8M1773 2031h4M1781 2031h8M1773 2035h4M1781 2035h8M1821 2035h4M1380 2039h12M1404 2039h8M1416 2039h4M1428 2039h4M1456 2039h4M1468 2039h4M1500 2039h40M1769 2039h56M1653 2043h8M1665 2043h28M1701 2043h8M1749 2043h8M1392 2047h12M1412 2047h4M1420 2047h4M1593 2047h4M1605 2047h8M1641 2047h4M1653 2047h112M1540 2051h57M1605 2051h8M1641 2051h4M1653 2051h8M1665 2051h28M1701 2051h48M1757 2051h8M1653 2055h56M1789 2055h36M1428 2059h4M1544 2059h37M1589 2059h8M1605 2059h8M1641 2059h4M1821 2059h4M1380 2063h12M1404 2063h8M1416 2063h4M1428 2063h4M1456 2063h4M1468 2063h4M1500 2063h44M1581 2063h8M1593 2063h4M1605 2063h8M1641 2063h4M1661 2063h4M1693 2063h8M1789 2063h32M1380 2067h44M1460 2067h8M1472 2067h16M1492 2067h44M1540 2067h4M1581 2067h8M1593 2067h4M1605 2067h8M1641 2067h4M1769 2067h52M1472 2071h16M1492 2071h8M1536 2071h4M1653 2071h56M1789 2071h36M1380 2075h12M1404 2075h8M1416 2075h4M1456 2075h16M1536 2075h4M1593 2075h4M1605 2075h8M1641 2075h4M1769 2079h4M1777 2079h4M1825 2079h37M1380 2083h12M1404 2083h8M1416 2083h4M1424 2083h36M1468 2083h4M1488 2083h4M1536 2083h4M1653 2083h56M1773 2083h4M1781 2083h44M1661 2087h4M1693 2087h8M1789 2087h36M1821 2091h4M1356 2095h4M1368 2095h4M1821 2095h4M1821 2099h4M1765 2103h4M1292 2107h48M1356 2111h4M1368 2111h4M1749 2111h8M1765 2111h4M1428 2115h4M1765 2115h4M1653 2119h56M1765 2119h4M1653 2123h8M1665 2123h28M1701 2123h8M1749 2123h8M1765 2123h4M1825 2123h37M1765 2127h4M1825 2127h37M1749 2131h8M1380 2135h12M1404 2135h8M1416 2135h4M1661 2135h4M1693 2135h8M1765 2135h4M1749 2139h8M1765 2139h4M1821 2139h4M1653 2143h56M1765 2143h4M1821 2143h41M1653 2147h8M1665 2147h28M1701 2147h8M1765 2147h4M1765 2151h4M1825 2151h37M1428 2155h4M1765 2155h4M1765 2159h4M1653 2163h8M1665 2163h28M1701 2163h8M1769 2163h4M1777 2163h4M1821 2163h4M1765 2167h4M1825 2167h37M1765 2171h4M1765 2175h4M1661 2179h4M1693 2179h8M1765 2179h4M1821 2179h4M1765 2183h4M1765 2187h4M1765 2191h4M1356 2195h4M1368 2195h4M1765 2195h4M1765 2199h4M1661 2203h4M1693 2203h8M1765 2203h4M1765 2207h4M1765 2211h4M1765 2215h4M1765 2219h4M1765 2223h4M1765 2227h4M1456 2231h16M1825 2231h37"/>
<path stroke="#e7eaf1" stroke-width="5" d="M1765 2235.5h4"/>
<path stroke="#d896a0" stroke-width="4" d="M1380 1691h12M1404 1691h8M1416 1691h4M1749 1695h8M1773 1695h4M1781 1695h8M1540 1707h4M1581 1707h8M1709 1707h40M1757 1707h8M1593 1711h4M1605 1711h8M1641 1711h4M1769 1711h4M1777 1711h4M1653 1715h8M1665 1715h28M1701 1715h8M1773 1715h4M1781 1715h8M1593 1723h4M1605 1723h8M1641 1723h4M1653 1723h8M1665 1723h28M1701 1723h8M1749 1723h8M1773 1723h4M1781 1723h8M1749 1731h8M1789 1735h32M1661 1739h4M1693 1739h8M1540 1763h4M1581 1763h8M1544 1767h37M1589 1767h4M1597 1767h8M1613 1767h28M1645 1767h8M1540 1775h4M1581 1775h8M1593 1783h4M1605 1783h8M1641 1783h4M1825 1783h37M1540 1791h4M1581 1791h8M1597 1827h8M1613 1827h28M1645 1827h8M1544 1847h37M1589 1847h4M1472 1983h28M1340 2019h40M1593 2035h4M1605 2035h8M1641 2035h4M1597 2039h8M1613 2039h28M1645 2039h8M1292 2059h4M1300 2059h12M1316 2059h24M1340 2063h16M1360 2063h8M1372 2063h8M1340 2067h16M1360 2067h8M1372 2067h8M1653 2095h8M1665 2095h28M1701 2095h8M1833 2107h4M1857 2107h5M1825 2111h8M1837 2111h20M1392 2115h12M1412 2115h4M1420 2115h4M1825 2115h8M1837 2115h20M1392 2123h12M1412 2123h4M1420 2123h4M1380 2127h12M1404 2127h8M1416 2127h4M1428 2127h4M1472 2127h16M1492 2127h8M1424 2131h4M1432 2131h24M1296 2139h4M1312 2139h4M1340 2143h16M1360 2143h8M1372 2143h8M1392 2143h12M1412 2143h4M1420 2143h4M1296 2147h4M1312 2147h4M1472 2147h16M1492 2147h8M1392 2155h12M1412 2155h4M1420 2155h4M1456 2159h4M1468 2159h4M1380 2163h12M1404 2163h8M1416 2163h4M1460 2163h8M1500 2179h36M1500 2183h36M1825 2211h37M1340 2215h16M1360 2215h8M1372 2215h8"/>
<path stroke="#d07c88" stroke-width="4" d="M1392 1691h12M1412 1691h4M1420 1691h4M1540 1695h4M1581 1695h8M1653 1699h8M1665 1699h28M1701 1699h8M1773 1699h4M1781 1699h8M1597 1707h8M1613 1707h28M1645 1707h8M1749 1711h8M1709 1715h40M1757 1715h8M1428 1719h4M1769 1719h4M1777 1719h4M1597 1731h8M1613 1731h28M1645 1731h8M1769 1739h4M1777 1739h4M1597 1743h8M1613 1743h28M1645 1743h8M1540 1751h4M1581 1751h8M1593 1755h4M1605 1755h8M1641 1755h4M1593 1779h4M1605 1779h8M1641 1779h4M1544 1783h37M1589 1783h4M1544 1787h37M1589 1787h4M1544 1791h37M1589 1791h4M1597 1791h8M1613 1791h28M1645 1791h8M1544 1795h37M1589 1795h4M1597 2031h8M1613 2031h28M1645 2031h8M1597 2035h8M1613 2035h28M1645 2035h8M1709 2091h40M1757 2091h8M1709 2095h40M1757 2095h8M1825 2107h8M1837 2107h20M1296 2119h4M1312 2119h4M1292 2143h4M1300 2143h12M1316 2143h24M1296 2155h4M1312 2155h4M1392 2163h12M1412 2163h4M1420 2163h4M1296 2167h4M1312 2167h4M1380 2167h12M1404 2167h8M1416 2167h4M1296 2227h4M1312 2227h4M1500 2231h36"/>
<path stroke="#e8cbd1" stroke-width="4" d="M1424 1691h4M1432 1691h24M1536 1691h4M1821 1695h4M1500 1699h36M1821 1699h4M1536 1703h4M1821 1703h4M1472 1707h28M1769 1707h4M1777 1707h4M1500 1711h36M1789 1711h32M1428 1715h4M1500 1715h36M1789 1715h32M1536 1719h4M1821 1719h4M1500 1723h36M1424 1727h4M1432 1727h24M1821 1727h4M1500 1731h36M1821 1731h4M1380 1735h12M1404 1735h8M1416 1735h4M1472 1735h28M1472 1739h16M1492 1739h8M1536 1739h4M1821 1739h4M1380 1743h12M1404 1743h8M1416 1743h4M1773 1743h4M1781 1743h8M1789 1747h32M1472 1751h64M1769 1751h4M1777 1751h4M1789 1751h32M1769 1755h4M1777 1755h4M1769 1759h4M1777 1759h4M1789 1759h36M1593 1763h4M1605 1763h8M1641 1763h4M1653 1763h8M1665 1763h28M1701 1763h8M1340 1767h40M1709 1767h40M1757 1767h8M1773 1767h4M1781 1767h8M1653 1775h8M1665 1775h28M1701 1775h48M1757 1775h8M1773 1775h4M1781 1775h40M1661 1779h4M1693 1779h8M1789 1779h32M1661 1783h4M1693 1783h8M1749 1783h8M1769 1783h20M1340 1787h40M1653 1787h8M1665 1787h28M1701 1787h8M1749 1787h8M1773 1787h4M1781 1787h8M1653 1791h8M1665 1791h28M1701 1791h8M1749 1791h8M1773 1791h4M1781 1791h8M1749 1795h8M1773 1795h4M1781 1795h8M1340 1799h40M1653 1799h8M1665 1799h28M1701 1799h48M1757 1799h8M1773 1799h4M1781 1799h8M1653 1803h8M1665 1803h28M1701 1803h8M1749 1803h8M1773 1803h4M1781 1803h8M1456 1807h16M1500 1807h40M1825 1807h37M1540 1811h4M1581 1811h8M1540 1823h4M1581 1823h8M1340 1827h16M1360 1827h8M1372 1827h8M1544 1827h37M1589 1827h4M1544 1831h37M1589 1831h8M1605 1831h8M1641 1831h4M1544 1835h37M1589 1835h8M1605 1835h8M1641 1835h4M1544 1839h37M1589 1839h4M1544 1843h37M1589 1843h8M1605 1843h8M1641 1843h4M1472 1847h28M1392 1859h12M1412 1859h4M1420 1859h4M1472 1883h28M1500 1895h40M1593 1895h60M1424 1899h32M1500 1907h40M1500 1911h40M1424 1915h32M1340 1951h40M1593 1951h60M1296 1967h4M1312 1967h4M1380 1975h44M1292 1979h4M1300 1979h12M1316 1979h24M1424 1979h32M1356 1991h4M1368 1991h4M1296 1995h4M1312 1995h4M1460 1995h8M1356 1999h4M1368 1999h4M1472 2011h28M1428 2023h4M1456 2023h16M1292 2027h88M1296 2043h4M1312 2043h4M1296 2047h4M1312 2047h4M1296 2051h4M1312 2051h4M1424 2055h32M1472 2063h16M1492 2063h8M1340 2071h16M1360 2071h8M1372 2071h8M1340 2075h16M1360 2075h8M1372 2075h8M1356 2079h4M1368 2079h4M1296 2087h4M1312 2087h4M1825 2095h37M1292 2099h48M1653 2103h8M1665 2103h28M1701 2103h8M1661 2107h4M1693 2107h8M1488 2115h4M1356 2119h4M1368 2119h4M1428 2119h4M1456 2119h4M1468 2119h20M1492 2119h8M1356 2123h4M1368 2123h4M1428 2123h4M1488 2123h4M1356 2127h4M1368 2127h4M1380 2131h12M1404 2131h8M1416 2131h4M1488 2131h4M1340 2135h16M1360 2135h8M1372 2135h8M1424 2135h4M1432 2135h28M1468 2135h20M1492 2135h8M1356 2139h4M1368 2139h4M1456 2139h4M1468 2139h4M1488 2139h4M1424 2143h4M1432 2143h28M1468 2143h4M1340 2147h16M1360 2147h8M1372 2147h8M1392 2147h12M1412 2147h4M1420 2147h4M1456 2147h4M1468 2147h4M1340 2151h16M1360 2151h8M1372 2151h8M1460 2151h8M1356 2155h4M1368 2155h4M1488 2155h4M1340 2159h16M1360 2159h8M1372 2159h8M1424 2159h4M1432 2159h24M1472 2159h16M1492 2159h8M1340 2163h16M1360 2163h8M1372 2163h8M1356 2167h4M1368 2167h4M1428 2167h4M1488 2167h4M1456 2171h16M1356 2175h4M1368 2175h4M1500 2175h36M1356 2183h4M1368 2183h4M1428 2183h4M1356 2187h4M1368 2187h4M1472 2187h28M1825 2187h37M1356 2191h4M1368 2191h4M1340 2203h16M1360 2203h8M1372 2203h8M1456 2203h16M1340 2207h16M1360 2207h8M1372 2207h8M1472 2207h28M1356 2219h4M1368 2219h4M1356 2227h4M1368 2227h4"/>
<path stroke="#e8cbd1" stroke-width="5" d="M1356 2235.5h4M1368 2235.5h4"/>
<path stroke="#ecd8dd" stroke-width="4" d="M1428 1691h4M1472 1691h28M1500 1695h36M1380 1699h12M1404 1699h8M1416 1699h4M1424 1699h4M1432 1699h24M1536 1699h4M1472 1703h28M1500 1707h36M1661 1707h4M1693 1707h8M1821 1707h4M1424 1711h4M1432 1711h24M1536 1711h4M1821 1711h4M1356 1715h4M1368 1715h4M1472 1715h16M1492 1715h8M1536 1715h4M1472 1719h28M1825 1719h37M1392 1723h12M1412 1723h4M1420 1723h4M1472 1723h28M1536 1723h4M1821 1723h4M1428 1727h4M1472 1731h16M1492 1731h8M1536 1731h4M1424 1735h32M1825 1735h37M1424 1739h32M1488 1739h4M1825 1739h8M1837 1739h20M1392 1743h12M1412 1743h4M1420 1743h4M1769 1743h4M1777 1743h4M1789 1743h36M1380 1747h44M1821 1747h4M1424 1751h32M1821 1751h41M1789 1755h32M1661 1763h4M1693 1763h8M1749 1763h8M1789 1763h36M1769 1767h4M1777 1767h4M1380 1771h44M1593 1771h4M1605 1771h8M1641 1771h4M1709 1771h40M1757 1771h8M1661 1775h4M1693 1775h8M1749 1775h8M1769 1775h4M1777 1775h4M1821 1775h4M1472 1779h28M1821 1779h4M1428 1783h4M1789 1783h36M1661 1787h4M1693 1787h8M1769 1787h4M1777 1787h4M1789 1787h36M1661 1791h4M1693 1791h8M1769 1791h4M1777 1791h4M1789 1791h32M1653 1795h8M1665 1795h28M1701 1795h8M1769 1795h4M1777 1795h4M1789 1795h32M1380 1799h44M1661 1799h4M1693 1799h8M1749 1799h8M1769 1799h4M1777 1799h4M1789 1799h44M1837 1799h20M1661 1803h4M1693 1803h8M1769 1803h4M1777 1803h4M1789 1803h36M1544 1807h37M1589 1807h8M1605 1807h8M1641 1807h4M1456 1811h16M1825 1811h37M1380 1815h44M1544 1815h37M1589 1815h8M1605 1815h8M1641 1815h4M1825 1815h37M1340 1823h16M1360 1823h8M1372 1823h8M1460 1823h8M1356 1827h4M1368 1827h4M1380 1827h76M1540 1827h4M1581 1827h8M1340 1831h16M1360 1831h8M1372 1831h8M1540 1831h4M1581 1831h8M1380 1835h44M1540 1835h4M1581 1835h8M1540 1839h4M1581 1839h8M1456 1843h16M1540 1843h4M1581 1843h8M1825 1843h37M1380 1847h44M1456 1851h16M1380 1859h12M1404 1859h8M1416 1859h4M1340 1871h84M1597 1871h8M1613 1871h28M1645 1871h8M1500 1875h40M1540 1883h53M1597 1883h8M1613 1883h28M1645 1883h8M1392 1887h12M1412 1887h4M1420 1887h4M1597 1891h8M1613 1891h28M1645 1891h8M1424 1895h32M1593 1899h60M1340 1903h40M1456 1903h16M1593 1903h60M1593 1907h60M1380 1911h44M1653 1911h8M1665 1911h28M1701 1911h8M1597 1915h8M1613 1915h28M1645 1915h8M1456 1919h16M1456 1923h44M1593 1923h60M1456 1927h16M1597 1927h8M1613 1927h28M1645 1927h8M1593 1935h60M1597 1947h8M1613 1947h28M1645 1947h8M1544 1955h37M1589 1955h4M1597 1955h8M1613 1955h28M1645 1955h8M1500 1959h40M1292 1963h48M1540 1963h53M1456 1967h16M1540 1967h53M1769 1967h4M1777 1967h4M1825 1967h8M1837 1967h20M1292 1975h4M1300 1975h12M1316 1975h24M1296 1979h4M1312 1979h4M1593 1987h60M1456 1995h4M1468 1995h4M1500 1999h36M1292 2007h4M1300 2007h12M1316 2007h24M1292 2011h48M1500 2023h36M1292 2035h48M1292 2039h4M1300 2039h12M1316 2039h24M1424 2047h4M1432 2047h24M1460 2047h8M1825 2047h37M1340 2051h40M1825 2051h37M1380 2059h44M1709 2075h56M1340 2083h16M1360 2083h8M1372 2083h8M1356 2087h4M1368 2087h4M1292 2091h4M1300 2091h12M1316 2091h40M1360 2091h8M1372 2091h8M1292 2095h4M1300 2095h12M1316 2095h24M1340 2099h40M1428 2099h4M1833 2103h4M1857 2103h5M1340 2107h16M1360 2107h8M1372 2107h8M1292 2111h48M1292 2115h4M1300 2115h12M1316 2115h40M1360 2115h8M1372 2115h8M1488 2119h4M1500 2123h36M1500 2131h40M1356 2135h4M1368 2135h4M1428 2135h4M1488 2135h4M1380 2139h12M1404 2139h8M1416 2139h4M1428 2143h4M1356 2147h4M1368 2147h4M1424 2147h4M1432 2147h24M1356 2151h4M1368 2151h4M1424 2151h4M1432 2151h28M1468 2151h4M1356 2159h4M1368 2159h4M1392 2159h12M1412 2159h4M1420 2159h4M1428 2159h4M1488 2159h4M1356 2163h4M1368 2163h4M1472 2163h16M1492 2163h48M1500 2171h36M1536 2175h4M1456 2179h16M1536 2199h4M1356 2203h4M1368 2203h4M1472 2203h16M1492 2203h8M1356 2207h4M1368 2207h4M1380 2207h12M1404 2207h8M1416 2207h4M1380 2215h12M1404 2215h8M1416 2215h4M1456 2215h16M1500 2215h40M1340 2231h16M1360 2231h8M1372 2231h8M1424 2231h32M1472 2231h28"/>
<path stroke="#ecd8dd" stroke-width="5" d="M1500 2235.5h40"/>
<path stroke="#c1d0e3" stroke-width="4" d="M1456 1691h4M1468 1691h4M1456 1731h4M1468 1731h4M1472 1743h28M1653 1743h8M1665 1743h28M1701 1743h8M1825 1743h8M1837 1743h20M1460 1747h8M1488 1747h4M1709 1751h40M1757 1751h8M1380 1759h44M1488 1759h4M1825 1759h37M1292 1763h4M1300 1763h12M1316 1763h24M1380 1763h12M1404 1763h8M1416 1763h4M1456 1763h4M1468 1763h4M1488 1763h4M1428 1767h4M1536 1767h4M1456 1775h4M1468 1775h4M1536 1775h4M1460 1779h8M1460 1783h8M1500 1787h36M1456 1791h4M1468 1791h4M1536 1791h4M1456 1795h4M1468 1795h4M1428 1799h4M1500 1799h36M1500 1803h36M1292 1807h4M1300 1807h12M1316 1807h24M1292 1815h4M1300 1815h12M1316 1815h24M1296 1819h4M1312 1819h4M1292 1827h48M1292 1831h4M1300 1831h12M1316 1831h24M1292 1835h4M1300 1835h12M1316 1835h24M1296 1843h4M1312 1843h4M1472 1851h28M1472 1859h28M1292 1959h4M1300 1959h12M1316 1959h24M1380 1967h44M1825 1979h37M1456 1987h4M1468 1987h4M1380 1999h44M1540 1999h4M1581 1999h8M1653 1999h8M1665 1999h28M1701 1999h8M1653 2007h8M1665 2007h28M1701 2007h8M1540 2011h4M1581 2011h8M1544 2019h37M1589 2019h4M1540 2023h4M1581 2023h8M1593 2023h4M1605 2023h8M1641 2023h4M1428 2035h4M1540 2035h4M1581 2035h8M1653 2039h8M1665 2039h28M1701 2039h8M1540 2047h4M1581 2047h8M1380 2055h44M1428 2071h4M1544 2071h37M1589 2071h4M1544 2079h37M1589 2079h4M1597 2079h8M1613 2079h28M1645 2079h8M1597 2087h8M1613 2087h28M1645 2087h8M1424 2091h4M1432 2091h28M1468 2091h4M1472 2095h16M1492 2095h8M1536 2095h4M1472 2099h16M1492 2099h8M1428 2103h4M1773 2103h4M1781 2103h8M1428 2107h4M1472 2107h16M1492 2107h8M1773 2107h4M1781 2107h8M1424 2111h4M1432 2111h24M1540 2111h4M1581 2111h8M1773 2111h4M1781 2111h8M1544 2115h37M1589 2115h4M1769 2115h4M1777 2115h4M1773 2119h4M1781 2119h8M1773 2123h4M1781 2123h8M1773 2127h4M1781 2127h8M1773 2131h4M1781 2131h8M1825 2131h37M1709 2135h56M1769 2135h4M1777 2135h4M1789 2135h32M1653 2139h8M1665 2139h28M1701 2139h8M1773 2139h4M1781 2139h8M1769 2143h4M1777 2143h4M1709 2147h56M1789 2147h32M1769 2151h4M1777 2151h4M1661 2155h4M1693 2155h8M1769 2155h4M1777 2155h4M1769 2159h4M1777 2159h4M1789 2159h32M1540 2163h4M1581 2163h8M1597 2163h8M1613 2163h28M1645 2163h8M1709 2163h40M1757 2163h8M1661 2167h4M1693 2167h8M1544 2171h37M1589 2171h4M1661 2171h4M1693 2171h8M1821 2171h41M1424 2175h32M1821 2175h4M1544 2179h37M1589 2179h8M1605 2179h8M1641 2179h4M1380 2183h12M1404 2183h8M1416 2183h4M1544 2183h37M1589 2183h4M1821 2183h41M1424 2187h32M1540 2187h4M1581 2187h8M1749 2187h8M1821 2187h4M1821 2191h4M1540 2195h4M1581 2195h8M1661 2199h4M1693 2199h8M1749 2199h8M1789 2199h32M1825 2207h37M1392 2211h12M1412 2211h4M1420 2211h4M1661 2211h4M1693 2211h8M1749 2211h8M1749 2215h8M1773 2215h4M1781 2215h8M1392 2219h12M1412 2219h4M1420 2219h4M1661 2219h4M1693 2219h8M1789 2219h32M1661 2223h4M1693 2223h8M1821 2227h4"/>
<path stroke="#c1d0e3" stroke-width="5" d="M1653 2235.5h8M1665 2235.5h28M1701 2235.5h8M1789 2235.5h32"/>
<path stroke="#a8c0db" stroke-width="4" d="M1460 1691h8M1456 1703h4M1468 1703h4M1456 1711h4M1468 1711h4M1456 1715h4M1468 1715h4M1460 1731h8M1392 1751h12M1412 1751h4M1420 1751h4M1292 1755h4M1300 1755h12M1316 1755h24M1424 1755h32M1296 1767h4M1312 1767h4M1460 1767h8M1456 1771h4M1468 1771h4M1500 1771h36M1296 1783h4M1312 1783h4M1456 1787h4M1468 1787h4M1296 1803h4M1312 1803h4M1292 1867h4M1300 1867h12M1316 1867h24M1544 1999h37M1589 1999h4M1544 2003h37M1589 2003h4M1540 2007h4M1581 2007h8M1544 2011h37M1589 2011h4M1593 2015h4M1605 2015h8M1641 2015h4M1597 2023h8M1613 2023h28M1645 2023h8M1540 2043h4M1581 2043h8M1392 2051h12M1412 2051h4M1420 2051h4M1500 2055h40M1472 2059h16M1492 2059h8M1536 2059h4M1392 2071h12M1412 2071h4M1420 2071h4M1825 2071h37M1825 2075h37M1500 2079h40M1472 2087h16M1492 2087h8M1460 2091h8M1536 2091h4M1428 2095h4M1456 2095h4M1468 2095h4M1500 2095h36M1456 2099h4M1468 2099h4M1536 2099h4M1536 2107h4M1544 2107h37M1589 2107h4M1593 2115h4M1605 2115h8M1641 2115h4M1773 2115h4M1781 2115h8M1544 2119h37M1589 2119h8M1605 2119h8M1641 2119h4M1593 2127h4M1605 2127h8M1641 2127h4M1540 2131h4M1581 2131h8M1593 2131h4M1605 2131h8M1641 2131h4M1773 2147h4M1781 2147h8M1593 2151h4M1605 2151h8M1641 2151h4M1500 2155h36M1593 2155h4M1605 2155h8M1641 2155h4M1773 2159h4M1781 2159h8M1540 2167h4M1581 2167h8M1593 2167h4M1605 2167h8M1641 2167h4M1749 2167h8M1593 2171h4M1605 2171h8M1641 2171h4M1653 2171h8M1665 2171h28M1701 2171h8M1544 2175h37M1589 2175h8M1605 2175h8M1641 2175h4M1709 2175h40M1757 2175h8M1661 2183h4M1693 2183h8M1769 2183h4M1777 2183h4M1380 2187h12M1404 2187h8M1416 2187h4M1544 2187h37M1589 2187h4M1544 2191h37M1589 2191h4M1709 2191h40M1757 2191h8M1380 2195h12M1404 2195h8M1416 2195h4M1544 2195h37M1589 2195h4M1749 2195h8M1769 2195h4M1777 2195h4M1709 2199h40M1757 2199h8M1593 2203h4M1605 2203h8M1641 2203h4M1661 2207h4M1693 2207h8M1789 2207h32M1593 2211h4M1605 2211h8M1641 2211h4M1709 2211h40M1757 2211h8M1593 2215h4M1605 2215h8M1641 2215h4M1709 2215h40M1757 2215h8M1653 2219h8M1665 2219h28M1701 2219h8M1769 2219h4M1777 2219h4M1653 2223h8M1665 2223h28M1701 2223h8M1749 2223h8M1380 2227h12M1404 2227h8M1416 2227h4M1769 2227h4M1777 2227h4M1789 2227h32M1392 2231h12M1412 2231h4M1420 2231h4M1661 2231h4M1693 2231h8M1821 2231h4"/>
<path stroke="#e4bec5" stroke-width="4" d="M1500 1691h36M1821 1691h4M1380 1695h12M1404 1695h8M1416 1695h4M1661 1695h4M1693 1695h8M1769 1695h4M1777 1695h4M1789 1695h32M1392 1699h12M1412 1699h4M1420 1699h4M1500 1703h36M1789 1703h32M1749 1707h8M1789 1707h32M1392 1715h12M1412 1715h4M1420 1715h8M1432 1715h24M1769 1715h4M1777 1715h4M1500 1719h36M1789 1719h32M1661 1723h4M1693 1723h8M1789 1723h32M1789 1731h32M1340 1735h40M1536 1735h4M1500 1739h36M1789 1739h32M1536 1751h4M1773 1751h4M1781 1751h8M1773 1755h4M1781 1755h8M1773 1759h4M1781 1759h8M1709 1763h40M1757 1763h8M1769 1763h20M1540 1767h4M1581 1767h8M1544 1771h37M1589 1771h4M1597 1771h8M1613 1771h28M1645 1771h8M1653 1779h8M1665 1779h28M1701 1779h8M1749 1779h8M1769 1779h4M1777 1779h4M1653 1783h8M1665 1783h28M1701 1783h48M1757 1783h8M1709 1787h40M1757 1787h8M1709 1791h40M1757 1791h8M1709 1795h40M1757 1795h8M1709 1803h40M1757 1803h8M1597 1807h8M1613 1807h28M1645 1807h8M1544 1811h37M1589 1811h4M1597 1815h8M1613 1815h28M1645 1815h8M1540 1819h4M1581 1819h8M1593 1819h4M1605 1819h8M1641 1819h4M1593 1823h4M1605 1823h8M1641 1823h4M1593 1839h4M1605 1839h8M1641 1839h4M1825 1847h37M1825 1943h37M1292 1967h4M1300 1967h12M1316 1967h24M1296 1971h4M1312 1971h4M1456 1971h16M1424 1975h32M1456 1979h16M1296 1991h4M1312 1991h4M1340 1991h16M1360 1991h8M1372 1991h52M1292 1995h4M1300 1995h12M1316 1995h24M1424 1995h32M1340 1999h16M1360 1999h8M1372 1999h8M1472 1999h28M1296 2003h4M1312 2003h4M1500 2007h40M1424 2023h4M1432 2023h24M1536 2035h4M1292 2043h4M1300 2043h12M1316 2043h24M1292 2047h4M1300 2047h12M1316 2047h24M1292 2051h4M1300 2051h12M1316 2051h24M1296 2055h4M1312 2055h4M1356 2059h4M1368 2059h4M1488 2063h4M1296 2079h4M1312 2079h4M1340 2079h16M1360 2079h8M1372 2079h8M1340 2087h16M1360 2087h8M1372 2087h8M1825 2087h37M1661 2091h4M1693 2091h8M1661 2099h4M1693 2099h8M1833 2099h4M1857 2099h5M1749 2103h8M1825 2103h8M1837 2103h20M1749 2107h8M1456 2115h4M1468 2115h20M1492 2115h8M1340 2119h16M1360 2119h8M1372 2119h8M1424 2119h4M1432 2119h24M1340 2123h16M1360 2123h8M1372 2123h8M1424 2123h4M1432 2123h28M1468 2123h20M1492 2123h8M1340 2127h16M1360 2127h8M1372 2127h8M1356 2131h4M1368 2131h4M1456 2131h4M1468 2131h20M1492 2131h8M1460 2135h8M1340 2139h16M1360 2139h8M1372 2139h8M1392 2139h12M1412 2139h4M1420 2139h4M1472 2139h16M1492 2139h8M1460 2143h8M1460 2147h8M1296 2151h4M1312 2151h4M1340 2155h16M1360 2155h8M1372 2155h8M1472 2155h16M1492 2155h8M1428 2163h4M1340 2167h16M1360 2167h8M1372 2167h8M1424 2167h4M1432 2167h24M1472 2167h16M1492 2167h8M1356 2171h4M1368 2171h4M1340 2183h16M1360 2183h8M1372 2183h8M1424 2183h4M1432 2183h24M1536 2191h4M1356 2199h4M1368 2199h4M1536 2207h4M1356 2211h4M1368 2211h4M1340 2219h16M1360 2219h8M1372 2219h8M1356 2223h4M1368 2223h4M1340 2227h16M1360 2227h8M1372 2227h8M1472 2227h28M1536 2227h4M1292 2231h4M1300 2231h12M1316 2231h24"/>
<path stroke="#e4bec5" stroke-width="5" d="M1456 2235.5h16"/>
<path stroke="#b92e3f" stroke-width="4" d="M1540 1691h4M1581 1691h8M1540 1699h4M1581 1699h8M1597 1699h8M1613 1699h28M1645 1699h8M1392 1719h12M1412 1719h4M1420 1719h4M1593 1719h4M1605 1719h8M1641 1719h4M1544 1723h37M1589 1723h4M1709 1727h40M1757 1727h8M1593 1735h4M1605 1735h8M1641 1735h4M1749 1735h8M1296 2195h4M1312 2195h4M1296 2203h4M1312 2203h4M1292 2207h4M1300 2207h12M1316 2207h24"/>
<path stroke="#b2182b" stroke-width="4" d="M1544 1691h37M1589 1691h4M1597 1691h8M1613 1691h28M1645 1691h8M1544 1699h37M1589 1699h4M1544 1711h37M1589 1711h4M1544 1719h37M1589 1719h4M1597 1719h8M1613 1719h28M1645 1719h8M1544 1727h37M1589 1727h4M1597 1727h8M1613 1727h28M1645 1727h8M1540 1735h53M1597 1735h8M1613 1735h28M1645 1735h8M1709 1735h40M1757 1735h8M1292 2163h4M1300 2163h12M1316 2163h24M1292 2171h4M1300 2171h12M1316 2171h24M1292 2175h4M1300 2175h12M1316 2175h24M1292 2179h4M1300 2179h12M1316 2179h24M1292 2195h4M1300 2195h12M1316 2195h24M1292 2199h4M1300 2199h12M1316 2199h24M1292 2203h4M1300 2203h12M1316 2203h24M1292 2215h4M1300 2215h12M1316 2215h24M1292 2223h4M1300 2223h12M1316 2223h24"/>
<path stroke="#b2182b" stroke-width="5" d="M1292 2235.5h4M1300 2235.5h12M1316 2235.5h24"/>
<path stroke="#c14857" stroke-width="4" d="M1593 1691h4M1605 1691h8M1641 1691h4M1709 1691h40M1757 1691h8M1709 1703h40M1757 1703h8M1597 1715h8M1613 1715h28M1645 1715h8M1392 1727h12M1412 1727h4M1420 1727h4M1653 1727h8M1665 1727h28M1701 1727h8M1653 1735h8M1665 1735h28M1701 1735h8M1773 1735h4M1781 1735h8M1709 1739h40M1757 1739h8M1544 1747h37M1589 1747h4M1597 1759h8M1613 1759h28M1645 1759h8M1544 1779h37M1589 1779h4M1544 1803h37M1589 1803h4M1296 2131h4M1312 2131h4M1292 2155h4M1300 2155h12M1316 2155h24M1292 2167h4M1300 2167h12M1316 2167h24M1296 2171h4M1312 2171h4"/>
<path stroke="#c14857" stroke-width="5" d="M1296 2235.5h4M1312 2235.5h4"/>
<path stroke="#c86270" stroke-width="4" d="M1653 1691h8M1665 1691h28M1701 1691h8M1593 1699h4M1605 1699h8M1641 1699h4M1709 1699h40M1757 1699h8M1540 1703h4M1581 1703h8M1540 1715h4M1581 1715h8M1749 1719h8M1709 1723h40M1757 1723h8M1380 1727h12M1404 1727h8M1416 1727h4M1540 1731h4M1581 1731h8M1661 1735h4M1693 1735h8M1544 1739h37M1589 1739h4M1773 1739h4M1781 1739h8M1544 1743h37M1589 1743h4M1597 1747h8M1613 1747h28M1645 1747h8M1597 1751h8M1613 1751h28M1645 1751h8M1540 1755h4M1581 1755h8M1544 1759h37M1589 1759h4M1597 1779h8M1613 1779h28M1645 1779h8M1597 1787h8M1613 1787h28M1645 1787h8M1544 2091h37M1589 2091h4M1597 2091h8M1613 2091h28M1645 2091h8M1544 2095h37M1589 2095h4M1292 2135h4M1300 2135h12M1316 2135h24M1292 2139h4M1300 2139h12M1316 2139h24M1292 2147h4M1300 2147h12M1316 2147h24M1292 2159h4M1300 2159h12M1316 2159h24M1392 2167h12M1412 2167h4M1420 2167h4M1292 2183h4M1300 2183h12M1316 2183h24M1296 2187h4M1312 2187h4"/>
<path stroke="#d48994" stroke-width="4" d="M1661 1691h4M1693 1691h8M1769 1691h4M1777 1691h4M1825 1691h37M1749 1699h8M1392 1703h12M1412 1703h4M1420 1703h4M1593 1703h4M1605 1703h8M1641 1703h4M1653 1703h8M1665 1703h28M1701 1703h8M1773 1703h4M1781 1703h8M1392 1711h12M1412 1711h4M1420 1711h4M1661 1711h4M1693 1711h8M1593 1715h4M1605 1715h8M1641 1715h4M1392 1731h12M1412 1731h4M1420 1731h4M1653 1731h8M1665 1731h28M1701 1731h8M1773 1731h4M1781 1731h8M1392 1739h12M1412 1739h4M1420 1739h4M1540 1739h4M1581 1739h8M1540 1743h4M1581 1743h8M1593 1747h4M1605 1747h8M1641 1747h4M1593 1751h4M1605 1751h8M1641 1751h4M1540 1759h4M1581 1759h8M1597 1775h8M1613 1775h28M1645 1775h8M1593 1787h4M1605 1787h8M1641 1787h4M1597 1795h8M1613 1795h28M1645 1795h8M1544 1799h37M1589 1799h8M1605 1799h8M1641 1799h4M1593 1803h4M1605 1803h8M1641 1803h4M1593 1847h4M1605 1847h8M1641 1847h4M1296 2063h4M1312 2063h4M1292 2067h4M1300 2067h12M1316 2067h24M1292 2071h4M1300 2071h12M1316 2071h24M1292 2075h4M1300 2075h12M1316 2075h24M1292 2083h4M1300 2083h12M1316 2083h24M1540 2091h4M1581 2091h8M1593 2091h4M1605 2091h8M1641 2091h4M1540 2095h4M1581 2095h8M1593 2095h4M1605 2095h8M1641 2095h4M1709 2099h40M1757 2099h8M1296 2127h4M1312 2127h4M1392 2127h12M1412 2127h4M1420 2127h8M1432 2127h24M1296 2135h4M1312 2135h4M1292 2151h4M1300 2151h12M1316 2151h24M1392 2151h12M1412 2151h4M1420 2151h4M1296 2159h4M1312 2159h4M1460 2159h8M1340 2179h16M1360 2179h8M1372 2179h8M1500 2195h36M1536 2203h4M1536 2231h4"/>
<path stroke="#cc6f7c" stroke-width="4" d="M1749 1691h8M1773 1691h4M1781 1691h8M1597 1695h8M1613 1695h28M1645 1695h8M1709 1695h40M1757 1695h8M1749 1703h8M1653 1711h8M1665 1711h28M1701 1711h8M1773 1711h4M1781 1711h8M1424 1719h4M1432 1719h24M1661 1719h4M1693 1719h8M1540 1723h4M1581 1723h8M1597 1723h8M1613 1723h28M1645 1723h8M1661 1727h4M1693 1727h8M1769 1727h4M1777 1727h4M1709 1731h40M1757 1731h8M1769 1735h4M1777 1735h4M1593 1739h4M1605 1739h8M1641 1739h4M1653 1739h8M1665 1739h28M1701 1739h8M1749 1739h8M1540 1747h4M1581 1747h8M1593 1759h4M1605 1759h8M1641 1759h4M1544 1763h37M1589 1763h4M1544 1775h37M1589 1775h4M1540 1779h4M1581 1779h8M1597 1783h8M1613 1783h28M1645 1783h8M1597 1799h8M1613 1799h28M1645 1799h8M1540 1803h4M1581 1803h8M1597 1803h8M1613 1803h28M1645 1803h8M1597 1847h8M1613 1847h28M1645 1847h8M1292 2063h4M1300 2063h12M1316 2063h24M1597 2095h8M1613 2095h28M1645 2095h8M1380 2111h12M1404 2111h8M1416 2111h4M1296 2123h4M1312 2123h4M1296 2191h4M1312 2191h4M1500 2203h36M1296 2207h4M1312 2207h4M1296 2211h4M1312 2211h4M1296 2219h4M1312 2219h4"/>
<path stroke="#f0e5e9" stroke-width="4" d="M1765 1691h4M1424 1695h4M1432 1695h24M1472 1695h16M1492 1695h8M1536 1695h4M1765 1695h4M1428 1699h4M1472 1699h28M1765 1699h4M1825 1699h37M1424 1703h32M1765 1703h4M1392 1707h12M1412 1707h4M1420 1707h4M1536 1707h4M1765 1707h4M1428 1711h4M1765 1711h4M1340 1715h16M1360 1715h8M1372 1715h20M1404 1715h8M1416 1715h4M1488 1715h4M1765 1715h4M1821 1715h4M1765 1719h4M1765 1723h4M1825 1723h8M1837 1723h20M1765 1727h4M1424 1731h32M1488 1731h4M1765 1731h4M1765 1735h4M1765 1739h4M1833 1739h4M1857 1739h5M1340 1743h40M1765 1743h4M1340 1747h40M1765 1747h4M1765 1751h4M1765 1755h4M1821 1755h41M1340 1759h40M1765 1759h4M1340 1763h40M1749 1767h8M1789 1767h36M1540 1771h4M1581 1771h8M1653 1771h8M1665 1771h28M1701 1771h8M1749 1771h8M1773 1771h4M1781 1771h40M1340 1779h40M1765 1779h4M1825 1779h8M1837 1779h20M1340 1783h40M1424 1783h4M1432 1783h24M1536 1783h4M1765 1783h4M1825 1787h8M1837 1787h20M1340 1791h40M1472 1791h28M1821 1791h4M1661 1795h4M1693 1795h8M1821 1795h4M1833 1799h4M1857 1799h5M1765 1803h4M1540 1807h4M1581 1807h8M1709 1807h56M1380 1811h76M1472 1811h68M1653 1811h112M1540 1815h4M1581 1815h8M1769 1819h20M1356 1823h4M1368 1823h4M1456 1823h4M1468 1823h4M1789 1827h36M1356 1831h4M1368 1831h4M1653 1831h56M1472 1835h28M1380 1839h44M1789 1839h36M1709 1843h40M1757 1843h8M1296 1847h4M1312 1847h4M1340 1847h40M1424 1847h32M1500 1847h40M1653 1847h8M1665 1847h28M1701 1847h64M1769 1847h56M1380 1851h44M1544 1851h37M1589 1851h64M1544 1855h37M1589 1855h4M1825 1855h8M1837 1855h20M1769 1859h20M1593 1863h60M1424 1867h32M1456 1871h16M1544 1871h37M1589 1871h8M1605 1871h8M1641 1871h4M1789 1871h36M1380 1875h44M1593 1875h60M1709 1875h56M1789 1875h44M1837 1875h20M1456 1879h16M1597 1879h8M1613 1879h28M1645 1879h8M1380 1883h44M1593 1883h4M1605 1883h8M1641 1883h4M1653 1883h112M1380 1887h12M1404 1887h8M1416 1887h4M1593 1887h60M1540 1891h57M1605 1891h8M1641 1891h4M1709 1891h56M1380 1895h44M1540 1895h53M1653 1895h8M1665 1895h28M1701 1895h64M1825 1895h8M1837 1895h20M1392 1899h12M1412 1899h4M1420 1899h4M1472 1899h28M1540 1899h53M1653 1899h96M1757 1899h8M1773 1899h4M1781 1899h8M1392 1903h12M1412 1903h4M1420 1903h4M1500 1903h93M1709 1903h40M1757 1903h8M1825 1903h37M1789 1907h36M1424 1911h32M1472 1911h28M1540 1911h113M1661 1911h4M1693 1911h8M1709 1911h56M1773 1911h4M1781 1911h44M1544 1915h37M1589 1915h8M1605 1915h8M1641 1915h4M1789 1915h32M1540 1919h121M1665 1919h28M1701 1919h64M1825 1919h37M1380 1923h44M1653 1923h112M1825 1923h37M1296 1927h4M1312 1927h4M1500 1927h36M1540 1927h57M1605 1927h8M1641 1927h4M1769 1927h56M1456 1931h16M1593 1931h60M1340 1935h16M1360 1935h8M1372 1935h56M1432 1935h24M1472 1935h16M1492 1935h8M1653 1935h112M1789 1935h32M1825 1935h8M1837 1935h20M1540 1939h113M1593 1943h60M1593 1947h4M1605 1947h8M1641 1947h4M1789 1947h36M1424 1951h64M1492 1951h101M1709 1951h56M1769 1951h52M1540 1955h4M1581 1955h8M1593 1955h4M1605 1955h8M1641 1955h4M1709 1955h56M1769 1955h20M1825 1955h37M1544 1959h37M1589 1959h4M1597 1959h8M1613 1959h28M1645 1959h8M1340 1963h40M1424 1963h32M1472 1963h28M1340 1967h40M1424 1967h32M1472 1967h16M1492 1967h8M1773 1967h4M1781 1967h8M1833 1967h4M1857 1967h5M1340 1971h40M1472 1971h68M1825 1971h8M1837 1971h20M1296 1975h4M1312 1975h4M1472 1975h28M1340 1979h16M1360 1979h8M1372 1979h8M1472 1979h16M1492 1979h8M1540 1979h53M1769 1979h4M1777 1979h4M1424 1983h32M1500 1983h36M1540 1983h53M1340 1987h16M1360 1987h8M1372 1987h8M1500 1987h93M1769 1987h4M1777 1987h4M1825 1987h37M1456 1991h16M1540 1991h53M1825 1991h37M1292 1999h4M1300 1999h12M1316 1999h24M1424 1999h32M1536 1999h4M1769 1999h20M1340 2003h40M1456 2003h32M1492 2003h8M1296 2007h4M1312 2007h4M1340 2007h40M1460 2011h8M1292 2015h4M1300 2015h12M1316 2015h64M1456 2015h16M1456 2019h16M1500 2019h40M1825 2019h37M1292 2023h88M1472 2023h28M1536 2023h4M1424 2027h48M1769 2027h20M1825 2027h37M1292 2031h88M1424 2031h4M1432 2031h40M1500 2031h36M1340 2035h40M1472 2035h28M1825 2035h37M1296 2039h4M1312 2039h4M1424 2043h32M1472 2043h28M1825 2043h37M1340 2047h40M1428 2047h4M1456 2047h4M1468 2047h4M1500 2047h40M1424 2051h32M1472 2051h28M1821 2051h4M1456 2055h16M1825 2055h37M1456 2059h4M1468 2059h4M1661 2059h4M1693 2059h8M1709 2059h56M1709 2067h56M1356 2071h4M1368 2071h4M1356 2075h4M1368 2075h4M1653 2075h56M1661 2079h4M1693 2079h8M1709 2083h56M1424 2087h36M1468 2087h4M1536 2087h4M1296 2091h4M1312 2091h4M1356 2091h4M1368 2091h4M1296 2095h4M1312 2095h4M1424 2099h4M1432 2099h24M1292 2103h64M1360 2103h8M1372 2103h8M1661 2103h4M1693 2103h8M1356 2107h4M1368 2107h4M1456 2111h4M1468 2111h4M1296 2115h4M1312 2115h4M1356 2115h4M1368 2115h4M1749 2115h8M1500 2119h36M1536 2123h4M1500 2127h40M1392 2135h12M1412 2135h4M1420 2135h4M1500 2135h40M1500 2139h40M1472 2143h16M1492 2143h8M1380 2147h12M1404 2147h8M1416 2147h4M1428 2147h4M1500 2147h40M1428 2151h4M1460 2155h8M1825 2155h37M1500 2159h36M1488 2163h4M1825 2163h37M1460 2167h8M1500 2167h36M1472 2171h28M1536 2171h4M1460 2175h8M1472 2175h16M1492 2175h8M1424 2179h32M1472 2179h28M1825 2179h37M1456 2183h32M1492 2183h8M1340 2195h16M1360 2195h8M1372 2195h8M1424 2195h4M1432 2195h40M1456 2199h44M1380 2203h12M1404 2203h8M1416 2203h4M1424 2203h4M1432 2203h24M1488 2203h4M1392 2207h12M1412 2207h4M1420 2207h4M1460 2211h8M1500 2211h40M1392 2215h12M1412 2215h4M1420 2215h36M1472 2215h28M1424 2219h4M1432 2219h24M1472 2219h68M1460 2223h8M1472 2223h64M1460 2227h8"/>
<path stroke="#f0e5e9" stroke-width="5" d="M1472 2235.5h28"/>
<path stroke="#e0b1b8" stroke-width="4" d="M1789 1691h32M1789 1699h32M1593 1707h4M1605 1707h8M1641 1707h4M1653 1707h8M1665 1707h28M1701 1707h8M1773 1707h4M1781 1707h8M1488 1711h4M1661 1715h4M1693 1715h8M1769 1723h4M1777 1723h4M1789 1727h32M1825 1727h37M1380 1731h12M1404 1731h8M1416 1731h4M1661 1731h4M1693 1731h8M1392 1735h12M1412 1735h4M1420 1735h4M1500 1735h36M1821 1735h4M1769 1747h4M1777 1747h4M1593 1767h4M1605 1767h8M1641 1767h4M1593 1775h4M1605 1775h8M1641 1775h4M1825 1775h37M1709 1779h40M1757 1779h8M1773 1779h4M1781 1779h8M1593 1795h4M1605 1795h8M1641 1795h4M1825 1795h37M1540 1799h4M1581 1799h8M1825 1803h37M1593 1811h4M1605 1811h8M1641 1811h4M1544 1819h37M1589 1819h4M1544 1823h37M1589 1823h4M1597 1823h8M1613 1823h28M1645 1823h8M1593 1827h4M1605 1827h8M1641 1827h4M1597 1831h8M1613 1831h28M1645 1831h8M1597 1835h8M1613 1835h28M1645 1835h8M1597 1843h8M1613 1843h28M1645 1843h8M1500 1887h40M1380 1955h44M1500 1967h40M1292 1971h4M1300 1971h12M1316 1971h24M1296 1983h4M1312 1983h4M1292 1987h48M1292 1991h4M1300 1991h12M1316 1991h24M1292 2003h4M1300 2003h12M1316 2003h24M1456 2035h16M1500 2035h36M1593 2039h4M1605 2039h8M1641 2039h4M1456 2051h16M1292 2055h4M1300 2055h12M1316 2055h24M1296 2059h4M1312 2059h4M1340 2059h16M1360 2059h8M1372 2059h8M1356 2063h4M1368 2063h4M1292 2087h4M1300 2087h12M1316 2087h24M1661 2095h4M1693 2095h8M1653 2099h8M1665 2099h28M1701 2099h8M1653 2107h8M1665 2107h28M1701 2107h8M1833 2111h4M1857 2111h5M1380 2115h12M1404 2115h8M1416 2115h4M1460 2115h8M1500 2115h40M1833 2115h4M1857 2115h5M1380 2119h12M1404 2119h8M1416 2119h4M1460 2119h8M1380 2123h12M1404 2123h8M1416 2123h4M1460 2123h8M1456 2127h4M1468 2127h4M1340 2131h16M1360 2131h8M1372 2131h8M1392 2131h12M1412 2131h4M1420 2131h4M1460 2131h8M1428 2139h4M1460 2139h8M1380 2143h12M1404 2143h8M1416 2143h4M1500 2143h40M1380 2155h12M1404 2155h8M1416 2155h4M1825 2159h37M1424 2163h4M1432 2163h24M1340 2171h16M1360 2171h8M1372 2171h8M1340 2175h16M1360 2175h8M1372 2175h8M1340 2187h16M1360 2187h8M1372 2187h8M1536 2187h4M1340 2191h16M1360 2191h8M1372 2191h8M1472 2195h28M1340 2199h16M1360 2199h8M1372 2199h8M1500 2199h36M1500 2227h36"/>
<path stroke="#e0b1b8" stroke-width="5" d="M1340 2235.5h16M1360 2235.5h8M1372 2235.5h8"/>
<path stroke="#2166ac" stroke-width="4" d="M1292 1695h48M1292 1703h4M1300 1703h12M1316 1703h24M1292 1707h4M1300 1707h12M1316 1707h24M1292 1715h4M1300 1715h12M1316 1715h24M1292 1723h48M1292 1731h4M1300 1731h12M1316 1731h24M1392 2103h12M1412 2103h4M1420 2103h4M1392 2107h12M1412 2107h4M1420 2107h4M1544 2207h37M1589 2207h4M1540 2231h53M1597 2231h8M1613 2231h28M1645 2231h8"/>
<path stroke="#ced9e8" stroke-width="4" d="M1340 1695h16M1360 1695h8M1372 1695h8M1340 1707h16M1360 1707h8M1372 1707h8M1340 1711h16M1360 1711h8M1372 1711h8M1825 1715h37M1456 1719h4M1468 1719h4M1456 1727h4M1468 1727h4M1340 1731h16M1360 1731h8M1372 1731h8M1456 1735h4M1468 1735h4M1456 1739h4M1468 1739h4M1292 1743h4M1300 1743h12M1316 1743h24M1500 1743h36M1661 1743h4M1693 1743h8M1749 1743h8M1292 1747h4M1300 1747h12M1316 1747h24M1456 1747h4M1468 1747h4M1653 1747h8M1665 1747h28M1701 1747h8M1749 1747h8M1825 1747h37M1292 1751h4M1300 1751h12M1316 1751h24M1460 1751h8M1653 1751h8M1665 1751h28M1701 1751h8M1749 1751h8M1460 1755h8M1500 1755h36M1709 1759h40M1757 1759h8M1296 1763h4M1312 1763h4M1392 1767h12M1412 1767h4M1420 1767h4M1825 1767h37M1424 1771h32M1500 1779h36M1456 1783h4M1468 1783h4M1536 1787h4M1340 1795h40M1392 1795h12M1412 1795h4M1420 1795h4M1456 1799h4M1468 1799h4M1536 1799h4M1380 1803h12M1404 1803h8M1416 1803h4M1536 1803h4M1296 1807h4M1312 1807h4M1296 1815h4M1312 1815h4M1833 1819h4M1857 1819h5M1292 1823h4M1300 1823h12M1316 1823h24M1296 1831h4M1312 1831h4M1296 1835h4M1312 1835h4M1292 1839h4M1300 1839h12M1316 1839h24M1424 1859h32M1380 1863h44M1500 1879h40M1292 1895h48M1424 1919h32M1292 1923h4M1300 1923h12M1316 1923h24M1380 1931h12M1404 1931h8M1416 1931h4M1456 1943h16M1292 1947h48M1296 1959h4M1312 1959h4M1456 1959h44M1500 1963h40M1825 1963h37M1428 1971h4M1653 1975h8M1665 1975h28M1701 1975h8M1593 1983h60M1460 1987h8M1488 1987h4M1597 1991h8M1613 1991h28M1645 1991h8M1709 1991h56M1500 1995h40M1653 1995h112M1825 1995h37M1661 1999h4M1693 1999h8M1472 2007h28M1661 2007h4M1693 2007h8M1709 2007h40M1757 2007h8M1653 2011h8M1665 2011h28M1701 2011h48M1757 2011h8M1540 2015h4M1581 2015h8M1825 2015h37M1540 2019h4M1581 2019h8M1653 2019h8M1665 2019h28M1701 2019h8M1540 2027h4M1581 2027h8M1593 2027h4M1605 2027h8M1641 2027h4M1544 2031h37M1589 2031h4M1424 2035h4M1432 2035h24M1653 2035h8M1665 2035h28M1701 2035h8M1340 2039h40M1661 2039h4M1693 2039h8M1709 2039h40M1757 2039h8M1597 2043h8M1613 2043h28M1645 2043h8M1544 2055h37M1589 2055h4M1597 2055h8M1613 2055h28M1645 2055h8M1709 2055h40M1757 2055h8M1825 2063h37M1540 2071h4M1581 2071h8M1597 2071h8M1613 2071h28M1645 2071h8M1773 2071h4M1781 2071h8M1540 2075h53M1460 2079h8M1540 2079h4M1581 2079h8M1593 2079h4M1605 2079h8M1641 2079h4M1544 2083h37M1589 2083h4M1597 2083h8M1613 2083h28M1645 2083h8M1540 2087h57M1605 2087h8M1641 2087h4M1773 2087h4M1781 2087h8M1428 2091h4M1472 2091h16M1492 2091h8M1488 2095h4M1488 2099h4M1540 2099h4M1581 2099h8M1769 2103h4M1777 2103h4M1789 2103h32M1488 2107h4M1769 2107h4M1777 2107h4M1428 2111h4M1472 2111h16M1492 2111h8M1653 2111h56M1769 2111h4M1777 2111h4M1789 2111h32M1789 2115h32M1709 2119h40M1757 2119h8M1769 2119h4M1777 2119h4M1789 2119h32M1540 2123h4M1581 2123h8M1769 2123h4M1777 2123h4M1789 2123h32M1653 2127h8M1665 2127h28M1701 2127h48M1757 2127h8M1769 2127h4M1777 2127h4M1789 2127h32M1821 2135h4M1661 2139h4M1693 2139h8M1769 2139h4M1777 2139h4M1709 2143h40M1757 2143h8M1821 2147h4M1488 2151h4M1789 2151h32M1789 2155h32M1821 2159h4M1769 2167h4M1777 2167h4M1789 2167h32M1540 2171h4M1581 2171h8M1380 2179h12M1404 2179h8M1416 2179h4M1653 2179h8M1665 2179h28M1701 2179h48M1757 2179h8M1769 2179h4M1777 2179h4M1821 2195h4M1392 2199h12M1412 2199h4M1420 2199h36M1821 2199h4M1769 2203h4M1777 2203h4M1789 2203h32M1380 2211h12M1404 2211h8M1416 2211h4M1424 2211h32M1821 2211h4M1653 2215h8M1665 2215h28M1701 2215h8M1769 2215h4M1777 2215h4M1380 2219h12M1404 2219h8M1416 2219h4M1821 2219h4M1392 2223h12M1412 2223h4M1420 2223h36M1821 2223h4"/>
<path stroke="#ced9e8" stroke-width="5" d="M1392 2235.5h12M1412 2235.5h4M1420 2235.5h4M1661 2235.5h4M1693 2235.5h8M1821 2235.5h4"/>
<path stroke="#dbe1ec" stroke-width="4" d="M1356 1695h4M1368 1695h4M1340 1699h16M1360 1699h8M1372 1699h8M1340 1703h16M1360 1703h8M1372 1703h8M1356 1707h4M1368 1707h4M1356 1711h4M1368 1711h4M1340 1723h40M1424 1723h32M1536 1727h4M1356 1731h4M1368 1731h4M1296 1743h4M1312 1743h4M1424 1743h32M1460 1743h8M1536 1743h4M1296 1747h4M1312 1747h4M1661 1747h4M1693 1747h8M1296 1751h4M1312 1751h4M1456 1751h4M1468 1751h4M1661 1751h4M1693 1751h8M1340 1755h40M1456 1755h4M1468 1755h4M1536 1755h4M1653 1755h8M1665 1755h28M1701 1755h48M1757 1755h8M1292 1759h4M1300 1759h12M1316 1759h24M1500 1759h36M1653 1759h8M1665 1759h28M1701 1759h8M1749 1759h8M1424 1763h4M1432 1763h24M1380 1767h12M1404 1767h8M1416 1767h4M1472 1767h28M1340 1775h40M1392 1775h12M1412 1775h4M1420 1775h8M1432 1775h24M1472 1775h16M1492 1775h8M1392 1779h12M1412 1779h4M1420 1779h8M1432 1779h28M1468 1779h4M1536 1779h4M1392 1783h12M1412 1783h4M1420 1783h4M1424 1791h4M1432 1791h24M1380 1795h12M1404 1795h8M1416 1795h4M1424 1795h32M1472 1795h28M1472 1799h16M1492 1799h8M1392 1803h12M1412 1803h4M1420 1803h4M1292 1811h88M1424 1815h32M1825 1819h8M1837 1819h20M1296 1823h4M1312 1823h4M1424 1831h48M1340 1835h40M1296 1839h4M1312 1839h4M1424 1839h32M1292 1851h4M1300 1851h12M1316 1851h24M1292 1855h4M1300 1855h12M1316 1855h24M1292 1863h48M1424 1863h32M1661 1867h4M1693 1867h8M1292 1871h4M1300 1871h12M1316 1871h24M1292 1883h4M1300 1883h12M1316 1883h64M1825 1883h37M1292 1887h88M1424 1891h32M1500 1891h40M1500 1899h40M1380 1915h12M1404 1915h8M1416 1915h4M1536 1919h4M1296 1923h4M1312 1923h4M1500 1923h40M1380 1927h44M1292 1931h48M1392 1931h12M1412 1931h4M1420 1931h36M1472 1931h28M1292 1943h48M1292 1955h4M1300 1955h12M1316 1955h24M1456 1955h4M1468 1955h4M1500 1955h40M1380 1959h44M1653 1963h8M1665 1963h28M1701 1963h48M1757 1963h8M1597 1967h8M1613 1967h28M1645 1967h8M1424 1971h4M1432 1971h24M1597 1975h8M1613 1975h28M1645 1975h8M1661 1975h4M1693 1975h8M1653 1979h112M1456 1983h16M1653 1983h8M1665 1983h28M1701 1983h48M1757 1983h8M1472 1987h16M1492 1987h8M1653 1987h8M1665 1987h28M1701 1987h8M1593 1991h4M1605 1991h8M1641 1991h4M1653 1991h56M1593 1995h60M1456 1999h16M1709 1999h40M1757 1999h8M1653 2003h8M1665 2003h28M1701 2003h48M1757 2003h8M1380 2007h44M1749 2007h8M1661 2011h4M1693 2011h8M1749 2011h8M1424 2019h32M1661 2019h4M1693 2019h8M1709 2019h56M1709 2023h40M1757 2023h8M1769 2023h20M1653 2027h8M1665 2027h28M1701 2027h8M1540 2031h4M1581 2031h8M1653 2031h8M1665 2031h28M1701 2031h48M1757 2031h8M1661 2035h4M1693 2035h8M1709 2035h56M1789 2035h32M1392 2039h12M1412 2039h4M1420 2039h4M1749 2039h8M1593 2043h4M1605 2043h8M1641 2043h4M1709 2043h40M1757 2043h8M1597 2047h8M1613 2047h28M1645 2047h8M1500 2051h40M1597 2051h8M1613 2051h28M1645 2051h8M1472 2055h28M1540 2055h4M1581 2055h8M1593 2055h4M1605 2055h8M1641 2055h4M1749 2055h8M1769 2055h20M1424 2059h4M1432 2059h24M1597 2059h8M1613 2059h28M1645 2059h8M1769 2059h52M1392 2063h12M1412 2063h4M1420 2063h8M1432 2063h24M1460 2063h8M1544 2063h37M1589 2063h4M1597 2063h8M1613 2063h28M1645 2063h16M1665 2063h28M1701 2063h8M1544 2067h37M1589 2067h4M1597 2067h8M1613 2067h28M1645 2067h8M1456 2071h16M1500 2071h36M1593 2071h4M1605 2071h8M1641 2071h4M1769 2071h4M1777 2071h4M1392 2075h12M1412 2075h4M1420 2075h4M1472 2075h64M1597 2075h8M1613 2075h28M1645 2075h8M1789 2075h36M1380 2079h80M1468 2079h32M1773 2079h4M1781 2079h44M1392 2083h12M1412 2083h4M1420 2083h4M1460 2083h8M1472 2083h16M1492 2083h44M1540 2083h4M1581 2083h8M1593 2083h4M1605 2083h8M1641 2083h4M1380 2087h44M1653 2087h8M1665 2087h28M1701 2087h8M1769 2087h4M1777 2087h4M1488 2091h4M1769 2091h52M1769 2095h52M1769 2099h52M1821 2103h4M1789 2107h36M1460 2111h8M1488 2111h4M1709 2111h40M1757 2111h8M1821 2111h4M1540 2115h4M1581 2115h8M1653 2115h56M1821 2115h4M1749 2119h8M1821 2119h4M1709 2123h40M1757 2123h8M1821 2123h4M1661 2127h4M1693 2127h8M1749 2127h8M1821 2127h4M1653 2131h96M1757 2131h8M1769 2131h4M1777 2131h4M1789 2131h36M1653 2135h8M1665 2135h28M1701 2135h8M1709 2139h40M1757 2139h8M1789 2139h32M1749 2143h8M1789 2143h32M1472 2151h16M1492 2151h8M1821 2151h4M1821 2155h4M1593 2163h4M1605 2163h8M1641 2163h4M1749 2163h8M1773 2163h4M1781 2163h40M1821 2167h4M1540 2179h4M1581 2179h8M1749 2179h8M1789 2179h32M1540 2183h4M1581 2183h8M1380 2199h12M1404 2199h8M1416 2199h4M1653 2203h8M1665 2203h28M1701 2203h8M1821 2203h4M1661 2215h4M1693 2215h8M1789 2215h32M1380 2223h12M1404 2223h8M1416 2223h4M1765 2231h4"/>
<path stroke="#dbe1ec" stroke-width="5" d="M1380 2235.5h12M1404 2235.5h8M1416 2235.5h4"/>
<path stroke="#dca4ac" stroke-width="4" d="M1392 1695h12M1412 1695h4M1420 1695h4M1593 1695h4M1605 1695h8M1641 1695h4M1653 1695h8M1665 1695h28M1701 1695h8M1661 1699h4M1693 1699h8M1769 1699h4M1777 1699h4M1380 1703h12M1404 1703h8M1416 1703h4M1661 1703h4M1693 1703h8M1769 1703h4M1777 1703h4M1380 1711h12M1404 1711h8M1416 1711h4M1472 1711h16M1492 1711h8M1749 1715h8M1593 1731h4M1605 1731h8M1641 1731h4M1769 1731h4M1777 1731h4M1380 1739h12M1404 1739h8M1416 1739h4M1593 1743h4M1605 1743h8M1641 1743h4M1773 1747h4M1781 1747h8M1597 1763h8M1613 1763h28M1645 1763h8M1540 1783h4M1581 1783h8M1540 1787h4M1581 1787h8M1593 1791h4M1605 1791h8M1641 1791h4M1540 1795h4M1581 1795h8M1597 1811h8M1613 1811h28M1645 1811h8M1597 1819h8M1613 1819h28M1645 1819h8M1597 1839h8M1613 1839h28M1645 1839h8M1540 1847h4M1581 1847h8M1456 1975h16M1292 1983h4M1300 1983h12M1316 1983h24M1593 2031h4M1605 2031h8M1641 2031h4M1296 2067h4M1312 2067h4M1356 2067h4M1368 2067h4M1296 2071h4M1312 2071h4M1296 2075h4M1312 2075h4M1292 2079h4M1300 2079h12M1316 2079h24M1296 2083h4M1312 2083h4M1653 2091h8M1665 2091h28M1701 2091h8M1749 2091h8M1749 2095h8M1749 2099h8M1825 2099h8M1837 2099h20M1709 2103h40M1757 2103h8M1709 2107h40M1757 2107h8M1392 2119h12M1412 2119h4M1420 2119h4M1460 2127h8M1488 2127h4M1428 2131h4M1424 2139h4M1432 2139h24M1296 2143h4M1312 2143h4M1356 2143h4M1368 2143h4M1488 2147h4M1380 2151h12M1404 2151h8M1416 2151h4M1456 2163h4M1468 2163h4M1825 2175h37M1356 2179h4M1368 2179h4M1536 2179h4M1296 2183h4M1312 2183h4M1536 2183h4M1500 2187h36M1500 2191h36M1536 2195h4M1500 2207h36M1340 2211h16M1360 2211h8M1372 2211h8M1356 2215h4M1368 2215h4M1340 2223h16M1360 2223h8M1372 2223h8"/>
<path stroke="#8fafd2" stroke-width="4" d="M1456 1695h4M1468 1695h4M1460 1703h8M1460 1711h8M1460 1715h8M1296 1719h4M1312 1719h4M1296 1739h4M1312 1739h4M1500 1747h36M1536 1763h4M1292 1779h4M1300 1779h12M1316 1779h24M1544 1995h37M1589 1995h4M1597 2007h8M1613 2007h28M1645 2007h8M1597 2019h8M1613 2019h28M1645 2019h8M1424 2067h4M1432 2067h24M1500 2091h36M1460 2095h8M1460 2099h8M1500 2099h36M1593 2099h4M1605 2099h8M1641 2099h4M1488 2103h4M1536 2103h8M1581 2103h8M1500 2107h36M1536 2111h4M1597 2115h8M1613 2115h28M1645 2115h8M1597 2119h8M1613 2119h28M1645 2119h8M1540 2139h4M1581 2139h8M1661 2151h4M1693 2151h8M1597 2155h8M1613 2155h28M1645 2155h8M1597 2167h8M1613 2167h28M1645 2167h8M1709 2167h40M1757 2167h8M1597 2175h8M1613 2175h28M1645 2175h8M1597 2179h8M1613 2179h28M1645 2179h8M1653 2183h8M1665 2183h28M1701 2183h48M1757 2183h8M1773 2183h4M1781 2183h8M1392 2187h12M1412 2187h4M1420 2187h4M1380 2191h12M1404 2191h8M1416 2191h4M1773 2195h4M1781 2195h8M1540 2203h4M1581 2203h8M1769 2207h4M1777 2207h4M1773 2219h4M1781 2219h8M1709 2223h40M1757 2223h8M1653 2231h8M1665 2231h28M1701 2231h8"/>
<path stroke="#bd3b4b" stroke-width="4" d="M1544 1695h37M1589 1695h4M1709 1719h40M1757 1719h8M1593 1727h4M1605 1727h8M1641 1727h4M1544 1755h37M1589 1755h4M1292 2123h4M1300 2123h12M1316 2123h24M1292 2191h4M1300 2191h12M1316 2191h24M1296 2199h4M1312 2199h4M1292 2211h4M1300 2211h12M1316 2211h24M1292 2219h4M1300 2219h12M1316 2219h24M1296 2223h4M1312 2223h4M1292 2227h4M1300 2227h12M1316 2227h24"/>
<path stroke="#296caf" stroke-width="4" d="M1292 1699h4M1300 1699h12M1316 1699h24M1296 1707h4M1312 1707h4M1292 1711h4M1300 1711h12M1316 1711h24M1392 2091h12M1412 2091h4M1420 2091h4M1392 2099h12M1412 2099h4M1420 2099h4M1544 2219h37M1589 2219h4M1544 2223h37M1589 2223h4M1544 2227h37M1589 2227h4"/>
<path stroke="#6996c5" stroke-width="4" d="M1296 1699h4M1312 1699h4M1456 1707h4M1468 1707h4M1296 1711h4M1312 1711h4M1296 1771h4M1312 1771h4M1380 2091h12M1404 2091h8M1416 2091h4M1380 2095h12M1404 2095h8M1416 2095h4M1597 2103h8M1613 2103h28M1645 2103h8M1544 2139h37M1589 2139h4M1593 2147h4M1605 2147h8M1641 2147h4M1540 2151h4M1581 2151h8M1709 2151h40M1757 2151h8M1540 2199h4M1581 2199h8M1540 2211h4M1581 2211h8M1540 2223h4M1581 2223h8M1593 2227h4M1605 2227h8M1641 2227h4M1709 2231h40M1757 2231h8M1773 2231h4M1781 2231h8"/>
<path stroke="#6996c5" stroke-width="5" d="M1540 2235.5h4M1581 2235.5h8"/>
<path stroke="#b5c8df" stroke-width="4" d="M1456 1699h4M1468 1699h4M1460 1719h8M1296 1727h4M1312 1727h4M1460 1727h8M1296 1735h4M1312 1735h4M1460 1735h8M1460 1739h8M1709 1743h40M1757 1743h8M1833 1743h4M1857 1743h5M1472 1747h16M1492 1747h8M1709 1747h40M1757 1747h8M1380 1751h12M1404 1751h8M1416 1751h4M1296 1755h4M1312 1755h4M1472 1759h16M1492 1759h8M1392 1763h12M1412 1763h4M1420 1763h4M1460 1763h8M1472 1763h16M1492 1763h8M1424 1767h4M1432 1767h28M1468 1767h4M1500 1767h36M1536 1771h4M1460 1775h8M1500 1775h36M1296 1779h4M1312 1779h4M1424 1787h32M1460 1791h8M1500 1791h36M1460 1795h8M1424 1799h4M1432 1799h24M1460 1799h8M1292 1819h4M1300 1819h12M1316 1819h24M1292 1843h4M1300 1843h12M1316 1843h24M1296 1867h4M1312 1867h4M1540 2003h4M1581 2003h8M1593 2003h4M1605 2003h8M1641 2003h4M1544 2015h37M1589 2015h4M1544 2023h37M1589 2023h4M1544 2027h37M1589 2027h4M1597 2027h8M1613 2027h28M1645 2027h8M1380 2031h44M1544 2035h37M1589 2035h4M1540 2039h4M1581 2039h8M1544 2047h37M1589 2047h4M1380 2051h12M1404 2051h8M1416 2051h4M1488 2059h4M1380 2071h12M1404 2071h8M1416 2071h4M1424 2071h4M1432 2071h24M1424 2075h32M1488 2087h4M1544 2099h37M1589 2099h4M1424 2103h4M1432 2103h24M1424 2107h4M1432 2107h28M1468 2107h4M1540 2107h4M1581 2107h8M1544 2111h37M1589 2111h8M1605 2111h8M1641 2111h4M1540 2119h4M1581 2119h8M1544 2123h37M1589 2123h8M1605 2123h8M1641 2123h4M1773 2135h4M1781 2135h8M1773 2143h4M1781 2143h8M1769 2147h4M1777 2147h4M1773 2151h4M1781 2151h8M1653 2155h8M1665 2155h28M1701 2155h8M1773 2155h4M1781 2155h8M1661 2159h4M1693 2159h8M1653 2167h8M1665 2167h28M1701 2167h8M1773 2167h4M1781 2167h8M1769 2171h4M1777 2171h4M1789 2171h32M1540 2175h4M1581 2175h8M1661 2175h4M1693 2175h8M1749 2175h8M1769 2175h4M1777 2175h4M1789 2175h32M1392 2179h12M1412 2179h4M1420 2179h4M1773 2179h4M1781 2179h8M1789 2183h32M1661 2187h4M1693 2187h8M1709 2187h40M1757 2187h8M1769 2187h4M1777 2187h4M1789 2187h32M1456 2191h16M1540 2191h4M1581 2191h8M1749 2191h8M1769 2191h4M1777 2191h4M1789 2191h32M1825 2191h37M1661 2195h4M1693 2195h8M1789 2195h32M1653 2199h8M1665 2199h28M1701 2199h8M1769 2199h4M1777 2199h4M1749 2203h8M1773 2203h4M1781 2203h8M1821 2207h4M1653 2211h8M1665 2211h28M1701 2211h8M1769 2211h4M1777 2211h4M1789 2211h32M1540 2215h4M1581 2215h8M1769 2223h4M1777 2223h4M1789 2223h32M1661 2227h4M1693 2227h8M1825 2227h37M1380 2231h12M1404 2231h8M1416 2231h4"/>
<path stroke="#b5c8df" stroke-width="5" d="M1749 2235.5h8M1769 2235.5h4M1777 2235.5h4"/>
<path stroke="#9bb7d6" stroke-width="4" d="M1460 1699h8M1456 1723h4M1468 1723h4M1536 1747h4M1292 1767h4M1300 1767h12M1316 1767h24M1460 1771h8M1296 1775h4M1312 1775h4M1460 1787h8M1296 1791h4M1312 1791h4M1296 1795h4M1312 1795h4M1296 1799h4M1312 1799h4M1540 1995h4M1581 1995h8M1597 2003h8M1613 2003h28M1645 2003h8M1544 2007h37M1589 2007h8M1605 2007h8M1641 2007h4M1593 2011h4M1605 2011h8M1641 2011h4M1597 2015h8M1613 2015h28M1645 2015h8M1593 2019h4M1605 2019h8M1641 2019h4M1544 2039h37M1589 2039h4M1544 2043h37M1589 2043h4M1500 2059h36M1428 2067h4M1424 2095h4M1432 2095h24M1460 2107h8M1593 2107h4M1605 2107h8M1641 2107h4M1597 2111h8M1613 2111h28M1645 2111h8M1597 2123h8M1613 2123h28M1645 2123h8M1540 2127h4M1581 2127h8M1536 2155h4M1749 2155h8M1593 2159h4M1605 2159h8M1641 2159h4M1653 2159h8M1665 2159h28M1701 2159h8M1749 2159h8M1544 2163h37M1589 2163h4M1380 2171h12M1404 2171h8M1416 2171h4M1749 2171h8M1773 2171h4M1781 2171h8M1653 2175h8M1665 2175h28M1701 2175h8M1773 2175h4M1781 2175h8M1392 2183h12M1412 2183h4M1420 2183h4M1749 2183h8M1653 2187h8M1665 2187h28M1701 2187h8M1773 2187h4M1781 2187h8M1661 2191h4M1693 2191h8M1773 2191h4M1781 2191h8M1653 2195h8M1665 2195h28M1701 2195h48M1757 2195h8M1773 2199h4M1781 2199h8M1709 2203h40M1757 2203h8M1653 2207h8M1665 2207h28M1701 2207h8M1749 2207h8M1773 2211h4M1781 2211h8M1749 2219h8M1773 2223h4M1781 2223h8M1392 2227h12M1412 2227h4M1420 2227h4M1653 2227h8M1665 2227h28M1701 2227h8M1749 2227h8M1773 2227h4M1781 2227h8M1789 2231h32"/>
<path stroke="#9bb7d6" stroke-width="5" d="M1709 2235.5h40M1757 2235.5h8M1773 2235.5h4M1781 2235.5h8"/>
<path stroke="#5c8dc0" stroke-width="4" d="M1296 1703h4M1312 1703h4M1292 1719h4M1300 1719h12M1316 1719h24M1292 1787h4M1300 1787h12M1316 1787h24M1380 2099h12M1404 2099h8M1416 2099h4M1456 2103h4M1468 2103h4M1544 2143h37M1589 2143h4M1597 2143h8M1613 2143h28M1645 2143h8M1597 2183h8M1613 2183h28M1645 2183h8M1597 2187h8M1613 2187h28M1645 2187h8M1597 2195h8M1613 2195h28M1645 2195h8M1597 2199h8M1613 2199h28M1645 2199h8M1544 2203h37M1589 2203h4M1540 2219h4M1581 2219h8M1597 2223h8M1613 2223h28M1645 2223h8M1540 2227h4M1581 2227h8"/>
<path stroke="#5c8dc0" stroke-width="5" d="M1597 2235.5h8M1613 2235.5h28M1645 2235.5h8"/>
<path stroke="#b52133" stroke-width="4" d="M1544 1703h37M1589 1703h4M1544 1715h37M1589 1715h4M1540 1719h4M1581 1719h8M1540 1727h4M1581 1727h8M1544 1731h37M1589 1731h4M1292 2131h4M1300 2131h12M1316 2131h24M1296 2163h4M1312 2163h4M1296 2179h4M1312 2179h4M1292 2187h4M1300 2187h12M1316 2187h24M1296 2215h4M1312 2215h4"/>
<path stroke="#c45564" stroke-width="4" d="M1597 1703h8M1613 1703h28M1645 1703h8M1544 1707h37M1589 1707h4M1540 1711h4M1581 1711h8M1597 1711h8M1613 1711h28M1645 1711h8M1709 1711h40M1757 1711h8M1380 1719h12M1404 1719h8M1416 1719h4M1653 1719h8M1665 1719h28M1701 1719h8M1773 1719h4M1781 1719h8M1749 1727h8M1773 1727h4M1781 1727h8M1597 1739h8M1613 1739h28M1645 1739h8M1544 1751h37M1589 1751h4M1597 1755h8M1613 1755h28M1645 1755h8M1392 2111h12M1412 2111h4M1420 2111h4M1292 2119h4M1300 2119h12M1316 2119h24M1292 2127h4M1300 2127h12M1316 2127h24M1296 2175h4M1312 2175h4"/>
<path stroke="#4f85bc" stroke-width="4" d="M1460 1707h8M1296 1731h4M1312 1731h4M1292 1739h4M1300 1739h12M1316 1739h24M1292 1771h4M1300 1771h12M1316 1771h24M1380 2107h12M1404 2107h8M1416 2107h4M1544 2135h37M1589 2135h4M1597 2135h8M1613 2135h28M1645 2135h8M1597 2139h8M1613 2139h28M1645 2139h8M1544 2147h37M1589 2147h4M1544 2155h37M1589 2155h4M1544 2159h37M1589 2159h4M1392 2175h12M1412 2175h4M1420 2175h4M1597 2207h8M1613 2207h28M1645 2207h8M1597 2219h8M1613 2219h28M1645 2219h8"/>
<path stroke="#82a6ce" stroke-width="4" d="M1292 1735h4M1300 1735h12M1316 1735h24M1500 1763h36M1292 1783h4M1300 1783h12M1316 1783h24M1296 1787h4M1312 1787h4M1292 1803h4M1300 1803h12M1316 1803h24M1597 2011h8M1613 2011h28M1645 2011h8M1472 2103h16M1492 2103h44M1544 2103h37M1589 2103h8M1605 2103h8M1641 2103h4M1597 2107h8M1613 2107h28M1645 2107h8M1544 2131h37M1589 2131h4M1597 2131h8M1613 2131h28M1645 2131h8M1540 2135h4M1581 2135h8M1593 2139h4M1605 2139h8M1641 2139h4M1540 2143h4M1581 2143h8M1593 2143h4M1605 2143h8M1641 2143h4M1597 2151h8M1613 2151h28M1645 2151h8M1749 2151h8M1540 2155h4M1581 2155h8M1709 2155h40M1757 2155h8M1540 2159h4M1581 2159h8M1597 2159h8M1613 2159h28M1645 2159h8M1709 2159h40M1757 2159h8M1544 2167h37M1589 2167h4M1597 2171h8M1613 2171h28M1645 2171h8M1709 2171h40M1757 2171h8M1593 2183h4M1605 2183h8M1641 2183h4M1593 2187h4M1605 2187h8M1641 2187h4M1653 2191h8M1665 2191h28M1701 2191h8M1392 2195h12M1412 2195h4M1420 2195h4M1593 2195h4M1605 2195h8M1641 2195h4M1593 2199h4M1605 2199h8M1641 2199h4M1597 2203h8M1613 2203h28M1645 2203h8M1709 2207h40M1757 2207h8M1597 2211h8M1613 2211h28M1645 2211h8M1597 2215h8M1613 2215h28M1645 2215h8M1709 2219h40M1757 2219h8M1593 2223h4M1605 2223h8M1641 2223h4M1709 2227h40M1757 2227h8M1749 2231h8M1769 2231h4M1777 2231h4"/>
<path stroke="#82a6ce" stroke-width="5" d="M1593 2235.5h4M1605 2235.5h8M1641 2235.5h4"/>
<path stroke="#3674b3" stroke-width="4" d="M1392 2095h12M1412 2095h4M1420 2095h4M1380 2103h12M1404 2103h8M1416 2103h4M1544 2199h37M1589 2199h4M1544 2211h37M1589 2211h4M1593 2231h4M1605 2231h8M1641 2231h4"/>
<path stroke="#3674b3" stroke-width="5" d="M1544 2235.5h37M1589 2235.5h4"/>
</g>
<path fill="none" stroke="#000" stroke-width="2.6" stroke-linecap="square" d="M1291.5 1597L1291.5 1541.2M1292.8 1597L1292.8 1541.2M1291.5 1541.2L1292.8 1541.2M1294.2 1597L1294.2 1545.1M1295.6 1597L1295.6 1545.1M1294.2 1545.1L1295.6 1545.1M1298.3 1597L1298.3 1548.1M1299.7 1597L1299.7 1548.1M1298.3 1548.1L1299.7 1548.1M1297 1597L1297 1542.8M1299 1548.1L1299 1542.8M1297 1542.8L1299 1542.8M1294.9 1545.1L1294.9 1541.3M1298 1542.8L1298 1541.3M1294.9 1541.3L1298 1541.3M1292.2 1541.2L1292.2 1528M1296.4 1541.3L1296.4 1528M1292.2 1528L1296.4 1528M1301 1597L1301 1541.5M1302.4 1597L1302.4 1541.5M1301 1541.5L1302.4 1541.5M1303.8 1597L1303.8 1545.4M1305.1 1597L1305.1 1545.4M1303.8 1545.4L1305.1 1545.4M1306.5 1597L1306.5 1545.7M1307.9 1597L1307.9 1545.7M1306.5 1545.7L1307.9 1545.7M1307.2 1545.7L1307.2 1540.4M1309.2 1597L1309.2 1540.4M1307.2 1540.4L1309.2 1540.4M1304.5 1545.4L1304.5 1538.4M1308.2 1540.4L1308.2 1538.4M1304.5 1538.4L1308.2 1538.4M1301.7 1541.5L1301.7 1531.8M1306.3 1538.4L1306.3 1531.8M1301.7 1531.8L1306.3 1531.8M1310.6 1597L1310.6 1544.5M1312 1597L1312 1544.5M1310.6 1544.5L1312 1544.5M1311.3 1544.5L1311.3 1537.4M1313.3 1597L1313.3 1537.4M1311.3 1537.4L1313.3 1537.4M1304 1531.8L1304 1520.9M1312.3 1537.4L1312.3 1520.9M1304 1520.9L1312.3 1520.9M1294.3 1528L1294.3 1514.1M1308.2 1520.9L1308.2 1514.1M1294.3 1514.1L1308.2 1514.1M1316.1 1597L1316.1 1550.2M1317.5 1597L1317.5 1550.2M1316.1 1550.2L1317.5 1550.2M1316.8 1550.2L1316.8 1544M1318.8 1597L1318.8 1544M1316.8 1544L1318.8 1544M1314.7 1597L1314.7 1537M1317.8 1544L1317.8 1537M1314.7 1537L1317.8 1537M1321.5 1597L1321.5 1549.1M1322.9 1597L1322.9 1549.1M1321.5 1549.1L1322.9 1549.1M1320.2 1597L1320.2 1547.6M1322.2 1549.1L1322.2 1547.6M1320.2 1547.6L1322.2 1547.6M1324.3 1597L1324.3 1546.3M1325.7 1597L1325.7 1546.3M1324.3 1546.3L1325.7 1546.3M1321.2 1547.6L1321.2 1545M1325 1546.3L1325 1545M1321.2 1545L1325 1545M1327 1597L1327 1549.7M1328.4 1597L1328.4 1549.7M1327 1549.7L1328.4 1549.7M1327.7 1549.7L1327.7 1546.3M1329.8 1597L1329.8 1546.3M1327.7 1546.3L1329.8 1546.3M1323.1 1545L1323.1 1543.4M1328.7 1546.3L1328.7 1543.4M1323.1 1543.4L1328.7 1543.4M1331.1 1597L1331.1 1551M1332.5 1597L1332.5 1551M1331.1 1551L1332.5 1551M1335.2 1597L1335.2 1555.5M1336.6 1597L1336.6 1555.5M1335.2 1555.5L1336.6 1555.5M1333.8 1597L1333.8 1554.5M1335.9 1555.5L1335.9 1554.5M1333.8 1554.5L1335.9 1554.5M1338 1597L1338 1552.9M1339.3 1597L1339.3 1552.9M1338 1552.9L1339.3 1552.9M1334.9 1554.5L1334.9 1552M1338.6 1552.9L1338.6 1552M1334.9 1552L1338.6 1552M1331.8 1551L1331.8 1546.6M1336.8 1552L1336.8 1546.6M1331.8 1546.6L1336.8 1546.6M1325.9 1543.4L1325.9 1535.1M1334.3 1546.6L1334.3 1535.1M1325.9 1535.1L1334.3 1535.1M1316.3 1537L1316.3 1520.5M1330.1 1535.1L1330.1 1520.5M1316.3 1520.5L1330.1 1520.5M1301.2 1514.1L1301.2 1497.5M1323.2 1520.5L1323.2 1497.5M1301.2 1497.5L1323.2 1497.5M1340.7 1597L1340.7 1542.9M1342 1597L1342 1542.9M1340.7 1542.9L1342 1542.9M1341.3 1542.9L1341.3 1531.3M1343.3 1597L1343.3 1531.3M1341.3 1531.3L1343.3 1531.3M1344.7 1597L1344.7 1534.3M1346 1597L1346 1534.3M1344.7 1534.3L1346 1534.3M1345.3 1534.3L1345.3 1525.5M1347.3 1597L1347.3 1525.5M1345.3 1525.5L1347.3 1525.5M1342.3 1531.3L1342.3 1511.1M1346.3 1525.5L1346.3 1511.1M1342.3 1511.1L1346.3 1511.1M1348.7 1597L1348.7 1540M1350 1597L1350 1540M1348.7 1540L1350 1540M1349.3 1540L1349.3 1536.5M1351.3 1597L1351.3 1536.5M1349.3 1536.5L1351.3 1536.5M1352.7 1597L1352.7 1537M1354 1597L1354 1537M1352.7 1537L1354 1537M1350.3 1536.5L1350.3 1531.8M1353.3 1537L1353.3 1531.8M1350.3 1531.8L1353.3 1531.8M1355.3 1597L1355.3 1552.2M1356.7 1597L1356.7 1552.2M1355.3 1552.2L1356.7 1552.2M1356 1552.2L1356 1548M1358 1597L1358 1548M1356 1548L1358 1548M1359.3 1597L1359.3 1544.4M1360.7 1597L1360.7 1544.4M1359.3 1544.4L1360.7 1544.4M1357 1548L1357 1540.9M1360 1544.4L1360 1540.9M1357 1540.9L1360 1540.9M1363.3 1597L1363.3 1550.8M1364.7 1597L1364.7 1550.8M1363.3 1550.8L1364.7 1550.8M1364 1550.8L1364 1545.5M1366 1597L1366 1545.5M1364 1545.5L1366 1545.5M1362 1597L1362 1544.1M1365 1545.5L1365 1544.1M1362 1544.1L1365 1544.1M1358.5 1540.9L1358.5 1532.8M1363.5 1544.1L1363.5 1532.8M1358.5 1532.8L1363.5 1532.8M1351.8 1531.8L1351.8 1520.7M1361 1532.8L1361 1520.7M1351.8 1520.7L1361 1520.7M1344.3 1511.1L1344.3 1498.8M1356.4 1520.7L1356.4 1498.8M1344.3 1498.8L1356.4 1498.8M1367.3 1597L1367.3 1524.2M1368.7 1597L1368.7 1524.2M1367.3 1524.2L1368.7 1524.2M1368 1524.2L1368 1521.2M1370 1597L1370 1521.2M1368 1521.2L1370 1521.2M1371.3 1597L1371.3 1526.4M1372.7 1597L1372.7 1526.4M1371.3 1526.4L1372.7 1526.4M1369 1521.2L1369 1510.3M1372 1526.4L1372 1510.3M1369 1510.3L1372 1510.3M1374 1597L1374 1538.3M1375.3 1597L1375.3 1538.3M1374 1538.3L1375.3 1538.3M1376.7 1597L1376.7 1540.2M1378 1597L1378 1540.2M1376.7 1540.2L1378 1540.2M1374.7 1538.3L1374.7 1531.9M1377.3 1540.2L1377.3 1531.9M1374.7 1531.9L1377.3 1531.9M1376 1531.9L1376 1507.9M1379.3 1597L1379.3 1507.9M1376 1507.9L1379.3 1507.9M1370.5 1510.3L1370.5 1502.1M1377.7 1507.9L1377.7 1502.1M1370.5 1502.1L1377.7 1502.1M1350.4 1498.8L1350.4 1490M1374.1 1502.1L1374.1 1490M1350.4 1490L1374.1 1490M1312.2 1497.5L1312.2 1486.7M1362.2 1490L1362.2 1486.7M1312.2 1486.7L1362.2 1486.7M1380.7 1597L1380.7 1535.8M1382 1597L1382 1535.8M1380.7 1535.8L1382 1535.8M1384.7 1597L1384.7 1548.5M1386.1 1597L1386.1 1548.5M1384.7 1548.5L1386.1 1548.5M1383.4 1597L1383.4 1547.3M1385.4 1548.5L1385.4 1547.3M1383.4 1547.3L1385.4 1547.3M1387.4 1597L1387.4 1542.4M1388.8 1597L1388.8 1542.4M1387.4 1542.4L1388.8 1542.4M1384.4 1547.3L1384.4 1540.1M1388.1 1542.4L1388.1 1540.1M1384.4 1540.1L1388.1 1540.1M1391.5 1597L1391.5 1542.4M1392.9 1597L1392.9 1542.4M1391.5 1542.4L1392.9 1542.4M1390.1 1597L1390.1 1540.5M1392.2 1542.4L1392.2 1540.5M1390.1 1540.5L1392.2 1540.5M1386.3 1540.1L1386.3 1533.8M1391.2 1540.5L1391.2 1533.8M1386.3 1533.8L1391.2 1533.8M1381.4 1535.8L1381.4 1530.4M1388.7 1533.8L1388.7 1530.4M1381.4 1530.4L1388.7 1530.4M1394.2 1597L1394.2 1545.4M1395.6 1597L1395.6 1545.4M1394.2 1545.4L1395.6 1545.4M1398.3 1597L1398.3 1551.5M1399.6 1597L1399.6 1551.5M1398.3 1551.5L1399.6 1551.5M1396.9 1597L1396.9 1548.3M1398.9 1551.5L1398.9 1548.3M1396.9 1548.3L1398.9 1548.3M1394.9 1545.4L1394.9 1539.9M1397.9 1548.3L1397.9 1539.9M1394.9 1539.9L1397.9 1539.9M1385 1530.4L1385 1527.2M1396.4 1539.9L1396.4 1527.2M1385 1527.2L1396.4 1527.2M1401 1597L1401 1537.4M1402.3 1597L1402.3 1537.4M1401 1537.4L1402.3 1537.4M1403.7 1597L1403.7 1546.5M1405 1597L1405 1546.5M1403.7 1546.5L1405 1546.5M1401.6 1537.4L1401.6 1534.3M1404.4 1546.5L1404.4 1534.3M1401.6 1534.3L1404.4 1534.3M1406.4 1597L1406.4 1542.8M1407.7 1597L1407.7 1542.8M1406.4 1542.8L1407.7 1542.8M1409.1 1597L1409.1 1547.7M1410.4 1597L1410.4 1547.7M1409.1 1547.7L1410.4 1547.7M1411.8 1597L1411.8 1550.1M1413.1 1597L1413.1 1550.1M1411.8 1550.1L1413.1 1550.1M1409.8 1547.7L1409.8 1544.6M1412.5 1550.1L1412.5 1544.6M1409.8 1544.6L1412.5 1544.6M1407.1 1542.8L1407.1 1540.7M1411.1 1544.6L1411.1 1540.7M1407.1 1540.7L1411.1 1540.7M1403 1534.3L1403 1527M1409.1 1540.7L1409.1 1527M1403 1527L1409.1 1527M1414.5 1597L1414.5 1547.6M1415.9 1597L1415.9 1547.6M1414.5 1547.6L1415.9 1547.6M1418.6 1597L1418.6 1548.6M1419.9 1597L1419.9 1548.6M1418.6 1548.6L1419.9 1548.6M1417.2 1597L1417.2 1545M1419.2 1548.6L1419.2 1545M1417.2 1545L1419.2 1545M1415.2 1547.6L1415.2 1541.7M1418.2 1545L1418.2 1541.7M1415.2 1541.7L1418.2 1541.7M1422.6 1597L1422.6 1547.3M1424 1597L1424 1547.3M1422.6 1547.3L1424 1547.3M1421.3 1597L1421.3 1543.1M1423.3 1547.3L1423.3 1543.1M1421.3 1543.1L1423.3 1543.1M1425.3 1597L1425.3 1541.4M1426.7 1597L1426.7 1541.4M1425.3 1541.4L1426.7 1541.4M1428 1597L1428 1550.5M1429.4 1597L1429.4 1550.5M1428 1550.5L1429.4 1550.5M1428.7 1550.5L1428.7 1547M1430.7 1597L1430.7 1547M1428.7 1547L1430.7 1547M1433.4 1597L1433.4 1548.8M1434.8 1597L1434.8 1548.8M1433.4 1548.8L1434.8 1548.8M1432.1 1597L1432.1 1545.2M1434.1 1548.8L1434.1 1545.2M1432.1 1545.2L1434.1 1545.2M1429.7 1547L1429.7 1541.4M1433.1 1545.2L1433.1 1541.4M1429.7 1541.4L1433.1 1541.4M1426 1541.4L1426 1538.5M1431.4 1541.4L1431.4 1538.5M1426 1538.5L1431.4 1538.5M1422.3 1543.1L1422.3 1534.3M1428.7 1538.5L1428.7 1534.3M1422.3 1534.3L1428.7 1534.3M1416.7 1541.7L1416.7 1529.4M1425.5 1534.3L1425.5 1529.4M1416.7 1529.4L1425.5 1529.4M1406 1527L1406 1521.3M1421.1 1529.4L1421.1 1521.3M1406 1521.3L1421.1 1521.3M1390.7 1527.2L1390.7 1503.4M1413.6 1521.3L1413.6 1503.4M1390.7 1503.4L1413.6 1503.4M1436.1 1597L1436.1 1553.5M1437.5 1597L1437.5 1553.5M1436.1 1553.5L1437.5 1553.5M1436.8 1553.5L1436.8 1553M1438.9 1597L1438.9 1553M1436.8 1553L1438.9 1553M1440.2 1597L1440.2 1553M1441.6 1597L1441.6 1553M1440.2 1553L1441.6 1553M1442.9 1597L1442.9 1553.8M1444.3 1597L1444.3 1553.8M1442.9 1553.8L1444.3 1553.8M1445.6 1597L1445.6 1554.4M1447 1597L1447 1554.4M1445.6 1554.4L1447 1554.4M1448.3 1597L1448.3 1555.8M1449.7 1597L1449.7 1555.8M1448.3 1555.8L1449.7 1555.8M1446.3 1554.4L1446.3 1553.9M1449 1555.8L1449 1553.9M1446.3 1553.9L1449 1553.9M1443.6 1553.8L1443.6 1552.3M1447.6 1553.9L1447.6 1552.3M1443.6 1552.3L1447.6 1552.3M1440.9 1553L1440.9 1551.4M1445.6 1552.3L1445.6 1551.4M1440.9 1551.4L1445.6 1551.4M1437.8 1553L1437.8 1548.4M1443.2 1551.4L1443.2 1548.4M1437.8 1548.4L1443.2 1548.4M1451 1597L1451 1555.1M1452.4 1597L1452.4 1555.1M1451 1555.1L1452.4 1555.1M1451.7 1555.1L1451.7 1553.8M1453.7 1597L1453.7 1553.8M1451.7 1553.8L1453.7 1553.8M1452.7 1553.8L1452.7 1551.1M1455.1 1597L1455.1 1551.1M1452.7 1551.1L1455.1 1551.1M1456.4 1597L1456.4 1554.8M1457.8 1597L1457.8 1554.8M1456.4 1554.8L1457.8 1554.8M1457.1 1554.8L1457.1 1553.7M1459.1 1597L1459.1 1553.7M1457.1 1553.7L1459.1 1553.7M1458.1 1553.7L1458.1 1552.3M1460.5 1597L1460.5 1552.3M1458.1 1552.3L1460.5 1552.3M1453.9 1551.1L1453.9 1549.1M1459.3 1552.3L1459.3 1549.1M1453.9 1549.1L1459.3 1549.1M1463.2 1597L1463.2 1554.7M1464.6 1597L1464.6 1554.7M1463.2 1554.7L1464.6 1554.7M1463.9 1554.7L1463.9 1553.4M1465.9 1597L1465.9 1553.4M1463.9 1553.4L1465.9 1553.4M1461.9 1597L1461.9 1552.3M1464.9 1553.4L1464.9 1552.3M1461.9 1552.3L1464.9 1552.3M1467.3 1597L1467.3 1555.8M1468.6 1597L1468.6 1555.8M1467.3 1555.8L1468.6 1555.8M1470 1597L1470 1556M1471.3 1597L1471.3 1556M1470 1556L1471.3 1556M1467.9 1555.8L1467.9 1553.8M1470.6 1556L1470.6 1553.8M1467.9 1553.8L1470.6 1553.8M1469.3 1553.8L1469.3 1552.5M1472.7 1597L1472.7 1552.5M1469.3 1552.5L1472.7 1552.5M1471 1552.5L1471 1551M1474 1597L1474 1551M1471 1551L1474 1551M1463.4 1552.3L1463.4 1548.4M1472.5 1551L1472.5 1548.4M1463.4 1548.4L1472.5 1548.4M1456.6 1549.1L1456.6 1546.7M1467.9 1548.4L1467.9 1546.7M1456.6 1546.7L1467.9 1546.7M1440.5 1548.4L1440.5 1542.1M1462.3 1546.7L1462.3 1542.1M1440.5 1542.1L1462.3 1542.1M1475.4 1597L1475.4 1550.8M1476.7 1597L1476.7 1550.8M1475.4 1550.8L1476.7 1550.8M1478.1 1597L1478.1 1554.8M1479.4 1597L1479.4 1554.8M1478.1 1554.8L1479.4 1554.8M1480.8 1597L1480.8 1556.1M1482.1 1597L1482.1 1556.1M1480.8 1556.1L1482.1 1556.1M1478.8 1554.8L1478.8 1553.2M1481.5 1556.1L1481.5 1553.2M1478.8 1553.2L1481.5 1553.2M1476.1 1550.8L1476.1 1548.6M1480.1 1553.2L1480.1 1548.6M1476.1 1548.6L1480.1 1548.6M1483.5 1597L1483.5 1552.9M1484.9 1597L1484.9 1552.9M1483.5 1552.9L1484.9 1552.9M1486.2 1597L1486.2 1553.5M1487.6 1597L1487.6 1553.5M1486.2 1553.5L1487.6 1553.5M1486.9 1553.5L1486.9 1552.8M1488.9 1597L1488.9 1552.8M1486.9 1552.8L1488.9 1552.8M1484.2 1552.9L1484.2 1550.1M1487.9 1552.8L1487.9 1550.1M1484.2 1550.1L1487.9 1550.1M1478.1 1548.6L1478.1 1546.3M1486 1550.1L1486 1546.3M1478.1 1546.3L1486 1546.3M1490.3 1597L1490.3 1552.2M1491.6 1597L1491.6 1552.2M1490.3 1552.2L1491.6 1552.2M1494.3 1597L1494.3 1553M1495.7 1597L1495.7 1553M1494.3 1553L1495.7 1553M1493 1597L1493 1549.3M1495 1553L1495 1549.3M1493 1549.3L1495 1549.3M1490.9 1552.2L1490.9 1547M1494 1549.3L1494 1547M1490.9 1547L1494 1547M1497 1597L1497 1554.1M1498.4 1597L1498.4 1554.1M1497 1554.1L1498.4 1554.1M1499.7 1597L1499.7 1553M1501.1 1597L1501.1 1553M1499.7 1553L1501.1 1553M1497.7 1554.1L1497.7 1551M1500.4 1553L1500.4 1551M1497.7 1551L1500.4 1551M1503.8 1597L1503.8 1555.6M1505.1 1597L1505.1 1555.6M1503.8 1555.6L1505.1 1555.6M1502.4 1597L1502.4 1553.1M1504.5 1555.6L1504.5 1553.1M1502.4 1553.1L1504.5 1553.1M1507.9 1597L1507.9 1556.4M1509.2 1597L1509.2 1556.4M1507.9 1556.4L1509.2 1556.4M1508.5 1556.4L1508.5 1555.8M1510.6 1597L1510.6 1555.8M1508.5 1555.8L1510.6 1555.8M1506.5 1597L1506.5 1555.2M1509.5 1555.8L1509.5 1555.2M1506.5 1555.2L1509.5 1555.2M1511.9 1597L1511.9 1556.5M1513.3 1597L1513.3 1556.5M1511.9 1556.5L1513.3 1556.5M1514.6 1597L1514.6 1555.2M1516 1597L1516 1555.2M1514.6 1555.2L1516 1555.2M1512.6 1556.5L1512.6 1554.1M1515.3 1555.2L1515.3 1554.1M1512.6 1554.1L1515.3 1554.1M1508 1555.2L1508 1551.8M1513.9 1554.1L1513.9 1551.8M1508 1551.8L1513.9 1551.8M1503.5 1553.1L1503.5 1550M1511 1551.8L1511 1550M1503.5 1550L1511 1550M1499.1 1551L1499.1 1546.2M1507.2 1550L1507.2 1546.2M1499.1 1546.2L1507.2 1546.2M1492.5 1547L1492.5 1543.8M1503.1 1546.2L1503.1 1543.8M1492.5 1543.8L1503.1 1543.8M1482.1 1546.3L1482.1 1537.4M1497.8 1543.8L1497.8 1537.4M1482.1 1537.4L1497.8 1537.4M1451.4 1542.1L1451.4 1534.5M1489.9 1537.4L1489.9 1534.5M1451.4 1534.5L1489.9 1534.5M1518.7 1597L1518.7 1553.3M1520 1597L1520 1553.3M1518.7 1553.3L1520 1553.3M1522.7 1597L1522.7 1554.7M1524.1 1597L1524.1 1554.7M1522.7 1554.7L1524.1 1554.7M1521.4 1597L1521.4 1552.9M1523.4 1554.7L1523.4 1552.9M1521.4 1552.9L1523.4 1552.9M1519.4 1553.3L1519.4 1551.2M1522.4 1552.9L1522.4 1551.2M1519.4 1551.2L1522.4 1551.2M1517.3 1597L1517.3 1545.3M1520.9 1551.2L1520.9 1545.3M1517.3 1545.3L1520.9 1545.3M1525.4 1597L1525.4 1554.1M1526.8 1597L1526.8 1554.1M1525.4 1554.1L1526.8 1554.1M1528.1 1597L1528.1 1554.1M1529.5 1597L1529.5 1554.1M1528.1 1554.1L1529.5 1554.1M1526.1 1554.1L1526.1 1549.8M1528.8 1554.1L1528.8 1549.8M1526.1 1549.8L1528.8 1549.8M1519.1 1545.3L1519.1 1542.2M1527.5 1549.8L1527.5 1542.2M1519.1 1542.2L1527.5 1542.2M1530.9 1597L1530.9 1536.1M1532.2 1597L1532.2 1536.1M1530.9 1536.1L1532.2 1536.1M1536.3 1597L1536.3 1552.6M1537.6 1597L1537.6 1552.6M1536.3 1552.6L1537.6 1552.6M1534.9 1597L1534.9 1550M1536.9 1552.6L1536.9 1550M1534.9 1550L1536.9 1550M1533.6 1597L1533.6 1545.1M1535.9 1550L1535.9 1545.1M1533.6 1545.1L1535.9 1545.1M1539 1597L1539 1542.4M1540.3 1597L1540.3 1542.4M1539 1542.4L1540.3 1542.4M1534.7 1545.1L1534.7 1539.5M1539.6 1542.4L1539.6 1539.5M1534.7 1539.5L1539.6 1539.5M1531.5 1536.1L1531.5 1533.5M1537.2 1539.5L1537.2 1533.5M1531.5 1533.5L1537.2 1533.5M1523.3 1542.2L1523.3 1531.1M1534.4 1533.5L1534.4 1531.1M1523.3 1531.1L1534.4 1531.1M1470.7 1534.5L1470.7 1526M1528.8 1531.1L1528.8 1526M1470.7 1526L1528.8 1526M1402.1 1503.4L1402.1 1493.4M1499.7 1526L1499.7 1493.4M1402.1 1493.4L1499.7 1493.4M1543 1597L1543 1563.1M1544.3 1597L1544.3 1563.1M1543 1563.1L1544.3 1563.1M1541.7 1597L1541.7 1562.1M1543.7 1563.1L1543.7 1562.1M1541.7 1562.1L1543.7 1562.1M1542.7 1562.1L1542.7 1558.3M1545.7 1597L1545.7 1558.3M1542.7 1558.3L1545.7 1558.3M1547 1597L1547 1564.9M1548.4 1597L1548.4 1564.9M1547 1564.9L1548.4 1564.9M1547.7 1564.9L1547.7 1563.4M1549.7 1597L1549.7 1563.4M1547.7 1563.4L1549.7 1563.4M1548.7 1563.4L1548.7 1557.7M1551 1597L1551 1557.7M1548.7 1557.7L1551 1557.7M1544.2 1558.3L1544.2 1554.6M1549.9 1557.7L1549.9 1554.6M1544.2 1554.6L1549.9 1554.6M1553.7 1597L1553.7 1563.1M1555.1 1597L1555.1 1563.1M1553.7 1563.1L1555.1 1563.1M1552.4 1597L1552.4 1559.8M1554.4 1563.1L1554.4 1559.8M1552.4 1559.8L1554.4 1559.8M1556.4 1597L1556.4 1562.6M1557.7 1597L1557.7 1562.6M1556.4 1562.6L1557.7 1562.6M1557.1 1562.6L1557.1 1559.2M1559.1 1597L1559.1 1559.2M1557.1 1559.2L1559.1 1559.2M1561.8 1597L1561.8 1562.1M1563.1 1597L1563.1 1562.1M1561.8 1562.1L1563.1 1562.1M1560.4 1597L1560.4 1560.4M1562.4 1562.1L1562.4 1560.4M1560.4 1560.4L1562.4 1560.4M1558.1 1559.2L1558.1 1553M1561.4 1560.4L1561.4 1553M1558.1 1553L1561.4 1553M1553.4 1559.8L1553.4 1549.8M1559.7 1553L1559.7 1549.8M1553.4 1549.8L1559.7 1549.8M1547 1554.6L1547 1543.7M1556.6 1549.8L1556.6 1543.7M1547 1543.7L1556.6 1543.7M1565.8 1597L1565.8 1566M1567.1 1597L1567.1 1566M1565.8 1566L1567.1 1566M1564.4 1597L1564.4 1562.6M1566.4 1566L1566.4 1562.6M1564.4 1562.6L1566.4 1562.6M1571.1 1597L1571.1 1567.5M1572.5 1597L1572.5 1567.5M1571.1 1567.5L1572.5 1567.5M1571.8 1567.5L1571.8 1566.7M1573.8 1597L1573.8 1566.7M1571.8 1566.7L1573.8 1566.7M1569.8 1597L1569.8 1565.9M1572.8 1566.7L1572.8 1565.9M1569.8 1565.9L1572.8 1565.9M1568.4 1597L1568.4 1564.5M1571.3 1565.9L1571.3 1564.5M1568.4 1564.5L1571.3 1564.5M1569.9 1564.5L1569.9 1563.9M1575.1 1597L1575.1 1563.9M1569.9 1563.9L1575.1 1563.9M1565.4 1562.6L1565.4 1557.8M1572.5 1563.9L1572.5 1557.8M1565.4 1557.8L1572.5 1557.8M1576.5 1597L1576.5 1567.6M1577.8 1597L1577.8 1567.6M1576.5 1567.6L1577.8 1567.6M1581.8 1597L1581.8 1568.7M1583.2 1597L1583.2 1568.7M1581.8 1568.7L1583.2 1568.7M1580.5 1597L1580.5 1568.3M1582.5 1568.7L1582.5 1568.3M1580.5 1568.3L1582.5 1568.3M1579.2 1597L1579.2 1568M1581.5 1568.3L1581.5 1568M1579.2 1568L1581.5 1568M1580.3 1568L1580.3 1567.6M1584.5 1597L1584.5 1567.6M1580.3 1567.6L1584.5 1567.6M1577.2 1567.6L1577.2 1567.4M1582.4 1567.6L1582.4 1567.4M1577.2 1567.4L1582.4 1567.4M1587.2 1597L1587.2 1566.2M1588.5 1597L1588.5 1566.2M1587.2 1566.2L1588.5 1566.2M1585.9 1597L1585.9 1565.8M1587.9 1566.2L1587.9 1565.8M1585.9 1565.8L1587.9 1565.8M1579.8 1567.4L1579.8 1565.4M1586.9 1565.8L1586.9 1565.4M1579.8 1565.4L1586.9 1565.4M1589.9 1597L1589.9 1565.5M1591.2 1597L1591.2 1565.5M1589.9 1565.5L1591.2 1565.5M1592.6 1597L1592.6 1564.7M1593.9 1597L1593.9 1564.7M1592.6 1564.7L1593.9 1564.7M1590.5 1565.5L1590.5 1564M1593.2 1564.7L1593.2 1564M1590.5 1564L1593.2 1564M1595.2 1597L1595.2 1565.2M1596.6 1597L1596.6 1565.2M1595.2 1565.2L1596.6 1565.2M1597.9 1597L1597.9 1567.6M1599.2 1597L1599.2 1567.6M1597.9 1567.6L1599.2 1567.6M1598.6 1567.6L1598.6 1566.9M1600.6 1597L1600.6 1566.9M1598.6 1566.9L1600.6 1566.9M1599.6 1566.9L1599.6 1565.2M1601.9 1597L1601.9 1565.2M1599.6 1565.2L1601.9 1565.2M1595.9 1565.2L1595.9 1563.9M1600.8 1565.2L1600.8 1563.9M1595.9 1563.9L1600.8 1563.9M1591.9 1564L1591.9 1562.8M1598.3 1563.9L1598.3 1562.8M1591.9 1562.8L1598.3 1562.8M1583.3 1565.4L1583.3 1560.5M1595.1 1562.8L1595.1 1560.5M1583.3 1560.5L1595.1 1560.5M1569 1557.8L1569 1549.9M1589.2 1560.5L1589.2 1549.9M1569 1549.9L1589.2 1549.9M1603.3 1597L1603.3 1561.3M1604.6 1597L1604.6 1561.3M1603.3 1561.3L1604.6 1561.3M1605.9 1597L1605.9 1566.9M1607.3 1597L1607.3 1566.9M1605.9 1566.9L1607.3 1566.9M1606.6 1566.9L1606.6 1565.6M1608.6 1597L1608.6 1565.6M1606.6 1565.6L1608.6 1565.6M1610 1597L1610 1565.5M1611.3 1597L1611.3 1565.5M1610 1565.5L1611.3 1565.5M1607.6 1565.6L1607.6 1563.5M1610.6 1565.5L1610.6 1563.5M1607.6 1563.5L1610.6 1563.5M1603.9 1561.3L1603.9 1559.7M1609.1 1563.5L1609.1 1559.7M1603.9 1559.7L1609.1 1559.7M1612.6 1597L1612.6 1563.9M1614 1597L1614 1563.9M1612.6 1563.9L1614 1563.9M1615.3 1597L1615.3 1564M1616.7 1597L1616.7 1564M1615.3 1564L1616.7 1564M1613.3 1563.9L1613.3 1562.8M1616 1564L1616 1562.8M1613.3 1562.8L1616 1562.8M1618 1597L1618 1560M1619.3 1597L1619.3 1560M1618 1560L1619.3 1560M1614.6 1562.8L1614.6 1557.4M1618.7 1560L1618.7 1557.4M1614.6 1557.4L1618.7 1557.4M1606.5 1559.7L1606.5 1553.5M1616.7 1557.4L1616.7 1553.5M1606.5 1553.5L1616.7 1553.5M1579.1 1549.9L1579.1 1541.6M1611.6 1553.5L1611.6 1541.6M1579.1 1541.6L1611.6 1541.6M1551.8 1543.7L1551.8 1529M1595.3 1541.6L1595.3 1529M1551.8 1529L1595.3 1529M1622 1597L1622 1567.6M1623.4 1597L1623.4 1567.6M1622 1567.6L1623.4 1567.6M1620.7 1597L1620.7 1565.8M1622.7 1567.6L1622.7 1565.8M1620.7 1565.8L1622.7 1565.8M1624.7 1597L1624.7 1566.3M1626.1 1597L1626.1 1566.3M1624.7 1566.3L1626.1 1566.3M1621.7 1565.8L1621.7 1564.6M1625.4 1566.3L1625.4 1564.6M1621.7 1564.6L1625.4 1564.6M1627.4 1597L1627.4 1565.8M1628.8 1597L1628.8 1565.8M1627.4 1565.8L1628.8 1565.8M1631.4 1597L1631.4 1567.1M1632.8 1597L1632.8 1567.1M1631.4 1567.1L1632.8 1567.1M1632.1 1567.1L1632.1 1566M1634.1 1597L1634.1 1566M1632.1 1566L1634.1 1566M1630.1 1597L1630.1 1565.3M1633.1 1566L1633.1 1565.3M1630.1 1565.3L1633.1 1565.3M1628.1 1565.8L1628.1 1563.6M1631.6 1565.3L1631.6 1563.6M1628.1 1563.6L1631.6 1563.6M1635.5 1597L1635.5 1566.2M1636.8 1597L1636.8 1566.2M1635.5 1566.2L1636.8 1566.2M1629.8 1563.6L1629.8 1562.7M1636.2 1566.2L1636.2 1562.7M1629.8 1562.7L1636.2 1562.7M1623.5 1564.6L1623.5 1558.3M1633 1562.7L1633 1558.3M1623.5 1558.3L1633 1558.3M1638.2 1597L1638.2 1567.1M1639.5 1597L1639.5 1567.1M1638.2 1567.1L1639.5 1567.1M1643.6 1597L1643.6 1568.5M1644.9 1597L1644.9 1568.5M1643.6 1568.5L1644.9 1568.5M1642.2 1597L1642.2 1568.2M1644.2 1568.5L1644.2 1568.2M1642.2 1568.2L1644.2 1568.2M1640.9 1597L1640.9 1567.7M1643.2 1568.2L1643.2 1567.7M1640.9 1567.7L1643.2 1567.7M1642.1 1567.7L1642.1 1567.1M1646.3 1597L1646.3 1567.1M1642.1 1567.1L1646.3 1567.1M1638.9 1567.1L1638.9 1566.7M1644.2 1567.1L1644.2 1566.7M1638.9 1566.7L1644.2 1566.7M1647.6 1597L1647.6 1568.7M1649 1597L1649 1568.7M1647.6 1568.7L1649 1568.7M1648.3 1568.7L1648.3 1568.5M1650.3 1597L1650.3 1568.5M1648.3 1568.5L1650.3 1568.5M1653 1597L1653 1568.4M1654.3 1597L1654.3 1568.4M1653 1568.4L1654.3 1568.4M1651.6 1597L1651.6 1568.2M1653.7 1568.4L1653.7 1568.2M1651.6 1568.2L1653.7 1568.2M1649.3 1568.5L1649.3 1567.8M1652.7 1568.2L1652.7 1567.8M1649.3 1567.8L1652.7 1567.8M1655.7 1597L1655.7 1567.8M1657 1597L1657 1567.8M1655.7 1567.8L1657 1567.8M1651 1567.8L1651 1567.4M1656.4 1567.8L1656.4 1567.4M1651 1567.4L1656.4 1567.4M1658.4 1597L1658.4 1568.5M1659.7 1597L1659.7 1568.5M1658.4 1568.5L1659.7 1568.5M1659.1 1568.5L1659.1 1567.8M1661.1 1597L1661.1 1567.8M1659.1 1567.8L1661.1 1567.8M1653.7 1567.4L1653.7 1566.6M1660.1 1567.8L1660.1 1566.6M1653.7 1566.6L1660.1 1566.6M1662.4 1597L1662.4 1568.6M1663.8 1597L1663.8 1568.6M1662.4 1568.6L1663.8 1568.6M1663.1 1568.6L1663.1 1568.3M1665.1 1597L1665.1 1568.3M1663.1 1568.3L1665.1 1568.3M1667.8 1597L1667.8 1568.4M1669.2 1597L1669.2 1568.4M1667.8 1568.4L1669.2 1568.4M1666.5 1597L1666.5 1568M1668.5 1568.4L1668.5 1568M1666.5 1568L1668.5 1568M1664.1 1568.3L1664.1 1567.3M1667.5 1568L1667.5 1567.3M1664.1 1567.3L1667.5 1567.3M1656.9 1566.6L1656.9 1565.9M1665.8 1567.3L1665.8 1565.9M1656.9 1565.9L1665.8 1565.9M1641.5 1566.7L1641.5 1564.7M1661.3 1565.9L1661.3 1564.7M1641.5 1564.7L1661.3 1564.7M1671.8 1597L1671.8 1567.4M1673.2 1597L1673.2 1567.4M1671.8 1567.4L1673.2 1567.4M1670.5 1597L1670.5 1567M1672.5 1567.4L1672.5 1567M1670.5 1567L1672.5 1567M1674.5 1597L1674.5 1568.5M1675.9 1597L1675.9 1568.5M1674.5 1568.5L1675.9 1568.5M1675.2 1568.5L1675.2 1568.4M1677.2 1597L1677.2 1568.4M1675.2 1568.4L1677.2 1568.4M1676.2 1568.4L1676.2 1567.5M1678.6 1597L1678.6 1567.5M1676.2 1567.5L1678.6 1567.5M1671.5 1567L1671.5 1565.3M1677.4 1567.5L1677.4 1565.3M1671.5 1565.3L1677.4 1565.3M1679.9 1597L1679.9 1566.8M1681.3 1597L1681.3 1566.8M1679.9 1566.8L1681.3 1566.8M1682.6 1597L1682.6 1567.9M1684 1597L1684 1567.9M1682.6 1567.9L1684 1567.9M1683.3 1567.9L1683.3 1566.5M1685.3 1597L1685.3 1566.5M1683.3 1566.5L1685.3 1566.5M1680.6 1566.8L1680.6 1564.9M1684.3 1566.5L1684.3 1564.9M1680.6 1564.9L1684.3 1564.9M1674.5 1565.3L1674.5 1562.9M1682.5 1564.9L1682.5 1562.9M1674.5 1562.9L1682.5 1562.9M1651.4 1564.7L1651.4 1561.9M1678.5 1562.9L1678.5 1561.9M1651.4 1561.9L1678.5 1561.9M1628.3 1558.3L1628.3 1554.7M1664.9 1561.9L1664.9 1554.7M1628.3 1554.7L1664.9 1554.7M1686.7 1597L1686.7 1567.8M1688 1597L1688 1567.8M1686.7 1567.8L1688 1567.8M1689.4 1597L1689.4 1568.6M1690.7 1597L1690.7 1568.6M1689.4 1568.6L1690.7 1568.6M1690 1568.6L1690 1568.3M1692 1597L1692 1568.3M1690 1568.3L1692 1568.3M1693.4 1597L1693.4 1567.9M1694.7 1597L1694.7 1567.9M1693.4 1567.9L1694.7 1567.9M1691 1568.3L1691 1567.7M1694.1 1567.9L1694.1 1567.7M1691 1567.7L1694.1 1567.7M1687.3 1567.8L1687.3 1566.5M1692.6 1567.7L1692.6 1566.5M1687.3 1566.5L1692.6 1566.5M1696.1 1597L1696.1 1566.8M1697.4 1597L1697.4 1566.8M1696.1 1566.8L1697.4 1566.8M1689.9 1566.5L1689.9 1565.2M1696.8 1566.8L1696.8 1565.2M1689.9 1565.2L1696.8 1565.2M1698.8 1597L1698.8 1566.4M1700.1 1597L1700.1 1566.4M1698.8 1566.4L1700.1 1566.4M1699.5 1566.4L1699.5 1562.9M1701.5 1597L1701.5 1562.9M1699.5 1562.9L1701.5 1562.9M1693.4 1565.2L1693.4 1559.7M1700.5 1562.9L1700.5 1559.7M1693.4 1559.7L1700.5 1559.7M1704.2 1597L1704.2 1567.5M1705.5 1597L1705.5 1567.5M1704.2 1567.5L1705.5 1567.5M1704.8 1567.5L1704.8 1566.7M1706.9 1597L1706.9 1566.7M1704.8 1566.7L1706.9 1566.7M1708.2 1597L1708.2 1566.1M1709.6 1597L1709.6 1566.1M1708.2 1566.1L1709.6 1566.1M1705.8 1566.7L1705.8 1565.2M1708.9 1566.1L1708.9 1565.2M1705.8 1565.2L1708.9 1565.2M1702.8 1597L1702.8 1561.3M1707.4 1565.2L1707.4 1561.3M1702.8 1561.3L1707.4 1561.3M1696.9 1559.7L1696.9 1556.3M1705.1 1561.3L1705.1 1556.3M1696.9 1556.3L1705.1 1556.3M1712.2 1597L1712.2 1566M1713.6 1597L1713.6 1566M1712.2 1566L1713.6 1566M1712.9 1566L1712.9 1565.3M1714.9 1597L1714.9 1565.3M1712.9 1565.3L1714.9 1565.3M1716.3 1597L1716.3 1563.4M1717.6 1597L1717.6 1563.4M1716.3 1563.4L1717.6 1563.4M1713.9 1565.3L1713.9 1561.5M1717 1563.4L1717 1561.5M1713.9 1561.5L1717 1561.5M1710.9 1597L1710.9 1560.4M1715.4 1561.5L1715.4 1560.4M1710.9 1560.4L1715.4 1560.4M1701 1556.3L1701 1552.9M1713.2 1560.4L1713.2 1552.9M1701 1552.9L1713.2 1552.9M1720.3 1597L1720.3 1566.9M1721.7 1597L1721.7 1566.9M1720.3 1566.9L1721.7 1566.9M1719 1597L1719 1565.7M1721 1566.9L1721 1565.7M1719 1565.7L1721 1565.7M1720 1565.7L1720 1565.2M1723 1597L1723 1565.2M1720 1565.2L1723 1565.2M1724.4 1597L1724.4 1567.2M1725.7 1597L1725.7 1567.2M1724.4 1567.2L1725.7 1567.2M1725 1567.2L1725 1565.1M1727.1 1597L1727.1 1565.1M1725 1565.1L1727.1 1565.1M1721.5 1565.2L1721.5 1564.3M1726 1565.1L1726 1564.3M1721.5 1564.3L1726 1564.3M1728.4 1597L1728.4 1564.7M1729.8 1597L1729.8 1564.7M1728.4 1564.7L1729.8 1564.7M1723.8 1564.3L1723.8 1560.9M1729.1 1564.7L1729.1 1560.9M1723.8 1560.9L1729.1 1560.9M1733.8 1597L1733.8 1566.8M1735.1 1597L1735.1 1566.8M1733.8 1566.8L1735.1 1566.8M1732.4 1597L1732.4 1564.6M1734.5 1566.8L1734.5 1564.6M1732.4 1564.6L1734.5 1564.6M1731.1 1597L1731.1 1563M1733.5 1564.6L1733.5 1563M1731.1 1563L1733.5 1563M1737.8 1597L1737.8 1565.9M1739.2 1597L1739.2 1565.9M1737.8 1565.9L1739.2 1565.9M1736.5 1597L1736.5 1563.3M1738.5 1565.9L1738.5 1563.3M1736.5 1563.3L1738.5 1563.3M1732.3 1563L1732.3 1558.8M1737.5 1563.3L1737.5 1558.8M1732.3 1558.8L1737.5 1558.8M1726.4 1560.9L1726.4 1552.6M1734.9 1558.8L1734.9 1552.6M1726.4 1552.6L1734.9 1552.6M1707.1 1552.9L1707.1 1549M1730.7 1552.6L1730.7 1549M1707.1 1549L1730.7 1549M1646.6 1554.7L1646.6 1541.2M1718.9 1549L1718.9 1541.2M1646.6 1541.2L1718.9 1541.2M1741.9 1597L1741.9 1561.8M1743.2 1597L1743.2 1561.8M1741.9 1561.8L1743.2 1561.8M1740.5 1597L1740.5 1554.7M1742.5 1561.8L1742.5 1554.7M1740.5 1554.7L1742.5 1554.7M1744.6 1597L1744.6 1561.2M1745.9 1597L1745.9 1561.2M1744.6 1561.2L1745.9 1561.2M1747.3 1597L1747.3 1565.6M1748.6 1597L1748.6 1565.6M1747.3 1565.6L1748.6 1565.6M1747.9 1565.6L1747.9 1563.4M1750 1597L1750 1563.4M1747.9 1563.4L1750 1563.4M1745.2 1561.2L1745.2 1560M1748.9 1563.4L1748.9 1560M1745.2 1560L1748.9 1560M1752.6 1597L1752.6 1562.8M1754 1597L1754 1562.8M1752.6 1562.8L1754 1562.8M1751.3 1597L1751.3 1559.4M1753.3 1562.8L1753.3 1559.4M1751.3 1559.4L1753.3 1559.4M1752.3 1559.4L1752.3 1557.7M1755.3 1597L1755.3 1557.7M1752.3 1557.7L1755.3 1557.7M1747.1 1560L1747.1 1556.3M1753.8 1557.7L1753.8 1556.3M1747.1 1556.3L1753.8 1556.3M1741.5 1554.7L1741.5 1552.4M1750.5 1556.3L1750.5 1552.4M1741.5 1552.4L1750.5 1552.4M1756.7 1597L1756.7 1564.9M1758 1597L1758 1564.9M1756.7 1564.9L1758 1564.9M1759.4 1597L1759.4 1567.1M1760.7 1597L1760.7 1567.1M1759.4 1567.1L1760.7 1567.1M1760.1 1567.1L1760.1 1566M1762.1 1597L1762.1 1566M1760.1 1566L1762.1 1566M1757.4 1564.9L1757.4 1564.1M1761.1 1566L1761.1 1564.1M1757.4 1564.1L1761.1 1564.1M1766.1 1597L1766.1 1568.4M1767.5 1597L1767.5 1568.4M1766.1 1568.4L1767.5 1568.4M1768.8 1597L1768.8 1568.4M1770.2 1597L1770.2 1568.4M1768.8 1568.4L1770.2 1568.4M1766.8 1568.4L1766.8 1567.9M1769.5 1568.4L1769.5 1567.9M1766.8 1567.9L1769.5 1567.9M1764.8 1597L1764.8 1567.4M1768.1 1567.9L1768.1 1567.4M1764.8 1567.4L1768.1 1567.4M1763.4 1597L1763.4 1566.5M1766.4 1567.4L1766.4 1566.5M1763.4 1566.5L1766.4 1566.5M1771.5 1597L1771.5 1566.9M1772.8 1597L1772.8 1566.9M1771.5 1566.9L1772.8 1566.9M1764.9 1566.5L1764.9 1565.4M1772.2 1566.9L1772.2 1565.4M1764.9 1565.4L1772.2 1565.4M1759.2 1564.1L1759.2 1562.5M1768.6 1565.4L1768.6 1562.5M1759.2 1562.5L1768.6 1562.5M1774.2 1597L1774.2 1567.3M1775.5 1597L1775.5 1567.3M1774.2 1567.3L1775.5 1567.3M1774.9 1567.3L1774.9 1566M1776.9 1597L1776.9 1566M1774.9 1566L1776.9 1566M1778.2 1597L1778.2 1566.9M1779.6 1597L1779.6 1566.9M1778.2 1566.9L1779.6 1566.9M1778.9 1566.9L1778.9 1566.1M1780.9 1597L1780.9 1566.1M1778.9 1566.1L1780.9 1566.1M1775.9 1566L1775.9 1562.2M1779.9 1566.1L1779.9 1562.2M1775.9 1562.2L1779.9 1562.2M1763.9 1562.5L1763.9 1556.9M1777.9 1562.2L1777.9 1556.9M1763.9 1556.9L1777.9 1556.9M1746 1552.4L1746 1542.9M1770.9 1556.9L1770.9 1542.9M1746 1542.9L1770.9 1542.9M1783.6 1597L1783.6 1564.5M1785 1597L1785 1564.5M1783.6 1564.5L1785 1564.5M1782.3 1597L1782.3 1558.5M1784.3 1564.5L1784.3 1558.5M1782.3 1558.5L1784.3 1558.5M1789 1597L1789 1564.2M1790.4 1597L1790.4 1564.2M1789 1564.2L1790.4 1564.2M1787.7 1597L1787.7 1560.2M1789.7 1564.2L1789.7 1560.2M1787.7 1560.2L1789.7 1560.2M1788.7 1560.2L1788.7 1558.9M1791.7 1597L1791.7 1558.9M1788.7 1558.9L1791.7 1558.9M1786.3 1597L1786.3 1551.7M1790.2 1558.9L1790.2 1551.7M1786.3 1551.7L1790.2 1551.7M1783.3 1558.5L1783.3 1549.5M1788.2 1551.7L1788.2 1549.5M1783.3 1549.5L1788.2 1549.5M1793 1597L1793 1563.9M1794.4 1597L1794.4 1563.9M1793 1563.9L1794.4 1563.9M1795.7 1597L1795.7 1564.5M1797.1 1597L1797.1 1564.5M1795.7 1564.5L1797.1 1564.5M1793.7 1563.9L1793.7 1563.1M1796.4 1564.5L1796.4 1563.1M1793.7 1563.1L1796.4 1563.1M1795.1 1563.1L1795.1 1562.4M1798.4 1597L1798.4 1562.4M1795.1 1562.4L1798.4 1562.4M1801.1 1597L1801.1 1565.4M1802.5 1597L1802.5 1565.4M1801.1 1565.4L1802.5 1565.4M1799.8 1597L1799.8 1564.8M1801.8 1565.4L1801.8 1564.8M1799.8 1564.8L1801.8 1564.8M1796.8 1562.4L1796.8 1561.2M1800.8 1564.8L1800.8 1561.2M1796.8 1561.2L1800.8 1561.2M1803.8 1597L1803.8 1562.8M1805.2 1597L1805.2 1562.8M1803.8 1562.8L1805.2 1562.8M1804.5 1562.8L1804.5 1557.5M1806.5 1597L1806.5 1557.5M1804.5 1557.5L1806.5 1557.5M1798.8 1561.2L1798.8 1554.3M1805.5 1557.5L1805.5 1554.3M1798.8 1554.3L1805.5 1554.3M1785.8 1549.5L1785.8 1543.9M1802.1 1554.3L1802.1 1543.9M1785.8 1543.9L1802.1 1543.9M1807.9 1597L1807.9 1559.6M1809.2 1597L1809.2 1559.6M1807.9 1559.6L1809.2 1559.6M1808.5 1559.6L1808.5 1558M1810.6 1597L1810.6 1558M1808.5 1558L1810.6 1558M1809.5 1558L1809.5 1556.5M1811.9 1597L1811.9 1556.5M1809.5 1556.5L1811.9 1556.5M1814.6 1597L1814.6 1563.3M1815.9 1597L1815.9 1563.3M1814.6 1563.3L1815.9 1563.3M1813.2 1597L1813.2 1558.9M1815.3 1563.3L1815.3 1558.9M1813.2 1558.9L1815.3 1558.9M1810.7 1556.5L1810.7 1551.5M1814.3 1558.9L1814.3 1551.5M1810.7 1551.5L1814.3 1551.5M1818.6 1597L1818.6 1560.9M1820 1597L1820 1560.9M1818.6 1560.9L1820 1560.9M1817.3 1597L1817.3 1559M1819.3 1560.9L1819.3 1559M1817.3 1559L1819.3 1559M1818.3 1559L1818.3 1556.8M1821.3 1597L1821.3 1556.8M1818.3 1556.8L1821.3 1556.8M1812.5 1551.5L1812.5 1546.1M1819.8 1556.8L1819.8 1546.1M1812.5 1546.1L1819.8 1546.1M1794 1543.9L1794 1537.3M1816.2 1546.1L1816.2 1537.3M1794 1537.3L1816.2 1537.3M1758.4 1542.9L1758.4 1523.3M1805.1 1537.3L1805.1 1523.3M1758.4 1523.3L1805.1 1523.3M1682.7 1541.2L1682.7 1513M1781.7 1523.3L1781.7 1513M1682.7 1513L1781.7 1513M1573.6 1529L1573.6 1503.5M1732.2 1513L1732.2 1503.5M1573.6 1503.5L1732.2 1503.5M1822.7 1597L1822.7 1528.6M1824 1597L1824 1528.6M1822.7 1528.6L1824 1528.6M1823.4 1528.6L1823.4 1523.9M1825.4 1597L1825.4 1523.9M1823.4 1523.9L1825.4 1523.9M1826.7 1597L1826.7 1524.5M1828.1 1597L1828.1 1524.5M1826.7 1524.5L1828.1 1524.5M1824.4 1523.9L1824.4 1519.3M1827.4 1524.5L1827.4 1519.3M1824.4 1519.3L1827.4 1519.3M1829.4 1597L1829.4 1530.1M1830.8 1597L1830.8 1530.1M1829.4 1530.1L1830.8 1530.1M1830.1 1530.1L1830.1 1526.1M1832.1 1597L1832.1 1526.1M1830.1 1526.1L1832.1 1526.1M1834.8 1597L1834.8 1527.8M1836.2 1597L1836.2 1527.8M1834.8 1527.8L1836.2 1527.8M1833.5 1597L1833.5 1525M1835.5 1527.8L1835.5 1525M1833.5 1525L1835.5 1525M1831.1 1526.1L1831.1 1521M1834.5 1525L1834.5 1521M1831.1 1521L1834.5 1521M1838.9 1597L1838.9 1527.7M1840.2 1597L1840.2 1527.7M1838.9 1527.7L1840.2 1527.7M1841.6 1597L1841.6 1526.6M1843 1597L1843 1526.6M1841.6 1526.6L1843 1526.6M1839.6 1527.7L1839.6 1525.2M1842.3 1526.6L1842.3 1525.2M1839.6 1525.2L1842.3 1525.2M1837.5 1597L1837.5 1522.2M1840.9 1525.2L1840.9 1522.2M1837.5 1522.2L1840.9 1522.2M1832.8 1521L1832.8 1516.1M1839.2 1522.2L1839.2 1516.1M1832.8 1516.1L1839.2 1516.1M1825.9 1519.3L1825.9 1507.1M1836 1516.1L1836 1507.1M1825.9 1507.1L1836 1507.1M1844.3 1597L1844.3 1527.6M1845.7 1597L1845.7 1527.6M1844.3 1527.6L1845.7 1527.6M1847 1597L1847 1528.8M1848.4 1597L1848.4 1528.8M1847 1528.8L1848.4 1528.8M1847.7 1528.8L1847.7 1527.9M1849.7 1597L1849.7 1527.9M1847.7 1527.9L1849.7 1527.9M1845 1527.6L1845 1525.6M1848.7 1527.9L1848.7 1525.6M1845 1525.6L1848.7 1525.6M1846.8 1525.6L1846.8 1523M1851.1 1597L1851.1 1523M1846.8 1523L1851.1 1523M1853.8 1597L1853.8 1526.5M1855.1 1597L1855.1 1526.5M1853.8 1526.5L1855.1 1526.5M1854.4 1526.5L1854.4 1523.3M1856.5 1597L1856.5 1523.3M1854.4 1523.3L1856.5 1523.3M1852.4 1597L1852.4 1513.7M1855.5 1523.3L1855.5 1513.7M1852.4 1513.7L1855.5 1513.7M1848.9 1523L1848.9 1510.8M1853.9 1513.7L1853.9 1510.8M1848.9 1510.8L1853.9 1510.8M1859.2 1597L1859.2 1525.9M1860.5 1597L1860.5 1525.9M1859.2 1525.9L1860.5 1525.9M1857.8 1597L1857.8 1521.3M1859.8 1525.9L1859.8 1521.3M1857.8 1521.3L1859.8 1521.3M1851.4 1510.8L1851.4 1507.6M1858.8 1521.3L1858.8 1507.6M1851.4 1507.6L1858.8 1507.6M1831 1507.1L1831 1493M1855.1 1507.6L1855.1 1493M1831 1493L1855.1 1493M1652.9 1503.5L1652.9 1489.4M1843 1493L1843 1489.4M1652.9 1489.4L1843 1489.4M1450.9 1493.4L1450.9 1485M1748 1489.4L1748 1485M1450.9 1485L1748 1485M1337.2 1486.7L1337.2 1480.7M1599.5 1485L1599.5 1480.7M1337.2 1480.7L1599.5 1480.7"/>
<rect x="1289.8" y="1603.9" width="572.4" height="34.6" fill="#fdcd63"/>
<rect x="1339" y="1603.9" width="39.9" height="34.6" fill="#007ba7"/>
<rect x="1489" y="1603.9" width="48.6" height="34.6" fill="#007ba7"/>
<rect x="1825" y="1603.9" width="37.2" height="34.6" fill="#007ba7"/>
<rect x="1289.8" y="1643" width="572.4" height="33.2" fill="#e8a885"/>
<rect x="1360" y="1643" width="2.7" height="33.2" fill="#364e6e"/>
<rect x="1376.2" y="1643" width="2.3" height="33.2" fill="#364e6e"/>
<rect x="1378.5" y="1643" width="42.5" height="33.2" fill="#e4696e"/>
<rect x="1421" y="1643" width="67.5" height="33.2" fill="#364e6e"/>
<rect x="1488.5" y="1643" width="336.5" height="33.2" fill="#6b557a"/>
<rect x="1825" y="1643" width="34.6" height="33.2" fill="#e4696e"/>
<rect x="1859.6" y="1643" width="2.6" height="33.2" fill="#364e6e"/>
<text x="1873" y="1630" font-size="24">Cohort</text>
<text x="1873" y="1669" font-size="24">Type</text>
<path fill="none" stroke="#000" stroke-width="2.6" stroke-linecap="square" d="M1285.5 1689.8L1268.1 1689.8M1285.5 1691.5L1268.1 1691.5M1268.1 1689.8L1268.1 1691.5M1285.5 1693.1L1270.7 1693.1M1285.5 1694.8L1270.7 1694.8M1270.7 1693.1L1270.7 1694.8M1270.7 1693.9L1270.3 1693.9M1285.5 1696.4L1270.3 1696.4M1270.3 1693.9L1270.3 1696.4M1268.1 1690.6L1266.9 1690.6M1270.3 1695.2L1266.9 1695.2M1266.9 1690.6L1266.9 1695.2M1285.5 1698L1266.6 1698M1285.5 1699.7L1266.6 1699.7M1266.6 1698L1266.6 1699.7M1266.9 1692.9L1265 1692.9M1266.6 1698.9L1265 1698.9M1265 1692.9L1265 1698.9M1285.5 1701.3L1268.8 1701.3M1285.5 1703L1268.8 1703M1268.8 1701.3L1268.8 1703M1268.8 1702.1L1267.9 1702.1M1285.5 1704.6L1267.9 1704.6M1267.9 1702.1L1267.9 1704.6M1285.5 1706.2L1270.6 1706.2M1285.5 1707.9L1270.6 1707.9M1270.6 1706.2L1270.6 1707.9M1285.5 1709.5L1269.9 1709.5M1285.5 1711.2L1269.9 1711.2M1269.9 1709.5L1269.9 1711.2M1270.6 1707.1L1268.2 1707.1M1269.9 1710.4L1268.2 1710.4M1268.2 1707.1L1268.2 1710.4M1267.9 1703.4L1262.7 1703.4M1268.2 1708.7L1262.7 1708.7M1262.7 1703.4L1262.7 1708.7M1265 1695.9L1251.8 1695.9M1262.7 1706L1251.8 1706M1251.8 1695.9L1251.8 1706M1285.5 1712.8L1257.7 1712.8M1285.5 1714.5L1257.7 1714.5M1257.7 1712.8L1257.7 1714.5M1285.5 1716.2L1265 1716.2M1285.5 1717.8L1265 1717.8M1265 1716.2L1265 1717.8M1257.7 1713.7L1254.8 1713.7M1265 1717L1254.8 1717M1254.8 1713.7L1254.8 1717M1285.5 1719.5L1266.6 1719.5M1285.5 1721.2L1266.6 1721.2M1266.6 1719.5L1266.6 1721.2M1266.6 1720.3L1265.6 1720.3M1285.5 1722.8L1265.6 1722.8M1265.6 1720.3L1265.6 1722.8M1285.5 1726.2L1270 1726.2M1285.5 1727.8L1270 1727.8M1270 1726.2L1270 1727.8M1285.5 1724.5L1268.7 1724.5M1270 1727L1268.7 1727M1268.7 1724.5L1268.7 1727M1285.5 1731.2L1270.2 1731.2M1285.5 1732.8L1270.2 1732.8M1270.2 1731.2L1270.2 1732.8M1285.5 1729.5L1269.4 1729.5M1270.2 1732L1269.4 1732M1269.4 1729.5L1269.4 1732M1268.7 1725.8L1266.9 1725.8M1269.4 1730.8L1266.9 1730.8M1266.9 1725.8L1266.9 1730.8M1285.5 1734.5L1269.5 1734.5M1285.5 1736.2L1269.5 1736.2M1269.5 1734.5L1269.5 1736.2M1285.5 1737.8L1270.4 1737.8M1285.5 1739.5L1270.4 1739.5M1270.4 1737.8L1270.4 1739.5M1270.4 1738.7L1268.3 1738.7M1285.5 1741.2L1268.3 1741.2M1268.3 1738.7L1268.3 1741.2M1269.5 1735.3L1267 1735.3M1268.3 1739.9L1267 1739.9M1267 1735.3L1267 1739.9M1266.9 1728.2L1265.7 1728.2M1267 1737.6L1265.7 1737.6M1265.7 1728.2L1265.7 1737.6M1265.6 1721.6L1261.5 1721.6M1265.7 1732.9L1261.5 1732.9M1261.5 1721.6L1261.5 1732.9M1254.8 1715.3L1246.5 1715.3M1261.5 1727.3L1246.5 1727.3M1246.5 1715.3L1246.5 1727.3M1285.5 1742.9L1271 1742.9M1285.5 1744.6L1271 1744.6M1271 1742.9L1271 1744.6M1271 1743.7L1270.7 1743.7M1285.5 1746.3L1270.7 1746.3M1270.7 1743.7L1270.7 1746.3M1285.5 1748L1269.8 1748M1285.5 1749.7L1269.8 1749.7M1269.8 1748L1269.8 1749.7M1270.7 1745L1269.2 1745M1269.8 1748.8L1269.2 1748.8M1269.2 1745L1269.2 1748.8M1285.5 1751.4L1270 1751.4M1285.5 1753.1L1270 1753.1M1270 1751.4L1270 1753.1M1269.2 1746.9L1268 1746.9M1270 1752.2L1268 1752.2M1268 1746.9L1268 1752.2M1285.5 1754.8L1269.8 1754.8M1285.5 1756.5L1269.8 1756.5M1269.8 1754.8L1269.8 1756.5M1269.8 1755.7L1269.2 1755.7M1285.5 1758.2L1269.2 1758.2M1269.2 1755.7L1269.2 1758.2M1285.5 1759.9L1269.5 1759.9M1285.5 1761.6L1269.5 1761.6M1269.5 1759.9L1269.5 1761.6M1269.2 1756.9L1268.6 1756.9M1269.5 1760.8L1268.6 1760.8M1268.6 1756.9L1268.6 1760.8M1268 1749.6L1264.1 1749.6M1268.6 1758.9L1264.1 1758.9M1264.1 1749.6L1264.1 1758.9M1285.5 1763.3L1271 1763.3M1285.5 1765L1271 1765M1271 1763.3L1271 1765M1271 1764.2L1269.6 1764.2M1285.5 1766.7L1269.6 1766.7M1269.6 1764.2L1269.6 1766.7M1285.5 1768.5L1270 1768.5M1285.5 1770.2L1270 1770.2M1270 1768.5L1270 1770.2M1269.6 1765.5L1266.8 1765.5M1270 1769.3L1266.8 1769.3M1266.8 1765.5L1266.8 1769.3M1285.5 1771.9L1270 1771.9M1285.5 1773.6L1270 1773.6M1270 1771.9L1270 1773.6M1270 1772.7L1266.6 1772.7M1285.5 1775.3L1266.6 1775.3M1266.6 1772.7L1266.6 1775.3M1266.6 1774L1264.1 1774M1285.5 1777L1264.1 1777M1264.1 1774L1264.1 1777M1285.5 1780.4L1269.9 1780.4M1285.5 1782.1L1269.9 1782.1M1269.9 1780.4L1269.9 1782.1M1269.9 1781.3L1269 1781.3M1285.5 1783.8L1269 1783.8M1269 1781.3L1269 1783.8M1285.5 1778.7L1265.6 1778.7M1269 1782.5L1265.6 1782.5M1265.6 1778.7L1265.6 1782.5M1264.1 1775.5L1262.2 1775.5M1265.6 1780.6L1262.2 1780.6M1262.2 1775.5L1262.2 1780.6M1266.8 1767.4L1259.8 1767.4M1262.2 1778.1L1259.8 1778.1M1259.8 1767.4L1259.8 1778.1M1264.1 1754.2L1257.6 1754.2M1259.8 1772.7L1257.6 1772.7M1257.6 1754.2L1257.6 1772.7M1285.5 1785.5L1271 1785.5M1285.5 1787.2L1271 1787.2M1271 1785.5L1271 1787.2M1271 1786.4L1270.6 1786.4M1285.5 1788.9L1270.6 1788.9M1270.6 1786.4L1270.6 1788.9M1285.5 1790.6L1269.7 1790.6M1285.5 1792.3L1269.7 1792.3M1269.7 1790.6L1269.7 1792.3M1270.6 1787.7L1268.9 1787.7M1269.7 1791.5L1268.9 1791.5M1268.9 1787.7L1268.9 1791.5M1268.9 1789.6L1264 1789.6M1285.5 1794.1L1264 1794.1M1264 1789.6L1264 1794.1M1285.5 1795.8L1270.3 1795.8M1285.5 1797.5L1270.3 1797.5M1270.3 1795.8L1270.3 1797.5M1270.3 1796.6L1268.6 1796.6M1285.5 1799.2L1268.6 1799.2M1268.6 1796.6L1268.6 1799.2M1285.5 1800.9L1269.7 1800.9M1285.5 1802.6L1269.7 1802.6M1269.7 1800.9L1269.7 1802.6M1285.5 1806L1271.4 1806M1285.5 1807.7L1271.4 1807.7M1271.4 1806L1271.4 1807.7M1271.4 1806.9L1271.3 1806.9M1285.5 1809.4L1271.3 1809.4M1271.3 1806.9L1271.3 1809.4M1285.5 1804.3L1270.8 1804.3M1271.3 1808.1L1270.8 1808.1M1270.8 1804.3L1270.8 1808.1M1270.8 1806.2L1269.8 1806.2M1285.5 1811.1L1269.8 1811.1M1269.8 1806.2L1269.8 1811.1M1269.7 1801.7L1267.4 1801.7M1269.8 1808.7L1267.4 1808.7M1267.4 1801.7L1267.4 1808.7M1268.6 1797.9L1265.9 1797.9M1267.4 1805.2L1265.9 1805.2M1265.9 1797.9L1265.9 1805.2M1264 1791.8L1262.7 1791.8M1265.9 1801.5L1262.7 1801.5M1262.7 1791.8L1262.7 1801.5M1285.5 1812.8L1271.4 1812.8M1285.5 1814.5L1271.4 1814.5M1271.4 1812.8L1271.4 1814.5M1285.5 1816.2L1271.4 1816.2M1285.5 1817.9L1271.4 1817.9M1271.4 1816.2L1271.4 1817.9M1271.4 1817.1L1271.3 1817.1M1285.5 1819.7L1271.3 1819.7M1271.3 1817.1L1271.3 1819.7M1271.4 1813.7L1271.2 1813.7M1271.3 1818.4L1271.2 1818.4M1271.2 1813.7L1271.2 1818.4M1285.5 1823.1L1271.3 1823.1M1285.5 1824.8L1271.3 1824.8M1271.3 1823.1L1271.3 1824.8M1285.5 1821.4L1270.9 1821.4M1271.3 1823.9L1270.9 1823.9M1270.9 1821.4L1270.9 1823.9M1271.2 1816L1270.3 1816M1270.9 1822.6L1270.3 1822.6M1270.3 1816L1270.3 1822.6M1285.5 1826.5L1270.7 1826.5M1285.5 1828.2L1270.7 1828.2M1270.7 1826.5L1270.7 1828.2M1285.5 1833.3L1271.4 1833.3M1285.5 1835L1271.4 1835M1271.4 1833.3L1271.4 1835M1285.5 1831.6L1271.3 1831.6M1271.4 1834.2L1271.3 1834.2M1271.3 1831.6L1271.3 1834.2M1285.5 1829.9L1271.1 1829.9M1271.3 1832.9L1271.1 1832.9M1271.1 1829.9L1271.1 1832.9M1270.7 1827.3L1270.1 1827.3M1271.1 1831.4L1270.1 1831.4M1270.1 1827.3L1270.1 1831.4M1270.3 1819.3L1268.7 1819.3M1270.1 1829.4L1268.7 1829.4M1268.7 1819.3L1268.7 1829.4M1285.5 1838.4L1270.9 1838.4M1285.5 1840.1L1270.9 1840.1M1270.9 1838.4L1270.9 1840.1M1285.5 1836.7L1270.8 1836.7M1270.9 1839.3L1270.8 1839.3M1270.8 1836.7L1270.8 1839.3M1270.8 1838L1269.7 1838M1285.5 1841.8L1269.7 1841.8M1269.7 1838L1269.7 1841.8M1285.5 1845.3L1271.1 1845.3M1285.5 1847L1271.1 1847M1271.1 1845.3L1271.1 1847M1271.1 1846.1L1271 1846.1M1285.5 1848.7L1271 1848.7M1271 1846.1L1271 1848.7M1285.5 1843.5L1270.6 1843.5M1271 1847.4L1270.6 1847.4M1270.6 1843.5L1270.6 1847.4M1269.7 1839.9L1269.2 1839.9M1270.6 1845.5L1269.2 1845.5M1269.2 1839.9L1269.2 1845.5M1268.7 1824.3L1267.1 1824.3M1269.2 1842.7L1267.1 1842.7M1267.1 1824.3L1267.1 1842.7M1262.7 1796.7L1258.6 1796.7M1267.1 1833.5L1258.6 1833.5M1258.6 1796.7L1258.6 1833.5M1285.5 1852.1L1270.3 1852.1M1285.5 1853.8L1270.3 1853.8M1270.3 1852.1L1270.3 1853.8M1285.5 1850.4L1269.1 1850.4M1270.3 1852.9L1269.1 1852.9M1269.1 1850.4L1269.1 1852.9M1285.5 1857.2L1269.5 1857.2M1285.5 1858.9L1269.5 1858.9M1269.5 1857.2L1269.5 1858.9M1285.5 1855.5L1267.7 1855.5M1269.5 1858.1L1267.7 1858.1M1267.7 1855.5L1267.7 1858.1M1269.1 1851.7L1266 1851.7M1267.7 1856.8L1266 1856.8M1266 1851.7L1266 1856.8M1285.5 1860.6L1270.1 1860.6M1285.5 1862.3L1270.1 1862.3M1270.1 1860.6L1270.1 1862.3M1285.5 1864L1270.5 1864M1285.5 1865.7L1270.5 1865.7M1270.5 1864L1270.5 1865.7M1270.1 1861.5L1269.8 1861.5M1270.5 1864.9L1269.8 1864.9M1269.8 1861.5L1269.8 1864.9M1285.5 1867.4L1269.9 1867.4M1285.5 1869.1L1269.9 1869.1M1269.9 1867.4L1269.9 1869.1M1269.8 1863.2L1268 1863.2M1269.9 1868.3L1268 1868.3M1268 1863.2L1268 1868.3M1266 1854.2L1259.9 1854.2M1268 1865.7L1259.9 1865.7M1259.9 1854.2L1259.9 1865.7M1258.6 1815.1L1255.5 1815.1M1259.9 1860L1255.5 1860M1255.5 1815.1L1255.5 1860M1257.6 1763.5L1250.5 1763.5M1255.5 1837.5L1250.5 1837.5M1250.5 1763.5L1250.5 1837.5M1285.5 1870.9L1268.4 1870.9M1285.5 1872.6L1268.4 1872.6M1268.4 1870.9L1268.4 1872.6M1285.5 1876L1271.1 1876M1285.5 1877.7L1271.1 1877.7M1271.1 1876L1271.1 1877.7M1285.5 1879.4L1270.9 1879.4M1285.5 1881.1L1270.9 1881.1M1270.9 1879.4L1270.9 1881.1M1271.1 1876.8L1270.5 1876.8M1270.9 1880.2L1270.5 1880.2M1270.5 1876.8L1270.5 1880.2M1285.5 1874.3L1269.7 1874.3M1270.5 1878.5L1269.7 1878.5M1269.7 1874.3L1269.7 1878.5M1285.5 1882.8L1271.1 1882.8M1285.5 1884.5L1271.1 1884.5M1271.1 1882.8L1271.1 1884.5M1285.5 1886.2L1271 1886.2M1285.5 1887.9L1271 1887.9M1271 1886.2L1271 1887.9M1271.1 1883.6L1270.5 1883.6M1271 1887L1270.5 1887M1270.5 1883.6L1270.5 1887M1269.7 1876.4L1268.3 1876.4M1270.5 1885.3L1268.3 1885.3M1268.3 1876.4L1268.3 1885.3M1268.4 1871.7L1265.4 1871.7M1268.3 1880.8L1265.4 1880.8M1265.4 1871.7L1265.4 1880.8M1285.5 1889.6L1270 1889.6M1285.5 1891.3L1270 1891.3M1270 1889.6L1270 1891.3M1285.5 1893L1269.9 1893M1285.5 1894.7L1269.9 1894.7M1269.9 1893L1269.9 1894.7M1270 1890.4L1269.1 1890.4M1269.9 1893.8L1269.1 1893.8M1269.1 1890.4L1269.1 1893.8M1285.5 1896.4L1270.8 1896.4M1285.5 1898.1L1270.8 1898.1M1270.8 1896.4L1270.8 1898.1M1270.8 1897.2L1270.2 1897.2M1285.5 1899.8L1270.2 1899.8M1270.2 1897.2L1270.2 1899.8M1269.1 1892.1L1268 1892.1M1270.2 1898.5L1268 1898.5M1268 1892.1L1268 1898.5M1285.5 1901.5L1271.2 1901.5M1285.5 1903.2L1271.2 1903.2M1271.2 1901.5L1271.2 1903.2M1285.5 1904.9L1271.2 1904.9M1285.5 1906.6L1271.2 1906.6M1271.2 1904.9L1271.2 1906.6M1271.2 1902.3L1271.1 1902.3M1271.2 1905.7L1271.1 1905.7M1271.1 1902.3L1271.1 1905.7M1285.5 1908.3L1271.4 1908.3M1285.5 1910L1271.4 1910M1271.4 1908.3L1271.4 1910M1271.4 1909.1L1271.2 1909.1M1285.5 1911.7L1271.2 1911.7M1271.2 1909.1L1271.2 1911.7M1271.1 1904L1270.9 1904M1271.2 1910.4L1270.9 1910.4M1270.9 1904L1270.9 1910.4M1285.5 1915.1L1270.9 1915.1M1285.5 1916.8L1270.9 1916.8M1270.9 1915.1L1270.9 1916.8M1285.5 1913.4L1270.5 1913.4M1270.9 1915.9L1270.5 1915.9M1270.5 1913.4L1270.5 1915.9M1270.9 1907.2L1269.7 1907.2M1270.5 1914.7L1269.7 1914.7M1269.7 1907.2L1269.7 1914.7M1268 1895.3L1266 1895.3M1269.7 1910.9L1266 1910.9M1266 1895.3L1266 1910.9M1285.5 1918.5L1270.9 1918.5M1285.5 1920.2L1270.9 1920.2M1270.9 1918.5L1270.9 1920.2M1270.9 1919.3L1270 1919.3M1285.5 1921.9L1270 1921.9M1270 1919.3L1270 1921.9M1285.5 1923.6L1271.1 1923.6M1285.5 1925.3L1271.1 1925.3M1271.1 1923.6L1271.1 1925.3M1271.1 1924.4L1269.9 1924.4M1285.5 1927L1269.9 1927M1269.9 1924.4L1269.9 1927M1270 1920.6L1268.1 1920.6M1269.9 1925.7L1268.1 1925.7M1268.1 1920.6L1268.1 1925.7M1285.5 1932.1L1271.2 1932.1M1285.5 1933.8L1271.2 1933.8M1271.2 1932.1L1271.2 1933.8M1285.5 1930.4L1270.6 1930.4M1271.2 1933L1270.6 1933M1270.6 1930.4L1270.6 1933M1285.5 1928.7L1270.1 1928.7M1270.6 1931.7L1270.1 1931.7M1270.1 1928.7L1270.1 1931.7M1285.5 1935.5L1269.8 1935.5M1285.5 1937.2L1269.8 1937.2M1269.8 1935.5L1269.8 1937.2M1270.1 1930.2L1269.3 1930.2M1269.8 1936.4L1269.3 1936.4M1269.3 1930.2L1269.3 1936.4M1268.1 1923.2L1266.5 1923.2M1269.3 1933.3L1266.5 1933.3M1266.5 1923.2L1266.5 1933.3M1266 1903.1L1264.8 1903.1M1266.5 1928.2L1264.8 1928.2M1264.8 1903.1L1264.8 1928.2M1265.4 1876.3L1259.4 1876.3M1264.8 1915.7L1259.4 1915.7M1259.4 1876.3L1259.4 1915.7M1285.5 1938.9L1270.6 1938.9M1285.5 1940.6L1270.6 1940.6M1270.6 1938.9L1270.6 1940.6M1285.5 1942.3L1271.3 1942.3M1285.5 1944L1271.3 1944M1271.3 1942.3L1271.3 1944M1271.3 1943.2L1271 1943.2M1285.5 1945.7L1271 1945.7M1271 1943.2L1271 1945.7M1285.5 1947.4L1270.9 1947.4M1285.5 1949.1L1270.9 1949.1M1270.9 1947.4L1270.9 1949.1M1271 1944.4L1270.7 1944.4M1270.9 1948.3L1270.7 1948.3M1270.7 1944.4L1270.7 1948.3M1270.6 1939.8L1270.2 1939.8M1270.7 1946.3L1270.2 1946.3M1270.2 1939.8L1270.2 1946.3M1285.5 1952.5L1271 1952.5M1285.5 1954.2L1271 1954.2M1271 1952.5L1271 1954.2M1285.5 1950.8L1270.2 1950.8M1271 1953.4L1270.2 1953.4M1270.2 1950.8L1270.2 1953.4M1285.5 1955.9L1269.4 1955.9M1285.5 1957.6L1269.4 1957.6M1269.4 1955.9L1269.4 1957.6M1270.2 1952.1L1267.9 1952.1M1269.4 1956.8L1267.9 1956.8M1267.9 1952.1L1267.9 1956.8M1270.2 1943.1L1266.5 1943.1M1267.9 1954.4L1266.5 1954.4M1266.5 1943.1L1266.5 1954.4M1285.5 1959.3L1271.2 1959.3M1285.5 1961L1271.2 1961M1271.2 1959.3L1271.2 1961M1285.5 1962.7L1271.4 1962.7M1285.5 1964.4L1271.4 1964.4M1271.4 1962.7L1271.4 1964.4M1285.5 1967.8L1271.5 1967.8M1285.5 1969.5L1271.5 1969.5M1271.5 1967.8L1271.5 1969.5M1285.5 1966.1L1271.4 1966.1M1271.5 1968.7L1271.4 1968.7M1271.4 1966.1L1271.4 1968.7M1271.4 1963.6L1271.3 1963.6M1271.4 1967.4L1271.3 1967.4M1271.3 1963.6L1271.3 1967.4M1271.2 1960.2L1271 1960.2M1271.3 1965.5L1271 1965.5M1271 1960.2L1271 1965.5M1285.5 1971.2L1270.2 1971.2M1285.5 1972.9L1270.2 1972.9M1270.2 1971.2L1270.2 1972.9M1285.5 1976.3L1271.4 1976.3M1285.5 1978L1271.4 1978M1271.4 1976.3L1271.4 1978M1285.5 1974.6L1271.3 1974.6M1271.4 1977.2L1271.3 1977.2M1271.3 1974.6L1271.3 1977.2M1285.5 1979.7L1271.2 1979.7M1285.5 1981.4L1271.2 1981.4M1271.2 1979.7L1271.2 1981.4M1271.3 1975.9L1271 1975.9M1271.2 1980.6L1271 1980.6M1271 1975.9L1271 1980.6M1270.2 1972.1L1270 1972.1M1271 1978.3L1270 1978.3M1270 1972.1L1270 1978.3M1271 1962.8L1269.7 1962.8M1270 1975.2L1269.7 1975.2M1269.7 1962.8L1269.7 1975.2M1285.5 1983.1L1271.2 1983.1M1285.5 1984.8L1271.2 1984.8M1271.2 1983.1L1271.2 1984.8M1285.5 1986.5L1271.3 1986.5M1285.5 1988.2L1271.3 1988.2M1271.3 1986.5L1271.3 1988.2M1271.2 1984L1271.1 1984M1271.3 1987.4L1271.1 1987.4M1271.1 1984L1271.1 1987.4M1271.1 1985.7L1270.7 1985.7M1285.5 1989.9L1270.7 1989.9M1270.7 1985.7L1270.7 1989.9M1285.5 1991.6L1270.7 1991.6M1285.5 1993.4L1270.7 1993.4M1270.7 1991.6L1270.7 1993.4M1270.7 1987.8L1269.4 1987.8M1270.7 1992.5L1269.4 1992.5M1269.4 1987.8L1269.4 1992.5M1269.7 1969L1268.8 1969M1269.4 1990.2L1268.8 1990.2M1268.8 1969L1268.8 1990.2M1266.5 1948.7L1264.6 1948.7M1268.8 1979.6L1264.6 1979.6M1264.6 1948.7L1264.6 1979.6M1285.5 1995.1L1270.2 1995.1M1285.5 1996.8L1270.2 1996.8M1270.2 1995.1L1270.2 1996.8M1285.5 2001.9L1271.3 2001.9M1285.5 2003.6L1271.3 2003.6M1271.3 2001.9L1271.3 2003.6M1285.5 2000.2L1271.1 2000.2M1271.3 2002.7L1271.1 2002.7M1271.1 2000.2L1271.1 2002.7M1285.5 1998.5L1270.6 1998.5M1271.1 2001.4L1270.6 2001.4M1270.6 1998.5L1270.6 2001.4M1270.2 1995.9L1269.1 1995.9M1270.6 1999.9L1269.1 1999.9M1269.1 1995.9L1269.1 1999.9M1285.5 2005.3L1269.1 2005.3M1285.5 2007L1269.1 2007M1269.1 2005.3L1269.1 2007M1269.1 1997.9L1267.5 1997.9M1269.1 2006.1L1267.5 2006.1M1267.5 1997.9L1267.5 2006.1M1285.5 2008.7L1270.3 2008.7M1285.5 2010.4L1270.3 2010.4M1270.3 2008.7L1270.3 2010.4M1285.5 2015.5L1271.3 2015.5M1285.5 2017.2L1271.3 2017.2M1271.3 2015.5L1271.3 2017.2M1285.5 2013.8L1270.7 2013.8M1271.3 2016.3L1270.7 2016.3M1270.7 2013.8L1270.7 2016.3M1285.5 2012.1L1269.1 2012.1M1270.7 2015L1269.1 2015M1269.1 2012.1L1269.1 2015M1270.3 2009.5L1267.6 2009.5M1269.1 2013.6L1267.6 2013.6M1267.6 2009.5L1267.6 2013.6M1285.5 2022.3L1270.9 2022.3M1285.5 2024L1270.9 2024M1270.9 2022.3L1270.9 2024M1285.5 2020.6L1270.1 2020.6M1270.9 2023.1L1270.1 2023.1M1270.1 2020.6L1270.1 2023.1M1285.5 2018.9L1269.6 2018.9M1270.1 2021.8L1269.6 2021.8M1269.6 2018.9L1269.6 2021.8M1267.6 2011.5L1266.1 2011.5M1269.6 2020.4L1266.1 2020.4M1266.1 2011.5L1266.1 2020.4M1267.5 2002L1264.4 2002M1266.1 2015.9L1264.4 2015.9M1264.4 2002L1264.4 2015.9M1264.6 1964.2L1261.8 1964.2M1264.4 2009L1261.8 2009M1261.8 1964.2L1261.8 2009M1259.4 1896L1255.9 1896M1261.8 1986.6L1255.9 1986.6M1255.9 1896L1255.9 1986.6M1285.5 2027.4L1271.2 2027.4M1285.5 2029.1L1271.2 2029.1M1271.2 2027.4L1271.2 2029.1M1271.2 2028.2L1271.2 2028.2M1285.5 2030.8L1271.2 2030.8M1271.2 2028.2L1271.2 2030.8M1285.5 2025.7L1271 2025.7M1271.2 2029.5L1271 2029.5M1271 2025.7L1271 2029.5M1285.5 2032.5L1271.3 2032.5M1285.5 2034.2L1271.3 2034.2M1271.3 2032.5L1271.3 2034.2M1271.3 2033.3L1271.1 2033.3M1285.5 2035.9L1271.1 2035.9M1271.1 2033.3L1271.1 2035.9M1285.5 2037.6L1271.3 2037.6M1285.5 2039.3L1271.3 2039.3M1271.3 2037.6L1271.3 2039.3M1271.3 2038.4L1271.1 2038.4M1285.5 2041L1271.1 2041M1271.1 2038.4L1271.1 2041M1271.1 2034.6L1270.7 2034.6M1271.1 2039.7L1270.7 2039.7M1270.7 2034.6L1270.7 2039.7M1271 2027.6L1270.5 2027.6M1270.7 2037.2L1270.5 2037.2M1270.5 2027.6L1270.5 2037.2M1285.5 2042.7L1271.2 2042.7M1285.5 2044.4L1271.2 2044.4M1271.2 2042.7L1271.2 2044.4M1285.5 2046.1L1271.3 2046.1M1285.5 2047.8L1271.3 2047.8M1271.3 2046.1L1271.3 2047.8M1271.3 2046.9L1271 2046.9M1285.5 2049.5L1271 2049.5M1271 2046.9L1271 2049.5M1271.2 2043.5L1270.9 2043.5M1271 2048.2L1270.9 2048.2M1270.9 2043.5L1270.9 2048.2M1270.5 2032.4L1269.7 2032.4M1270.9 2045.9L1269.7 2045.9M1269.7 2032.4L1269.7 2045.9M1285.5 2051.2L1270.6 2051.2M1285.5 2052.9L1270.6 2052.9M1270.6 2051.2L1270.6 2052.9M1285.5 2056.3L1271 2056.3M1285.5 2058L1271 2058M1271 2056.3L1271 2058M1285.5 2054.6L1270.6 2054.6M1271 2057.2L1270.6 2057.2M1270.6 2054.6L1270.6 2057.2M1270.6 2052L1269.8 2052M1270.6 2055.9L1269.8 2055.9M1269.8 2052L1269.8 2055.9M1285.5 2059.7L1270.9 2059.7M1285.5 2061.4L1270.9 2061.4M1270.9 2059.7L1270.9 2061.4M1285.5 2063.1L1270.8 2063.1M1285.5 2064.8L1270.8 2064.8M1270.8 2063.1L1270.8 2064.8M1270.9 2060.6L1270.7 2060.6M1270.8 2064L1270.7 2064M1270.7 2060.6L1270.7 2064M1285.5 2066.5L1270.6 2066.5M1285.5 2068.2L1270.6 2068.2M1270.6 2066.5L1270.6 2068.2M1270.7 2062.3L1270 2062.3M1270.6 2067.4L1270 2067.4M1270 2062.3L1270 2067.4M1269.8 2054L1269.5 2054M1270 2064.8L1269.5 2064.8M1269.5 2054L1269.5 2064.8M1285.5 2069.9L1270.2 2069.9M1285.5 2071.6L1270.2 2071.6M1270.2 2069.9L1270.2 2071.6M1270.2 2070.8L1269.9 2070.8M1285.5 2073.3L1269.9 2073.3M1269.9 2070.8L1269.9 2073.3M1269.9 2072L1269.4 2072M1285.5 2075L1269.4 2075M1269.4 2072L1269.4 2075M1285.5 2078.4L1271 2078.4M1285.5 2080.1L1271 2080.1M1271 2078.4L1271 2080.1M1285.5 2076.7L1270.9 2076.7M1271 2079.3L1270.9 2079.3M1270.9 2076.7L1270.9 2079.3M1285.5 2083.5L1271.5 2083.5M1285.5 2085.2L1271.5 2085.2M1271.5 2083.5L1271.5 2085.2M1271.5 2084.4L1271.4 2084.4M1285.5 2086.9L1271.4 2086.9M1271.4 2084.4L1271.4 2086.9M1285.5 2088.6L1271.4 2088.6M1285.5 2090.3L1271.4 2090.3M1271.4 2088.6L1271.4 2090.3M1271.4 2085.7L1271.4 2085.7M1271.4 2089.5L1271.4 2089.5M1271.4 2085.7L1271.4 2089.5M1285.5 2081.8L1271.3 2081.8M1271.4 2087.6L1271.3 2087.6M1271.3 2081.8L1271.3 2087.6M1285.5 2092L1271.2 2092M1285.5 2093.7L1271.2 2093.7M1271.2 2092L1271.2 2093.7M1271.3 2084.7L1271.1 2084.7M1271.2 2092.9L1271.1 2092.9M1271.1 2084.7L1271.1 2092.9M1270.9 2078L1270.4 2078M1271.1 2088.8L1270.4 2088.8M1270.4 2078L1270.4 2088.8M1269.4 2073.5L1268.5 2073.5M1270.4 2083.4L1268.5 2083.4M1268.5 2073.5L1268.5 2083.4M1269.5 2059.4L1267.8 2059.4M1268.5 2078.5L1267.8 2078.5M1267.8 2059.4L1267.8 2078.5M1285.5 2097.1L1271.1 2097.1M1285.5 2098.8L1271.1 2098.8M1271.1 2097.1L1271.1 2098.8M1285.5 2095.4L1270.3 2095.4M1271.1 2098L1270.3 2098M1270.3 2095.4L1270.3 2098M1285.5 2100.5L1270.1 2100.5M1285.5 2102.2L1270.1 2102.2M1270.1 2100.5L1270.1 2102.2M1270.3 2096.7L1268.9 2096.7M1270.1 2101.4L1268.9 2101.4M1268.9 2096.7L1268.9 2101.4M1285.5 2103.9L1270.8 2103.9M1285.5 2105.6L1270.8 2105.6M1270.8 2103.9L1270.8 2105.6M1270.8 2104.8L1270.6 2104.8M1285.5 2107.3L1270.6 2107.3M1270.6 2104.8L1270.6 2107.3M1285.5 2109L1271.1 2109M1285.5 2110.7L1271.1 2110.7M1271.1 2109L1271.1 2110.7M1285.5 2112.4L1271.2 2112.4M1285.5 2114.1L1271.2 2114.1M1271.2 2112.4L1271.2 2114.1M1271.1 2109.9L1270.5 2109.9M1271.2 2113.3L1270.5 2113.3M1270.5 2109.9L1270.5 2113.3M1270.6 2106.1L1270.2 2106.1M1270.5 2111.6L1270.2 2111.6M1270.2 2106.1L1270.2 2111.6M1268.9 2099L1267.8 2099M1270.2 2108.8L1267.8 2108.8M1267.8 2099L1267.8 2108.8M1267.8 2068.9L1266.6 2068.9M1267.8 2103.9L1266.6 2103.9M1266.6 2068.9L1266.6 2103.9M1269.7 2039.1L1264.9 2039.1M1266.6 2086.4L1264.9 2086.4M1264.9 2039.1L1264.9 2086.4M1255.9 1941.3L1250.5 1941.3M1264.9 2062.8L1250.5 2062.8M1250.5 1941.3L1250.5 2062.8M1250.5 1800.5L1239.5 1800.5M1250.5 2002L1239.5 2002M1239.5 1800.5L1239.5 2002M1246.5 1721.3L1229 1721.3M1239.5 1901.3L1229 1901.3M1229 1721.3L1229 1901.3M1251.8 1701L1203.3 1701M1229 1811.3L1203.3 1811.3M1203.3 1701L1203.3 1811.3M1285.5 2115.9L1270.5 2115.9M1285.5 2117.6L1270.5 2117.6M1270.5 2115.9L1270.5 2117.6M1285.5 2119.3L1270.2 2119.3M1285.5 2121L1270.2 2121M1270.2 2119.3L1270.2 2121M1285.5 2126.1L1271.4 2126.1M1285.5 2127.8L1271.4 2127.8M1271.4 2126.1L1271.4 2127.8M1285.5 2124.4L1271.3 2124.4M1271.4 2126.9L1271.3 2126.9M1271.3 2124.4L1271.3 2126.9M1285.5 2122.7L1271.2 2122.7M1271.3 2125.6L1271.2 2125.6M1271.2 2122.7L1271.2 2125.6M1271.2 2124.2L1270.1 2124.2M1285.5 2129.5L1270.1 2129.5M1270.1 2124.2L1270.1 2129.5M1270.2 2120.1L1268.9 2120.1M1270.1 2126.8L1268.9 2126.8M1268.9 2120.1L1268.9 2126.8M1270.5 2116.7L1268.1 2116.7M1268.9 2123.5L1268.1 2123.5M1268.1 2116.7L1268.1 2123.5M1285.5 2131.2L1271.2 2131.2M1285.5 2132.9L1271.2 2132.9M1271.2 2131.2L1271.2 2132.9M1271.2 2132L1270.6 2132M1285.5 2134.6L1270.6 2134.6M1270.6 2132L1270.6 2134.6M1285.5 2138L1270.7 2138M1285.5 2139.7L1270.7 2139.7M1270.7 2138L1270.7 2139.7M1285.5 2136.3L1270.4 2136.3M1270.7 2138.8L1270.4 2138.8M1270.4 2136.3L1270.4 2138.8M1270.6 2133.3L1268.9 2133.3M1270.4 2137.6L1268.9 2137.6M1268.9 2133.3L1268.9 2137.6M1268.1 2120.1L1261.7 2120.1M1268.9 2135.4L1261.7 2135.4M1261.7 2120.1L1261.7 2135.4M1285.5 2141.4L1266.4 2141.4M1285.5 2143.1L1266.4 2143.1M1266.4 2141.4L1266.4 2143.1M1266.4 2142.2L1265.4 2142.2M1285.5 2144.8L1265.4 2144.8M1265.4 2142.2L1265.4 2144.8M1285.5 2146.5L1270.5 2146.5M1285.5 2148.2L1270.5 2148.2M1270.5 2146.5L1270.5 2148.2M1270.5 2147.4L1267.4 2147.4M1285.5 2149.9L1267.4 2149.9M1267.4 2147.4L1267.4 2149.9M1285.5 2151.6L1270.9 2151.6M1285.5 2153.3L1270.9 2153.3M1270.9 2151.6L1270.9 2153.3M1270.9 2152.5L1270.6 2152.5M1285.5 2155L1270.6 2155M1270.6 2152.5L1270.6 2155M1270.6 2153.7L1270.2 2153.7M1285.5 2156.7L1270.2 2156.7M1270.2 2153.7L1270.2 2156.7M1270.2 2155.2L1268.7 2155.2M1285.5 2158.4L1268.7 2158.4M1268.7 2155.2L1268.7 2158.4M1267.4 2148.6L1264.3 2148.6M1268.7 2156.8L1264.3 2156.8M1264.3 2148.6L1264.3 2156.8M1265.4 2143.5L1256.5 2143.5M1264.3 2152.7L1256.5 2152.7M1256.5 2143.5L1256.5 2152.7M1285.5 2160.1L1267.8 2160.1M1285.5 2161.8L1267.8 2161.8M1267.8 2160.1L1267.8 2161.8M1285.5 2163.5L1269.6 2163.5M1285.5 2165.2L1269.6 2165.2M1269.6 2163.5L1269.6 2165.2M1267.8 2161L1264.9 2161M1269.6 2164.4L1264.9 2164.4M1264.9 2161L1264.9 2164.4M1285.5 2166.9L1270 2166.9M1285.5 2168.6L1270 2168.6M1270 2166.9L1270 2168.6M1285.5 2173.7L1270 2173.7M1285.5 2175.4L1270 2175.4M1270 2173.7L1270 2175.4M1285.5 2172L1269.7 2172M1270 2174.6L1269.7 2174.6M1269.7 2172L1269.7 2174.6M1269.7 2173.3L1269.1 2173.3M1285.5 2177.1L1269.1 2177.1M1269.1 2173.3L1269.1 2177.1M1285.5 2170.3L1268.5 2170.3M1269.1 2175.2L1268.5 2175.2M1268.5 2170.3L1268.5 2175.2M1270 2167.8L1267.3 2167.8M1268.5 2172.8L1267.3 2172.8M1267.3 2167.8L1267.3 2172.8M1264.9 2162.7L1258.4 2162.7M1267.3 2170.3L1258.4 2170.3M1258.4 2162.7L1258.4 2170.3M1256.5 2148.1L1251.2 2148.1M1258.4 2166.5L1251.2 2166.5M1251.2 2148.1L1251.2 2166.5M1261.7 2127.8L1247.5 2127.8M1251.2 2157.3L1247.5 2157.3M1247.5 2127.8L1247.5 2157.3M1285.5 2178.8L1267.6 2178.8M1285.5 2180.5L1267.6 2180.5M1267.6 2178.8L1267.6 2180.5M1267.6 2179.7L1261.4 2179.7M1285.5 2182.2L1261.4 2182.2M1261.4 2179.7L1261.4 2182.2M1285.5 2185.6L1268.8 2185.6M1285.5 2187.2L1268.8 2187.2M1268.8 2185.6L1268.8 2187.2M1285.5 2183.9L1266.8 2183.9M1268.8 2186.4L1266.8 2186.4M1266.8 2183.9L1266.8 2186.4M1266.8 2185.1L1264.2 2185.1M1285.5 2188.9L1264.2 2188.9M1264.2 2185.1L1264.2 2188.9M1261.4 2180.9L1259.3 2180.9M1264.2 2187L1259.3 2187M1259.3 2180.9L1259.3 2187M1285.5 2190.6L1265.9 2190.6M1285.5 2192.3L1265.9 2192.3M1265.9 2190.6L1265.9 2192.3M1285.5 2194L1267.5 2194M1285.5 2195.6L1267.5 2195.6M1267.5 2194L1267.5 2195.6M1265.9 2191.4L1261.9 2191.4M1267.5 2194.8L1261.9 2194.8M1261.9 2191.4L1261.9 2194.8M1259.3 2184L1253.4 2184M1261.9 2193.1L1253.4 2193.1M1253.4 2184L1253.4 2193.1M1285.5 2199L1268.4 2199M1285.5 2200.7L1268.4 2200.7M1268.4 2199L1268.4 2200.7M1285.5 2197.3L1266.5 2197.3M1268.4 2199.8L1266.5 2199.8M1266.5 2197.3L1266.5 2199.8M1266.5 2198.6L1259.5 2198.6M1285.5 2202.4L1259.5 2202.4M1259.5 2198.6L1259.5 2202.4M1285.5 2204L1265.2 2204M1285.5 2205.7L1265.2 2205.7M1265.2 2204L1265.2 2205.7M1285.5 2207.4L1269.4 2207.4M1285.5 2209.1L1269.4 2209.1M1269.4 2207.4L1269.4 2209.1M1285.5 2210.8L1266.1 2210.8M1285.5 2212.5L1266.1 2212.5M1266.1 2210.8L1266.1 2212.5M1269.4 2208.2L1263.4 2208.2M1266.1 2211.6L1263.4 2211.6M1263.4 2208.2L1263.4 2211.6M1265.2 2204.9L1256.4 2204.9M1263.4 2209.9L1256.4 2209.9M1256.4 2204.9L1256.4 2209.9M1259.5 2200.5L1253.6 2200.5M1256.4 2207.4L1253.6 2207.4M1253.6 2200.5L1253.6 2207.4M1253.4 2188.6L1248.2 2188.6M1253.6 2203.9L1248.2 2203.9M1248.2 2188.6L1248.2 2203.9M1285.5 2215.8L1268.6 2215.8M1285.5 2217.5L1268.6 2217.5M1268.6 2215.8L1268.6 2217.5M1285.5 2214.1L1261.7 2214.1M1268.6 2216.7L1261.7 2216.7M1261.7 2214.1L1261.7 2216.7M1285.5 2220.9L1268.5 2220.9M1285.5 2222.5L1268.5 2222.5M1268.5 2220.9L1268.5 2222.5M1285.5 2219.2L1267.3 2219.2M1268.5 2221.7L1267.3 2221.7M1267.3 2219.2L1267.3 2221.7M1285.5 2224.2L1269.6 2224.2M1285.5 2225.9L1269.6 2225.9M1269.6 2224.2L1269.6 2225.9M1267.3 2220.4L1264.1 2220.4M1269.6 2225.1L1264.1 2225.1M1264.1 2220.4L1264.1 2225.1M1285.5 2227.6L1262.1 2227.6M1285.5 2229.3L1262.1 2229.3M1262.1 2227.6L1262.1 2229.3M1285.5 2232.6L1270.4 2232.6M1285.5 2234.3L1270.4 2234.3M1270.4 2232.6L1270.4 2234.3M1285.5 2230.9L1267.5 2230.9M1270.4 2233.5L1267.5 2233.5M1267.5 2230.9L1267.5 2233.5M1285.5 2236L1267 2236M1285.5 2237.7L1267 2237.7M1267 2236L1267 2237.7M1267.5 2232.2L1265.2 2232.2M1267 2236.8L1265.2 2236.8M1265.2 2232.2L1265.2 2236.8M1262.1 2228.4L1260.2 2228.4M1265.2 2234.5L1260.2 2234.5M1260.2 2228.4L1260.2 2234.5M1264.1 2222.7L1258.1 2222.7M1260.2 2231.5L1258.1 2231.5M1258.1 2222.7L1258.1 2231.5M1261.7 2215.4L1247.7 2215.4M1258.1 2227.1L1247.7 2227.1M1247.7 2215.4L1247.7 2227.1M1248.2 2196.2L1236.7 2196.2M1247.7 2221.2L1236.7 2221.2M1236.7 2196.2L1236.7 2221.2M1247.5 2142.5L1233.4 2142.5M1236.7 2208.7L1233.4 2208.7M1233.4 2142.5L1233.4 2208.7M1203.3 1756.1L1168.8 1756.1M1233.4 2175.6L1168.8 2175.6M1168.8 1756.1L1168.8 2175.6"/>
<text x="1885" y="1762.3" font-size="20.3">Cohort</text>
<rect x="1886" y="1781" width="20.5" height="20" fill="#007ba7"/>
<rect x="1886" y="1804" width="20.5" height="20" fill="#fdcd63"/>
<text x="1920" y="1798.3" font-size="20.3">Illumina</text>
<text x="1920" y="1821.3" font-size="20.3">MGI</text>
<text x="1885" y="1863.8" font-size="20.3">Type</text>
<rect x="1886" y="1882.5" width="20.5" height="20" fill="#364e6e"/>
<text x="1920" y="1899.8" font-size="20.3">esophagus</text>
<rect x="1886" y="1905.9" width="20.5" height="20" fill="#6b557a"/>
<text x="1920" y="1923.2" font-size="20.3">liver</text>
<rect x="1886" y="1929.3" width="20.5" height="20" fill="#e4696e"/>
<text x="1920" y="1946.6" font-size="20.3">ovary</text>
<rect x="1886" y="1952.7" width="20.5" height="20" fill="#e8a885"/>
<text x="1920" y="1970" font-size="20.3">pancreas</text>
<defs><linearGradient id="cb1397" x1="0" x2="1" y1="0" y2="0"><stop offset="0" stop-color="#2166ac"/><stop offset="0.03" stop-color="#2166ac"/><stop offset="0.5" stop-color="#f7f7f7"/><stop offset="0.97" stop-color="#b2182b"/><stop offset="1" stop-color="#b2182b"/></linearGradient></defs>
<rect x="1397.6" y="2260.1" width="234.9" height="14.6" rx="1.5" fill="url(#cb1397)"/>
<path d="M1404.7 2260.1L1404.7 2274.7" stroke="#fff" stroke-width="2"/>
<path d="M1404.7 2272.7 1404.7 2288.7 1394.8 2303.7 1394.8 2314.6" fill="none" stroke="#000" stroke-width="2.6" stroke-linejoin="round"/>
<text x="1394.8" y="2334.7" font-size="20" text-anchor="middle">−1e−04</text>
<path d="M1459.9 2260.1L1459.9 2274.7" stroke="#fff" stroke-width="2"/>
<path d="M1459.9 2272.7 1459.9 2288.7 1456.6 2303.7 1456.6 2314.6" fill="none" stroke="#000" stroke-width="2.6" stroke-linejoin="round"/>
<text x="1456.6" y="2334.7" font-size="20" text-anchor="middle">−5e−05</text>
<path d="M1515 2260.1L1515 2274.7" stroke="#fff" stroke-width="2"/>
<path d="M1515 2272.7 1515 2288.7 1517.7 2303.7 1517.7 2314.6" fill="none" stroke="#000" stroke-width="2.6" stroke-linejoin="round"/>
<text x="1517.7" y="2334.7" font-size="20" text-anchor="middle">0</text>
<path d="M1570.4 2260.1L1570.4 2274.7" stroke="#fff" stroke-width="2"/>
<path d="M1570.4 2272.7 1570.4 2288.7 1579.3 2303.7 1579.3 2314.6" fill="none" stroke="#000" stroke-width="2.6" stroke-linejoin="round"/>
<text x="1579.3" y="2334.7" font-size="20" text-anchor="middle">5e−05</text>
<path d="M1625.6 2260.1L1625.6 2274.7" stroke="#fff" stroke-width="2"/>
<path d="M1625.6 2272.7 1625.6 2288.7 1641 2303.7 1641 2314.6" fill="none" stroke="#000" stroke-width="2.6" stroke-linejoin="round"/>
<text x="1641" y="2334.7" font-size="20" text-anchor="middle">1e−04</text>
<text x="-4.5" y="1520.3" font-size="59.5" font-weight="bold">F</text></svg></body></html>
